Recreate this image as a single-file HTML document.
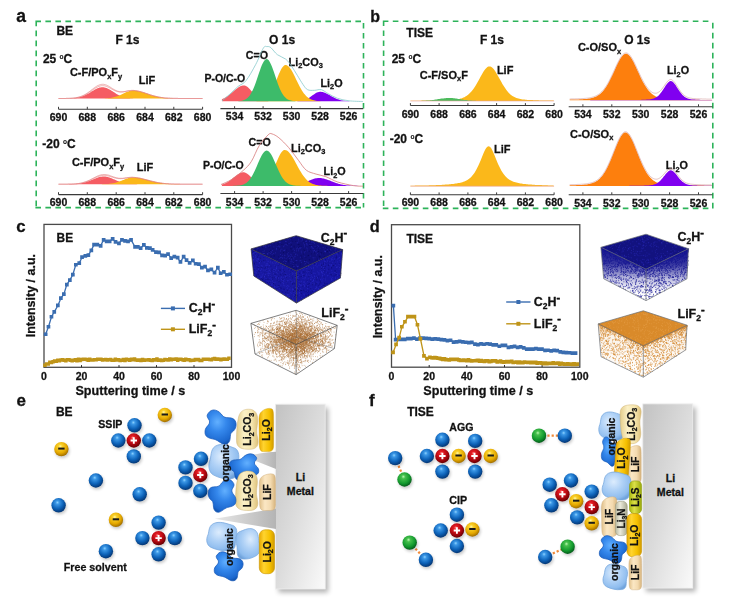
<!DOCTYPE html><html><head><meta charset="utf-8"><style>html,body{margin:0;padding:0;background:#fff;overflow:hidden;width:739px;height:603px;font-family:"Liberation Sans",sans-serif;}svg{display:block}</style></head><body>
<svg width="739" height="603" viewBox="0 0 739 603" font-family="&quot;Liberation Sans&quot;, sans-serif" font-weight="bold">
<style>text{stroke:#111;stroke-width:0.28px;paint-order:stroke}</style><g style="will-change:transform">
<defs>
<radialGradient id="gB" cx="0.42" cy="0.36" r="0.62" fx="0.42" fy="0.3"><stop offset="0" stop-color="#8cd2ff"/><stop offset="0.2" stop-color="#3b97e6"/><stop offset="0.65" stop-color="#0d62b8"/><stop offset="1" stop-color="#053a7a"/></radialGradient>
<radialGradient id="gR" cx="0.42" cy="0.36" r="0.62" fx="0.42" fy="0.3"><stop offset="0" stop-color="#ff8c8c"/><stop offset="0.2" stop-color="#e41c24"/><stop offset="0.65" stop-color="#b30810"/><stop offset="1" stop-color="#6e0004"/></radialGradient>
<radialGradient id="gY" cx="0.42" cy="0.36" r="0.62" fx="0.42" fy="0.3"><stop offset="0" stop-color="#fff6a8"/><stop offset="0.22" stop-color="#fbd22c"/><stop offset="0.7" stop-color="#e4a800"/><stop offset="1" stop-color="#a87400"/></radialGradient>
<radialGradient id="gG" cx="0.42" cy="0.36" r="0.62" fx="0.42" fy="0.3"><stop offset="0" stop-color="#b8f7b0"/><stop offset="0.22" stop-color="#46c04c"/><stop offset="0.7" stop-color="#139a2e"/><stop offset="1" stop-color="#06621c"/></radialGradient>
<linearGradient id="gMetal" x1="0" y1="0" x2="1" y2="1"><stop offset="0" stop-color="#c2c2c2"/><stop offset="0.5" stop-color="#dcdcdc"/><stop offset="1" stop-color="#fafafa"/></linearGradient><filter id="sh2" x="-30%" y="-10%" width="160%" height="120%"><feGaussianBlur stdDeviation="2.6"/></filter>
<filter id="sh" x="-20%" y="-20%" width="140%" height="140%"><feGaussianBlur stdDeviation="1.5"/></filter>
</defs>
<text x="16.3" y="21.8" font-size="17.5" text-anchor="start" fill="#111" ><tspan>a</tspan></text>
<text x="370.2" y="21.9" font-size="16" text-anchor="start" fill="#111" ><tspan>b</tspan></text>
<text x="16.3" y="232.2" font-size="16.8" text-anchor="start" fill="#111" ><tspan>c</tspan></text>
<text x="369.8" y="232.2" font-size="16.3" text-anchor="start" fill="#111" ><tspan>d</tspan></text>
<text x="16.4" y="406" font-size="17" text-anchor="start" fill="#111" ><tspan>e</tspan></text>
<text x="369" y="406.1" font-size="17" text-anchor="start" fill="#111" ><tspan>f</tspan></text>
<path d="M35.400000000000006,21.4 L363.5,21.4 M36.2,20.599999999999998 L36.2,207.6 M35.400000000000006,207.6 L363.5,207.6 M363.5,22.9 L363.5,207.6" fill="none" stroke="#2db35a" stroke-width="1.6" stroke-dasharray="5.6 4.4"/>
<path d="M382.8,21.3 L712.8,21.3 M383.6,20.5 L383.6,208.4 M382.8,208.4 L712.8,208.4 M712.8,22.8 L712.8,208.4" fill="none" stroke="#2db35a" stroke-width="1.6" stroke-dasharray="5.6 4.4"/>
<text x="56.4" y="34.6" font-size="12" text-anchor="start" fill="#111" ><tspan>BE</tspan></text>
<text x="115.4" y="44" font-size="12" text-anchor="start" fill="#111" ><tspan>F 1s</tspan></text>
<text x="269.1" y="44" font-size="12" text-anchor="start" fill="#111" ><tspan>O 1s</tspan></text>
<text x="42.9" y="63" font-size="12" text-anchor="start" fill="#111" ><tspan>25 </tspan><tspan dy="-3.60" font-size="6.60" style="stroke-width:0.1px">o</tspan><tspan dy="3.60">C</tspan></text>
<text x="69.9" y="76.2" font-size="11" text-anchor="start" fill="#111" ><tspan>C-F/PO</tspan><tspan dy="2.42" font-size="7.48">x</tspan><tspan dy="-2.42">F</tspan><tspan dy="2.42" font-size="7.48">y</tspan></text>
<text x="138.7" y="84.2" font-size="11" text-anchor="start" fill="#111" ><tspan>LiF</tspan></text>
<text x="204.4" y="82.2" font-size="10.5" text-anchor="start" fill="#111" ><tspan>P-O/C-O</tspan></text>
<text x="245.8" y="59.3" font-size="10.7" text-anchor="start" fill="#111" ><tspan>C=O</tspan></text>
<text x="288.5" y="65.5" font-size="10.9" text-anchor="start" fill="#111" ><tspan>Li</tspan><tspan dy="2.40" font-size="7.41">2</tspan><tspan dy="-2.40">CO</tspan><tspan dy="2.40" font-size="7.41">3</tspan></text>
<text x="320.5" y="87" font-size="10.8" text-anchor="start" fill="#111" ><tspan>Li</tspan><tspan dy="2.38" font-size="7.34">2</tspan><tspan dy="-2.38">O</tspan></text>
<text x="42.3" y="147.9" font-size="12" text-anchor="start" fill="#111" ><tspan>-20 </tspan><tspan dy="-3.60" font-size="6.60" style="stroke-width:0.1px">o</tspan><tspan dy="3.60">C</tspan></text>
<text x="71.9" y="166.4" font-size="11" text-anchor="start" fill="#111" ><tspan>C-F/PO</tspan><tspan dy="2.42" font-size="7.48">x</tspan><tspan dy="-2.42">F</tspan><tspan dy="2.42" font-size="7.48">y</tspan></text>
<text x="136.7" y="170.5" font-size="11" text-anchor="start" fill="#111" ><tspan>LiF</tspan></text>
<text x="202.9" y="168.8" font-size="10.5" text-anchor="start" fill="#111" ><tspan>P-O/C-O</tspan></text>
<text x="248.5" y="146" font-size="10.7" text-anchor="start" fill="#111" ><tspan>C=O</tspan></text>
<text x="291" y="152" font-size="10.9" text-anchor="start" fill="#111" ><tspan>Li</tspan><tspan dy="2.40" font-size="7.41">2</tspan><tspan dy="-2.40">CO</tspan><tspan dy="2.40" font-size="7.41">3</tspan></text>
<text x="323.6" y="175.2" font-size="10.8" text-anchor="start" fill="#111" ><tspan>Li</tspan><tspan dy="2.38" font-size="7.34">2</tspan><tspan dy="-2.38">O</tspan></text>
<path d="M58.5,98.5 L58.5,98.5 59.5,98.5 60.5,98.5 61.5,98.5 62.5,98.5 63.5,98.5 64.5,98.5 65.5,98.5 66.5,98.4 67.5,98.4 68.5,98.4 69.5,98.4 70.5,98.3 71.5,98.3 72.5,98.2 73.5,98.2 74.5,98.1 75.5,97.9 76.5,97.8 77.5,97.6 78.5,97.5 79.5,97.2 80.5,97.0 81.5,96.7 82.5,96.3 83.5,96.0 84.5,95.5 85.5,95.1 86.5,94.6 87.5,94.0 88.5,93.5 89.5,92.9 90.5,92.3 91.5,91.6 92.5,91.0 93.5,90.4 94.5,89.8 95.5,89.3 96.5,88.8 97.5,88.3 98.5,87.9 99.5,87.6 100.5,87.4 101.5,87.2 102.5,87.2 103.5,87.3 104.5,87.4 105.5,87.7 106.5,88.0 107.5,88.4 108.5,88.9 109.5,89.5 110.5,90.0 111.5,90.7 112.5,91.3 113.5,92.0 114.5,92.6 115.5,93.2 116.5,93.9 117.5,94.4 118.5,95.0 119.5,95.5 120.5,95.9 121.5,96.3 122.5,96.7 123.5,97.0 124.5,97.2 125.5,97.5 126.5,97.7 127.5,97.8 128.5,98.0 129.5,98.1 130.5,98.2 131.5,98.3 132.5,98.3 133.5,98.4 134.5,98.4 135.5,98.4 136.5,98.4 137.5,98.5 138.5,98.5 139.5,98.5 140.5,98.5 141.5,98.5 142.5,98.5 143.5,98.5 144.5,98.5 145.5,98.5 146.5,98.5 147.5,98.5 148.5,98.5 149.5,98.5 150.5,98.5 151.5,98.5 152.5,98.5 153.5,98.5 154.5,98.5 155.5,98.5 156.5,98.5 157.5,98.5 158.5,98.5 159.5,98.5 160.5,98.5 161.5,98.5 162.5,98.5 163.5,98.5 164.5,98.5 165.5,98.5 166.5,98.5 167.5,98.5 168.5,98.5 169.5,98.5 170.5,98.5 171.5,98.5 172.5,98.5 173.5,98.5 174.5,98.5 175.5,98.5 176.5,98.5 177.5,98.5 178.5,98.5 179.5,98.5 180.5,98.5 181.5,98.5 182.5,98.5 183.5,98.5 184.5,98.5 185.5,98.5 186.5,98.5 187.5,98.5 188.5,98.5 189.5,98.5 190.5,98.5 191.5,98.5 192.5,98.5 193.5,98.5 194.5,98.5 195.5,98.5 196.5,98.5 197.5,98.5 198.5,98.5 199.5,98.5 200.5,98.5 201.5,98.5 202.5,98.5 L202.6,98.5 Z" fill="#f55c63"/>
<path d="M58.5,98.5 L58.5,98.5 59.5,98.5 60.5,98.5 61.5,98.5 62.5,98.5 63.5,98.5 64.5,98.5 65.5,98.5 66.5,98.5 67.5,98.5 68.5,98.5 69.5,98.5 70.5,98.5 71.5,98.5 72.5,98.5 73.5,98.5 74.5,98.5 75.5,98.5 76.5,98.5 77.5,98.5 78.5,98.5 79.5,98.5 80.5,98.5 81.5,98.5 82.5,98.5 83.5,98.5 84.5,98.5 85.5,98.5 86.5,98.5 87.5,98.5 88.5,98.5 89.5,98.5 90.5,98.5 91.5,98.5 92.5,98.5 93.5,98.5 94.5,98.5 95.5,98.5 96.5,98.5 97.5,98.5 98.5,98.5 99.5,98.5 100.5,98.5 101.5,98.4 102.5,98.4 103.5,98.4 104.5,98.4 105.5,98.3 106.5,98.3 107.5,98.2 108.5,98.1 109.5,98.0 110.5,97.9 111.5,97.7 112.5,97.6 113.5,97.3 114.5,97.1 115.5,96.8 116.5,96.5 117.5,96.2 118.5,95.8 119.5,95.4 120.5,94.9 121.5,94.5 122.5,94.0 123.5,93.5 124.5,93.0 125.5,92.6 126.5,92.1 127.5,91.7 128.5,91.4 129.5,91.1 130.5,90.9 131.5,90.7 132.5,90.6 133.5,90.6 134.5,90.6 135.5,90.7 136.5,90.8 137.5,91.0 138.5,91.2 139.5,91.4 140.5,91.6 141.5,91.9 142.5,92.2 143.5,92.5 144.5,92.8 145.5,93.2 146.5,93.5 147.5,93.8 148.5,94.2 149.5,94.5 150.5,94.9 151.5,95.2 152.5,95.5 153.5,95.8 154.5,96.0 155.5,96.3 156.5,96.5 157.5,96.8 158.5,97.0 159.5,97.2 160.5,97.3 161.5,97.5 162.5,97.6 163.5,97.8 164.5,97.9 165.5,98.0 166.5,98.0 167.5,98.1 168.5,98.2 169.5,98.2 170.5,98.3 171.5,98.3 172.5,98.3 173.5,98.4 174.5,98.4 175.5,98.4 176.5,98.4 177.5,98.4 178.5,98.5 179.5,98.5 180.5,98.5 181.5,98.5 182.5,98.5 183.5,98.5 184.5,98.5 185.5,98.5 186.5,98.5 187.5,98.5 188.5,98.5 189.5,98.5 190.5,98.5 191.5,98.5 192.5,98.5 193.5,98.5 194.5,98.5 195.5,98.5 196.5,98.5 197.5,98.5 198.5,98.5 199.5,98.5 200.5,98.5 201.5,98.5 202.5,98.5 L202.6,98.5 Z" fill="#fbb81a"/>
<path d="M58.5,98.5 L59.5,98.5 60.5,98.5 61.5,98.5 62.5,98.5 63.5,98.5 64.5,98.5 65.5,98.5 66.5,98.4 67.5,98.4 68.5,98.4 69.5,98.3 70.5,98.3 71.5,98.2 72.5,98.2 73.5,98.1 74.5,97.9 75.5,97.8 76.5,97.6 77.5,97.4 78.5,97.2 79.5,96.9 80.5,96.6 81.5,96.2 82.5,95.8 83.5,95.3 84.5,94.8 85.5,94.2 86.5,93.6 87.5,92.9 88.5,92.2 89.5,91.5 90.5,90.7 91.5,89.9 92.5,89.2 93.5,88.4 94.5,87.7 95.5,87.0 96.5,86.3 97.5,85.7 98.5,85.3 99.5,84.9 100.5,84.6 101.5,84.4 102.5,84.3 103.5,84.3 104.5,84.5 105.5,84.8 106.5,85.1 107.5,85.6 108.5,86.1 109.5,86.7 110.5,87.3 111.5,88.0 112.5,88.6 113.5,89.2 114.5,89.7 115.5,90.3 116.5,90.7 117.5,91.1 118.5,91.4 119.5,91.6 120.5,91.7 121.5,91.7 122.5,91.7 123.5,91.6 124.5,91.5 125.5,91.3 126.5,91.1 127.5,90.9 128.5,90.7 129.5,90.6 130.5,90.5 131.5,90.4 132.5,90.4 133.5,90.4 134.5,90.5 135.5,90.6 136.5,90.8 137.5,90.9 138.5,91.1 139.5,91.4 140.5,91.6 141.5,91.9 142.5,92.2 143.5,92.5 144.5,92.8 145.5,93.2 146.5,93.5 147.5,93.8 148.5,94.2 149.5,94.5 150.5,94.9 151.5,95.2 152.5,95.5 153.5,95.8 154.5,96.0 155.5,96.3 156.5,96.5 157.5,96.8 158.5,97.0 159.5,97.2 160.5,97.3 161.5,97.5 162.5,97.6 163.5,97.8 164.5,97.9 165.5,98.0 166.5,98.0 167.5,98.1 168.5,98.2 169.5,98.2 170.5,98.3 171.5,98.3 172.5,98.3 173.5,98.4 174.5,98.4 175.5,98.4 176.5,98.4 177.5,98.4 178.5,98.5 179.5,98.5 180.5,98.5 181.5,98.5 182.5,98.5 183.5,98.5 184.5,98.5 185.5,98.5 186.5,98.5 187.5,98.5 188.5,98.5 189.5,98.5 190.5,98.5 191.5,98.5 192.5,98.5 193.5,98.5 194.5,98.5 195.5,98.5 196.5,98.5 197.5,98.5 198.5,98.5 199.5,98.5 200.5,98.5 201.5,98.5 202.5,98.5" fill="none" stroke="#e07a7a" stroke-width="0.6"/>
<path d="M58.5,98.5 L59.5,98.5 60.5,98.5 61.5,98.5 62.5,98.5 63.5,98.5 64.5,98.5 65.5,98.5 66.5,98.4 67.5,98.4 68.5,98.4 69.5,98.4 70.5,98.3 71.5,98.3 72.5,98.2 73.5,98.1 74.5,98.0 75.5,97.9 76.5,97.7 77.5,97.5 78.5,97.3 79.5,97.1 80.5,96.8 81.5,96.4 82.5,96.1 83.5,95.6 84.5,95.2 85.5,94.6 86.5,94.1 87.5,93.5 88.5,92.8 89.5,92.1 90.5,91.5 91.5,90.8 92.5,90.1 93.5,89.4 94.5,88.7 95.5,88.1 96.5,87.5 97.5,87.0 98.5,86.5 99.5,86.2 100.5,85.9 101.5,85.7 102.5,85.7 103.5,85.7 104.5,85.8 105.5,86.1 106.5,86.4 107.5,86.8 108.5,87.3 109.5,87.8 110.5,88.3 111.5,88.9 112.5,89.5 113.5,90.0 114.5,90.5 115.5,90.9 116.5,91.3 117.5,91.6 118.5,91.8 119.5,92.0 120.5,92.1 121.5,92.1 122.5,92.0 123.5,91.9 124.5,91.7 125.5,91.5 126.5,91.3 127.5,91.1 128.5,90.9 129.5,90.8 130.5,90.7 131.5,90.6 132.5,90.6 133.5,90.6 134.5,90.7 135.5,90.8 136.5,90.9 137.5,91.1 138.5,91.3 139.5,91.5 140.5,91.7 141.5,92.0 142.5,92.3 143.5,92.6 144.5,92.9 145.5,93.3 146.5,93.6 147.5,93.9 148.5,94.3 149.5,94.6 150.5,94.9 151.5,95.2 152.5,95.5 153.5,95.8 154.5,96.1 155.5,96.3 156.5,96.6 157.5,96.8 158.5,97.0 159.5,97.2 160.5,97.4 161.5,97.5 162.5,97.6 163.5,97.8 164.5,97.9 165.5,98.0 166.5,98.1 167.5,98.1 168.5,98.2 169.5,98.2 170.5,98.3 171.5,98.3 172.5,98.4 173.5,98.4 174.5,98.4 175.5,98.4 176.5,98.4 177.5,98.4 178.5,98.5 179.5,98.5 180.5,98.5 181.5,98.5 182.5,98.5 183.5,98.5 184.5,98.5 185.5,98.5 186.5,98.5 187.5,98.5 188.5,98.5 189.5,98.5 190.5,98.5 191.5,98.5 192.5,98.5 193.5,98.5 194.5,98.5 195.5,98.5 196.5,98.5 197.5,98.5 198.5,98.5 199.5,98.5 200.5,98.5 201.5,98.5 202.5,98.5" fill="none" stroke="#e07a7a" stroke-width="0.6"/>
<path d="M58.5,109.2 L202.6,109.2" stroke="#3a3a3a" stroke-width="1.1" fill="none"/>
<path d="M58.5,109.2 L58.5,106.8" stroke="#3a3a3a" stroke-width="1" fill="none"/>
<path d="M87.3,109.2 L87.3,106.8" stroke="#3a3a3a" stroke-width="1" fill="none"/>
<path d="M116.2,109.2 L116.2,106.8" stroke="#3a3a3a" stroke-width="1" fill="none"/>
<path d="M145.0,109.2 L145.0,106.8" stroke="#3a3a3a" stroke-width="1" fill="none"/>
<path d="M173.8,109.2 L173.8,106.8" stroke="#3a3a3a" stroke-width="1" fill="none"/>
<path d="M202.6,109.2 L202.6,106.8" stroke="#3a3a3a" stroke-width="1" fill="none"/>
<text x="58.5" y="120.5" font-size="10.5" text-anchor="middle" fill="#111" ><tspan>690</tspan></text>
<text x="87.3" y="120.5" font-size="10.5" text-anchor="middle" fill="#111" ><tspan>688</tspan></text>
<text x="116.2" y="120.5" font-size="10.5" text-anchor="middle" fill="#111" ><tspan>686</tspan></text>
<text x="145.0" y="120.5" font-size="10.5" text-anchor="middle" fill="#111" ><tspan>684</tspan></text>
<text x="173.8" y="120.5" font-size="10.5" text-anchor="middle" fill="#111" ><tspan>682</tspan></text>
<text x="202.6" y="120.5" font-size="10.5" text-anchor="middle" fill="#111" ><tspan>680</tspan></text>
<path d="M221.9,101.3 L221.9,99.2 222.9,98.8 223.9,98.3 224.9,97.8 225.9,97.2 226.9,96.6 227.9,95.9 228.9,95.1 229.9,94.4 230.9,93.5 231.9,92.7 232.9,91.8 233.9,90.9 234.9,90.1 235.9,89.3 236.9,88.5 237.9,87.8 238.9,87.1 239.9,86.6 240.9,86.1 241.9,85.8 242.9,85.6 243.9,85.5 244.9,85.6 245.9,85.9 246.9,86.5 247.9,87.3 248.9,88.2 249.9,89.3 250.9,90.4 251.9,91.6 252.9,92.8 253.9,94.0 254.9,95.1 255.9,96.1 256.9,97.0 257.9,97.8 258.9,98.5 259.9,99.1 260.9,99.6 261.9,100.0 262.9,100.3 263.9,100.6 264.9,100.8 265.9,100.9 266.9,101.0 267.9,101.1 268.9,101.2 269.9,101.2 270.9,101.2 271.9,101.3 272.9,101.3 273.9,101.3 274.9,101.3 275.9,101.3 276.9,101.3 277.9,101.3 278.9,101.3 279.9,101.3 280.9,101.3 281.9,101.3 282.9,101.3 283.9,101.3 284.9,101.3 285.9,101.3 286.9,101.3 287.9,101.3 288.9,101.3 289.9,101.3 290.9,101.3 291.9,101.3 292.9,101.3 293.9,101.3 294.9,101.3 295.9,101.3 296.9,101.3 297.9,101.3 298.9,101.3 299.9,101.3 300.9,101.3 301.9,101.3 302.9,101.3 303.9,101.3 304.9,101.3 305.9,101.3 306.9,101.3 307.9,101.3 308.9,101.3 309.9,101.3 310.9,101.3 311.9,101.3 312.9,101.3 313.9,101.3 314.9,101.3 315.9,101.3 316.9,101.3 317.9,101.3 318.9,101.3 319.9,101.3 320.9,101.3 321.9,101.3 322.9,101.3 323.9,101.3 324.9,101.3 325.9,101.3 326.9,101.3 327.9,101.3 328.9,101.3 329.9,101.3 330.9,101.3 331.9,101.3 332.9,101.3 333.9,101.3 334.9,101.3 335.9,101.3 336.9,101.3 337.9,101.3 338.9,101.3 339.9,101.3 340.9,101.3 341.9,101.3 342.9,101.3 343.9,101.3 344.9,101.3 345.9,101.3 346.9,101.3 347.9,101.3 348.9,101.3 349.9,101.3 350.9,101.3 351.9,101.3 352.9,101.3 353.9,101.3 354.9,101.3 355.9,101.3 356.9,101.3 357.9,101.3 358.9,101.3 359.9,101.3 360.9,101.3 361.9,101.3 362.9,101.3 L363.2,101.3 Z" fill="#f55c63"/>
<path d="M221.9,101.3 L221.9,101.3 222.9,101.3 223.9,101.3 224.9,101.3 225.9,101.3 226.9,101.3 227.9,101.3 228.9,101.3 229.9,101.3 230.9,101.3 231.9,101.3 232.9,101.3 233.9,101.3 234.9,101.3 235.9,101.3 236.9,101.3 237.9,101.3 238.9,101.3 239.9,101.3 240.9,101.3 241.9,101.3 242.9,101.3 243.9,101.3 244.9,101.3 245.9,101.3 246.9,101.3 247.9,101.3 248.9,101.3 249.9,101.3 250.9,101.3 251.9,101.3 252.9,101.3 253.9,101.3 254.9,101.3 255.9,101.3 256.9,101.3 257.9,101.3 258.9,101.3 259.9,101.3 260.9,101.3 261.9,101.3 262.9,101.3 263.9,101.3 264.9,101.3 265.9,101.3 266.9,101.3 267.9,101.3 268.9,101.3 269.9,101.3 270.9,101.3 271.9,101.3 272.9,101.3 273.9,101.3 274.9,101.3 275.9,101.3 276.9,101.3 277.9,101.3 278.9,101.3 279.9,101.3 280.9,101.3 281.9,101.3 282.9,101.3 283.9,101.3 284.9,101.3 285.9,101.3 286.9,101.3 287.9,101.3 288.9,101.3 289.9,101.3 290.9,101.3 291.9,101.3 292.9,101.3 293.9,101.3 294.9,101.2 295.9,101.2 296.9,101.2 297.9,101.1 298.9,101.0 299.9,100.9 300.9,100.8 301.9,100.6 302.9,100.4 303.9,100.1 304.9,99.8 305.9,99.4 306.9,99.0 307.9,98.4 308.9,97.9 309.9,97.2 310.9,96.5 311.9,95.8 312.9,95.1 313.9,94.4 314.9,93.7 315.9,93.1 316.9,92.6 317.9,92.2 318.9,91.9 319.9,91.8 320.9,91.8 321.9,91.9 322.9,92.1 323.9,92.4 324.9,92.8 325.9,93.2 326.9,93.7 327.9,94.2 328.9,94.7 329.9,95.3 330.9,95.9 331.9,96.5 332.9,97.0 333.9,97.5 334.9,98.0 335.9,98.5 336.9,98.9 337.9,99.3 338.9,99.6 339.9,99.9 340.9,100.2 341.9,100.4 342.9,100.6 343.9,100.7 344.9,100.8 345.9,100.9 346.9,101.0 347.9,101.1 348.9,101.1 349.9,101.2 350.9,101.2 351.9,101.2 352.9,101.3 353.9,101.3 354.9,101.3 355.9,101.3 356.9,101.3 357.9,101.3 358.9,101.3 359.9,101.3 360.9,101.3 361.9,101.3 362.9,101.3 L363.2,101.3 Z" fill="#8000f0"/>
<path d="M221.9,101.3 L221.9,101.3 222.9,101.3 223.9,101.3 224.9,101.3 225.9,101.3 226.9,101.3 227.9,101.3 228.9,101.3 229.9,101.3 230.9,101.3 231.9,101.3 232.9,101.3 233.9,101.3 234.9,101.3 235.9,101.3 236.9,101.3 237.9,101.3 238.9,101.3 239.9,101.3 240.9,101.3 241.9,101.3 242.9,101.3 243.9,101.3 244.9,101.3 245.9,101.3 246.9,101.3 247.9,101.3 248.9,101.3 249.9,101.3 250.9,101.3 251.9,101.3 252.9,101.3 253.9,101.2 254.9,101.2 255.9,101.2 256.9,101.1 257.9,101.0 258.9,100.9 259.9,100.8 260.9,100.6 261.9,100.3 262.9,100.0 263.9,99.6 264.9,99.0 265.9,98.3 266.9,97.5 267.9,96.5 268.9,95.3 269.9,93.9 270.9,92.3 271.9,90.5 272.9,88.5 273.9,86.3 274.9,84.0 275.9,81.5 276.9,79.0 277.9,76.5 278.9,74.1 279.9,71.9 280.9,69.8 281.9,68.1 282.9,66.7 283.9,65.7 284.9,65.1 285.9,65.0 286.9,65.3 287.9,65.9 288.9,66.7 289.9,67.9 290.9,69.3 291.9,71.0 292.9,72.8 293.9,74.7 294.9,76.8 295.9,78.9 296.9,81.0 297.9,83.0 298.9,85.0 299.9,86.9 300.9,88.7 301.9,90.4 302.9,92.0 303.9,93.4 304.9,94.6 305.9,95.7 306.9,96.7 307.9,97.5 308.9,98.2 309.9,98.8 310.9,99.3 311.9,99.7 312.9,100.1 313.9,100.3 314.9,100.6 315.9,100.7 316.9,100.9 317.9,101.0 318.9,101.1 319.9,101.1 320.9,101.2 321.9,101.2 322.9,101.2 323.9,101.3 324.9,101.3 325.9,101.3 326.9,101.3 327.9,101.3 328.9,101.3 329.9,101.3 330.9,101.3 331.9,101.3 332.9,101.3 333.9,101.3 334.9,101.3 335.9,101.3 336.9,101.3 337.9,101.3 338.9,101.3 339.9,101.3 340.9,101.3 341.9,101.3 342.9,101.3 343.9,101.3 344.9,101.3 345.9,101.3 346.9,101.3 347.9,101.3 348.9,101.3 349.9,101.3 350.9,101.3 351.9,101.3 352.9,101.3 353.9,101.3 354.9,101.3 355.9,101.3 356.9,101.3 357.9,101.3 358.9,101.3 359.9,101.3 360.9,101.3 361.9,101.3 362.9,101.3 L363.2,101.3 Z" fill="#fbb81a"/>
<path d="M221.9,101.3 L221.9,101.3 222.9,101.3 223.9,101.3 224.9,101.3 225.9,101.3 226.9,101.3 227.9,101.3 228.9,101.3 229.9,101.3 230.9,101.3 231.9,101.3 232.9,101.3 233.9,101.3 234.9,101.3 235.9,101.2 236.9,101.2 237.9,101.2 238.9,101.1 239.9,101.0 240.9,100.9 241.9,100.7 242.9,100.4 243.9,100.1 244.9,99.7 245.9,99.1 246.9,98.4 247.9,97.5 248.9,96.5 249.9,95.2 250.9,93.6 251.9,91.8 252.9,89.8 253.9,87.5 254.9,84.9 255.9,82.2 256.9,79.3 257.9,76.3 258.9,73.3 259.9,70.4 260.9,67.6 261.9,65.1 262.9,62.9 263.9,61.2 264.9,59.9 265.9,59.2 266.9,59.1 267.9,59.6 268.9,60.6 269.9,62.2 270.9,64.2 271.9,66.6 272.9,69.2 273.9,72.1 274.9,75.1 275.9,78.1 276.9,81.0 277.9,83.9 278.9,86.5 279.9,88.9 280.9,91.1 281.9,92.9 282.9,94.6 283.9,96.0 284.9,97.1 285.9,98.1 286.9,98.9 287.9,99.5 288.9,99.9 289.9,100.3 290.9,100.6 291.9,100.8 292.9,100.9 293.9,101.1 294.9,101.1 295.9,101.2 296.9,101.2 297.9,101.3 298.9,101.3 299.9,101.3 300.9,101.3 301.9,101.3 302.9,101.3 303.9,101.3 304.9,101.3 305.9,101.3 306.9,101.3 307.9,101.3 308.9,101.3 309.9,101.3 310.9,101.3 311.9,101.3 312.9,101.3 313.9,101.3 314.9,101.3 315.9,101.3 316.9,101.3 317.9,101.3 318.9,101.3 319.9,101.3 320.9,101.3 321.9,101.3 322.9,101.3 323.9,101.3 324.9,101.3 325.9,101.3 326.9,101.3 327.9,101.3 328.9,101.3 329.9,101.3 330.9,101.3 331.9,101.3 332.9,101.3 333.9,101.3 334.9,101.3 335.9,101.3 336.9,101.3 337.9,101.3 338.9,101.3 339.9,101.3 340.9,101.3 341.9,101.3 342.9,101.3 343.9,101.3 344.9,101.3 345.9,101.3 346.9,101.3 347.9,101.3 348.9,101.3 349.9,101.3 350.9,101.3 351.9,101.3 352.9,101.3 353.9,101.3 354.9,101.3 355.9,101.3 356.9,101.3 357.9,101.3 358.9,101.3 359.9,101.3 360.9,101.3 361.9,101.3 362.9,101.3 L363.2,101.3 Z" fill="#3dbb6a"/>
<path d="M222.0,100.8 C223.3,99.7 227.3,96.4 230.0,94.0 C232.7,91.6 235.3,88.7 238.0,86.5 C240.7,84.3 243.1,84.4 246.0,80.7 C248.9,77.0 252.8,69.9 255.7,64.5 C258.6,59.1 261.4,51.2 263.3,48.2 C265.2,45.2 265.7,46.7 267.0,46.6 C268.3,46.5 269.2,46.4 270.9,47.7 C272.6,49.1 274.9,52.8 277.4,54.7 C279.9,56.6 283.4,57.3 285.8,59.2 C288.2,61.1 289.6,63.4 291.5,66.1 C293.4,68.8 295.4,72.2 297.3,75.3 C299.2,78.4 301.3,82.1 303.0,84.5 C304.7,86.9 305.7,88.7 307.6,89.7 C309.5,90.7 312.2,90.3 314.5,90.3 C316.8,90.3 319.1,89.1 321.4,89.7 C323.7,90.3 325.6,92.3 328.3,93.7 C331.0,95.1 334.1,97.1 337.5,98.3 C340.9,99.5 344.8,100.3 349.0,100.8 C353.2,101.3 360.6,101.4 362.9,101.5" fill="none" stroke="#86c9cc" stroke-width="0.8"/>
<path d="M220.4,108.6 L363.2,108.6" stroke="#3a3a3a" stroke-width="1.1" fill="none"/>
<path d="M234.6,108.6 L234.6,106.19999999999999" stroke="#3a3a3a" stroke-width="1" fill="none"/>
<path d="M263.1,108.6 L263.1,106.19999999999999" stroke="#3a3a3a" stroke-width="1" fill="none"/>
<path d="M291.6,108.6 L291.6,106.19999999999999" stroke="#3a3a3a" stroke-width="1" fill="none"/>
<path d="M320.1,108.6 L320.1,106.19999999999999" stroke="#3a3a3a" stroke-width="1" fill="none"/>
<path d="M348.6,108.6 L348.6,106.19999999999999" stroke="#3a3a3a" stroke-width="1" fill="none"/>
<text x="234.6" y="120.3" font-size="10.5" text-anchor="middle" fill="#111" ><tspan>534</tspan></text>
<text x="263.1" y="120.3" font-size="10.5" text-anchor="middle" fill="#111" ><tspan>532</tspan></text>
<text x="291.6" y="120.3" font-size="10.5" text-anchor="middle" fill="#111" ><tspan>530</tspan></text>
<text x="320.1" y="120.3" font-size="10.5" text-anchor="middle" fill="#111" ><tspan>528</tspan></text>
<text x="348.6" y="120.3" font-size="10.5" text-anchor="middle" fill="#111" ><tspan>526</tspan></text>
<path d="M58.5,184.2 L58.5,184.2 59.5,184.2 60.5,184.2 61.5,184.2 62.5,184.2 63.5,184.2 64.5,184.2 65.5,184.2 66.5,184.2 67.5,184.2 68.5,184.2 69.5,184.1 70.5,184.1 71.5,184.1 72.5,184.1 73.5,184.0 74.5,184.0 75.5,183.9 76.5,183.8 77.5,183.8 78.5,183.7 79.5,183.5 80.5,183.4 81.5,183.2 82.5,183.0 83.5,182.8 84.5,182.5 85.5,182.3 86.5,182.0 87.5,181.6 88.5,181.3 89.5,180.9 90.5,180.5 91.5,180.1 92.5,179.7 93.5,179.2 94.5,178.8 95.5,178.4 96.5,178.0 97.5,177.7 98.5,177.3 99.5,177.1 100.5,176.8 101.5,176.7 102.5,176.6 103.5,176.5 104.5,176.5 105.5,176.6 106.5,176.8 107.5,177.0 108.5,177.2 109.5,177.6 110.5,177.9 111.5,178.3 112.5,178.7 113.5,179.2 114.5,179.6 115.5,180.1 116.5,180.5 117.5,180.9 118.5,181.3 119.5,181.7 120.5,182.0 121.5,182.3 122.5,182.6 123.5,182.9 124.5,183.1 125.5,183.3 126.5,183.5 127.5,183.6 128.5,183.7 129.5,183.8 130.5,183.9 131.5,184.0 132.5,184.0 133.5,184.1 134.5,184.1 135.5,184.1 136.5,184.1 137.5,184.2 138.5,184.2 139.5,184.2 140.5,184.2 141.5,184.2 142.5,184.2 143.5,184.2 144.5,184.2 145.5,184.2 146.5,184.2 147.5,184.2 148.5,184.2 149.5,184.2 150.5,184.2 151.5,184.2 152.5,184.2 153.5,184.2 154.5,184.2 155.5,184.2 156.5,184.2 157.5,184.2 158.5,184.2 159.5,184.2 160.5,184.2 161.5,184.2 162.5,184.2 163.5,184.2 164.5,184.2 165.5,184.2 166.5,184.2 167.5,184.2 168.5,184.2 169.5,184.2 170.5,184.2 171.5,184.2 172.5,184.2 173.5,184.2 174.5,184.2 175.5,184.2 176.5,184.2 177.5,184.2 178.5,184.2 179.5,184.2 180.5,184.2 181.5,184.2 182.5,184.2 183.5,184.2 184.5,184.2 185.5,184.2 186.5,184.2 187.5,184.2 188.5,184.2 189.5,184.2 190.5,184.2 191.5,184.2 192.5,184.2 193.5,184.2 194.5,184.2 195.5,184.2 196.5,184.2 197.5,184.2 198.5,184.2 199.5,184.2 200.5,184.2 201.5,184.2 202.5,184.2 L202.6,184.2 Z" fill="#f55c63"/>
<path d="M58.5,184.2 L58.5,184.2 59.5,184.2 60.5,184.2 61.5,184.2 62.5,184.2 63.5,184.2 64.5,184.2 65.5,184.2 66.5,184.2 67.5,184.2 68.5,184.2 69.5,184.2 70.5,184.2 71.5,184.2 72.5,184.2 73.5,184.2 74.5,184.2 75.5,184.2 76.5,184.2 77.5,184.2 78.5,184.2 79.5,184.2 80.5,184.2 81.5,184.2 82.5,184.2 83.5,184.2 84.5,184.2 85.5,184.2 86.5,184.2 87.5,184.2 88.5,184.2 89.5,184.2 90.5,184.2 91.5,184.2 92.5,184.2 93.5,184.2 94.5,184.2 95.5,184.2 96.5,184.2 97.5,184.2 98.5,184.2 99.5,184.2 100.5,184.2 101.5,184.2 102.5,184.1 103.5,184.1 104.5,184.1 105.5,184.0 106.5,184.0 107.5,183.9 108.5,183.9 109.5,183.8 110.5,183.6 111.5,183.5 112.5,183.3 113.5,183.2 114.5,182.9 115.5,182.7 116.5,182.4 117.5,182.1 118.5,181.8 119.5,181.4 120.5,181.1 121.5,180.7 122.5,180.3 123.5,179.9 124.5,179.5 125.5,179.1 126.5,178.7 127.5,178.4 128.5,178.1 129.5,177.9 130.5,177.7 131.5,177.6 132.5,177.5 133.5,177.5 134.5,177.5 135.5,177.6 136.5,177.7 137.5,177.8 138.5,178.0 139.5,178.1 140.5,178.3 141.5,178.5 142.5,178.8 143.5,179.0 144.5,179.3 145.5,179.5 146.5,179.8 147.5,180.1 148.5,180.3 149.5,180.6 150.5,180.9 151.5,181.1 152.5,181.4 153.5,181.6 154.5,181.8 155.5,182.1 156.5,182.3 157.5,182.5 158.5,182.7 159.5,182.8 160.5,183.0 161.5,183.1 162.5,183.3 163.5,183.4 164.5,183.5 165.5,183.6 166.5,183.7 167.5,183.7 168.5,183.8 169.5,183.9 170.5,183.9 171.5,184.0 172.5,184.0 173.5,184.0 174.5,184.1 175.5,184.1 176.5,184.1 177.5,184.1 178.5,184.1 179.5,184.1 180.5,184.2 181.5,184.2 182.5,184.2 183.5,184.2 184.5,184.2 185.5,184.2 186.5,184.2 187.5,184.2 188.5,184.2 189.5,184.2 190.5,184.2 191.5,184.2 192.5,184.2 193.5,184.2 194.5,184.2 195.5,184.2 196.5,184.2 197.5,184.2 198.5,184.2 199.5,184.2 200.5,184.2 201.5,184.2 202.5,184.2 L202.6,184.2 Z" fill="#fbb81a"/>
<path d="M58.5,184.2 L59.5,184.2 60.5,184.2 61.5,184.2 62.5,184.2 63.5,184.2 64.5,184.2 65.5,184.2 66.5,184.2 67.5,184.2 68.5,184.1 69.5,184.1 70.5,184.1 71.5,184.1 72.5,184.0 73.5,184.0 74.5,183.9 75.5,183.8 76.5,183.8 77.5,183.6 78.5,183.5 79.5,183.4 80.5,183.2 81.5,183.0 82.5,182.7 83.5,182.4 84.5,182.1 85.5,181.8 86.5,181.4 87.5,181.0 88.5,180.5 89.5,180.1 90.5,179.6 91.5,179.0 92.5,178.5 93.5,178.0 94.5,177.5 95.5,177.0 96.5,176.5 97.5,176.0 98.5,175.6 99.5,175.3 100.5,175.0 101.5,174.7 102.5,174.6 103.5,174.5 104.5,174.5 105.5,174.5 106.5,174.7 107.5,174.9 108.5,175.1 109.5,175.4 110.5,175.8 111.5,176.2 112.5,176.5 113.5,176.9 114.5,177.2 115.5,177.5 116.5,177.8 117.5,178.0 118.5,178.2 119.5,178.3 120.5,178.3 121.5,178.3 122.5,178.3 123.5,178.2 124.5,178.1 125.5,177.9 126.5,177.8 127.5,177.6 128.5,177.5 129.5,177.4 130.5,177.3 131.5,177.3 132.5,177.3 133.5,177.3 134.5,177.4 135.5,177.5 136.5,177.6 137.5,177.8 138.5,177.9 139.5,178.1 140.5,178.3 141.5,178.5 142.5,178.8 143.5,179.0 144.5,179.3 145.5,179.5 146.5,179.8 147.5,180.1 148.5,180.3 149.5,180.6 150.5,180.9 151.5,181.1 152.5,181.4 153.5,181.6 154.5,181.8 155.5,182.1 156.5,182.3 157.5,182.5 158.5,182.7 159.5,182.8 160.5,183.0 161.5,183.1 162.5,183.3 163.5,183.4 164.5,183.5 165.5,183.6 166.5,183.7 167.5,183.7 168.5,183.8 169.5,183.9 170.5,183.9 171.5,184.0 172.5,184.0 173.5,184.0 174.5,184.1 175.5,184.1 176.5,184.1 177.5,184.1 178.5,184.1 179.5,184.1 180.5,184.2 181.5,184.2 182.5,184.2 183.5,184.2 184.5,184.2 185.5,184.2 186.5,184.2 187.5,184.2 188.5,184.2 189.5,184.2 190.5,184.2 191.5,184.2 192.5,184.2 193.5,184.2 194.5,184.2 195.5,184.2 196.5,184.2 197.5,184.2 198.5,184.2 199.5,184.2 200.5,184.2 201.5,184.2 202.5,184.2" fill="none" stroke="#e07a7a" stroke-width="0.6"/>
<path d="M58.5,184.2 L59.5,184.2 60.5,184.2 61.5,184.2 62.5,184.2 63.5,184.2 64.5,184.2 65.5,184.2 66.5,184.2 67.5,184.2 68.5,184.1 69.5,184.1 70.5,184.1 71.5,184.1 72.5,184.0 73.5,184.0 74.5,183.9 75.5,183.9 76.5,183.8 77.5,183.7 78.5,183.6 79.5,183.4 80.5,183.3 81.5,183.1 82.5,182.9 83.5,182.6 84.5,182.3 85.5,182.0 86.5,181.7 87.5,181.3 88.5,180.9 89.5,180.5 90.5,180.0 91.5,179.5 92.5,179.1 93.5,178.6 94.5,178.1 95.5,177.6 96.5,177.2 97.5,176.8 98.5,176.4 99.5,176.1 100.5,175.8 101.5,175.6 102.5,175.5 103.5,175.4 104.5,175.4 105.5,175.5 106.5,175.6 107.5,175.8 108.5,176.0 109.5,176.3 110.5,176.6 111.5,176.9 112.5,177.2 113.5,177.5 114.5,177.8 115.5,178.1 116.5,178.3 117.5,178.4 118.5,178.6 119.5,178.6 120.5,178.7 121.5,178.6 122.5,178.6 123.5,178.4 124.5,178.3 125.5,178.1 126.5,178.0 127.5,177.8 128.5,177.7 129.5,177.5 130.5,177.5 131.5,177.4 132.5,177.4 133.5,177.5 134.5,177.6 135.5,177.6 136.5,177.8 137.5,177.9 138.5,178.1 139.5,178.2 140.5,178.4 141.5,178.6 142.5,178.9 143.5,179.1 144.5,179.4 145.5,179.6 146.5,179.9 147.5,180.1 148.5,180.4 149.5,180.7 150.5,180.9 151.5,181.2 152.5,181.4 153.5,181.7 154.5,181.9 155.5,182.1 156.5,182.3 157.5,182.5 158.5,182.7 159.5,182.9 160.5,183.0 161.5,183.1 162.5,183.3 163.5,183.4 164.5,183.5 165.5,183.6 166.5,183.7 167.5,183.7 168.5,183.8 169.5,183.9 170.5,183.9 171.5,184.0 172.5,184.0 173.5,184.0 174.5,184.1 175.5,184.1 176.5,184.1 177.5,184.1 178.5,184.1 179.5,184.1 180.5,184.2 181.5,184.2 182.5,184.2 183.5,184.2 184.5,184.2 185.5,184.2 186.5,184.2 187.5,184.2 188.5,184.2 189.5,184.2 190.5,184.2 191.5,184.2 192.5,184.2 193.5,184.2 194.5,184.2 195.5,184.2 196.5,184.2 197.5,184.2 198.5,184.2 199.5,184.2 200.5,184.2 201.5,184.2 202.5,184.2" fill="none" stroke="#e07a7a" stroke-width="0.6"/>
<path d="M58.5,194.6 L202.6,194.6" stroke="#3a3a3a" stroke-width="1.1" fill="none"/>
<path d="M58.5,194.6 L58.5,192.2" stroke="#3a3a3a" stroke-width="1" fill="none"/>
<path d="M87.3,194.6 L87.3,192.2" stroke="#3a3a3a" stroke-width="1" fill="none"/>
<path d="M116.2,194.6 L116.2,192.2" stroke="#3a3a3a" stroke-width="1" fill="none"/>
<path d="M145.0,194.6 L145.0,192.2" stroke="#3a3a3a" stroke-width="1" fill="none"/>
<path d="M173.8,194.6 L173.8,192.2" stroke="#3a3a3a" stroke-width="1" fill="none"/>
<path d="M202.6,194.6 L202.6,192.2" stroke="#3a3a3a" stroke-width="1" fill="none"/>
<text x="58.5" y="205.6" font-size="10.5" text-anchor="middle" fill="#111" ><tspan>690</tspan></text>
<text x="87.3" y="205.6" font-size="10.5" text-anchor="middle" fill="#111" ><tspan>688</tspan></text>
<text x="116.2" y="205.6" font-size="10.5" text-anchor="middle" fill="#111" ><tspan>686</tspan></text>
<text x="145.0" y="205.6" font-size="10.5" text-anchor="middle" fill="#111" ><tspan>684</tspan></text>
<text x="173.8" y="205.6" font-size="10.5" text-anchor="middle" fill="#111" ><tspan>682</tspan></text>
<text x="202.6" y="205.6" font-size="10.5" text-anchor="middle" fill="#111" ><tspan>680</tspan></text>
<path d="M221.9,185.9 L221.9,184.6 222.9,184.3 223.9,183.9 224.9,183.5 225.9,183.0 226.9,182.5 227.9,181.9 228.9,181.2 229.9,180.5 230.9,179.8 231.9,179.0 232.9,178.1 233.9,177.3 234.9,176.5 235.9,175.7 236.9,175.0 237.9,174.3 238.9,173.7 239.9,173.2 240.9,172.8 241.9,172.5 242.9,172.3 243.9,172.3 244.9,172.5 245.9,172.9 246.9,173.5 247.9,174.2 248.9,175.1 249.9,176.0 250.9,177.0 251.9,178.1 252.9,179.1 253.9,180.1 254.9,181.0 255.9,181.8 256.9,182.6 257.9,183.2 258.9,183.8 259.9,184.2 260.9,184.6 261.9,184.9 262.9,185.2 263.9,185.4 264.9,185.5 265.9,185.6 266.9,185.7 267.9,185.8 268.9,185.8 269.9,185.8 270.9,185.9 271.9,185.9 272.9,185.9 273.9,185.9 274.9,185.9 275.9,185.9 276.9,185.9 277.9,185.9 278.9,185.9 279.9,185.9 280.9,185.9 281.9,185.9 282.9,185.9 283.9,185.9 284.9,185.9 285.9,185.9 286.9,185.9 287.9,185.9 288.9,185.9 289.9,185.9 290.9,185.9 291.9,185.9 292.9,185.9 293.9,185.9 294.9,185.9 295.9,185.9 296.9,185.9 297.9,185.9 298.9,185.9 299.9,185.9 300.9,185.9 301.9,185.9 302.9,185.9 303.9,185.9 304.9,185.9 305.9,185.9 306.9,185.9 307.9,185.9 308.9,185.9 309.9,185.9 310.9,185.9 311.9,185.9 312.9,185.9 313.9,185.9 314.9,185.9 315.9,185.9 316.9,185.9 317.9,185.9 318.9,185.9 319.9,185.9 320.9,185.9 321.9,185.9 322.9,185.9 323.9,185.9 324.9,185.9 325.9,185.9 326.9,185.9 327.9,185.9 328.9,185.9 329.9,185.9 330.9,185.9 331.9,185.9 332.9,185.9 333.9,185.9 334.9,185.9 335.9,185.9 336.9,185.9 337.9,185.9 338.9,185.9 339.9,185.9 340.9,185.9 341.9,185.9 342.9,185.9 343.9,185.9 344.9,185.9 345.9,185.9 346.9,185.9 347.9,185.9 348.9,185.9 349.9,185.9 350.9,185.9 351.9,185.9 352.9,185.9 353.9,185.9 354.9,185.9 355.9,185.9 356.9,185.9 357.9,185.9 358.9,185.9 359.9,185.9 360.9,185.9 361.9,185.9 362.9,185.9 L363.2,185.9 Z" fill="#f55c63"/>
<path d="M221.9,185.9 L221.9,185.9 222.9,185.9 223.9,185.9 224.9,185.9 225.9,185.9 226.9,185.9 227.9,185.9 228.9,185.9 229.9,185.9 230.9,185.9 231.9,185.9 232.9,185.9 233.9,185.9 234.9,185.9 235.9,185.9 236.9,185.9 237.9,185.9 238.9,185.9 239.9,185.9 240.9,185.9 241.9,185.9 242.9,185.9 243.9,185.9 244.9,185.9 245.9,185.9 246.9,185.9 247.9,185.9 248.9,185.9 249.9,185.9 250.9,185.9 251.9,185.9 252.9,185.9 253.9,185.9 254.9,185.9 255.9,185.9 256.9,185.9 257.9,185.9 258.9,185.9 259.9,185.9 260.9,185.9 261.9,185.9 262.9,185.9 263.9,185.9 264.9,185.9 265.9,185.9 266.9,185.9 267.9,185.9 268.9,185.9 269.9,185.9 270.9,185.9 271.9,185.9 272.9,185.9 273.9,185.9 274.9,185.9 275.9,185.9 276.9,185.9 277.9,185.9 278.9,185.9 279.9,185.9 280.9,185.9 281.9,185.9 282.9,185.9 283.9,185.9 284.9,185.8 285.9,185.8 286.9,185.8 287.9,185.8 288.9,185.7 289.9,185.7 290.9,185.6 291.9,185.5 292.9,185.4 293.9,185.3 294.9,185.2 295.9,185.0 296.9,184.9 297.9,184.7 298.9,184.4 299.9,184.2 300.9,183.9 301.9,183.6 302.9,183.2 303.9,182.9 304.9,182.5 305.9,182.1 306.9,181.6 307.9,181.2 308.9,180.8 309.9,180.3 310.9,179.9 311.9,179.5 312.9,179.2 313.9,178.8 314.9,178.6 315.9,178.3 316.9,178.2 317.9,178.0 318.9,178.0 319.9,178.0 320.9,178.1 321.9,178.2 322.9,178.4 323.9,178.6 324.9,178.9 325.9,179.2 326.9,179.5 327.9,179.9 328.9,180.2 329.9,180.6 330.9,181.0 331.9,181.4 332.9,181.8 333.9,182.2 334.9,182.6 335.9,182.9 336.9,183.3 337.9,183.6 338.9,183.9 339.9,184.1 340.9,184.4 341.9,184.6 342.9,184.8 343.9,185.0 344.9,185.1 345.9,185.2 346.9,185.4 347.9,185.5 348.9,185.5 349.9,185.6 350.9,185.7 351.9,185.7 352.9,185.8 353.9,185.8 354.9,185.8 355.9,185.8 356.9,185.8 357.9,185.9 358.9,185.9 359.9,185.9 360.9,185.9 361.9,185.9 362.9,185.9 L363.2,185.9 Z" fill="#8000f0"/>
<path d="M221.9,185.9 L221.9,185.9 222.9,185.9 223.9,185.9 224.9,185.9 225.9,185.9 226.9,185.9 227.9,185.9 228.9,185.9 229.9,185.9 230.9,185.9 231.9,185.9 232.9,185.9 233.9,185.9 234.9,185.9 235.9,185.9 236.9,185.9 237.9,185.9 238.9,185.9 239.9,185.9 240.9,185.9 241.9,185.9 242.9,185.9 243.9,185.9 244.9,185.9 245.9,185.9 246.9,185.9 247.9,185.9 248.9,185.9 249.9,185.9 250.9,185.9 251.9,185.9 252.9,185.8 253.9,185.8 254.9,185.8 255.9,185.7 256.9,185.6 257.9,185.5 258.9,185.3 259.9,185.1 260.9,184.8 261.9,184.4 262.9,184.0 263.9,183.4 264.9,182.7 265.9,181.8 266.9,180.8 267.9,179.6 268.9,178.2 269.9,176.6 270.9,174.8 271.9,172.8 272.9,170.7 273.9,168.4 274.9,166.1 275.9,163.6 276.9,161.2 277.9,158.9 278.9,156.7 279.9,154.8 280.9,153.1 281.9,151.7 282.9,150.7 283.9,150.1 284.9,150.0 285.9,150.2 286.9,150.6 287.9,151.3 288.9,152.2 289.9,153.4 290.9,154.7 291.9,156.2 292.9,157.8 293.9,159.5 294.9,161.3 295.9,163.2 296.9,165.1 297.9,166.9 298.9,168.7 299.9,170.5 300.9,172.1 301.9,173.7 302.9,175.2 303.9,176.6 304.9,177.8 305.9,178.9 306.9,180.0 307.9,180.9 308.9,181.7 309.9,182.4 310.9,183.0 311.9,183.5 312.9,183.9 313.9,184.3 314.9,184.6 315.9,184.9 316.9,185.1 317.9,185.3 318.9,185.4 319.9,185.5 320.9,185.6 321.9,185.7 322.9,185.7 323.9,185.8 324.9,185.8 325.9,185.8 326.9,185.8 327.9,185.9 328.9,185.9 329.9,185.9 330.9,185.9 331.9,185.9 332.9,185.9 333.9,185.9 334.9,185.9 335.9,185.9 336.9,185.9 337.9,185.9 338.9,185.9 339.9,185.9 340.9,185.9 341.9,185.9 342.9,185.9 343.9,185.9 344.9,185.9 345.9,185.9 346.9,185.9 347.9,185.9 348.9,185.9 349.9,185.9 350.9,185.9 351.9,185.9 352.9,185.9 353.9,185.9 354.9,185.9 355.9,185.9 356.9,185.9 357.9,185.9 358.9,185.9 359.9,185.9 360.9,185.9 361.9,185.9 362.9,185.9 L363.2,185.9 Z" fill="#fbb81a"/>
<path d="M221.9,185.9 L221.9,185.9 222.9,185.9 223.9,185.9 224.9,185.9 225.9,185.9 226.9,185.9 227.9,185.9 228.9,185.9 229.9,185.9 230.9,185.9 231.9,185.9 232.9,185.9 233.9,185.8 234.9,185.8 235.9,185.8 236.9,185.7 237.9,185.6 238.9,185.5 239.9,185.4 240.9,185.2 241.9,185.0 242.9,184.7 243.9,184.3 244.9,183.8 245.9,183.2 246.9,182.4 247.9,181.5 248.9,180.5 249.9,179.2 250.9,177.8 251.9,176.2 252.9,174.4 253.9,172.5 254.9,170.4 255.9,168.2 256.9,165.9 257.9,163.6 258.9,161.3 259.9,159.0 260.9,157.0 261.9,155.1 262.9,153.5 263.9,152.2 264.9,151.3 265.9,150.7 266.9,150.6 267.9,150.9 268.9,151.6 269.9,152.7 270.9,154.1 271.9,155.8 272.9,157.8 273.9,159.9 274.9,162.2 275.9,164.5 276.9,166.8 277.9,169.1 278.9,171.2 279.9,173.3 280.9,175.2 281.9,176.9 282.9,178.4 283.9,179.8 284.9,180.9 285.9,181.9 286.9,182.7 287.9,183.4 288.9,184.0 289.9,184.4 290.9,184.8 291.9,185.1 292.9,185.3 293.9,185.5 294.9,185.6 295.9,185.7 296.9,185.7 297.9,185.8 298.9,185.8 299.9,185.8 300.9,185.9 301.9,185.9 302.9,185.9 303.9,185.9 304.9,185.9 305.9,185.9 306.9,185.9 307.9,185.9 308.9,185.9 309.9,185.9 310.9,185.9 311.9,185.9 312.9,185.9 313.9,185.9 314.9,185.9 315.9,185.9 316.9,185.9 317.9,185.9 318.9,185.9 319.9,185.9 320.9,185.9 321.9,185.9 322.9,185.9 323.9,185.9 324.9,185.9 325.9,185.9 326.9,185.9 327.9,185.9 328.9,185.9 329.9,185.9 330.9,185.9 331.9,185.9 332.9,185.9 333.9,185.9 334.9,185.9 335.9,185.9 336.9,185.9 337.9,185.9 338.9,185.9 339.9,185.9 340.9,185.9 341.9,185.9 342.9,185.9 343.9,185.9 344.9,185.9 345.9,185.9 346.9,185.9 347.9,185.9 348.9,185.9 349.9,185.9 350.9,185.9 351.9,185.9 352.9,185.9 353.9,185.9 354.9,185.9 355.9,185.9 356.9,185.9 357.9,185.9 358.9,185.9 359.9,185.9 360.9,185.9 361.9,185.9 362.9,185.9 L363.2,185.9 Z" fill="#3dbb6a"/>
<path d="M221.0,184.5 C222.8,183.7 228.1,181.8 231.8,179.4 C235.6,177.0 240.2,173.2 243.5,170.2 C246.8,167.2 248.8,165.5 251.4,161.4 C254.0,157.3 256.4,150.1 259.2,145.7 C262.0,141.3 266.0,136.9 268.1,134.9 C270.2,132.9 270.2,133.4 272.0,133.9 C273.8,134.4 276.1,135.5 278.9,137.8 C281.7,140.1 285.4,143.8 288.7,147.6 C292.0,151.4 295.6,156.6 298.5,160.4 C301.4,164.2 303.4,167.9 306.3,170.2 C309.2,172.5 312.8,173.0 316.1,174.1 C319.4,175.2 322.3,175.4 325.9,176.7 C329.5,178.0 333.1,180.5 337.7,182.0 C342.3,183.5 349.2,184.9 353.4,185.6 C357.6,186.3 361.4,186.1 363.0,186.2" fill="none" stroke="#d77a7a" stroke-width="0.8"/>
<path d="M220.4,193.5 L363.2,193.5" stroke="#3a3a3a" stroke-width="1.1" fill="none"/>
<path d="M234.6,193.5 L234.6,191.1" stroke="#3a3a3a" stroke-width="1" fill="none"/>
<path d="M263.1,193.5 L263.1,191.1" stroke="#3a3a3a" stroke-width="1" fill="none"/>
<path d="M291.6,193.5 L291.6,191.1" stroke="#3a3a3a" stroke-width="1" fill="none"/>
<path d="M320.1,193.5 L320.1,191.1" stroke="#3a3a3a" stroke-width="1" fill="none"/>
<path d="M348.6,193.5 L348.6,191.1" stroke="#3a3a3a" stroke-width="1" fill="none"/>
<text x="234.6" y="205.5" font-size="10.5" text-anchor="middle" fill="#111" ><tspan>534</tspan></text>
<text x="263.1" y="205.5" font-size="10.5" text-anchor="middle" fill="#111" ><tspan>532</tspan></text>
<text x="291.6" y="205.5" font-size="10.5" text-anchor="middle" fill="#111" ><tspan>530</tspan></text>
<text x="320.1" y="205.5" font-size="10.5" text-anchor="middle" fill="#111" ><tspan>528</tspan></text>
<text x="348.6" y="205.5" font-size="10.5" text-anchor="middle" fill="#111" ><tspan>526</tspan></text>
<text x="406.3" y="37" font-size="12" text-anchor="start" fill="#111" ><tspan>TISE</tspan></text>
<text x="479.9" y="44.4" font-size="12" text-anchor="start" fill="#111" ><tspan>F 1s</tspan></text>
<text x="624.2" y="43.7" font-size="12" text-anchor="start" fill="#111" ><tspan>O 1s</tspan></text>
<text x="391.7" y="62.6" font-size="12" text-anchor="start" fill="#111" ><tspan>25 </tspan><tspan dy="-3.60" font-size="6.60" style="stroke-width:0.1px">o</tspan><tspan dy="3.60">C</tspan></text>
<text x="419.7" y="78.5" font-size="11" text-anchor="start" fill="#111" ><tspan>C-F/SO</tspan><tspan dy="2.42" font-size="7.48">x</tspan><tspan dy="-2.42">F</tspan></text>
<text x="496.9" y="73.6" font-size="11" text-anchor="start" fill="#111" ><tspan>LiF</tspan></text>
<text x="577.9" y="51.1" font-size="11" text-anchor="start" fill="#111" ><tspan>C-O/SO</tspan><tspan dy="2.42" font-size="7.48">x</tspan></text>
<text x="667" y="74.3" font-size="10.8" text-anchor="start" fill="#111" ><tspan>Li</tspan><tspan dy="2.38" font-size="7.34">2</tspan><tspan dy="-2.38">O</tspan></text>
<text x="389.7" y="142.9" font-size="12" text-anchor="start" fill="#111" ><tspan>-20 </tspan><tspan dy="-3.60" font-size="6.60" style="stroke-width:0.1px">o</tspan><tspan dy="3.60">C</tspan></text>
<text x="494" y="152.6" font-size="11" text-anchor="start" fill="#111" ><tspan>LiF</tspan></text>
<text x="570" y="137.9" font-size="11" text-anchor="start" fill="#111" ><tspan>C-O/SO</tspan><tspan dy="2.42" font-size="7.48">x</tspan></text>
<text x="665.8" y="169.3" font-size="10.8" text-anchor="start" fill="#111" ><tspan>Li</tspan><tspan dy="2.38" font-size="7.34">2</tspan><tspan dy="-2.38">O</tspan></text>
<path d="M410.4,101.0 L410.4,100.7 411.4,100.7 412.4,100.7 413.4,100.7 414.4,100.7 415.4,100.7 416.4,100.7 417.4,100.7 418.4,100.7 419.4,100.7 420.4,100.7 421.4,100.6 422.4,100.6 423.4,100.6 424.4,100.6 425.4,100.6 426.4,100.6 427.4,100.6 428.4,100.6 429.4,100.5 430.4,100.5 431.4,100.5 432.4,100.5 433.4,100.5 434.4,100.5 435.4,100.4 436.4,100.4 437.4,100.4 438.4,100.4 439.4,100.4 440.4,100.3 441.4,100.3 442.4,100.3 443.4,100.3 444.4,100.2 445.4,100.2 446.4,100.1 447.4,100.1 448.4,100.1 449.4,100.0 450.4,100.0 451.4,99.9 452.4,99.8 453.4,99.7 454.4,99.6 455.4,99.5 456.4,99.4 457.4,99.3 458.4,99.1 459.4,98.9 460.4,98.6 461.4,98.4 462.4,98.0 463.4,97.6 464.4,97.2 465.4,96.6 466.4,96.0 467.4,95.3 468.4,94.5 469.4,93.6 470.4,92.6 471.4,91.5 472.4,90.2 473.4,88.9 474.4,87.4 475.4,85.9 476.4,84.2 477.4,82.5 478.4,80.7 479.4,78.9 480.4,77.0 481.4,75.2 482.4,73.5 483.4,71.8 484.4,70.3 485.4,69.0 486.4,67.9 487.4,67.1 488.4,66.6 489.4,66.4 490.4,66.5 491.4,67.0 492.4,67.8 493.4,68.8 494.4,70.1 495.4,71.5 496.4,73.2 497.4,74.9 498.4,76.7 499.4,78.5 500.4,80.3 501.4,82.1 502.4,83.9 503.4,85.5 504.4,87.1 505.4,88.6 506.4,90.0 507.4,91.2 508.4,92.4 509.4,93.4 510.4,94.4 511.4,95.2 512.4,95.9 513.4,96.5 514.4,97.1 515.4,97.5 516.4,97.9 517.4,98.3 518.4,98.6 519.4,98.8 520.4,99.1 521.4,99.2 522.4,99.4 523.4,99.5 524.4,99.6 525.4,99.7 526.4,99.8 527.4,99.9 528.4,99.9 529.4,100.0 530.4,100.1 531.4,100.1 532.4,100.1 533.4,100.2 534.4,100.2 535.4,100.2 536.4,100.3 537.4,100.3 538.4,100.3 539.4,100.4 540.4,100.4 541.4,100.4 542.4,100.4 543.4,100.4 544.4,100.5 545.4,100.5 546.4,100.5 547.4,100.5 548.4,100.5 549.4,100.5 550.4,100.6 551.4,100.6 552.4,100.6 553.4,100.6 L554.1,101.0 Z" fill="#fbb81a"/>
<path d="M410.4,101.0 L410.4,101.0 411.4,101.0 412.4,101.0 413.4,101.0 414.4,101.0 415.4,101.0 416.4,101.0 417.4,101.0 418.4,100.9 419.4,100.9 420.4,100.9 421.4,100.9 422.4,100.8 423.4,100.8 424.4,100.8 425.4,100.7 426.4,100.6 427.4,100.6 428.4,100.5 429.4,100.4 430.4,100.3 431.4,100.2 432.4,100.0 433.4,99.9 434.4,99.8 435.4,99.6 436.4,99.4 437.4,99.3 438.4,99.1 439.4,99.0 440.4,98.8 441.4,98.6 442.4,98.5 443.4,98.4 444.4,98.3 445.4,98.2 446.4,98.1 447.4,98.0 448.4,98.0 449.4,98.0 450.4,98.0 451.4,98.1 452.4,98.1 453.4,98.2 454.4,98.3 455.4,98.5 456.4,98.6 457.4,98.8 458.4,98.9 459.4,99.1 460.4,99.2 461.4,99.4 462.4,99.6 463.4,99.7 464.4,99.9 465.4,100.0 466.4,100.1 467.4,100.3 468.4,100.4 469.4,100.5 470.4,100.5 471.4,100.6 472.4,100.7 473.4,100.7 474.4,100.8 475.4,100.8 476.4,100.9 477.4,100.9 478.4,100.9 479.4,100.9 480.4,100.9 481.4,101.0 482.4,101.0 483.4,101.0 484.4,101.0 485.4,101.0 486.4,101.0 487.4,101.0 488.4,101.0 489.4,101.0 490.4,101.0 491.4,101.0 492.4,101.0 493.4,101.0 494.4,101.0 495.4,101.0 496.4,101.0 497.4,101.0 498.4,101.0 499.4,101.0 500.4,101.0 501.4,101.0 502.4,101.0 503.4,101.0 504.4,101.0 505.4,101.0 506.4,101.0 507.4,101.0 508.4,101.0 509.4,101.0 510.4,101.0 511.4,101.0 512.4,101.0 513.4,101.0 514.4,101.0 515.4,101.0 516.4,101.0 517.4,101.0 518.4,101.0 519.4,101.0 520.4,101.0 521.4,101.0 522.4,101.0 523.4,101.0 524.4,101.0 525.4,101.0 526.4,101.0 527.4,101.0 528.4,101.0 529.4,101.0 530.4,101.0 531.4,101.0 532.4,101.0 533.4,101.0 534.4,101.0 535.4,101.0 536.4,101.0 537.4,101.0 538.4,101.0 539.4,101.0 540.4,101.0 541.4,101.0 542.4,101.0 543.4,101.0 544.4,101.0 545.4,101.0 546.4,101.0 547.4,101.0 548.4,101.0 549.4,101.0 550.4,101.0 551.4,101.0 552.4,101.0 553.4,101.0 L554.1,101.0 Z" fill="#4cbb5c"/>
<path d="M410.4,101 L554.1,101" stroke="#e8a0a0" stroke-width="0.6"/>
<path d="M410.4,105.5 L554.1,105.5" stroke="#3a3a3a" stroke-width="1.1" fill="none"/>
<path d="M410.4,105.5 L410.4,103.1" stroke="#3a3a3a" stroke-width="1" fill="none"/>
<path d="M439.1,105.5 L439.1,103.1" stroke="#3a3a3a" stroke-width="1" fill="none"/>
<path d="M467.9,105.5 L467.9,103.1" stroke="#3a3a3a" stroke-width="1" fill="none"/>
<path d="M496.6,105.5 L496.6,103.1" stroke="#3a3a3a" stroke-width="1" fill="none"/>
<path d="M525.4,105.5 L525.4,103.1" stroke="#3a3a3a" stroke-width="1" fill="none"/>
<path d="M554.1,105.5 L554.1,103.1" stroke="#3a3a3a" stroke-width="1" fill="none"/>
<text x="410.4" y="117.5" font-size="10.5" text-anchor="middle" fill="#111" ><tspan>690</tspan></text>
<text x="439.1" y="117.5" font-size="10.5" text-anchor="middle" fill="#111" ><tspan>688</tspan></text>
<text x="467.9" y="117.5" font-size="10.5" text-anchor="middle" fill="#111" ><tspan>686</tspan></text>
<text x="496.6" y="117.5" font-size="10.5" text-anchor="middle" fill="#111" ><tspan>684</tspan></text>
<text x="525.4" y="117.5" font-size="10.5" text-anchor="middle" fill="#111" ><tspan>682</tspan></text>
<text x="554.1" y="117.5" font-size="10.5" text-anchor="middle" fill="#111" ><tspan>680</tspan></text>
<path d="M569.7,100.2 L569.7,99.6 570.7,99.6 571.7,99.6 572.7,99.6 573.7,99.5 574.7,99.5 575.7,99.5 576.7,99.4 577.7,99.4 578.7,99.4 579.7,99.3 580.7,99.3 581.7,99.2 582.7,99.2 583.7,99.1 584.7,99.0 585.7,99.0 586.7,98.9 587.7,98.7 588.7,98.6 589.7,98.4 590.7,98.2 591.7,98.0 592.7,97.8 593.7,97.4 594.7,97.1 595.7,96.7 596.7,96.2 597.7,95.6 598.7,95.0 599.7,94.2 600.7,93.4 601.7,92.4 602.7,91.4 603.7,90.2 604.7,88.9 605.7,87.5 606.7,85.9 607.7,84.3 608.7,82.5 609.7,80.6 610.7,78.6 611.7,76.5 612.7,74.4 613.7,72.2 614.7,70.0 615.7,67.8 616.7,65.6 617.7,63.6 618.7,61.6 619.7,59.7 620.7,58.1 621.7,56.7 622.7,55.5 623.7,54.6 624.7,54.0 625.7,53.7 626.7,53.8 627.7,54.2 628.7,54.9 629.7,55.9 630.7,57.2 631.7,58.7 632.7,60.5 633.7,62.3 634.7,64.4 635.7,66.5 636.7,68.7 637.7,70.9 638.7,73.1 639.7,75.2 640.7,77.4 641.7,79.4 642.7,81.4 643.7,83.2 644.7,85.0 645.7,86.6 646.7,88.1 647.7,89.5 648.7,90.7 649.7,91.8 650.7,92.8 651.7,93.7 652.7,94.5 653.7,95.2 654.7,95.8 655.7,96.4 656.7,96.8 657.7,97.2 658.7,97.6 659.7,97.9 660.7,98.1 661.7,98.3 662.7,98.5 663.7,98.7 664.7,98.8 665.7,98.9 666.7,99.0 667.7,99.1 668.7,99.1 669.7,99.2 670.7,99.3 671.7,99.3 672.7,99.4 673.7,99.4 674.7,99.4 675.7,99.5 676.7,99.5 677.7,99.5 678.7,99.5 679.7,99.6 680.7,99.6 681.7,99.6 682.7,99.6 683.7,99.6 684.7,99.7 685.7,99.7 686.7,99.7 687.7,99.7 688.7,99.7 689.7,99.7 690.7,99.8 691.7,99.8 692.7,99.8 693.7,99.8 694.7,99.8 695.7,99.8 696.7,99.8 697.7,99.8 698.7,99.8 699.7,99.9 700.7,99.9 701.7,99.9 702.7,99.9 703.7,99.9 704.7,99.9 705.7,99.9 706.7,99.9 707.7,99.9 708.7,99.9 709.7,99.9 710.7,99.9 711.7,99.9 L712.5,100.2 Z" fill="#fd7f0d"/>
<path d="M569.7,100.2 L569.7,100.2 570.7,100.2 571.7,100.2 572.7,100.2 573.7,100.2 574.7,100.2 575.7,100.2 576.7,100.2 577.7,100.2 578.7,100.2 579.7,100.2 580.7,100.2 581.7,100.2 582.7,100.2 583.7,100.2 584.7,100.2 585.7,100.2 586.7,100.2 587.7,100.2 588.7,100.2 589.7,100.2 590.7,100.1 591.7,100.1 592.7,100.1 593.7,100.1 594.7,100.1 595.7,100.1 596.7,100.1 597.7,100.1 598.7,100.1 599.7,100.1 600.7,100.1 601.7,100.1 602.7,100.1 603.7,100.1 604.7,100.1 605.7,100.1 606.7,100.1 607.7,100.1 608.7,100.1 609.7,100.1 610.7,100.1 611.7,100.1 612.7,100.1 613.7,100.1 614.7,100.1 615.7,100.1 616.7,100.1 617.7,100.1 618.7,100.1 619.7,100.1 620.7,100.1 621.7,100.1 622.7,100.1 623.7,100.1 624.7,100.0 625.7,100.0 626.7,100.0 627.7,100.0 628.7,100.0 629.7,100.0 630.7,100.0 631.7,100.0 632.7,100.0 633.7,100.0 634.7,100.0 635.7,99.9 636.7,99.9 637.7,99.9 638.7,99.9 639.7,99.9 640.7,99.9 641.7,99.8 642.7,99.8 643.7,99.8 644.7,99.7 645.7,99.7 646.7,99.6 647.7,99.6 648.7,99.5 649.7,99.4 650.7,99.3 651.7,99.1 652.7,98.8 653.7,98.5 654.7,98.1 655.7,97.6 656.7,97.0 657.7,96.3 658.7,95.4 659.7,94.3 660.7,93.1 661.7,91.8 662.7,90.3 663.7,88.8 664.7,87.2 665.7,85.6 666.7,84.2 667.7,82.9 668.7,81.9 669.7,81.3 670.7,81.0 671.7,81.2 672.7,81.8 673.7,82.7 674.7,83.9 675.7,85.3 676.7,86.9 677.7,88.4 678.7,90.0 679.7,91.5 680.7,92.8 681.7,94.1 682.7,95.2 683.7,96.1 684.7,96.9 685.7,97.5 686.7,98.0 687.7,98.5 688.7,98.8 689.7,99.0 690.7,99.2 691.7,99.4 692.7,99.5 693.7,99.6 694.7,99.6 695.7,99.7 696.7,99.7 697.7,99.8 698.7,99.8 699.7,99.8 700.7,99.9 701.7,99.9 702.7,99.9 703.7,99.9 704.7,99.9 705.7,99.9 706.7,100.0 707.7,100.0 708.7,100.0 709.7,100.0 710.7,100.0 711.7,100.0 L712.5,100.2 Z" fill="#8000f0"/>
<path d="M569.7,99.0 L570.7,99.0 571.7,98.9 572.7,98.9 573.7,98.9 574.7,98.9 575.7,98.8 576.7,98.8 577.7,98.8 578.7,98.7 579.7,98.7 580.7,98.7 581.7,98.6 582.7,98.5 583.7,98.5 584.7,98.4 585.7,98.3 586.7,98.2 587.7,98.1 588.7,98.0 589.7,97.8 590.7,97.6 591.7,97.4 592.7,97.1 593.7,96.8 594.7,96.4 595.7,96.0 596.7,95.5 597.7,94.9 598.7,94.3 599.7,93.6 600.7,92.7 601.7,91.8 602.7,90.7 603.7,89.5 604.7,88.2 605.7,86.8 606.7,85.3 607.7,83.6 608.7,81.8 609.7,79.9 610.7,77.9 611.7,75.8 612.7,73.7 613.7,71.5 614.7,69.3 615.7,67.1 616.7,64.9 617.7,62.8 618.7,60.9 619.7,59.0 620.7,57.4 621.7,55.9 622.7,54.7 623.7,53.8 624.7,53.2 625.7,53.0 626.7,53.0 627.7,53.4 628.7,54.1 629.7,55.1 630.7,56.4 631.7,57.9 632.7,59.6 633.7,61.5 634.7,63.5 635.7,65.6 636.7,67.8 637.7,70.0 638.7,72.2 639.7,74.3 640.7,76.4 641.7,78.4 642.7,80.4 643.7,82.2 644.7,83.9 645.7,85.5 646.7,86.9 647.7,88.2 648.7,89.4 649.7,90.4 650.7,91.3 651.7,92.0 652.7,92.6 653.7,93.0 654.7,93.2 655.7,93.2 656.7,93.1 657.7,92.7 658.7,92.1 659.7,91.4 660.7,90.4 661.7,89.3 662.7,88.0 663.7,86.6 664.7,85.2 665.7,83.7 666.7,82.4 667.7,81.2 668.7,80.3 669.7,79.7 670.7,79.5 671.7,79.7 672.7,80.3 673.7,81.3 674.7,82.5 675.7,84.0 676.7,85.6 677.7,87.2 678.7,88.7 679.7,90.2 680.7,91.6 681.7,92.9 682.7,94.0 683.7,94.9 684.7,95.7 685.7,96.4 686.7,96.9 687.7,97.4 688.7,97.7 689.7,98.0 690.7,98.2 691.7,98.3 692.7,98.5 693.7,98.6 694.7,98.6 695.7,98.7 696.7,98.8 697.7,98.8 698.7,98.8 699.7,98.9 700.7,98.9 701.7,98.9 702.7,99.0 703.7,99.0 704.7,99.0 705.7,99.0 706.7,99.1 707.7,99.1 708.7,99.1 709.7,99.1 710.7,99.1 711.7,99.2" fill="none" stroke="#d8a8a8" stroke-width="0.7"/>
<path d="M568.7,106.7 L712.5,106.7" stroke="#3a3a3a" stroke-width="1.1" fill="none"/>
<path d="M582.9,106.7 L582.9,104.3" stroke="#3a3a3a" stroke-width="1" fill="none"/>
<path d="M611.8,106.7 L611.8,104.3" stroke="#3a3a3a" stroke-width="1" fill="none"/>
<path d="M640.7,106.7 L640.7,104.3" stroke="#3a3a3a" stroke-width="1" fill="none"/>
<path d="M669.6,106.7 L669.6,104.3" stroke="#3a3a3a" stroke-width="1" fill="none"/>
<path d="M698.5,106.7 L698.5,104.3" stroke="#3a3a3a" stroke-width="1" fill="none"/>
<text x="582.9" y="117.8" font-size="10.5" text-anchor="middle" fill="#111" ><tspan>534</tspan></text>
<text x="611.8" y="117.8" font-size="10.5" text-anchor="middle" fill="#111" ><tspan>532</tspan></text>
<text x="640.7" y="117.8" font-size="10.5" text-anchor="middle" fill="#111" ><tspan>530</tspan></text>
<text x="669.6" y="117.8" font-size="10.5" text-anchor="middle" fill="#111" ><tspan>528</tspan></text>
<text x="698.5" y="117.8" font-size="10.5" text-anchor="middle" fill="#111" ><tspan>526</tspan></text>
<path d="M410.4,186.2 L410.4,185.7 411.4,185.7 412.4,185.7 413.4,185.7 414.4,185.7 415.4,185.6 416.4,185.6 417.4,185.6 418.4,185.6 419.4,185.6 420.4,185.6 421.4,185.5 422.4,185.5 423.4,185.5 424.4,185.5 425.4,185.4 426.4,185.4 427.4,185.4 428.4,185.4 429.4,185.3 430.4,185.3 431.4,185.3 432.4,185.3 433.4,185.2 434.4,185.2 435.4,185.2 436.4,185.1 437.4,185.1 438.4,185.0 439.4,185.0 440.4,184.9 441.4,184.9 442.4,184.8 443.4,184.8 444.4,184.7 445.4,184.6 446.4,184.6 447.4,184.5 448.4,184.4 449.4,184.3 450.4,184.2 451.4,184.1 452.4,184.0 453.4,183.9 454.4,183.8 455.4,183.6 456.4,183.5 457.4,183.3 458.4,183.1 459.4,182.9 460.4,182.7 461.4,182.5 462.4,182.2 463.4,181.8 464.4,181.5 465.4,181.0 466.4,180.5 467.4,180.0 468.4,179.3 469.4,178.6 470.4,177.7 471.4,176.7 472.4,175.6 473.4,174.3 474.4,172.9 475.4,171.3 476.4,169.6 477.4,167.6 478.4,165.6 479.4,163.3 480.4,160.9 481.4,158.5 482.4,156.0 483.4,153.6 484.4,151.3 485.4,149.3 486.4,147.7 487.4,146.7 488.4,146.2 489.4,146.4 490.4,147.2 491.4,148.6 492.4,150.5 493.4,152.7 494.4,155.0 495.4,157.5 496.4,160.0 497.4,162.4 498.4,164.7 499.4,166.8 500.4,168.8 501.4,170.7 502.4,172.3 503.4,173.8 504.4,175.1 505.4,176.3 506.4,177.3 507.4,178.2 508.4,179.0 509.4,179.7 510.4,180.3 511.4,180.8 512.4,181.3 513.4,181.7 514.4,182.0 515.4,182.3 516.4,182.6 517.4,182.8 518.4,183.1 519.4,183.3 520.4,183.4 521.4,183.6 522.4,183.7 523.4,183.9 524.4,184.0 525.4,184.1 526.4,184.2 527.4,184.3 528.4,184.4 529.4,184.5 530.4,184.5 531.4,184.6 532.4,184.7 533.4,184.7 534.4,184.8 535.4,184.9 536.4,184.9 537.4,185.0 538.4,185.0 539.4,185.1 540.4,185.1 541.4,185.1 542.4,185.2 543.4,185.2 544.4,185.2 545.4,185.3 546.4,185.3 547.4,185.3 548.4,185.4 549.4,185.4 550.4,185.4 551.4,185.4 552.4,185.5 553.4,185.5 L554.1,186.2 Z" fill="#fbb81a"/>
<path d="M410.4,186.2 L554.1,186.2" stroke="#e8a0a0" stroke-width="0.6"/>
<path d="M410.4,194.8 L554.1,194.8" stroke="#3a3a3a" stroke-width="1.1" fill="none"/>
<path d="M410.4,194.8 L410.4,192.4" stroke="#3a3a3a" stroke-width="1" fill="none"/>
<path d="M439.1,194.8 L439.1,192.4" stroke="#3a3a3a" stroke-width="1" fill="none"/>
<path d="M467.9,194.8 L467.9,192.4" stroke="#3a3a3a" stroke-width="1" fill="none"/>
<path d="M496.6,194.8 L496.6,192.4" stroke="#3a3a3a" stroke-width="1" fill="none"/>
<path d="M525.4,194.8 L525.4,192.4" stroke="#3a3a3a" stroke-width="1" fill="none"/>
<path d="M554.1,194.8 L554.1,192.4" stroke="#3a3a3a" stroke-width="1" fill="none"/>
<text x="410.4" y="206.2" font-size="10.5" text-anchor="middle" fill="#111" ><tspan>690</tspan></text>
<text x="439.1" y="206.2" font-size="10.5" text-anchor="middle" fill="#111" ><tspan>688</tspan></text>
<text x="467.9" y="206.2" font-size="10.5" text-anchor="middle" fill="#111" ><tspan>686</tspan></text>
<text x="496.6" y="206.2" font-size="10.5" text-anchor="middle" fill="#111" ><tspan>684</tspan></text>
<text x="525.4" y="206.2" font-size="10.5" text-anchor="middle" fill="#111" ><tspan>682</tspan></text>
<text x="554.1" y="206.2" font-size="10.5" text-anchor="middle" fill="#111" ><tspan>680</tspan></text>
<path d="M569.7,186.0 L569.7,185.3 570.7,185.3 571.7,185.3 572.7,185.2 573.7,185.2 574.7,185.2 575.7,185.2 576.7,185.1 577.7,185.1 578.7,185.0 579.7,185.0 580.7,184.9 581.7,184.9 582.7,184.8 583.7,184.7 584.7,184.6 585.7,184.5 586.7,184.4 587.7,184.2 588.7,184.1 589.7,183.9 590.7,183.6 591.7,183.3 592.7,183.0 593.7,182.6 594.7,182.2 595.7,181.7 596.7,181.1 597.7,180.4 598.7,179.6 599.7,178.7 600.7,177.6 601.7,176.5 602.7,175.2 603.7,173.8 604.7,172.2 605.7,170.5 606.7,168.7 607.7,166.7 608.7,164.5 609.7,162.3 610.7,160.0 611.7,157.5 612.7,155.0 613.7,152.5 614.7,150.0 615.7,147.5 616.7,145.0 617.7,142.7 618.7,140.5 619.7,138.5 620.7,136.7 621.7,135.2 622.7,134.0 623.7,133.1 624.7,132.6 625.7,132.5 626.7,132.8 627.7,133.4 628.7,134.4 629.7,135.7 630.7,137.4 631.7,139.2 632.7,141.3 633.7,143.6 634.7,146.0 635.7,148.5 636.7,151.0 637.7,153.5 638.7,156.0 639.7,158.5 640.7,160.9 641.7,163.2 642.7,165.4 643.7,167.5 644.7,169.4 645.7,171.2 646.7,172.9 647.7,174.4 648.7,175.7 649.7,177.0 650.7,178.1 651.7,179.0 652.7,179.9 653.7,180.7 654.7,181.3 655.7,181.9 656.7,182.4 657.7,182.8 658.7,183.2 659.7,183.5 660.7,183.7 661.7,184.0 662.7,184.1 663.7,184.3 664.7,184.4 665.7,184.6 666.7,184.7 667.7,184.7 668.7,184.8 669.7,184.9 670.7,185.0 671.7,185.0 672.7,185.0 673.7,185.1 674.7,185.1 675.7,185.2 676.7,185.2 677.7,185.2 678.7,185.3 679.7,185.3 680.7,185.3 681.7,185.3 682.7,185.4 683.7,185.4 684.7,185.4 685.7,185.4 686.7,185.4 687.7,185.4 688.7,185.5 689.7,185.5 690.7,185.5 691.7,185.5 692.7,185.5 693.7,185.5 694.7,185.5 695.7,185.6 696.7,185.6 697.7,185.6 698.7,185.6 699.7,185.6 700.7,185.6 701.7,185.6 702.7,185.6 703.7,185.6 704.7,185.7 705.7,185.7 706.7,185.7 707.7,185.7 708.7,185.7 709.7,185.7 710.7,185.7 711.7,185.7 L712.5,186.0 Z" fill="#fd7f0d"/>
<path d="M569.7,186.0 L569.7,186.0 570.7,186.0 571.7,186.0 572.7,186.0 573.7,186.0 574.7,186.0 575.7,186.0 576.7,186.0 577.7,186.0 578.7,186.0 579.7,186.0 580.7,186.0 581.7,186.0 582.7,186.0 583.7,186.0 584.7,186.0 585.7,186.0 586.7,186.0 587.7,186.0 588.7,186.0 589.7,186.0 590.7,186.0 591.7,186.0 592.7,186.0 593.7,186.0 594.7,186.0 595.7,186.0 596.7,186.0 597.7,186.0 598.7,185.9 599.7,185.9 600.7,185.9 601.7,185.9 602.7,185.9 603.7,185.9 604.7,185.9 605.7,185.9 606.7,185.9 607.7,185.9 608.7,185.9 609.7,185.9 610.7,185.9 611.7,185.9 612.7,185.9 613.7,185.9 614.7,185.9 615.7,185.9 616.7,185.9 617.7,185.9 618.7,185.9 619.7,185.9 620.7,185.9 621.7,185.9 622.7,185.9 623.7,185.9 624.7,185.9 625.7,185.9 626.7,185.9 627.7,185.9 628.7,185.9 629.7,185.8 630.7,185.8 631.7,185.8 632.7,185.8 633.7,185.8 634.7,185.8 635.7,185.8 636.7,185.8 637.7,185.8 638.7,185.8 639.7,185.7 640.7,185.7 641.7,185.7 642.7,185.7 643.7,185.7 644.7,185.6 645.7,185.6 646.7,185.5 647.7,185.5 648.7,185.4 649.7,185.3 650.7,185.2 651.7,185.1 652.7,184.9 653.7,184.6 654.7,184.3 655.7,183.9 656.7,183.4 657.7,182.8 658.7,182.0 659.7,181.2 660.7,180.2 661.7,179.1 662.7,177.9 663.7,176.6 664.7,175.4 665.7,174.1 666.7,172.9 667.7,171.9 668.7,171.0 669.7,170.5 670.7,170.3 671.7,170.4 672.7,170.9 673.7,171.7 674.7,172.7 675.7,173.8 676.7,175.1 677.7,176.4 678.7,177.7 679.7,178.9 680.7,180.0 681.7,181.0 682.7,181.9 683.7,182.6 684.7,183.3 685.7,183.8 686.7,184.2 687.7,184.6 688.7,184.8 689.7,185.0 690.7,185.2 691.7,185.3 692.7,185.4 693.7,185.5 694.7,185.5 695.7,185.6 696.7,185.6 697.7,185.7 698.7,185.7 699.7,185.7 700.7,185.7 701.7,185.7 702.7,185.8 703.7,185.8 704.7,185.8 705.7,185.8 706.7,185.8 707.7,185.8 708.7,185.8 709.7,185.8 710.7,185.8 711.7,185.8 L712.5,186.0 Z" fill="#8000f0"/>
<path d="M569.7,184.7 L570.7,184.7 571.7,184.6 572.7,184.6 573.7,184.6 574.7,184.6 575.7,184.5 576.7,184.5 577.7,184.4 578.7,184.4 579.7,184.4 580.7,184.3 581.7,184.2 582.7,184.2 583.7,184.1 584.7,184.0 585.7,183.9 586.7,183.8 587.7,183.6 588.7,183.4 589.7,183.2 590.7,183.0 591.7,182.7 592.7,182.4 593.7,182.0 594.7,181.5 595.7,181.0 596.7,180.4 597.7,179.7 598.7,178.9 599.7,178.0 600.7,177.0 601.7,175.8 602.7,174.5 603.7,173.1 604.7,171.6 605.7,169.8 606.7,168.0 607.7,166.0 608.7,163.9 609.7,161.6 610.7,159.3 611.7,156.9 612.7,154.4 613.7,151.8 614.7,149.3 615.7,146.8 616.7,144.3 617.7,142.0 618.7,139.8 619.7,137.8 620.7,136.0 621.7,134.5 622.7,133.3 623.7,132.4 624.7,131.9 625.7,131.8 626.7,132.0 627.7,132.7 628.7,133.7 629.7,135.0 630.7,136.6 631.7,138.5 632.7,140.6 633.7,142.8 634.7,145.2 635.7,147.7 636.7,150.2 637.7,152.7 638.7,155.2 639.7,157.7 640.7,160.0 641.7,162.3 642.7,164.5 643.7,166.5 644.7,168.4 645.7,170.2 646.7,171.8 647.7,173.3 648.7,174.6 649.7,175.7 650.7,176.7 651.7,177.5 652.7,178.2 653.7,178.7 654.7,179.0 655.7,179.2 656.7,179.2 657.7,179.0 658.7,178.6 659.7,178.0 660.7,177.3 661.7,176.4 662.7,175.4 663.7,174.3 664.7,173.2 665.7,172.0 666.7,171.0 667.7,170.0 668.7,169.3 669.7,168.8 670.7,168.7 671.7,168.8 672.7,169.4 673.7,170.2 674.7,171.2 675.7,172.4 676.7,173.7 677.7,175.0 678.7,176.3 679.7,177.5 680.7,178.7 681.7,179.7 682.7,180.6 683.7,181.4 684.7,182.1 685.7,182.6 686.7,183.1 687.7,183.4 688.7,183.7 689.7,183.9 690.7,184.1 691.7,184.2 692.7,184.3 693.7,184.4 694.7,184.5 695.7,184.5 696.7,184.6 697.7,184.6 698.7,184.7 699.7,184.7 700.7,184.7 701.7,184.8 702.7,184.8 703.7,184.8 704.7,184.8 705.7,184.9 706.7,184.9 707.7,184.9 708.7,184.9 709.7,184.9 710.7,184.9 711.7,185.0" fill="none" stroke="#d8a8a8" stroke-width="0.7"/>
<path d="M568.7,194.7 L712.5,194.7" stroke="#3a3a3a" stroke-width="1.1" fill="none"/>
<path d="M582.9,194.7 L582.9,192.29999999999998" stroke="#3a3a3a" stroke-width="1" fill="none"/>
<path d="M611.8,194.7 L611.8,192.29999999999998" stroke="#3a3a3a" stroke-width="1" fill="none"/>
<path d="M640.7,194.7 L640.7,192.29999999999998" stroke="#3a3a3a" stroke-width="1" fill="none"/>
<path d="M669.6,194.7 L669.6,192.29999999999998" stroke="#3a3a3a" stroke-width="1" fill="none"/>
<path d="M698.5,194.7 L698.5,192.29999999999998" stroke="#3a3a3a" stroke-width="1" fill="none"/>
<text x="582.9" y="206.6" font-size="10.5" text-anchor="middle" fill="#111" ><tspan>534</tspan></text>
<text x="611.8" y="206.6" font-size="10.5" text-anchor="middle" fill="#111" ><tspan>532</tspan></text>
<text x="640.7" y="206.6" font-size="10.5" text-anchor="middle" fill="#111" ><tspan>530</tspan></text>
<text x="669.6" y="206.6" font-size="10.5" text-anchor="middle" fill="#111" ><tspan>528</tspan></text>
<text x="698.5" y="206.6" font-size="10.5" text-anchor="middle" fill="#111" ><tspan>526</tspan></text>
<rect x="44" y="224.4" width="187.5" height="142.9" fill="none" stroke="#4a4a4a" stroke-width="1.3"/>
<text x="44.0" y="379.6" font-size="10.5" text-anchor="middle" fill="#111" ><tspan>0</tspan></text>
<path d="M81.5,367.3 L81.5,365.1" stroke="#2a2a2a" stroke-width="1"/>
<text x="81.5" y="379.6" font-size="10.5" text-anchor="middle" fill="#111" ><tspan>20</tspan></text>
<path d="M119.0,367.3 L119.0,365.1" stroke="#2a2a2a" stroke-width="1"/>
<text x="119.0" y="379.6" font-size="10.5" text-anchor="middle" fill="#111" ><tspan>40</tspan></text>
<path d="M156.5,367.3 L156.5,365.1" stroke="#2a2a2a" stroke-width="1"/>
<text x="156.5" y="379.6" font-size="10.5" text-anchor="middle" fill="#111" ><tspan>60</tspan></text>
<path d="M194.0,367.3 L194.0,365.1" stroke="#2a2a2a" stroke-width="1"/>
<text x="194.0" y="379.6" font-size="10.5" text-anchor="middle" fill="#111" ><tspan>80</tspan></text>
<text x="231.5" y="379.6" font-size="10.5" text-anchor="middle" fill="#111" ><tspan>100</tspan></text>
<text x="130.4" y="394.6" font-size="12.6" text-anchor="middle" fill="#111" ><tspan>Sputtering time / s</tspan></text>
<text x="56.6" y="242" font-size="11.9" text-anchor="start" fill="#111" ><tspan>BE</tspan></text>
<text x="0" y="0" font-size="12.5" text-anchor="middle" fill="#111" transform="translate(34.8,295.6) rotate(-90)">Intensity / a.u.</text>
<path d="M45.6,334.3 L48.5,326.8 L51.5,316.8 L54.3,311.9 L57.9,305.5 L60.9,298.2 L63.9,294.2 L66.8,284.6 L69.8,280.1 L72.8,274.7 L75.8,264.8 L79.2,263.2 L82.1,257.2 L85.3,255.8 L88.3,255.2 L91.3,250.4 L94.1,244.5 L97.3,244.5 L100.6,245.9 L103.6,239.9 L106.6,241.3 L109.6,241.3 L112.6,238.9 L115.5,241.9 L118.9,243.3 L121.9,239.9 L125.1,240.9 L128.1,241.3 L131.1,239.9 L135.0,246.8 L137.8,246.8 L140.7,248.2 L143.8,244.9 L146.8,247.8 L149.9,248.2 L152.7,249.9 L155.9,252.0 L159.1,252.4 L162.0,255.3 L165.2,255.6 L168.1,254.2 L171.2,258.1 L174.3,256.7 L177.6,257.7 L180.4,262.0 L183.7,256.7 L186.5,260.1 L189.7,263.0 L192.8,260.5 L195.6,263.8 L198.9,264.1 L201.8,267.7 L205.0,266.7 L207.9,270.5 L211.3,269.5 L214.5,272.6 L217.8,267.7 L220.7,273.3 L223.8,271.9 L226.9,274.8 L230.2,274.3" fill="none" stroke="#3a6db0" stroke-width="1.3"/>
<path d="M43.8,332.4h3.7v3.7h-3.7zM46.6,324.9h3.7v3.7h-3.7zM49.6,314.9h3.7v3.7h-3.7zM52.4,310.0h3.7v3.7h-3.7zM56.0,303.6h3.7v3.7h-3.7zM59.0,296.3h3.7v3.7h-3.7zM62.0,292.3h3.7v3.7h-3.7zM65.0,282.8h3.7v3.7h-3.7zM68.0,278.2h3.7v3.7h-3.7zM71.0,272.8h3.7v3.7h-3.7zM74.0,262.9h3.7v3.7h-3.7zM77.4,261.3h3.7v3.7h-3.7zM80.2,255.3h3.7v3.7h-3.7zM83.5,254.0h3.7v3.7h-3.7zM86.5,253.3h3.7v3.7h-3.7zM89.5,248.6h3.7v3.7h-3.7zM92.2,242.7h3.7v3.7h-3.7zM95.5,242.7h3.7v3.7h-3.7zM98.8,244.1h3.7v3.7h-3.7zM101.8,238.1h3.7v3.7h-3.7zM104.8,239.5h3.7v3.7h-3.7zM107.8,239.5h3.7v3.7h-3.7zM110.8,237.1h3.7v3.7h-3.7zM113.7,240.1h3.7v3.7h-3.7zM117.1,241.5h3.7v3.7h-3.7zM120.1,238.1h3.7v3.7h-3.7zM123.2,239.1h3.7v3.7h-3.7zM126.2,239.5h3.7v3.7h-3.7zM129.2,238.1h3.7v3.7h-3.7zM133.2,245.0h3.7v3.7h-3.7zM136.0,245.0h3.7v3.7h-3.7zM138.8,246.3h3.7v3.7h-3.7zM142.0,243.1h3.7v3.7h-3.7zM145.0,246.0h3.7v3.7h-3.7zM148.1,246.3h3.7v3.7h-3.7zM150.8,248.1h3.7v3.7h-3.7zM154.1,250.2h3.7v3.7h-3.7zM157.2,250.6h3.7v3.7h-3.7zM160.2,253.5h3.7v3.7h-3.7zM163.3,253.8h3.7v3.7h-3.7zM166.2,252.3h3.7v3.7h-3.7zM169.3,256.2h3.7v3.7h-3.7zM172.5,254.8h3.7v3.7h-3.7zM175.8,255.8h3.7v3.7h-3.7zM178.6,260.1h3.7v3.7h-3.7zM181.8,254.8h3.7v3.7h-3.7zM184.7,258.2h3.7v3.7h-3.7zM187.8,261.1h3.7v3.7h-3.7zM191.0,258.6h3.7v3.7h-3.7zM193.8,261.9h3.7v3.7h-3.7zM197.1,262.2h3.7v3.7h-3.7zM200.0,265.8h3.7v3.7h-3.7zM203.2,264.8h3.7v3.7h-3.7zM206.1,268.6h3.7v3.7h-3.7zM209.5,267.6h3.7v3.7h-3.7zM212.7,270.8h3.7v3.7h-3.7zM216.0,265.8h3.7v3.7h-3.7zM218.8,271.4h3.7v3.7h-3.7zM222.0,270.0h3.7v3.7h-3.7zM225.1,272.9h3.7v3.7h-3.7zM228.3,272.4h3.7v3.7h-3.7z" fill="#3a6db0"/>
<path d="M45.0,365.3 L46.6,364.0 L48.2,364.0 L49.8,362.4 L51.4,362.6 L53.0,361.8 L54.6,360.9 L56.2,361.3 L57.8,360.3 L59.4,360.7 L61.0,360.0 L62.6,359.9 L64.2,360.3 L65.8,360.8 L67.4,359.6 L69.0,359.7 L70.6,360.3 L72.2,360.7 L73.8,360.1 L75.4,359.8 L77.0,360.7 L78.6,359.2 L80.2,360.5 L81.8,359.5 L83.4,359.3 L85.0,359.2 L86.6,359.5 L88.2,360.3 L89.8,359.3 L91.4,360.0 L93.0,360.0 L94.6,359.6 L96.2,359.9 L97.8,359.1 L99.4,359.1 L101.0,359.3 L102.6,360.1 L104.2,359.7 L105.8,359.5 L107.4,359.9 L109.0,359.7 L110.6,359.5 L112.2,360.3 L113.8,360.1 L115.4,359.4 L117.0,359.9 L118.6,359.8 L120.2,360.4 L121.8,360.2 L123.4,359.5 L125.0,360.6 L126.6,359.2 L128.2,359.7 L129.8,360.2 L131.4,359.2 L133.0,359.8 L134.6,359.1 L136.2,360.1 L137.8,360.2 L139.4,359.9 L141.0,360.4 L142.6,359.5 L144.2,360.1 L145.8,360.0 L147.4,359.9 L149.0,359.7 L150.6,360.3 L152.2,360.5 L153.8,359.8 L155.4,360.1 L157.0,359.1 L158.6,360.1 L160.2,360.0 L161.8,360.6 L163.4,360.3 L165.0,359.5 L166.6,359.6 L168.2,360.1 L169.8,359.0 L171.4,359.7 L173.0,359.3 L174.6,359.2 L176.2,359.1 L177.8,360.2 L179.4,359.2 L181.0,359.4 L182.6,359.6 L184.2,360.4 L185.8,359.1 L187.4,359.7 L189.0,359.9 L190.6,360.4 L192.2,360.3 L193.8,360.4 L195.4,359.4 L197.0,359.7 L198.6,359.6 L200.2,360.4 L201.8,360.5 L203.4,359.2 L205.0,359.2 L206.6,359.3 L208.2,359.2 L209.8,359.5 L211.4,359.6 L213.0,359.1 L214.6,358.6 L216.2,359.2 L217.8,359.1 L219.4,359.3 L221.0,359.9 L222.6,359.4 L224.2,359.0 L225.8,359.2 L227.4,359.2 L229.0,358.1" fill="none" stroke="#bf9418" stroke-width="1.3"/>
<path d="M43.2,363.5h3.5v3.5h-3.5zM44.9,362.3h3.5v3.5h-3.5zM46.5,362.2h3.5v3.5h-3.5zM48.1,360.6h3.5v3.5h-3.5zM49.7,360.8h3.5v3.5h-3.5zM51.3,360.1h3.5v3.5h-3.5zM52.9,359.2h3.5v3.5h-3.5zM54.5,359.6h3.5v3.5h-3.5zM56.1,358.6h3.5v3.5h-3.5zM57.7,359.0h3.5v3.5h-3.5zM59.3,358.2h3.5v3.5h-3.5zM60.9,358.1h3.5v3.5h-3.5zM62.5,358.5h3.5v3.5h-3.5zM64.1,359.1h3.5v3.5h-3.5zM65.7,357.9h3.5v3.5h-3.5zM67.2,357.9h3.5v3.5h-3.5zM68.8,358.5h3.5v3.5h-3.5zM70.4,359.0h3.5v3.5h-3.5zM72.0,358.4h3.5v3.5h-3.5zM73.6,358.0h3.5v3.5h-3.5zM75.2,358.9h3.5v3.5h-3.5zM76.8,357.4h3.5v3.5h-3.5zM78.4,358.7h3.5v3.5h-3.5zM80.0,357.8h3.5v3.5h-3.5zM81.6,357.5h3.5v3.5h-3.5zM83.2,357.5h3.5v3.5h-3.5zM84.8,357.8h3.5v3.5h-3.5zM86.4,358.6h3.5v3.5h-3.5zM88.0,357.6h3.5v3.5h-3.5zM89.6,358.2h3.5v3.5h-3.5zM91.2,358.3h3.5v3.5h-3.5zM92.8,357.9h3.5v3.5h-3.5zM94.4,358.1h3.5v3.5h-3.5zM96.0,357.4h3.5v3.5h-3.5zM97.6,357.4h3.5v3.5h-3.5zM99.2,357.6h3.5v3.5h-3.5zM100.8,358.3h3.5v3.5h-3.5zM102.4,357.9h3.5v3.5h-3.5zM104.0,357.8h3.5v3.5h-3.5zM105.6,358.2h3.5v3.5h-3.5zM107.2,358.0h3.5v3.5h-3.5zM108.8,357.7h3.5v3.5h-3.5zM110.4,358.5h3.5v3.5h-3.5zM112.0,358.4h3.5v3.5h-3.5zM113.6,357.6h3.5v3.5h-3.5zM115.2,358.2h3.5v3.5h-3.5zM116.8,358.1h3.5v3.5h-3.5zM118.4,358.7h3.5v3.5h-3.5zM120.0,358.4h3.5v3.5h-3.5zM121.6,357.7h3.5v3.5h-3.5zM123.2,358.8h3.5v3.5h-3.5zM124.8,357.4h3.5v3.5h-3.5zM126.4,357.9h3.5v3.5h-3.5zM128.0,358.5h3.5v3.5h-3.5zM129.6,357.5h3.5v3.5h-3.5zM131.2,358.0h3.5v3.5h-3.5zM132.8,357.3h3.5v3.5h-3.5zM134.4,358.3h3.5v3.5h-3.5zM136.0,358.5h3.5v3.5h-3.5zM137.6,358.2h3.5v3.5h-3.5zM139.2,358.7h3.5v3.5h-3.5zM140.8,357.8h3.5v3.5h-3.5zM142.4,358.4h3.5v3.5h-3.5zM144.0,358.2h3.5v3.5h-3.5zM145.6,358.2h3.5v3.5h-3.5zM147.2,358.0h3.5v3.5h-3.5zM148.8,358.6h3.5v3.5h-3.5zM150.4,358.8h3.5v3.5h-3.5zM152.0,358.0h3.5v3.5h-3.5zM153.6,358.3h3.5v3.5h-3.5zM155.2,357.3h3.5v3.5h-3.5zM156.8,358.4h3.5v3.5h-3.5zM158.4,358.3h3.5v3.5h-3.5zM160.0,358.8h3.5v3.5h-3.5zM161.6,358.6h3.5v3.5h-3.5zM163.2,357.7h3.5v3.5h-3.5zM164.8,357.9h3.5v3.5h-3.5zM166.4,358.3h3.5v3.5h-3.5zM168.0,357.3h3.5v3.5h-3.5zM169.6,358.0h3.5v3.5h-3.5zM171.2,357.5h3.5v3.5h-3.5zM172.8,357.4h3.5v3.5h-3.5zM174.4,357.3h3.5v3.5h-3.5zM176.0,358.5h3.5v3.5h-3.5zM177.6,357.5h3.5v3.5h-3.5zM179.2,357.6h3.5v3.5h-3.5zM180.8,357.9h3.5v3.5h-3.5zM182.4,358.6h3.5v3.5h-3.5zM184.0,357.4h3.5v3.5h-3.5zM185.6,358.0h3.5v3.5h-3.5zM187.2,358.1h3.5v3.5h-3.5zM188.8,358.7h3.5v3.5h-3.5zM190.4,358.6h3.5v3.5h-3.5zM192.0,358.6h3.5v3.5h-3.5zM193.6,357.7h3.5v3.5h-3.5zM195.2,357.9h3.5v3.5h-3.5zM196.8,357.8h3.5v3.5h-3.5zM198.4,358.7h3.5v3.5h-3.5zM200.0,358.8h3.5v3.5h-3.5zM201.6,357.5h3.5v3.5h-3.5zM203.2,357.5h3.5v3.5h-3.5zM204.8,357.5h3.5v3.5h-3.5zM206.4,357.4h3.5v3.5h-3.5zM208.0,357.8h3.5v3.5h-3.5zM209.6,357.9h3.5v3.5h-3.5zM211.2,357.3h3.5v3.5h-3.5zM212.8,356.8h3.5v3.5h-3.5zM214.4,357.4h3.5v3.5h-3.5zM216.0,357.3h3.5v3.5h-3.5zM217.6,357.6h3.5v3.5h-3.5zM219.2,358.1h3.5v3.5h-3.5zM220.8,357.6h3.5v3.5h-3.5zM222.4,357.3h3.5v3.5h-3.5zM224.0,357.4h3.5v3.5h-3.5zM225.6,357.4h3.5v3.5h-3.5zM227.2,356.4h3.5v3.5h-3.5z" fill="#bf9418"/>
<path d="M160.9,308.4 L185,308.4" stroke="#3a6db0" stroke-width="1.4"/>
<rect x="170.9" y="306.4" width="4" height="4" fill="#3a6db0"/>
<text x="188.7" y="312.4" font-size="12.5" text-anchor="start" fill="#111" ><tspan>C</tspan><tspan dy="2.75" font-size="8.50">2</tspan><tspan dy="-2.75">H</tspan><tspan dy="-5.50" font-size="11.00" style="stroke-width:0.5px">-</tspan></text>
<path d="M160.9,329.3 L185,329.3" stroke="#bf9418" stroke-width="1.4"/>
<rect x="170.9" y="327.3" width="4" height="4" fill="#bf9418"/>
<text x="188.7" y="333.3" font-size="12.5" text-anchor="start" fill="#111" ><tspan>LiF</tspan><tspan dy="2.75" font-size="8.50">2</tspan><tspan dy="-8.25" font-size="11.00" style="stroke-width:0.5px">-</tspan></text>
<rect x="391.5" y="224.7" width="188.29999999999995" height="142.5" fill="none" stroke="#4a4a4a" stroke-width="1.3"/>
<text x="391.5" y="379.5" font-size="10.5" text-anchor="middle" fill="#111" ><tspan>0</tspan></text>
<path d="M429.2,367.2 L429.2,365.0" stroke="#2a2a2a" stroke-width="1"/>
<text x="429.2" y="379.5" font-size="10.5" text-anchor="middle" fill="#111" ><tspan>20</tspan></text>
<path d="M466.8,367.2 L466.8,365.0" stroke="#2a2a2a" stroke-width="1"/>
<text x="466.8" y="379.5" font-size="10.5" text-anchor="middle" fill="#111" ><tspan>40</tspan></text>
<path d="M504.5,367.2 L504.5,365.0" stroke="#2a2a2a" stroke-width="1"/>
<text x="504.5" y="379.5" font-size="10.5" text-anchor="middle" fill="#111" ><tspan>60</tspan></text>
<path d="M542.1,367.2 L542.1,365.0" stroke="#2a2a2a" stroke-width="1"/>
<text x="542.1" y="379.5" font-size="10.5" text-anchor="middle" fill="#111" ><tspan>80</tspan></text>
<text x="579.8" y="379.5" font-size="10.5" text-anchor="middle" fill="#111" ><tspan>100</tspan></text>
<text x="478.3" y="394.5" font-size="12.6" text-anchor="middle" fill="#111" ><tspan>Sputtering time / s</tspan></text>
<text x="406.4" y="242.6" font-size="12" text-anchor="start" fill="#111" ><tspan>TISE</tspan></text>
<text x="0" y="0" font-size="12.5" text-anchor="middle" fill="#111" transform="translate(382.4,296.7) rotate(-90)">Intensity / a.u.</text>
<path d="M393.4,305.6 L395.6,339.5 L398.7,339.3 L401.7,339.5 L404.8,339.3 L407.8,338.6 L410.9,338.6 L413.9,338.1 L417.0,339.0 L420.0,338.0 L423.1,338.0 L426.1,338.3 L429.2,338.5 L432.2,339.1 L435.3,338.9 L438.3,339.1 L441.4,339.7 L444.4,339.8 L447.5,340.6 L450.5,340.3 L453.6,342.1 L456.6,341.9 L459.7,341.4 L462.7,341.8 L465.8,342.3 L468.8,342.6 L471.9,342.4 L474.9,344.0 L478.0,344.6 L481.0,343.9 L484.1,344.2 L487.1,343.8 L490.2,344.1 L493.2,344.8 L496.3,345.0 L499.3,346.3 L502.4,345.3 L505.4,345.4 L508.5,347.3 L511.5,346.9 L514.6,346.4 L517.6,347.4 L520.7,346.8 L523.7,348.0 L526.8,349.1 L529.8,349.2 L532.9,349.1 L535.9,348.6 L539.0,349.1 L542.0,349.0 L545.0,350.4 L548.1,350.3 L551.1,351.0 L554.2,350.5 L557.2,350.6 L560.3,351.9 L563.3,352.5 L566.4,352.5 L569.4,352.7 L572.5,353.0 L575.5,353.2" fill="none" stroke="#3a6db0" stroke-width="1.3"/>
<path d="M391.5,303.8h3.7v3.7h-3.7zM393.8,337.7h3.7v3.7h-3.7zM396.8,337.5h3.7v3.7h-3.7zM399.9,337.6h3.7v3.7h-3.7zM402.9,337.5h3.7v3.7h-3.7zM406.0,336.8h3.7v3.7h-3.7zM409.0,336.8h3.7v3.7h-3.7zM412.1,336.2h3.7v3.7h-3.7zM415.1,337.2h3.7v3.7h-3.7zM418.2,336.2h3.7v3.7h-3.7zM421.2,336.2h3.7v3.7h-3.7zM424.3,336.5h3.7v3.7h-3.7zM427.3,336.7h3.7v3.7h-3.7zM430.4,337.3h3.7v3.7h-3.7zM433.4,337.1h3.7v3.7h-3.7zM436.5,337.2h3.7v3.7h-3.7zM439.5,337.8h3.7v3.7h-3.7zM442.6,338.0h3.7v3.7h-3.7zM445.6,338.8h3.7v3.7h-3.7zM448.7,338.4h3.7v3.7h-3.7zM451.7,340.2h3.7v3.7h-3.7zM454.8,340.1h3.7v3.7h-3.7zM457.8,339.5h3.7v3.7h-3.7zM460.9,340.0h3.7v3.7h-3.7zM463.9,340.4h3.7v3.7h-3.7zM467.0,340.7h3.7v3.7h-3.7zM470.0,340.6h3.7v3.7h-3.7zM473.1,342.2h3.7v3.7h-3.7zM476.1,342.7h3.7v3.7h-3.7zM479.2,342.1h3.7v3.7h-3.7zM482.2,342.4h3.7v3.7h-3.7zM485.3,341.9h3.7v3.7h-3.7zM488.3,342.3h3.7v3.7h-3.7zM491.4,343.0h3.7v3.7h-3.7zM494.4,343.1h3.7v3.7h-3.7zM497.5,344.4h3.7v3.7h-3.7zM500.5,343.5h3.7v3.7h-3.7zM503.6,343.5h3.7v3.7h-3.7zM506.6,345.5h3.7v3.7h-3.7zM509.7,345.0h3.7v3.7h-3.7zM512.7,344.6h3.7v3.7h-3.7zM515.8,345.6h3.7v3.7h-3.7zM518.8,345.0h3.7v3.7h-3.7zM521.9,346.1h3.7v3.7h-3.7zM524.9,347.2h3.7v3.7h-3.7zM528.0,347.3h3.7v3.7h-3.7zM531.0,347.3h3.7v3.7h-3.7zM534.1,346.8h3.7v3.7h-3.7zM537.1,347.3h3.7v3.7h-3.7zM540.1,347.2h3.7v3.7h-3.7zM543.2,348.6h3.7v3.7h-3.7zM546.2,348.4h3.7v3.7h-3.7zM549.3,349.1h3.7v3.7h-3.7zM552.3,348.6h3.7v3.7h-3.7zM555.4,348.7h3.7v3.7h-3.7zM558.4,350.0h3.7v3.7h-3.7zM561.5,350.6h3.7v3.7h-3.7zM564.5,350.7h3.7v3.7h-3.7zM567.6,350.9h3.7v3.7h-3.7zM570.6,351.2h3.7v3.7h-3.7zM573.7,351.3h3.7v3.7h-3.7z" fill="#3a6db0"/>
<path d="M393.1,352.5 L396.1,344.4 L399.2,337.6 L401.9,326.8 L405.0,321.8 L408.0,316.7 L411.4,316.7 L414.5,316.7 L417.5,324.8 L420.5,339.0 L424.0,355.9 L427.0,358.6 L430.0,357.2 L431.6,357.8 L433.2,357.8 L434.8,357.7 L436.4,357.9 L438.0,358.3 L439.6,358.4 L441.2,359.0 L442.8,359.4 L444.4,359.0 L446.0,359.6 L447.6,359.7 L449.2,359.8 L450.8,359.3 L452.4,359.3 L454.0,359.4 L455.6,359.4 L457.2,359.5 L458.8,360.0 L460.4,360.3 L462.0,360.3 L463.6,360.1 L465.2,360.3 L466.8,360.5 L468.4,359.9 L470.0,360.5 L471.6,360.8 L473.2,360.8 L474.8,360.8 L476.4,360.6 L478.0,360.3 L479.6,361.0 L481.2,360.6 L482.8,361.2 L484.4,361.4 L486.0,360.9 L487.6,360.9 L489.2,361.5 L490.8,361.4 L492.4,360.9 L494.0,360.9 L495.6,361.0 L497.2,361.8 L498.8,361.8 L500.4,361.2 L502.0,361.9 L503.6,362.1 L505.2,361.9 L506.8,361.6 L508.4,361.9 L510.0,361.5 L511.6,361.4 L513.2,362.5 L514.8,362.2 L516.4,362.1 L518.0,362.6 L519.6,362.2 L521.2,362.7 L522.8,362.7 L524.4,362.1 L526.0,362.2 L527.6,362.3 L529.2,362.3 L530.8,362.7 L532.4,362.5 L534.0,362.7 L535.6,362.5 L537.2,363.3 L538.8,362.8 L540.4,363.0 L542.0,363.1 L543.6,363.5 L545.2,363.1 L546.8,363.7 L548.4,363.3 L550.0,363.4 L551.6,363.4 L553.2,363.0 L554.8,363.5 L556.4,363.3 L558.0,363.2 L559.6,364.0 L561.2,363.5 L562.8,363.8 L564.4,364.1 L566.0,364.0 L567.6,363.8 L569.2,364.1 L570.8,364.2 L572.4,364.5 L574.0,363.9 L575.6,364.4 L577.2,364.1" fill="none" stroke="#bf9418" stroke-width="1.3"/>
<path d="M391.2,350.6h3.7v3.7h-3.7zM394.2,342.5h3.7v3.7h-3.7zM397.3,335.8h3.7v3.7h-3.7zM400.0,324.9h3.7v3.7h-3.7zM403.1,319.9h3.7v3.7h-3.7zM406.1,314.8h3.7v3.7h-3.7zM409.5,314.8h3.7v3.7h-3.7zM412.6,314.8h3.7v3.7h-3.7zM415.6,322.9h3.7v3.7h-3.7zM418.6,337.1h3.7v3.7h-3.7zM422.1,354.0h3.7v3.7h-3.7zM425.1,356.8h3.7v3.7h-3.7zM428.1,355.4h3.7v3.7h-3.7zM429.8,355.9h3.7v3.7h-3.7zM431.4,356.0h3.7v3.7h-3.7zM433.0,355.8h3.7v3.7h-3.7zM434.6,356.0h3.7v3.7h-3.7zM436.2,356.4h3.7v3.7h-3.7zM437.8,356.6h3.7v3.7h-3.7zM439.4,357.1h3.7v3.7h-3.7zM441.0,357.5h3.7v3.7h-3.7zM442.6,357.1h3.7v3.7h-3.7zM444.2,357.7h3.7v3.7h-3.7zM445.8,357.9h3.7v3.7h-3.7zM447.4,358.0h3.7v3.7h-3.7zM449.0,357.5h3.7v3.7h-3.7zM450.6,357.4h3.7v3.7h-3.7zM452.2,357.5h3.7v3.7h-3.7zM453.8,357.6h3.7v3.7h-3.7zM455.4,357.6h3.7v3.7h-3.7zM457.0,358.1h3.7v3.7h-3.7zM458.6,358.5h3.7v3.7h-3.7zM460.2,358.5h3.7v3.7h-3.7zM461.8,358.2h3.7v3.7h-3.7zM463.4,358.5h3.7v3.7h-3.7zM465.0,358.7h3.7v3.7h-3.7zM466.6,358.0h3.7v3.7h-3.7zM468.2,358.7h3.7v3.7h-3.7zM469.8,359.0h3.7v3.7h-3.7zM471.4,358.9h3.7v3.7h-3.7zM473.0,358.9h3.7v3.7h-3.7zM474.6,358.7h3.7v3.7h-3.7zM476.2,358.5h3.7v3.7h-3.7zM477.8,359.2h3.7v3.7h-3.7zM479.4,358.8h3.7v3.7h-3.7zM481.0,359.3h3.7v3.7h-3.7zM482.6,359.5h3.7v3.7h-3.7zM484.2,359.0h3.7v3.7h-3.7zM485.8,359.1h3.7v3.7h-3.7zM487.4,359.7h3.7v3.7h-3.7zM489.0,359.5h3.7v3.7h-3.7zM490.6,359.0h3.7v3.7h-3.7zM492.2,359.1h3.7v3.7h-3.7zM493.8,359.1h3.7v3.7h-3.7zM495.4,360.0h3.7v3.7h-3.7zM497.0,359.9h3.7v3.7h-3.7zM498.6,359.3h3.7v3.7h-3.7zM500.2,360.1h3.7v3.7h-3.7zM501.8,360.3h3.7v3.7h-3.7zM503.4,360.0h3.7v3.7h-3.7zM505.0,359.8h3.7v3.7h-3.7zM506.6,360.0h3.7v3.7h-3.7zM508.2,359.7h3.7v3.7h-3.7zM509.8,359.6h3.7v3.7h-3.7zM511.4,360.6h3.7v3.7h-3.7zM513.0,360.4h3.7v3.7h-3.7zM514.6,360.3h3.7v3.7h-3.7zM516.2,360.8h3.7v3.7h-3.7zM517.8,360.3h3.7v3.7h-3.7zM519.4,360.8h3.7v3.7h-3.7zM521.0,360.8h3.7v3.7h-3.7zM522.6,360.3h3.7v3.7h-3.7zM524.2,360.4h3.7v3.7h-3.7zM525.8,360.5h3.7v3.7h-3.7zM527.4,360.5h3.7v3.7h-3.7zM529.0,360.9h3.7v3.7h-3.7zM530.6,360.6h3.7v3.7h-3.7zM532.2,360.8h3.7v3.7h-3.7zM533.8,360.6h3.7v3.7h-3.7zM535.4,361.4h3.7v3.7h-3.7zM537.0,360.9h3.7v3.7h-3.7zM538.6,361.1h3.7v3.7h-3.7zM540.2,361.3h3.7v3.7h-3.7zM541.8,361.7h3.7v3.7h-3.7zM543.4,361.3h3.7v3.7h-3.7zM545.0,361.8h3.7v3.7h-3.7zM546.6,361.5h3.7v3.7h-3.7zM548.2,361.5h3.7v3.7h-3.7zM549.8,361.6h3.7v3.7h-3.7zM551.4,361.1h3.7v3.7h-3.7zM553.0,361.6h3.7v3.7h-3.7zM554.6,361.4h3.7v3.7h-3.7zM556.2,361.3h3.7v3.7h-3.7zM557.8,362.2h3.7v3.7h-3.7zM559.4,361.6h3.7v3.7h-3.7zM561.0,362.0h3.7v3.7h-3.7zM562.6,362.3h3.7v3.7h-3.7zM564.2,362.2h3.7v3.7h-3.7zM565.8,362.0h3.7v3.7h-3.7zM567.4,362.2h3.7v3.7h-3.7zM569.0,362.3h3.7v3.7h-3.7zM570.6,362.6h3.7v3.7h-3.7zM572.2,362.0h3.7v3.7h-3.7zM573.8,362.5h3.7v3.7h-3.7zM575.4,362.3h3.7v3.7h-3.7z" fill="#bf9418"/>
<path d="M506.2,302 L530.5,302" stroke="#3a6db0" stroke-width="1.4"/>
<rect x="516.4" y="300.0" width="4" height="4" fill="#3a6db0"/>
<text x="533.8" y="306.0" font-size="12.5" text-anchor="start" fill="#111" ><tspan>C</tspan><tspan dy="2.75" font-size="8.50">2</tspan><tspan dy="-2.75">H</tspan><tspan dy="-5.50" font-size="11.00" style="stroke-width:0.5px">-</tspan></text>
<path d="M506.2,323.8 L530.5,323.8" stroke="#bf9418" stroke-width="1.4"/>
<rect x="516.4" y="321.8" width="4" height="4" fill="#bf9418"/>
<text x="533.8" y="327.8" font-size="12.5" text-anchor="start" fill="#111" ><tspan>LiF</tspan><tspan dy="2.75" font-size="8.50">2</tspan><tspan dy="-8.25" font-size="11.00" style="stroke-width:0.5px">-</tspan></text>
<defs>
<linearGradient id="fadeL" x1="0" y1="0" x2="0" y2="1"><stop offset="0" stop-color="#14148f" stop-opacity="1"/><stop offset="0.3" stop-color="#14148f" stop-opacity="0.85"/><stop offset="0.6" stop-color="#14148f" stop-opacity="0.25"/><stop offset="0.85" stop-color="#14148f" stop-opacity="0"/><stop offset="1" stop-color="#16169a" stop-opacity="0"/></linearGradient>
<linearGradient id="fadeR" x1="0" y1="0" x2="0" y2="1"><stop offset="0" stop-color="#14148f" stop-opacity="1"/><stop offset="0.3" stop-color="#14148f" stop-opacity="0.85"/><stop offset="0.6" stop-color="#14148f" stop-opacity="0.25"/><stop offset="0.85" stop-color="#14148f" stop-opacity="0"/><stop offset="1" stop-color="#16169a" stop-opacity="0"/></linearGradient>
<linearGradient id="fadeLo" x1="0" y1="0" x2="0" y2="1"><stop offset="0" stop-color="#d28428" stop-opacity="0.5"/><stop offset="0.2" stop-color="#d28428" stop-opacity="0.1"/><stop offset="1" stop-color="#d28428" stop-opacity="0"/></linearGradient>
<linearGradient id="fadeRo" x1="0" y1="0" x2="0" y2="1"><stop offset="0" stop-color="#d28428" stop-opacity="0.5"/><stop offset="0.2" stop-color="#d28428" stop-opacity="0.1"/><stop offset="1" stop-color="#d28428" stop-opacity="0"/></linearGradient>
</defs>
<path d="M251.1,248.9 L296.4,270.9 L296.4,303.1 L253.8,276.0 Z" fill="#1818a0"/>
<path d="M296.4,270.9 L342.7,249.6 L340.4,278.0 L296.4,303.1 Z" fill="#1616a0"/>
<path d="M251.1,248.9 L296.2,235.7 L342.7,249.6 L296.4,270.9 Z" fill="#10107c"/>
<path d="M295.7 264.8h.9M297.3 242.9h.9M294.1 250.4h.9M316.8 253.5h.9M256.6 248.3h.9M308.8 244.5h.9M285.6 238.9h.9M304.3 256.3h.9M304.5 264.9h.9M293.2 237.5h.9M276.8 260.4h.9M311.2 242.0h.9M280.1 254.6h.9M262.5 253.3h.9M293.6 252.3h.9M272.1 250.5h.9M281.9 255.3h.9M265.2 245.5h.9M314.6 246.3h.9M288.6 243.5h.9M335.8 247.8h.9M271.7 254.3h.9M316.5 250.9h.9M312.9 242.6h.9M319.6 248.2h.9M291.6 256.4h.9M330.1 249.8h.9M300.9 252.8h.9M263.7 253.7h.9M306.2 244.8h.9M283.9 257.9h.9M313.9 250.6h.9M288.1 252.3h.9M309.8 256.1h.9M292.7 249.0h.9M274.5 243.0h.9M285.0 263.6h.9M323.0 244.2h.9M276.6 246.9h.9M318.8 259.9h.9M310.8 247.2h.9M300.7 241.0h.9M318.0 259.1h.9M298.3 249.2h.9M288.2 256.2h.9M294.5 236.3h.9M324.4 251.4h.9M325.4 248.2h.9M311.6 246.2h.9M296.0 248.9h.9M293.1 266.9h.9M286.0 244.8h.9M296.1 250.9h.9M283.0 250.8h.9M304.0 252.8h.9M299.8 248.6h.9M262.8 253.5h.9M285.7 258.6h.9M326.9 249.5h.9M324.8 251.1h.9M301.0 262.3h.9M285.3 241.4h.9M252.5 249.0h.9M296.7 242.9h.9M284.4 260.6h.9M269.8 245.7h.9M282.3 257.7h.9M271.1 252.3h.9M304.2 246.9h.9M287.3 253.8h.9M269.7 257.0h.9M278.7 246.8h.9M296.9 266.5h.9M283.7 245.9h.9M316.0 254.9h.9M252.8 249.0h.9M290.4 261.9h.9M290.4 261.4h.9M306.8 248.9h.9M305.5 265.7h.9M311.0 246.4h.9M290.7 259.0h.9M295.3 254.5h.9M294.4 256.9h.9M267.3 254.6h.9M335.4 248.5h.9M304.1 261.6h.9M308.0 263.1h.9M303.9 245.7h.9M262.9 245.7h.9M292.5 237.9h.9M332.6 252.9h.9M284.7 244.4h.9M335.4 252.0h.9M306.3 247.9h.9M284.0 250.5h.9M291.1 259.9h.9M279.5 246.8h.9M286.1 261.6h.9M287.3 254.8h.9M305.6 261.5h.9M292.5 237.3h.9M275.1 252.9h.9M332.0 246.8h.9M276.1 248.5h.9M320.1 253.9h.9M309.1 241.6h.9M322.7 247.5h.9M318.2 260.3h.9M294.8 260.4h.9M262.6 251.4h.9M302.1 240.0h.9M313.1 248.4h.9M306.1 243.4h.9M279.8 250.0h.9M318.2 246.5h.9M335.3 249.0h.9M282.3 258.6h.9M257.6 248.4h.9M293.7 266.5h.9M325.0 251.4h.9M294.6 256.2h.9M303.8 244.5h.9M287.1 245.3h.9M266.9 253.5h.9M317.4 245.5h.9M314.1 243.3h.9M299.5 260.8h.9M289.0 238.2h.9M285.6 241.6h.9M296.5 266.0h.9M263.8 253.6h.9M315.2 241.7h.9M263.9 250.9h.9M295.9 260.6h.9M297.1 266.8h.9M312.6 262.3h.9M305.7 241.2h.9M284.3 255.1h.9M285.2 261.4h.9M253.4 248.6h.9M309.2 240.1h.9M298.7 248.7h.9M268.1 246.0h.9M337.3 251.0h.9M300.0 237.7h.9M289.0 258.6h.9M320.5 243.6h.9M312.7 250.7h.9M287.5 256.3h.9M276.2 249.7h.9M267.5 253.8h.9M316.3 242.2h.9M310.2 251.1h.9M311.7 242.1h.9M279.9 251.2h.9M304.1 261.2h.9M305.4 241.6h.9M291.1 255.0h.9M304.6 251.6h.9M263.1 246.1h.9M265.4 247.1h.9M279.2 242.9h.9M283.3 261.5h.9M300.4 260.6h.9M312.9 257.9h.9M280.9 257.3h.9M290.5 239.6h.9M302.0 238.8h.9M331.6 254.1h.9M303.0 243.0h.9M279.3 258.4h.9M306.2 241.0h.9M298.0 239.2h.9M293.6 237.3h.9M306.6 262.3h.9M329.3 252.3h.9M323.6 249.1h.9M290.4 242.7h.9M277.8 246.1h.9M314.2 250.3h.9M265.4 246.9h.9M332.1 247.7h.9M300.8 251.2h.9M310.5 244.5h.9M284.4 250.0h.9M263.8 246.0h.9M299.5 247.4h.9M279.7 242.5h.9M273.4 246.9h.9M268.5 252.7h.9M306.9 244.0h.9M297.2 255.1h.9M262.0 246.0h.9M298.0 250.8h.9M300.6 247.7h.9M315.8 251.9h.9M284.4 255.7h.9M283.0 246.7h.9M295.4 253.9h.9M334.6 250.4h.9M293.0 258.0h.9M256.5 249.8h.9M314.5 257.8h.9M293.1 262.7h.9M305.4 241.9h.9M321.5 253.7h.9M299.9 257.3h.9M311.8 248.7h.9M331.3 251.1h.9M320.9 244.4h.9M270.5 251.7h.9M286.9 257.6h.9M287.7 239.7h.9M314.9 251.7h.9M290.3 254.2h.9M291.7 261.8h.9M297.4 269.6h.9M316.6 247.9h.9M304.8 263.5h.9M300.8 238.2h.9M325.0 251.9h.9M313.1 251.9h.9M313.5 260.0h.9M312.7 241.5h.9M307.3 245.0h.9M273.3 253.5h.9M298.1 266.3h.9M299.9 237.9h.9M297.0 248.0h.9M269.9 253.6h.9M296.5 260.6h.9M259.9 253.0h.9M271.9 243.5h.9M307.3 250.9h.9M298.3 241.0h.9M288.7 255.8h.9M290.1 256.9h.9M293.6 259.2h.9M324.2 251.1h.9M320.4 243.7h.9M312.5 257.8h.9M312.2 247.7h.9M281.4 249.2h.9M292.7 264.5h.9M290.4 263.1h.9M320.0 258.7h.9M330.4 254.3h.9M280.0 257.6h.9M291.2 246.7h.9" fill="none" stroke="#3a3ae0" stroke-width="0.9" opacity="0.4"/>
<path d="M290.2 248.7h.8M275.0 241.9h.8M291.7 251.3h.8M283.1 252.7h.8M318.0 249.3h.8M303.0 254.1h.8M277.5 247.8h.8M263.9 254.9h.8M318.6 256.1h.8M312.2 245.8h.8M317.1 242.3h.8M307.7 244.1h.8M330.3 254.8h.8M272.6 248.2h.8M303.5 249.7h.8M267.5 244.2h.8M288.1 251.8h.8M308.8 259.7h.8M311.2 253.9h.8M326.3 248.1h.8M307.5 255.8h.8M309.9 251.4h.8M298.2 247.5h.8M308.7 251.3h.8M329.7 247.8h.8M324.8 249.4h.8M315.9 247.5h.8M279.0 249.4h.8M323.4 253.8h.8M282.6 244.4h.8M311.1 245.3h.8M274.2 243.6h.8M308.3 255.5h.8M286.4 249.9h.8M281.6 240.6h.8M317.4 259.1h.8M300.8 246.4h.8M310.1 249.7h.8M270.0 250.4h.8M303.5 241.2h.8M292.2 265.7h.8M291.6 248.5h.8M308.0 255.3h.8M288.4 260.2h.8M320.9 252.7h.8M291.1 257.4h.8M287.1 257.1h.8M294.8 262.9h.8M305.5 242.4h.8M305.0 265.4h.8M321.9 253.3h.8M293.3 268.1h.8M293.7 246.1h.8M305.5 257.3h.8M295.3 241.5h.8M287.0 243.4h.8M315.6 242.3h.8M326.1 247.5h.8M290.5 245.4h.8M281.2 244.4h.8M289.9 262.0h.8M301.7 258.5h.8M294.7 260.1h.8M297.6 244.4h.8M273.9 255.9h.8M277.9 244.2h.8M262.0 247.6h.8M319.0 256.3h.8M262.4 246.7h.8M320.5 252.9h.8M323.1 244.9h.8M304.8 260.5h.8M287.9 261.9h.8M273.5 256.1h.8M290.8 249.2h.8M269.2 251.5h.8M309.5 245.2h.8M287.0 244.9h.8M298.6 244.8h.8M319.7 256.7h.8M298.1 236.4h.8M326.7 251.7h.8M283.0 252.1h.8M319.5 257.1h.8M309.4 260.1h.8M292.3 241.3h.8M293.0 237.1h.8M287.9 260.8h.8M270.9 256.3h.8M278.0 256.9h.8M330.9 251.6h.8M255.5 249.8h.8M291.0 238.5h.8M268.8 247.6h.8M256.5 248.3h.8M314.2 253.0h.8M321.1 253.7h.8M299.0 246.6h.8M324.2 256.9h.8M291.2 244.5h.8M296.2 268.2h.8M293.8 247.1h.8M304.2 250.5h.8M277.4 243.1h.8M285.9 252.1h.8M300.2 264.2h.8M300.6 255.6h.8M317.6 251.5h.8M318.3 251.5h.8M307.0 265.1h.8M299.7 266.0h.8M329.1 250.5h.8M257.6 250.2h.8M309.5 245.4h.8M312.8 262.7h.8M277.0 259.9h.8M277.0 245.4h.8M301.3 257.0h.8M292.0 237.6h.8M278.9 243.6h.8M291.2 239.7h.8M270.1 256.8h.8M298.6 244.3h.8M293.1 263.8h.8M327.1 251.5h.8" fill="none" stroke="#06064a" stroke-width="0.8" opacity="0.5"/>
<path d="M265.7 267.8h.9M263.4 270.1h.9M266.7 265.9h.9M287.2 295.9h.9M277.7 264.9h.9M281.1 276.9h.9M295.9 293.8h.9M289.2 289.3h.9M276.5 287.4h.9M288.9 276.3h.9M259.1 262.7h.9M274.8 263.3h.9M267.8 273.1h.9M255.2 272.1h.9M280.9 272.8h.9M265.3 265.6h.9M267.2 277.6h.9M274.5 275.5h.9M259.9 277.6h.9M266.4 265.5h.9M256.7 277.3h.9M274.1 286.4h.9M293.3 300.2h.9M288.5 295.8h.9M293.0 294.7h.9M258.4 266.4h.9M278.3 291.4h.9M287.0 288.0h.9M285.2 276.5h.9M293.9 290.2h.9M270.1 271.3h.9M295.5 287.5h.9M259.0 256.7h.9M282.7 281.2h.9M292.2 274.7h.9M270.9 279.2h.9M253.6 252.7h.9M276.1 268.8h.9M256.6 258.5h.9M280.3 278.8h.9M254.8 252.6h.9M289.9 287.8h.9M260.9 276.8h.9M253.1 259.4h.9M289.8 289.9h.9M265.7 280.6h.9M279.1 288.2h.9M291.7 282.0h.9M282.2 280.4h.9M294.0 295.2h.9M284.6 289.9h.9M296.3 279.1h.9M261.8 274.3h.9M286.3 281.8h.9M273.7 271.6h.9M291.3 293.5h.9M277.6 263.0h.9M289.8 282.0h.9M260.4 261.5h.9M282.4 264.3h.9M257.3 259.9h.9M291.5 292.0h.9M295.1 287.7h.9M277.6 278.0h.9M275.6 276.6h.9M288.6 296.7h.9M270.6 276.3h.9M265.6 264.3h.9M274.8 277.4h.9M277.2 290.2h.9M259.9 270.3h.9M296.2 294.5h.9M277.2 272.4h.9M270.8 285.0h.9M291.8 289.8h.9M292.1 298.0h.9M289.6 279.6h.9M273.3 282.6h.9M269.2 278.8h.9M273.4 269.4h.9M271.9 262.4h.9M267.9 268.7h.9M252.4 254.0h.9M264.6 279.0h.9M278.1 270.5h.9M296.3 279.2h.9M275.3 282.2h.9M282.8 277.4h.9M286.6 281.1h.9M283.9 279.7h.9M295.2 293.2h.9M255.6 254.5h.9M294.9 277.5h.9M252.9 256.4h.9M274.2 287.6h.9M270.4 278.8h.9M288.9 270.1h.9M279.9 292.5h.9M276.6 277.0h.9M268.5 283.8h.9M295.0 273.5h.9M276.7 273.6h.9M281.6 267.3h.9M263.7 262.7h.9M273.9 282.9h.9M290.3 292.5h.9M281.8 266.5h.9M269.9 276.9h.9M265.4 269.9h.9M292.1 272.5h.9M289.8 271.0h.9M270.1 283.7h.9M261.3 268.0h.9M271.4 284.0h.9M296.0 280.0h.9M274.6 286.2h.9M276.0 267.3h.9M285.7 276.1h.9M273.1 259.8h.9M295.9 291.8h.9M293.2 300.1h.9M264.3 270.2h.9M272.2 280.9h.9M289.4 274.6h.9M264.9 275.1h.9M270.0 261.8h.9M261.2 269.0h.9M279.3 291.0h.9M276.0 278.8h.9M258.8 263.7h.9M265.1 274.9h.9M263.6 260.9h.9M268.6 270.6h.9M267.5 273.8h.9M261.3 277.5h.9M283.0 280.6h.9M254.6 259.1h.9M282.9 283.8h.9M288.3 294.6h.9M266.3 270.0h.9M266.3 259.8h.9M258.0 259.1h.9M256.4 265.7h.9M283.4 281.6h.9M282.3 270.9h.9M261.4 269.2h.9M291.3 281.7h.9M251.3 249.5h.9M266.1 273.3h.9M255.5 256.9h.9M282.8 294.0h.9M267.6 273.7h.9M274.6 261.0h.9M266.3 260.2h.9M264.0 276.3h.9M282.0 265.1h.9M256.4 270.5h.9M256.5 259.9h.9M263.4 256.2h.9M252.9 253.4h.9M270.7 284.9h.9M280.3 270.3h.9M282.1 272.2h.9M274.9 269.8h.9M294.1 281.0h.9M287.8 286.6h.9M289.6 286.5h.9M290.7 280.8h.9M282.4 282.8h.9M275.7 277.3h.9M275.9 272.4h.9M292.0 288.7h.9M276.0 262.6h.9M274.4 265.3h.9M261.8 265.9h.9M276.1 268.4h.9M264.4 270.0h.9M273.1 271.2h.9M256.7 261.5h.9M281.3 279.9h.9M276.8 286.1h.9M284.4 285.9h.9M253.3 258.0h.9M282.1 268.7h.9M292.5 273.5h.9M291.0 275.1h.9M289.6 294.0h.9M267.9 281.9h.9M260.3 276.1h.9M269.1 270.1h.9M257.9 268.1h.9M264.6 273.8h.9M287.6 285.3h.9M254.0 274.9h.9M292.9 289.6h.9M269.2 273.6h.9M291.2 282.8h.9M286.8 284.6h.9M271.7 285.5h.9M270.6 275.6h.9M254.7 263.0h.9M254.6 268.9h.9M251.2 250.1h.9M256.5 255.2h.9M274.6 270.7h.9M265.3 282.9h.9M292.4 289.7h.9M287.9 292.1h.9M263.9 277.2h.9M263.1 270.1h.9M267.6 261.4h.9M286.8 294.5h.9M266.9 281.1h.9M267.9 275.5h.9M296.2 295.7h.9M254.7 262.0h.9M268.6 265.7h.9M288.3 280.6h.9M283.3 283.8h.9M274.7 262.0h.9M282.4 290.9h.9M260.3 270.7h.9M273.7 269.7h.9M284.0 294.5h.9M254.5 273.8h.9M269.8 281.6h.9M260.6 272.8h.9M256.4 260.4h.9M295.1 291.3h.9M286.9 280.5h.9M273.1 273.8h.9M286.6 288.4h.9M260.8 265.5h.9M276.4 277.9h.9M293.2 296.0h.9M258.8 262.7h.9M256.1 252.0h.9M254.9 255.6h.9M286.2 286.4h.9M287.4 275.4h.9M260.4 279.4h.9M289.0 296.7h.9M253.0 260.1h.9M280.5 285.2h.9M292.6 286.1h.9M268.8 257.7h.9M288.0 297.2h.9M292.4 289.9h.9M267.0 263.3h.9M286.8 295.0h.9M294.6 275.6h.9M278.2 277.2h.9M271.7 281.6h.9M293.6 292.6h.9M283.4 285.5h.9M281.2 279.6h.9M263.9 276.5h.9M258.0 269.4h.9M269.6 273.7h.9M280.6 277.6h.9M295.4 278.1h.9M254.2 275.1h.9M265.8 263.7h.9M270.9 275.4h.9M295.8 293.3h.9M266.5 271.3h.9M272.2 273.5h.9M270.3 263.0h.9M269.7 268.9h.9M262.0 276.3h.9M267.7 261.2h.9M277.8 286.7h.9M286.8 285.4h.9M284.5 275.3h.9M258.2 259.1h.9M267.4 264.6h.9M272.5 263.6h.9M257.6 258.8h.9M261.7 275.8h.9M275.7 266.6h.9M271.9 283.9h.9M277.9 278.3h.9M269.1 263.2h.9M279.5 265.0h.9M286.7 268.0h.9M285.2 277.1h.9M282.5 282.0h.9M258.2 266.7h.9M255.1 257.2h.9M268.9 265.6h.9M282.0 293.5h.9M268.7 281.0h.9M262.8 273.9h.9M267.8 272.0h.9M257.1 273.6h.9M261.6 266.5h.9M265.8 278.4h.9M278.6 280.5h.9M285.5 273.4h.9M255.8 272.9h.9" fill="none" stroke="#3a3ae0" stroke-width="0.9" opacity="0.4"/>
<path d="M266.9 279.2h.8M294.5 290.1h.8M257.8 274.8h.8M280.0 270.3h.8M261.6 267.8h.8M258.8 276.7h.8M283.8 289.6h.8M270.0 284.2h.8M258.8 271.7h.8M262.6 254.6h.8M257.1 257.1h.8M285.9 277.4h.8M273.8 277.6h.8M264.5 273.0h.8M282.3 291.8h.8M275.0 285.3h.8M295.0 294.8h.8M270.6 266.1h.8M257.6 274.0h.8M258.3 267.3h.8M271.7 260.2h.8M262.6 276.8h.8M276.7 288.3h.8M292.3 271.9h.8M281.9 265.1h.8M270.9 271.1h.8M294.5 289.0h.8M260.8 267.4h.8M275.0 266.2h.8M268.9 282.2h.8M295.6 295.4h.8M256.3 275.2h.8M273.1 283.5h.8M259.4 256.9h.8M292.2 277.9h.8M254.3 263.5h.8M296.0 297.6h.8M270.7 286.5h.8M287.7 292.7h.8M280.7 275.1h.8M292.2 283.8h.8M293.5 287.1h.8M292.4 284.1h.8M271.3 275.5h.8M265.7 260.2h.8M278.7 287.5h.8M265.4 279.7h.8M287.2 290.4h.8M271.5 287.2h.8M287.3 284.2h.8M257.6 267.3h.8M254.2 273.7h.8M267.0 266.9h.8M276.8 280.1h.8M278.0 276.3h.8M280.7 288.6h.8M272.1 273.4h.8M287.8 266.8h.8M259.1 261.5h.8M262.7 278.9h.8M258.1 255.2h.8M266.4 270.5h.8M288.8 298.1h.8M289.9 286.8h.8M253.0 251.5h.8M280.5 287.6h.8M265.0 282.3h.8M276.7 278.2h.8M279.2 264.8h.8M260.9 278.8h.8M263.4 257.2h.8M265.3 275.8h.8M263.4 260.7h.8M264.6 268.7h.8M284.7 274.4h.8M291.0 298.9h.8M288.4 269.3h.8M267.1 282.4h.8M290.1 272.0h.8M271.7 269.3h.8M285.0 266.2h.8M266.8 277.4h.8M291.3 269.7h.8M278.5 281.8h.8M290.8 281.5h.8M295.2 276.6h.8M256.6 255.0h.8M277.8 265.5h.8M263.6 260.4h.8M256.1 276.5h.8M268.0 284.0h.8M284.0 271.6h.8M293.3 269.7h.8M295.6 271.5h.8M263.7 270.1h.8M253.6 269.9h.8M257.0 273.3h.8M254.1 264.1h.8M261.2 261.6h.8M273.8 270.7h.8M269.9 276.5h.8M260.3 258.3h.8M282.4 273.0h.8M293.4 283.0h.8M272.6 260.0h.8M252.3 252.2h.8M280.1 282.8h.8M294.3 283.7h.8M283.4 275.0h.8M255.5 262.1h.8M283.5 289.0h.8M294.3 296.4h.8M277.3 277.8h.8M274.4 274.1h.8M282.4 281.5h.8M290.1 281.9h.8M273.6 283.8h.8M282.2 279.8h.8M277.6 285.4h.8M278.9 270.1h.8M266.3 273.1h.8M254.4 262.4h.8M291.6 275.9h.8M272.3 279.2h.8M293.2 291.4h.8M279.8 274.3h.8M271.9 277.4h.8M268.6 279.4h.8M253.5 269.5h.8M284.9 274.7h.8M252.7 258.4h.8M278.7 285.6h.8M290.6 274.6h.8M255.1 254.0h.8M295.9 291.4h.8M258.5 270.9h.8M294.6 289.4h.8M263.6 281.2h.8M283.0 269.9h.8M286.1 281.4h.8M277.5 272.5h.8M265.2 267.4h.8M275.5 274.2h.8M290.4 270.3h.8M262.1 279.6h.8M279.3 280.9h.8M279.9 270.1h.8M269.3 263.7h.8M260.3 279.8h.8M285.4 292.4h.8" fill="none" stroke="#06064a" stroke-width="0.8" opacity="0.5"/>
<path d="M296.5 293.5h.9M310.3 279.8h.9M327.6 257.4h.9M313.1 280.1h.9M335.9 267.1h.9M310.7 282.8h.9M323.0 267.2h.9M321.4 267.5h.9M296.9 280.7h.9M300.3 284.7h.9M318.6 286.6h.9M329.7 277.0h.9M341.6 257.3h.9M313.5 270.1h.9M301.0 285.1h.9M319.9 263.9h.9M337.0 279.3h.9M299.6 269.5h.9M299.2 293.0h.9M335.7 254.7h.9M296.8 288.0h.9M311.8 264.4h.9M296.8 277.5h.9M305.5 275.9h.9M321.6 266.7h.9M307.1 272.5h.9M337.0 258.9h.9M321.5 272.7h.9M311.4 276.4h.9M297.1 276.5h.9M324.9 279.9h.9M306.4 271.8h.9M338.1 254.4h.9M331.6 279.6h.9M302.9 294.1h.9M303.3 269.1h.9M309.4 275.5h.9M323.1 271.6h.9M331.9 273.4h.9M301.9 274.8h.9M330.7 258.4h.9M338.7 273.8h.9M306.4 275.2h.9M307.8 278.7h.9M307.9 266.6h.9M307.9 271.6h.9M312.2 277.5h.9M335.6 271.3h.9M323.7 283.6h.9M313.9 275.8h.9M307.3 291.7h.9M335.2 278.5h.9M324.2 261.4h.9M299.6 294.8h.9M336.3 267.4h.9M337.1 278.0h.9M330.7 265.7h.9M317.2 271.9h.9M314.3 276.9h.9M297.2 274.6h.9M304.0 285.2h.9M335.3 272.9h.9M303.2 282.2h.9M325.2 261.6h.9M300.0 288.7h.9M307.0 286.1h.9M304.0 294.2h.9M310.4 277.6h.9M320.7 285.9h.9M337.0 275.6h.9M328.0 258.4h.9M304.8 283.8h.9M340.4 270.6h.9M305.1 278.0h.9M339.8 264.9h.9M335.0 277.2h.9M331.5 272.6h.9M326.7 266.9h.9M301.7 298.4h.9M297.9 278.9h.9M323.5 286.6h.9M306.0 274.2h.9M335.0 262.3h.9M314.7 273.3h.9M298.6 300.0h.9M328.7 256.2h.9M300.9 273.1h.9M312.7 290.5h.9M302.8 275.1h.9M310.5 280.1h.9M337.0 267.2h.9M337.1 267.2h.9M315.5 288.3h.9M322.7 272.8h.9M319.7 270.7h.9M316.4 263.9h.9M305.5 290.5h.9M302.5 274.7h.9M303.8 278.9h.9M298.6 281.4h.9M323.7 278.2h.9M336.4 254.9h.9M325.9 263.0h.9M311.8 281.4h.9M333.9 272.5h.9M342.0 250.4h.9M310.7 279.1h.9M298.1 271.8h.9M312.9 280.3h.9M302.7 270.2h.9M310.6 287.1h.9M321.4 288.8h.9M323.2 284.6h.9M322.3 273.1h.9M315.6 264.2h.9M299.2 290.6h.9M336.1 253.2h.9M304.6 277.4h.9M310.3 290.1h.9M307.9 275.1h.9M317.9 289.4h.9M309.6 284.3h.9M298.6 283.7h.9M338.9 257.4h.9M312.4 283.5h.9M321.8 276.2h.9M323.6 278.1h.9M311.1 274.9h.9M314.3 278.5h.9M321.5 285.1h.9M314.3 276.3h.9M333.1 281.4h.9M307.2 288.6h.9M307.4 288.8h.9M298.1 286.3h.9M321.9 279.8h.9M337.2 274.2h.9M321.8 273.9h.9M297.0 288.4h.9M321.5 281.2h.9M303.8 286.0h.9M298.7 293.0h.9M333.6 266.1h.9M327.2 275.8h.9M310.4 267.2h.9M330.9 265.2h.9M303.7 281.4h.9M333.1 280.9h.9M321.4 288.0h.9M304.2 282.7h.9M296.8 278.2h.9M336.9 253.9h.9M325.9 272.1h.9M339.9 278.1h.9M302.0 276.6h.9M341.6 259.2h.9M304.4 295.8h.9M324.5 267.0h.9M321.5 272.0h.9M317.0 278.0h.9M304.0 286.7h.9M339.3 267.5h.9M332.3 262.4h.9M303.6 267.8h.9M341.6 253.4h.9M313.4 282.9h.9M329.4 273.4h.9M315.9 286.4h.9M316.0 287.0h.9M298.8 292.8h.9M300.8 281.2h.9M316.7 267.0h.9M316.3 287.3h.9M298.1 276.3h.9M340.6 262.9h.9M313.6 290.6h.9M332.0 259.4h.9M323.8 263.6h.9M331.3 270.7h.9M333.3 255.8h.9M338.9 257.7h.9M334.9 265.6h.9M337.3 254.9h.9M298.8 284.7h.9M338.5 264.4h.9M319.7 265.1h.9M320.9 272.3h.9M336.0 273.3h.9M318.4 265.2h.9M302.8 298.5h.9M324.4 264.6h.9M333.5 259.9h.9M316.5 288.0h.9M301.2 272.0h.9M298.8 274.6h.9M313.5 272.8h.9M309.4 265.4h.9M318.5 274.0h.9M330.2 264.0h.9M322.9 267.9h.9M331.0 260.0h.9M318.6 274.0h.9M317.1 277.5h.9M320.8 269.0h.9M332.8 281.0h.9M321.5 278.1h.9M329.4 264.9h.9M323.2 272.1h.9M318.4 272.5h.9M321.0 266.1h.9M307.4 272.0h.9M323.6 265.6h.9M330.9 280.7h.9M331.0 264.3h.9M339.3 260.7h.9M312.6 281.5h.9M326.4 269.0h.9M331.3 279.1h.9M309.6 271.7h.9M314.2 283.9h.9M327.1 261.8h.9M313.6 290.3h.9M339.5 267.7h.9M331.0 278.8h.9M306.7 268.2h.9M324.2 269.4h.9M328.8 264.4h.9M315.7 286.4h.9M300.6 281.9h.9M303.3 284.5h.9M328.7 284.3h.9M331.0 259.1h.9M316.1 278.1h.9M324.9 278.2h.9M339.4 277.0h.9M306.0 271.4h.9M341.0 254.8h.9M341.0 253.7h.9M323.3 262.3h.9M302.5 278.6h.9M331.9 274.5h.9M311.0 268.4h.9M312.9 268.6h.9M307.0 281.5h.9M318.0 288.5h.9M300.4 286.0h.9M322.4 263.2h.9M313.0 267.5h.9M337.1 261.9h.9M299.3 284.7h.9M319.8 286.4h.9M329.4 261.7h.9M338.4 251.7h.9M328.6 257.3h.9M334.0 258.9h.9M331.8 277.6h.9M331.9 257.7h.9M314.8 265.6h.9M328.0 284.9h.9M319.8 279.5h.9M327.1 260.9h.9M313.3 273.7h.9M330.4 267.0h.9M313.0 280.0h.9M305.9 268.6h.9M307.4 266.5h.9M326.7 270.2h.9M324.1 274.7h.9M298.8 295.8h.9M334.3 253.7h.9M315.5 285.8h.9M314.8 288.4h.9M327.5 275.6h.9M336.7 274.0h.9M323.4 259.9h.9M316.7 282.2h.9M319.9 277.4h.9M311.9 289.4h.9M307.4 285.7h.9M316.5 266.1h.9M297.3 274.7h.9M309.4 279.5h.9M297.6 272.5h.9M331.5 282.5h.9M315.9 276.1h.9M324.2 261.0h.9M320.5 279.7h.9M338.7 269.2h.9M321.1 271.7h.9M337.5 266.5h.9M317.7 283.0h.9M316.6 263.6h.9M322.6 284.2h.9M313.4 266.0h.9M301.1 297.5h.9M301.4 289.3h.9M300.3 285.4h.9M338.1 258.2h.9M310.2 283.3h.9M322.2 275.5h.9" fill="none" stroke="#3a3ae0" stroke-width="0.9" opacity="0.4"/>
<path d="M314.5 263.8h.8M323.6 266.5h.8M324.5 270.8h.8M308.2 296.2h.8M310.6 294.1h.8M317.9 277.0h.8M308.7 270.6h.8M328.4 269.3h.8M323.2 263.9h.8M319.2 280.0h.8M330.4 274.3h.8M314.9 283.1h.8M323.4 272.5h.8M325.1 266.6h.8M299.3 274.3h.8M339.4 275.6h.8M334.2 260.8h.8M333.7 275.9h.8M321.1 268.5h.8M301.1 300.3h.8M340.7 273.8h.8M316.3 283.7h.8M337.4 267.1h.8M301.9 299.2h.8M320.3 282.7h.8M325.1 259.6h.8M317.8 261.4h.8M308.1 295.2h.8M327.5 272.9h.8M301.4 290.3h.8M323.5 277.1h.8M326.8 283.7h.8M316.5 280.0h.8M320.2 277.4h.8M327.6 262.0h.8M299.0 273.4h.8M298.3 287.8h.8M310.0 288.8h.8M303.8 272.2h.8M336.3 255.1h.8M312.2 284.7h.8M322.1 266.9h.8M302.5 286.3h.8M307.4 292.4h.8M308.1 294.4h.8M297.4 290.1h.8M309.2 279.7h.8M315.8 286.3h.8M304.7 291.1h.8M297.9 290.6h.8M333.7 265.8h.8M335.0 263.1h.8M312.1 291.4h.8M340.5 272.2h.8M306.5 295.5h.8M312.6 289.8h.8M311.1 270.8h.8M307.9 287.0h.8M340.6 264.9h.8M301.2 290.4h.8M336.4 274.3h.8M296.5 280.9h.8M331.1 274.9h.8M340.5 275.2h.8M332.1 274.0h.8M314.0 263.9h.8M331.2 267.9h.8M336.2 256.3h.8M334.8 271.3h.8M336.0 272.2h.8M316.1 277.4h.8M300.9 276.5h.8M322.8 264.0h.8M312.5 283.1h.8M322.7 285.0h.8M315.9 278.6h.8M315.2 285.0h.8M324.0 285.8h.8M302.9 271.9h.8M309.5 283.8h.8M325.7 263.3h.8M308.6 283.7h.8M308.1 291.2h.8M301.1 293.5h.8M303.2 290.2h.8M330.9 281.8h.8M338.1 252.4h.8M325.6 283.8h.8M331.3 267.8h.8M330.6 263.3h.8M332.8 265.6h.8M341.3 251.0h.8M323.2 262.4h.8M330.2 283.0h.8M318.2 285.9h.8M307.2 266.8h.8M332.8 265.8h.8M300.2 290.6h.8M337.9 254.1h.8M324.2 268.3h.8M298.4 272.3h.8M298.5 279.8h.8M310.3 281.0h.8M323.9 283.1h.8M335.7 257.6h.8M324.2 283.7h.8M307.6 284.4h.8M340.7 267.9h.8M328.4 265.1h.8M340.5 273.4h.8M311.1 273.4h.8M296.6 286.3h.8M335.3 275.0h.8M303.1 275.4h.8M303.8 275.7h.8M305.7 271.8h.8M320.8 286.6h.8M334.7 270.7h.8M310.4 292.3h.8M306.2 267.6h.8M306.0 291.1h.8M328.3 265.2h.8M306.3 286.2h.8M319.1 284.0h.8M317.0 263.9h.8M299.6 276.8h.8M319.8 281.3h.8M322.1 259.3h.8M339.5 263.7h.8M321.2 265.2h.8M307.5 272.4h.8M323.2 285.1h.8M308.4 276.2h.8M309.7 265.7h.8M296.9 295.8h.8M341.6 251.3h.8M299.9 283.7h.8M310.3 272.1h.8M336.3 258.0h.8M305.0 295.3h.8M324.3 278.1h.8M327.3 257.4h.8M341.6 250.9h.8M306.7 280.9h.8M333.4 280.6h.8M296.8 275.2h.8M297.1 275.0h.8M338.5 253.9h.8M321.1 265.3h.8M296.8 279.7h.8" fill="none" stroke="#06064a" stroke-width="0.8" opacity="0.5"/>
<path d="M251.1,248.9 L296.2,235.7 L342.7,249.6 L340.4,278.0 L296.4,303.1 L253.8,276.0 Z M251.1,248.9 L296.4,270.9 L342.7,249.6 M296.4,270.9 L296.4,303.1" fill="none" stroke="#303038" stroke-width="0.7"/>
<path d="M296.1 314.1h.65M312.2 332.9h.65M303.1 329.9h.65M300.2 359.5h.65M294.8 331.6h.65M278.8 347.8h.65M263.7 330.4h.65M303.0 343.1h.65M322.2 342.9h.65M313.2 332.6h.65M312.4 347.2h.65M305.0 360.6h.65M315.1 351.3h.65M276.7 347.5h.65M303.4 348.9h.65M302.3 344.4h.65M301.1 346.0h.65M300.1 334.3h.65M295.8 336.2h.65M273.4 350.2h.65M285.2 324.6h.65M289.7 338.3h.65M291.9 331.0h.65M260.5 332.5h.65M289.6 324.8h.65M312.6 351.1h.65M283.1 340.1h.65M286.0 343.7h.65M300.2 348.5h.65M272.1 334.4h.65M260.7 342.8h.65M333.7 332.1h.65M288.9 349.7h.65M294.1 330.0h.65M254.3 336.6h.65M279.2 326.0h.65M286.1 341.1h.65M316.6 333.9h.65M279.3 336.4h.65M317.5 328.1h.65M270.4 338.9h.65M291.9 333.9h.65M286.5 334.5h.65M298.3 332.3h.65M289.5 322.7h.65M319.6 349.4h.65M308.9 334.9h.65M286.8 343.9h.65M324.6 348.7h.65M283.4 348.1h.65M292.2 324.0h.65M276.2 331.9h.65M309.4 323.9h.65M300.4 336.0h.65M302.5 337.1h.65M304.8 347.6h.65M277.2 331.3h.65M298.5 328.3h.65M300.1 357.4h.65M313.5 343.7h.65M312.2 350.1h.65M309.2 340.2h.65M319.4 345.5h.65M294.4 364.9h.65M328.3 327.8h.65M294.5 336.9h.65M295.3 340.9h.65M282.5 338.5h.65M303.0 342.0h.65M310.4 342.1h.65M271.8 332.9h.65M303.3 337.6h.65M295.7 318.6h.65M281.6 342.9h.65M288.4 351.5h.65M307.4 340.9h.65M305.5 335.1h.65M292.3 352.2h.65M292.6 326.9h.65M275.8 354.0h.65M292.8 328.9h.65M306.8 350.7h.65M270.6 328.0h.65M299.5 341.1h.65M304.7 343.0h.65M313.0 336.6h.65M315.1 348.5h.65M325.6 337.0h.65M297.0 331.6h.65M309.3 341.7h.65M288.6 357.7h.65M286.7 343.9h.65M282.7 336.2h.65M276.6 335.7h.65M297.0 330.5h.65M304.1 335.9h.65M303.2 338.0h.65M311.8 347.7h.65M293.1 343.8h.65M300.6 351.9h.65M307.7 330.4h.65M261.3 355.3h.65M308.0 335.3h.65M269.3 334.8h.65M283.9 341.0h.65M288.4 326.0h.65M309.5 338.8h.65M279.4 335.4h.65M265.6 339.0h.65M320.8 335.4h.65M265.5 347.8h.65M277.7 336.9h.65M288.4 347.7h.65M296.7 332.2h.65M304.9 332.3h.65M282.9 330.8h.65M296.3 350.5h.65M288.5 363.5h.65M279.9 321.8h.65M302.0 351.1h.65M275.2 347.7h.65M303.0 353.4h.65M301.0 344.0h.65M288.0 344.1h.65M276.5 343.0h.65M304.1 341.7h.65M287.0 337.2h.65M281.2 338.1h.65M301.7 341.4h.65M275.8 347.8h.65M282.4 330.5h.65M286.2 339.3h.65M278.1 339.3h.65M288.1 344.8h.65M325.2 331.6h.65M311.8 336.7h.65M285.0 326.7h.65M291.7 347.4h.65M281.0 341.2h.65M303.4 331.1h.65M303.4 348.5h.65M269.4 335.4h.65M320.1 333.8h.65M285.3 349.1h.65M303.4 339.4h.65M284.1 339.4h.65M321.1 345.5h.65M292.8 345.3h.65M279.6 351.8h.65M304.2 337.1h.65M316.9 340.8h.65M302.2 342.2h.65M265.0 333.1h.65M291.8 334.0h.65M308.9 338.7h.65M288.9 351.6h.65M293.5 336.7h.65M314.0 327.7h.65M272.4 329.5h.65M320.5 334.4h.65M287.0 337.5h.65M314.0 323.4h.65M314.6 332.1h.65M304.2 347.5h.65M299.1 338.2h.65M302.7 333.9h.65M311.4 349.3h.65M308.4 345.8h.65M314.4 334.2h.65M274.6 340.9h.65M291.8 355.2h.65M308.5 350.7h.65M312.6 351.9h.65M298.1 322.6h.65M298.2 351.8h.65M292.3 339.6h.65M295.3 339.2h.65M280.3 339.2h.65M329.4 339.3h.65M288.2 337.4h.65M307.5 334.6h.65M299.1 364.9h.65M295.3 336.4h.65M299.3 329.1h.65M288.1 328.9h.65M317.6 336.3h.65M285.9 332.4h.65M295.9 343.4h.65M311.9 349.6h.65M285.4 346.8h.65M285.7 333.2h.65M262.7 331.7h.65M269.7 344.4h.65M313.5 345.2h.65M278.5 337.5h.65M332.6 339.6h.65M304.7 318.8h.65M318.7 347.7h.65M313.7 325.9h.65M299.4 334.4h.65M303.8 339.2h.65M297.1 339.5h.65M276.3 329.6h.65M302.3 349.1h.65M276.7 350.1h.65M284.1 348.4h.65M295.1 324.3h.65M295.9 335.4h.65M288.9 352.5h.65M289.2 336.0h.65M278.5 331.5h.65M295.9 332.9h.65M301.1 354.4h.65M271.1 341.5h.65M262.3 344.7h.65M273.9 332.8h.65M300.7 328.8h.65M319.5 349.3h.65M299.5 338.3h.65M301.1 342.4h.65M299.8 333.3h.65M314.6 348.7h.65M298.0 316.2h.65M281.4 353.8h.65M295.7 337.3h.65M313.9 327.9h.65M316.0 350.1h.65M311.7 343.8h.65M278.6 345.3h.65M287.3 345.2h.65M262.5 332.9h.65M300.3 354.4h.65M281.6 336.0h.65M293.3 337.2h.65M305.5 360.0h.65M270.8 360.4h.65M305.0 346.2h.65M303.7 328.4h.65M306.6 344.7h.65M291.2 351.7h.65M308.9 336.7h.65M317.3 325.5h.65M291.4 349.3h.65M305.0 341.6h.65M280.0 330.3h.65M290.3 348.6h.65M335.5 327.1h.65M292.0 350.9h.65M312.9 333.1h.65M296.1 331.3h.65M279.5 325.3h.65M287.3 327.3h.65M286.3 323.2h.65M259.2 334.1h.65M324.3 327.9h.65M257.8 328.7h.65M304.3 352.1h.65M292.6 341.4h.65M292.4 333.3h.65M287.7 342.8h.65M298.6 338.1h.65M271.6 343.7h.65M304.7 347.5h.65M301.8 320.0h.65M297.1 359.1h.65M301.9 353.5h.65M305.9 333.3h.65M304.4 339.8h.65M301.7 349.7h.65M323.4 334.8h.65M292.9 330.9h.65M275.0 328.7h.65M330.1 345.5h.65M295.6 333.9h.65M296.9 337.0h.65M294.8 332.6h.65M311.1 328.9h.65M293.6 339.3h.65M300.5 347.6h.65M313.4 359.8h.65M297.7 340.8h.65M295.7 320.0h.65M282.0 336.2h.65M302.3 340.8h.65M304.7 328.4h.65M301.7 333.1h.65M264.7 345.2h.65M308.0 343.6h.65M288.9 336.4h.65M306.6 345.0h.65M302.3 350.0h.65M315.5 337.9h.65M304.7 315.2h.65M293.4 344.9h.65M272.8 340.8h.65M306.1 335.0h.65M300.0 337.7h.65M296.1 337.2h.65M295.0 352.2h.65M306.6 344.3h.65M294.2 346.2h.65M280.8 341.9h.65M280.1 335.1h.65M276.6 339.1h.65M319.1 344.3h.65M273.5 342.7h.65M299.3 332.9h.65M294.3 348.3h.65M309.8 324.2h.65M286.2 341.1h.65M310.7 323.0h.65M296.9 337.3h.65M302.4 338.9h.65M297.9 341.4h.65M303.0 347.4h.65M272.4 347.9h.65M301.2 325.9h.65M310.7 326.9h.65M310.8 339.5h.65M317.9 330.5h.65M314.6 343.8h.65M283.7 341.4h.65M310.4 338.3h.65M293.3 349.3h.65M305.2 343.6h.65M291.2 336.1h.65M276.3 337.9h.65M316.5 344.2h.65M290.9 342.1h.65M289.7 352.7h.65M294.1 336.7h.65M271.0 328.0h.65M320.2 357.2h.65M290.2 340.3h.65M296.3 339.6h.65M315.0 344.8h.65M301.0 342.6h.65M303.2 346.3h.65M305.5 343.4h.65M314.1 323.5h.65M270.0 326.1h.65M304.6 338.2h.65M282.0 338.8h.65M276.7 333.7h.65M302.8 330.9h.65M305.0 333.8h.65M304.6 323.9h.65M278.1 341.2h.65M290.5 326.0h.65M283.9 344.3h.65M302.8 328.3h.65M299.7 330.0h.65M292.1 339.7h.65M301.7 319.1h.65M283.2 330.6h.65M294.7 340.4h.65M269.5 330.6h.65M304.6 326.4h.65M282.7 345.3h.65M295.8 337.0h.65M294.4 342.1h.65M295.9 350.4h.65M265.1 337.4h.65M308.4 335.1h.65M281.5 335.8h.65M278.8 333.6h.65M307.0 337.8h.65M304.5 344.6h.65M278.1 342.1h.65M281.5 339.3h.65M288.0 335.4h.65M313.5 341.8h.65M276.2 344.7h.65M323.3 349.2h.65M302.1 344.8h.65M299.8 339.3h.65M301.7 338.3h.65M290.3 317.8h.65M307.2 334.3h.65M304.4 335.2h.65M281.2 345.7h.65M301.3 345.5h.65M286.3 349.5h.65M291.6 334.3h.65M308.4 333.9h.65M300.1 327.7h.65M323.3 332.1h.65M310.0 335.1h.65M312.6 348.4h.65M308.7 345.1h.65M325.0 340.1h.65M293.5 351.3h.65M276.4 354.3h.65M301.3 351.1h.65M299.2 366.8h.65M305.3 358.3h.65M281.8 340.1h.65M288.5 356.7h.65M314.6 332.9h.65M304.6 340.5h.65M322.1 330.0h.65M279.6 339.9h.65M289.4 333.3h.65M301.2 342.2h.65M278.6 339.1h.65M320.2 335.4h.65M295.3 322.4h.65M310.6 342.7h.65M294.9 338.8h.65M299.2 345.6h.65M314.8 341.8h.65M334.9 328.0h.65M271.9 349.8h.65M291.8 334.7h.65M302.9 353.6h.65M294.8 332.6h.65M322.0 331.4h.65M310.5 357.0h.65M298.4 332.5h.65M278.9 341.0h.65M278.6 330.6h.65M278.4 340.0h.65M293.9 332.9h.65M275.6 333.0h.65M291.6 335.0h.65M285.3 344.3h.65M327.5 326.6h.65M290.7 335.4h.65M303.3 329.9h.65M298.6 334.1h.65M311.2 342.1h.65M293.5 343.4h.65M260.9 333.6h.65M298.2 367.3h.65M291.7 342.3h.65M308.8 339.3h.65M294.6 341.5h.65M302.7 356.3h.65M270.6 341.6h.65M264.1 328.6h.65M309.6 344.2h.65M313.3 347.9h.65M322.4 340.4h.65M292.1 335.8h.65M310.5 321.7h.65M306.1 331.2h.65M304.6 347.8h.65M299.2 330.8h.65M323.6 339.5h.65M297.0 343.2h.65M299.0 354.0h.65M293.1 329.9h.65M297.8 343.8h.65M302.6 333.3h.65M299.8 341.2h.65M300.5 334.7h.65M295.7 342.1h.65M299.8 346.9h.65M298.7 362.6h.65M313.0 343.9h.65M317.3 333.9h.65M299.9 356.8h.65M292.1 333.4h.65M322.2 341.9h.65M286.1 345.8h.65M305.5 346.5h.65M290.2 340.6h.65M303.9 333.3h.65M292.4 331.2h.65M313.9 342.9h.65M311.6 335.8h.65M319.3 343.3h.65M299.8 333.5h.65M299.9 329.5h.65M295.4 340.7h.65M307.4 328.2h.65M304.6 352.3h.65M285.7 353.4h.65M325.9 352.1h.65M282.1 345.2h.65M288.4 333.7h.65M302.9 343.6h.65M284.4 343.0h.65M296.2 348.1h.65M305.7 348.5h.65M279.8 339.4h.65M306.7 331.6h.65M272.0 351.8h.65M305.5 344.1h.65M291.0 333.7h.65M299.0 332.7h.65M310.7 339.8h.65M299.6 326.1h.65M302.5 334.8h.65M297.9 336.6h.65M309.5 323.9h.65M285.1 331.7h.65M310.1 331.2h.65M309.9 361.2h.65M298.0 341.8h.65M280.5 348.5h.65M273.7 357.0h.65M302.9 332.1h.65M290.4 333.3h.65M311.3 325.4h.65M265.2 334.1h.65M280.5 327.6h.65M301.0 329.9h.65M294.7 354.0h.65M295.2 345.9h.65M274.7 360.0h.65M293.1 336.1h.65M319.6 321.5h.65M296.7 340.3h.65M310.9 351.9h.65M302.6 344.9h.65M318.3 331.9h.65M290.1 343.4h.65M299.0 324.0h.65M286.4 322.9h.65M298.7 347.2h.65M307.4 333.8h.65M300.0 339.7h.65M274.5 347.0h.65M302.3 328.1h.65M290.4 355.5h.65M303.4 341.0h.65M323.7 343.2h.65M293.8 357.5h.65M276.7 342.9h.65M284.9 344.6h.65M324.9 339.0h.65M325.4 337.3h.65M294.7 331.1h.65M289.8 334.8h.65M295.4 315.9h.65M277.9 329.5h.65M278.9 337.8h.65M296.5 348.2h.65M304.8 323.6h.65M286.6 351.6h.65M271.1 332.6h.65M283.0 331.0h.65M267.8 322.0h.65M292.0 347.8h.65M278.2 330.4h.65M262.3 338.2h.65M287.0 352.3h.65M307.8 334.0h.65M284.9 341.7h.65M285.8 345.9h.65M310.1 344.7h.65M285.5 349.5h.65M293.5 334.5h.65M286.2 328.4h.65M313.6 349.9h.65M288.1 333.8h.65M320.5 344.9h.65M295.9 324.7h.65M290.9 341.1h.65M279.8 354.8h.65M275.9 354.8h.65M282.3 333.0h.65M283.8 338.7h.65M311.2 346.9h.65M310.2 332.0h.65M303.4 331.2h.65M287.2 321.3h.65M313.2 345.0h.65M309.1 335.2h.65M296.0 344.6h.65M306.6 332.4h.65M305.0 345.5h.65M291.0 350.6h.65M320.9 340.5h.65M307.2 344.5h.65M282.6 337.8h.65M315.4 341.7h.65M300.7 348.7h.65M289.0 332.3h.65M292.1 346.6h.65M283.3 337.6h.65M296.2 336.6h.65M309.7 334.0h.65M300.0 342.3h.65M314.4 328.0h.65M289.8 338.3h.65M309.4 322.5h.65M292.5 342.6h.65M280.9 347.6h.65M307.4 332.1h.65M303.4 335.7h.65M276.5 345.8h.65M299.6 343.1h.65M287.7 356.2h.65M271.9 347.2h.65M301.3 347.3h.65M303.6 353.4h.65M323.9 328.5h.65M288.2 343.8h.65M320.6 335.2h.65M270.4 343.1h.65M288.7 331.5h.65M281.0 320.9h.65M309.2 352.2h.65M289.8 345.5h.65M305.4 366.3h.65M277.7 334.9h.65M281.4 321.4h.65M279.2 333.9h.65M297.2 332.4h.65M282.7 333.3h.65M277.0 345.3h.65M313.4 350.3h.65M297.7 348.6h.65M304.4 336.7h.65M287.5 327.4h.65M303.6 336.1h.65M296.4 337.9h.65M298.0 369.2h.65M297.9 331.5h.65M296.5 328.6h.65M268.6 331.0h.65M298.4 350.5h.65M299.4 338.0h.65M312.7 335.1h.65M298.3 338.6h.65M292.6 338.1h.65M260.1 326.8h.65M296.5 337.9h.65M306.4 337.4h.65M289.8 346.5h.65M303.8 341.8h.65M282.7 341.4h.65M298.9 330.3h.65M282.5 351.5h.65M287.0 338.2h.65M324.4 338.3h.65M308.7 343.6h.65M293.8 339.6h.65M275.1 352.6h.65M300.8 330.5h.65M299.7 312.9h.65M257.6 335.8h.65M285.5 338.6h.65M294.3 344.9h.65M280.3 339.2h.65M275.4 325.1h.65M290.4 335.7h.65M309.3 326.9h.65M305.5 330.8h.65M325.8 339.4h.65M304.9 329.3h.65M320.6 329.0h.65M311.3 330.9h.65M302.1 348.7h.65M310.5 329.0h.65M262.8 330.5h.65M313.8 339.9h.65M284.7 345.0h.65M300.1 344.0h.65M274.5 348.2h.65M271.5 344.2h.65M326.5 341.3h.65M287.3 332.3h.65M306.1 337.4h.65M283.1 331.8h.65M285.8 334.5h.65M297.6 372.5h.65M270.0 341.0h.65M264.8 333.9h.65M292.0 350.2h.65M295.5 349.5h.65M290.7 347.8h.65M273.5 333.8h.65M303.8 337.3h.65M281.5 359.5h.65M323.4 338.3h.65M307.3 336.5h.65M305.2 337.5h.65M304.2 349.5h.65M319.6 329.9h.65M301.5 339.7h.65M277.7 347.2h.65M300.2 338.4h.65M311.3 349.3h.65M285.8 330.9h.65M315.7 359.9h.65M288.9 325.0h.65M302.4 339.2h.65M309.6 316.2h.65M298.1 356.9h.65M295.6 347.2h.65M327.0 333.5h.65M279.3 342.5h.65M285.9 342.0h.65M317.2 333.2h.65M303.4 338.2h.65M291.6 341.6h.65M322.8 332.7h.65M301.2 344.6h.65M255.3 327.2h.65M271.3 334.1h.65M314.2 347.6h.65M281.0 358.3h.65M310.8 329.5h.65M283.4 358.8h.65M281.6 344.7h.65M275.2 347.3h.65M294.8 340.3h.65M319.7 355.4h.65M283.5 328.1h.65M290.1 334.3h.65M288.5 364.2h.65M292.2 334.5h.65M292.5 340.0h.65M268.9 333.3h.65M290.4 335.1h.65M299.6 334.4h.65M293.3 353.1h.65M309.6 330.3h.65M286.1 333.6h.65M289.3 328.5h.65M299.1 335.5h.65M316.1 339.8h.65M287.0 346.6h.65M295.5 337.3h.65M279.3 342.7h.65M303.4 330.8h.65M301.3 339.6h.65M296.5 365.1h.65M293.3 344.0h.65M311.6 335.0h.65M319.9 335.1h.65M292.8 320.4h.65M294.9 334.7h.65M254.4 328.4h.65M299.6 348.0h.65M310.6 352.7h.65M282.6 358.3h.65M291.2 340.8h.65M292.8 334.1h.65M293.1 338.3h.65M302.0 314.5h.65M298.5 341.1h.65M286.6 350.4h.65M289.9 342.2h.65M289.8 363.1h.65M274.5 334.4h.65M282.8 332.8h.65M289.3 334.4h.65M290.7 330.7h.65M287.2 337.5h.65M284.2 348.4h.65M316.6 336.8h.65M282.6 342.3h.65M304.2 332.3h.65M281.8 339.4h.65M287.8 334.3h.65M321.7 324.3h.65M284.1 335.6h.65M281.9 353.1h.65M300.4 351.1h.65M319.8 342.4h.65M292.3 357.5h.65M301.1 344.1h.65M315.6 333.8h.65M313.8 332.8h.65M293.7 339.5h.65M283.1 349.5h.65M301.8 354.0h.65M274.5 340.8h.65M294.3 320.7h.65M302.6 335.1h.65M297.5 329.4h.65M289.9 344.7h.65M296.2 362.2h.65M285.0 336.8h.65M288.1 331.5h.65M287.9 336.5h.65M292.3 364.2h.65M282.3 335.1h.65M290.1 331.8h.65M273.4 337.5h.65M292.9 334.2h.65M322.9 346.8h.65M305.8 341.8h.65M288.2 333.5h.65M304.9 322.1h.65M280.6 362.6h.65M300.5 337.7h.65M292.8 343.1h.65M293.7 336.4h.65M301.0 327.3h.65M282.5 336.5h.65M293.0 341.1h.65M314.5 333.6h.65M301.2 335.3h.65M269.1 330.2h.65M294.6 346.1h.65M293.1 330.1h.65M280.3 335.0h.65M288.2 354.3h.65M308.9 340.1h.65M273.9 340.5h.65M283.1 356.2h.65M314.9 330.8h.65M305.5 339.6h.65M326.7 348.3h.65M298.5 343.5h.65M304.1 327.7h.65M297.8 346.0h.65M286.2 346.6h.65M275.7 349.4h.65M280.0 330.9h.65M291.5 344.5h.65M304.7 335.0h.65M276.2 356.6h.65M258.9 339.6h.65M326.8 335.7h.65M312.2 346.0h.65M308.7 320.1h.65M291.1 354.9h.65M287.0 343.0h.65M290.7 343.1h.65M290.4 335.7h.65M288.2 344.2h.65M298.7 328.7h.65M279.7 343.8h.65M328.6 332.4h.65M301.2 336.3h.65M283.0 347.6h.65M272.1 325.4h.65M283.4 346.9h.65M295.4 342.0h.65M289.2 338.9h.65M296.4 319.7h.65M276.9 343.0h.65M295.0 344.5h.65M290.1 341.0h.65M294.9 342.7h.65M304.1 351.6h.65M297.8 337.5h.65M299.5 327.8h.65M285.8 362.4h.65M263.3 327.0h.65M321.3 334.1h.65M295.9 358.8h.65M279.6 334.8h.65M267.8 336.2h.65M317.0 341.0h.65M308.3 349.0h.65M312.1 332.0h.65M307.9 335.5h.65M263.7 340.0h.65M259.6 344.2h.65M294.2 328.0h.65M264.5 345.9h.65M279.4 324.6h.65M322.1 344.1h.65M295.3 334.8h.65M294.9 348.7h.65M290.4 340.6h.65M317.9 345.0h.65M268.0 348.1h.65M300.1 315.4h.65M297.8 353.6h.65M283.7 336.4h.65M293.1 339.1h.65M300.2 325.6h.65M299.3 351.9h.65M279.5 347.2h.65M301.0 320.7h.65M292.7 340.7h.65M285.4 340.5h.65M298.3 349.1h.65M302.0 329.1h.65M294.1 337.1h.65M302.0 354.7h.65M272.1 333.5h.65M301.4 330.2h.65M304.7 336.9h.65M312.0 323.3h.65M268.5 337.7h.65M299.4 343.5h.65M290.5 345.9h.65M290.6 338.3h.65M275.5 341.4h.65M288.6 336.8h.65M269.5 331.6h.65M301.3 326.9h.65M286.7 355.9h.65M318.3 346.3h.65M282.9 359.3h.65M276.9 347.3h.65M270.5 342.3h.65M272.6 344.9h.65M292.0 341.4h.65M326.8 342.9h.65M297.2 325.3h.65M272.1 330.1h.65M301.4 319.7h.65M294.1 350.0h.65M293.4 341.0h.65M279.6 357.0h.65M307.5 348.3h.65M276.4 341.8h.65M324.8 336.6h.65M314.0 334.7h.65M300.7 327.2h.65M266.7 337.1h.65M301.7 336.4h.65M322.7 332.9h.65M319.9 345.4h.65M306.8 356.7h.65M298.4 341.2h.65M296.5 339.4h.65M301.3 339.7h.65M309.7 349.5h.65M271.3 341.6h.65M307.8 349.0h.65M282.8 349.5h.65M306.3 339.1h.65M291.5 338.2h.65M269.4 360.4h.65M295.1 343.0h.65M288.1 340.6h.65M299.9 340.3h.65M266.0 347.2h.65M304.7 358.1h.65M297.5 365.0h.65M321.0 343.4h.65M317.2 337.3h.65M285.1 329.6h.65M281.9 335.6h.65M299.1 341.6h.65M285.0 343.1h.65M277.5 339.2h.65M276.2 350.9h.65M291.1 322.6h.65M312.3 343.2h.65M303.2 326.8h.65M306.9 349.1h.65M325.1 332.4h.65M323.8 345.5h.65M299.3 340.1h.65M302.1 332.2h.65M300.6 343.0h.65M301.9 344.7h.65M304.1 352.5h.65M286.1 352.5h.65M302.6 352.8h.65M268.7 335.9h.65M315.8 330.4h.65M298.2 349.4h.65M312.4 342.3h.65M309.2 342.8h.65M311.4 327.7h.65M297.5 343.2h.65M299.7 335.5h.65M303.8 341.3h.65M293.9 350.0h.65M280.1 327.3h.65M278.6 353.0h.65M290.4 345.3h.65M300.5 326.0h.65M280.2 318.6h.65M262.6 332.7h.65M282.1 340.2h.65M291.3 339.8h.65M282.3 351.9h.65M300.4 342.1h.65M306.6 335.2h.65M288.1 315.2h.65M290.5 352.5h.65M270.7 348.5h.65M288.5 350.6h.65M287.7 344.5h.65M268.0 352.7h.65M293.3 330.0h.65M306.1 339.3h.65M302.4 346.6h.65M309.3 333.2h.65M276.4 335.8h.65M286.0 342.9h.65M309.3 329.0h.65M290.6 349.3h.65M302.2 342.3h.65M298.3 333.4h.65M287.4 343.7h.65M258.7 342.9h.65M281.8 340.4h.65M314.6 349.8h.65M299.9 316.0h.65M277.5 328.6h.65M285.9 335.7h.65M296.7 337.4h.65M296.0 331.4h.65M308.0 332.5h.65M301.4 336.9h.65M301.2 338.6h.65M274.4 344.8h.65M298.1 357.0h.65M294.0 341.4h.65M276.8 320.8h.65M299.6 353.0h.65M293.7 332.1h.65M304.4 351.2h.65M311.8 335.5h.65M280.3 340.3h.65M289.9 346.6h.65M292.5 315.4h.65M287.1 346.6h.65M275.5 344.1h.65M307.2 342.8h.65M295.8 358.6h.65M283.2 348.0h.65M291.3 343.0h.65M299.9 335.4h.65M270.0 334.2h.65M301.1 334.6h.65M300.2 340.7h.65M287.0 338.2h.65M290.1 348.5h.65M301.3 328.5h.65M307.9 322.3h.65M310.9 329.6h.65M272.7 340.6h.65M303.0 346.1h.65M301.4 319.6h.65M300.9 329.7h.65M282.7 345.6h.65M273.1 350.0h.65M308.0 319.9h.65M279.4 328.6h.65M307.2 352.0h.65M308.0 338.5h.65M328.6 344.3h.65M298.2 340.8h.65M321.0 340.2h.65M302.3 338.2h.65M302.7 357.8h.65M306.0 345.2h.65M294.8 339.0h.65M294.0 347.4h.65M316.0 328.4h.65M295.1 352.2h.65M306.0 339.5h.65M304.0 337.6h.65M300.1 335.6h.65M290.8 337.2h.65M296.8 356.0h.65M273.7 350.6h.65M315.6 342.3h.65M295.6 337.3h.65M282.6 331.3h.65M300.8 358.1h.65M305.9 345.6h.65M330.4 334.4h.65M307.7 353.8h.65M286.0 336.6h.65M291.1 346.7h.65M273.3 336.8h.65M284.7 339.4h.65M280.8 337.3h.65M296.4 325.6h.65M268.4 326.5h.65M266.7 354.4h.65M287.4 363.3h.65M304.9 333.6h.65M268.8 345.7h.65M300.0 324.9h.65M303.0 317.0h.65M291.4 340.2h.65M308.9 340.0h.65M306.1 351.0h.65M298.2 346.0h.65M311.8 343.1h.65M291.4 337.9h.65M303.6 344.0h.65M306.0 334.6h.65M284.9 343.7h.65M289.1 352.7h.65M267.4 345.9h.65M272.7 339.2h.65M309.0 339.2h.65M269.2 344.1h.65M294.0 334.5h.65M312.0 351.1h.65M299.2 341.9h.65M262.4 338.9h.65M297.0 351.7h.65M309.4 340.6h.65M286.4 344.4h.65M302.3 338.5h.65M281.1 343.3h.65M278.2 334.2h.65M287.9 362.3h.65M280.7 343.0h.65M311.4 354.9h.65M309.9 336.8h.65M316.8 350.8h.65M296.2 320.6h.65M307.6 336.7h.65M293.5 337.6h.65M318.6 345.3h.65M302.2 325.1h.65M288.4 346.3h.65M254.3 325.2h.65M327.4 338.7h.65M304.6 334.0h.65M290.9 342.4h.65M315.5 338.1h.65M309.2 333.9h.65M301.5 345.1h.65M297.3 342.7h.65M314.8 341.8h.65M318.4 336.7h.65M296.7 331.8h.65M310.2 345.7h.65M316.8 346.5h.65M275.7 342.3h.65M319.9 336.1h.65M276.2 324.3h.65M291.9 336.2h.65M288.1 337.9h.65M272.2 351.6h.65M281.2 318.0h.65M301.1 338.7h.65M288.7 332.6h.65M306.0 341.7h.65M279.0 327.0h.65M311.5 330.3h.65M322.5 333.1h.65M295.8 323.3h.65M320.3 339.5h.65M295.8 343.5h.65M287.4 329.3h.65M300.0 357.0h.65M272.4 326.9h.65M296.2 356.9h.65M278.9 322.0h.65M315.3 340.8h.65M284.9 331.8h.65M313.8 351.0h.65M282.3 333.4h.65M307.2 351.9h.65M308.3 320.5h.65M274.6 339.6h.65M301.1 361.3h.65M288.0 338.2h.65M310.4 342.4h.65M278.4 356.4h.65M299.6 337.0h.65M295.4 351.8h.65M318.1 327.7h.65M271.4 345.0h.65M305.6 339.0h.65M310.4 329.6h.65M293.8 345.6h.65M270.2 347.9h.65M296.2 333.4h.65M270.6 336.5h.65M295.0 334.0h.65M267.5 337.9h.65M294.2 341.0h.65M295.0 330.5h.65M327.3 330.8h.65M301.1 333.6h.65M296.3 335.8h.65M292.1 346.8h.65M268.5 345.5h.65M281.7 349.8h.65M279.0 336.7h.65M293.1 362.3h.65M267.0 347.3h.65M304.5 327.5h.65M282.7 320.8h.65M290.6 337.8h.65M287.6 335.9h.65M308.9 332.1h.65M299.3 351.9h.65M327.5 346.1h.65M306.4 334.2h.65M281.1 332.9h.65M328.2 331.5h.65M289.1 345.3h.65M293.2 345.9h.65M300.4 318.3h.65M305.3 325.2h.65M316.4 331.1h.65M301.8 333.7h.65M302.5 337.1h.65M304.9 329.5h.65M290.5 323.9h.65M297.9 358.9h.65M266.0 340.6h.65M292.5 365.4h.65M289.2 334.6h.65M271.9 335.4h.65M321.5 341.3h.65M262.0 348.2h.65M287.8 338.4h.65M306.3 340.0h.65M283.6 337.2h.65M280.5 365.9h.65M271.0 337.7h.65M298.3 346.7h.65M277.8 350.9h.65M300.7 325.4h.65M301.6 344.9h.65M265.7 330.0h.65M317.6 346.0h.65M295.8 336.3h.65M283.3 343.0h.65M288.8 344.2h.65M313.6 331.8h.65M293.7 341.3h.65M307.0 316.7h.65M311.1 338.1h.65M299.5 317.0h.65M298.7 334.5h.65M297.0 332.8h.65M332.9 327.1h.65M283.8 328.0h.65M298.4 328.6h.65M284.5 322.5h.65M285.4 336.5h.65M293.9 333.5h.65M318.9 330.2h.65M299.5 346.9h.65M282.8 326.7h.65M295.8 332.7h.65M302.5 338.9h.65M297.7 341.9h.65M312.3 320.8h.65M292.2 340.8h.65M309.1 334.6h.65M286.2 352.6h.65M311.6 332.9h.65M303.1 339.6h.65M312.0 341.5h.65M311.6 338.2h.65M279.5 339.6h.65M319.0 343.7h.65M293.7 355.8h.65M276.0 328.2h.65M276.9 334.4h.65M289.7 340.4h.65M308.8 339.5h.65M282.8 352.8h.65M283.1 326.5h.65M277.4 328.4h.65M284.2 351.2h.65M293.6 327.9h.65M294.6 338.5h.65M302.5 348.1h.65M296.7 344.3h.65M275.1 344.1h.65M267.6 352.1h.65M304.4 352.1h.65M289.3 329.6h.65M270.6 341.6h.65M304.0 325.6h.65M298.4 341.8h.65M304.3 348.5h.65M323.6 332.3h.65M298.4 355.7h.65M301.1 348.0h.65M312.8 346.8h.65M304.5 331.3h.65M276.4 334.3h.65M334.9 339.4h.65M296.4 333.0h.65M311.9 319.1h.65M303.8 365.4h.65M305.8 322.6h.65M322.3 342.0h.65M299.7 327.6h.65M299.6 336.9h.65M294.5 327.0h.65M300.3 337.8h.65M322.9 338.0h.65M287.3 362.2h.65M282.4 339.4h.65M277.7 339.2h.65M314.9 330.5h.65M298.7 351.9h.65M290.4 321.4h.65M304.5 331.8h.65M323.0 346.7h.65M283.7 317.5h.65M316.5 338.8h.65M305.8 336.3h.65M298.2 338.5h.65M286.1 342.6h.65M273.8 329.4h.65M311.6 341.0h.65M293.5 357.7h.65M289.8 350.8h.65M301.6 329.6h.65M278.9 342.3h.65M312.5 327.1h.65M296.0 335.9h.65M292.8 364.1h.65M326.4 338.6h.65M291.0 325.7h.65M331.1 336.4h.65M284.6 354.5h.65M271.5 340.5h.65M299.7 335.6h.65M324.8 340.0h.65M265.2 351.0h.65M291.4 350.1h.65M315.0 342.7h.65M286.4 325.7h.65M297.0 331.2h.65M293.3 332.8h.65M279.3 331.1h.65M290.2 353.6h.65M292.4 334.9h.65M300.3 360.6h.65M291.6 347.5h.65M296.3 343.8h.65M282.7 335.5h.65M316.2 322.6h.65M309.6 347.0h.65M304.3 343.7h.65M317.2 334.0h.65M302.7 343.0h.65M281.7 340.6h.65M294.6 351.0h.65M307.2 345.9h.65M296.3 354.8h.65M304.7 344.0h.65M308.4 318.9h.65M303.7 335.8h.65M296.6 358.0h.65M306.7 329.2h.65M283.5 341.4h.65M279.6 338.4h.65M295.2 327.3h.65M307.7 339.7h.65M325.3 341.6h.65M302.6 349.6h.65M296.4 349.7h.65M278.4 329.8h.65M286.2 326.6h.65M322.8 328.3h.65M304.7 338.1h.65M291.2 339.3h.65M296.9 359.1h.65M292.9 336.6h.65M302.3 328.1h.65M299.5 327.6h.65M306.1 320.4h.65M303.1 333.3h.65M279.4 323.8h.65M289.4 336.2h.65M276.5 332.2h.65M324.9 334.3h.65M293.2 326.6h.65M276.1 329.8h.65M263.6 338.6h.65M284.1 331.9h.65M303.5 339.6h.65M295.6 343.2h.65M311.0 348.3h.65M288.1 338.1h.65M292.8 344.8h.65M300.6 331.4h.65M309.1 320.5h.65M289.7 341.0h.65M301.8 340.1h.65M332.4 336.0h.65M330.7 345.1h.65M282.1 337.2h.65M281.7 331.7h.65M308.7 355.1h.65M286.0 338.4h.65M307.5 345.8h.65M309.6 351.3h.65M292.0 317.7h.65M309.5 336.7h.65M310.7 340.8h.65M288.7 326.3h.65M283.8 333.5h.65M272.9 356.0h.65M262.2 334.6h.65M304.6 340.4h.65M279.7 336.0h.65M293.1 334.3h.65M313.5 340.3h.65M273.4 323.3h.65M326.2 346.3h.65M290.6 333.0h.65M280.6 332.4h.65M275.6 342.5h.65M311.0 342.7h.65M269.1 351.0h.65M303.7 325.5h.65M314.1 335.5h.65M295.8 350.4h.65M305.1 334.3h.65M281.0 348.2h.65M282.2 345.6h.65M310.2 339.3h.65M270.1 323.8h.65M279.8 334.5h.65M290.4 349.7h.65M292.5 352.3h.65M302.6 361.4h.65M291.9 343.4h.65M303.4 343.2h.65M299.9 359.5h.65M326.1 336.9h.65M296.7 346.5h.65M302.4 329.2h.65M266.2 353.0h.65M286.2 350.3h.65M300.7 347.4h.65M282.6 355.8h.65M264.4 344.0h.65M278.0 338.8h.65M266.0 344.7h.65M287.9 344.4h.65M305.9 342.9h.65M303.7 341.9h.65M304.3 326.6h.65M290.4 339.8h.65M290.0 351.4h.65M335.5 334.8h.65M271.4 319.4h.65M306.6 336.5h.65M275.9 324.3h.65M290.0 327.6h.65M277.4 334.6h.65M307.0 336.7h.65M307.6 338.4h.65M304.0 331.9h.65M302.9 345.4h.65M284.2 326.4h.65M306.1 342.6h.65M319.7 348.7h.65M275.9 328.1h.65M315.7 348.2h.65M308.4 338.4h.65M294.4 340.8h.65M286.1 332.6h.65M298.5 337.4h.65M289.0 349.6h.65M298.8 346.4h.65M294.6 340.2h.65M293.4 348.0h.65M305.4 339.3h.65M282.1 334.9h.65M307.8 331.0h.65M296.0 325.0h.65M295.4 339.3h.65M302.1 330.9h.65M279.9 338.5h.65M318.1 340.4h.65M279.9 325.7h.65M275.7 344.6h.65M286.0 335.2h.65M285.7 327.3h.65M300.2 333.3h.65M266.0 338.7h.65M278.4 330.8h.65M285.9 345.5h.65M300.2 342.1h.65M296.7 362.3h.65M297.4 333.7h.65M267.9 348.2h.65M276.1 347.2h.65M281.2 357.4h.65M280.7 342.1h.65M311.2 338.4h.65M294.3 339.9h.65M307.6 346.9h.65M264.1 348.1h.65M290.3 356.0h.65M284.1 347.1h.65M281.6 325.5h.65M292.7 333.1h.65M300.0 342.8h.65M280.4 324.8h.65M304.7 355.4h.65M279.7 341.3h.65M280.0 354.6h.65M298.8 347.5h.65M284.0 336.6h.65M296.5 330.6h.65M314.4 352.2h.65M308.9 356.3h.65M273.8 338.0h.65M293.7 344.3h.65M298.6 336.8h.65M294.5 366.5h.65M296.2 339.4h.65M303.0 341.5h.65M305.9 323.7h.65M294.5 334.1h.65M292.7 325.8h.65M319.4 340.5h.65M280.2 342.4h.65M300.6 350.3h.65M273.1 346.0h.65M290.5 340.4h.65M277.5 328.3h.65M320.9 330.4h.65M296.7 323.4h.65M292.3 330.6h.65M296.4 350.7h.65M304.5 347.2h.65M307.1 349.9h.65M275.5 359.2h.65M272.2 347.1h.65M287.1 346.8h.65M261.6 329.3h.65M306.7 355.7h.65M258.5 323.9h.65M298.5 331.1h.65M266.6 338.5h.65M279.3 342.1h.65M290.4 348.2h.65M296.4 318.7h.65M301.8 351.7h.65M291.9 341.6h.65M295.0 331.6h.65M268.5 344.4h.65M297.5 346.2h.65M291.0 340.0h.65M298.1 328.1h.65M285.9 334.5h.65M268.1 346.5h.65M293.2 363.0h.65M264.8 332.4h.65M292.0 330.0h.65M309.0 338.0h.65M305.0 324.4h.65M294.1 333.6h.65M267.4 337.5h.65M278.8 337.6h.65M295.7 350.4h.65M282.9 337.3h.65M270.5 341.4h.65M296.2 349.0h.65M295.1 345.5h.65M285.7 329.4h.65M271.4 338.4h.65M317.8 345.1h.65M279.9 342.6h.65M301.7 332.7h.65M318.4 336.1h.65M321.1 329.5h.65M294.8 347.3h.65M295.8 336.9h.65M300.5 325.7h.65M300.7 318.4h.65M272.2 348.7h.65M300.2 344.8h.65M331.7 346.6h.65M290.9 333.0h.65M296.8 341.8h.65M295.6 344.2h.65M305.4 342.6h.65M293.5 338.2h.65M276.9 333.8h.65M269.1 341.9h.65M286.0 342.1h.65M306.6 358.0h.65M315.1 342.7h.65M272.3 345.9h.65M283.8 348.3h.65M296.3 356.6h.65M293.6 336.3h.65M296.5 350.8h.65M305.1 348.6h.65M274.5 335.5h.65M301.5 334.5h.65M287.3 334.4h.65M305.2 331.6h.65M300.8 347.9h.65M297.2 347.3h.65M307.0 340.2h.65M308.1 337.4h.65M272.7 342.3h.65M304.5 342.5h.65M320.3 353.4h.65M297.8 317.9h.65M276.8 344.8h.65M302.0 346.2h.65M278.9 333.5h.65M288.9 339.1h.65M292.1 351.2h.65M289.3 340.4h.65M282.6 350.9h.65M304.4 338.7h.65M325.3 335.2h.65M270.3 339.2h.65M298.9 330.2h.65M282.5 334.9h.65M305.9 341.2h.65M328.8 328.6h.65M283.7 333.7h.65M309.8 350.3h.65M305.3 345.2h.65M291.8 349.6h.65M288.6 344.4h.65M305.2 337.1h.65M305.6 342.1h.65M306.0 340.9h.65M287.0 348.9h.65M310.0 326.4h.65M299.9 329.4h.65M300.9 342.6h.65M266.2 344.2h.65M296.7 345.0h.65M292.2 342.1h.65M294.1 339.2h.65M269.8 333.5h.65M289.3 356.1h.65M291.0 329.4h.65M290.3 331.3h.65M287.7 353.7h.65M280.7 344.3h.65M257.2 330.7h.65M318.3 331.0h.65M319.8 332.9h.65M319.9 337.7h.65M322.3 340.9h.65M295.1 341.9h.65M293.3 331.2h.65M296.2 344.1h.65M308.7 337.5h.65M274.3 332.9h.65M306.0 342.9h.65M285.2 339.1h.65M292.8 340.9h.65M311.8 347.7h.65M292.3 354.0h.65M262.1 355.0h.65M288.0 322.4h.65M286.9 320.1h.65M270.9 320.3h.65M297.0 328.6h.65M320.5 349.9h.65M293.2 339.9h.65M289.3 326.9h.65M275.0 350.3h.65M292.2 333.5h.65M268.5 332.9h.65M281.0 359.3h.65M302.3 342.9h.65M294.8 333.5h.65M307.6 333.7h.65M287.3 332.5h.65M299.4 346.2h.65M290.6 324.9h.65M315.3 327.2h.65M287.0 339.3h.65M295.3 327.0h.65M283.9 346.8h.65M302.0 338.9h.65M291.5 336.8h.65M304.9 336.8h.65M296.3 335.6h.65M275.8 353.9h.65M296.5 337.5h.65M321.2 344.4h.65M285.0 326.8h.65M329.7 339.1h.65M333.9 328.5h.65M303.6 345.6h.65M296.5 337.4h.65M302.6 326.0h.65M282.6 343.1h.65M311.8 350.8h.65M288.4 325.5h.65M280.6 343.7h.65M284.9 330.2h.65M297.8 344.1h.65M284.4 341.6h.65M303.4 349.3h.65M311.7 349.3h.65M296.6 348.3h.65M282.4 342.5h.65M273.5 345.3h.65M280.8 340.1h.65M301.4 340.7h.65M310.8 333.9h.65M267.3 346.2h.65M298.3 336.1h.65M280.9 331.0h.65M304.4 324.6h.65M299.2 360.5h.65M304.1 338.8h.65M318.0 331.6h.65M330.3 331.1h.65M285.0 324.2h.65M285.6 351.1h.65M299.5 344.4h.65M282.3 339.5h.65M297.2 341.7h.65M282.3 333.9h.65M306.2 327.5h.65M297.8 330.2h.65M298.1 335.6h.65M279.0 330.1h.65M289.0 339.2h.65M294.2 333.6h.65M306.3 334.0h.65M312.8 328.7h.65M295.2 342.8h.65M311.6 334.5h.65M302.6 346.5h.65M290.9 337.6h.65M289.4 368.4h.65M297.0 357.3h.65M264.2 337.4h.65M297.6 318.4h.65M287.7 323.6h.65M282.2 321.1h.65M283.6 319.3h.65M274.0 342.4h.65M280.9 345.0h.65M292.3 335.3h.65M305.3 333.3h.65M290.8 338.4h.65M271.9 345.4h.65M311.1 338.0h.65M305.8 343.3h.65M277.2 338.1h.65M314.2 342.8h.65M295.2 346.2h.65M303.4 341.6h.65M294.7 345.8h.65M293.2 337.6h.65M294.3 365.8h.65M309.9 341.8h.65M308.3 339.6h.65M283.5 343.1h.65M260.3 345.4h.65M283.7 344.2h.65M308.1 351.3h.65M316.3 348.4h.65M290.1 333.7h.65M290.9 336.9h.65M283.9 333.2h.65M294.8 344.3h.65M298.3 349.0h.65M283.9 338.2h.65M297.2 334.8h.65M275.1 338.7h.65M304.5 340.5h.65M280.4 335.4h.65M300.8 354.4h.65M303.7 343.8h.65M310.1 326.0h.65M322.8 345.8h.65M265.5 347.0h.65M295.6 362.4h.65M313.9 329.6h.65M267.7 350.4h.65M305.9 355.6h.65M306.6 344.3h.65M310.1 347.4h.65M281.8 338.4h.65M275.1 351.9h.65M273.0 329.8h.65M288.3 344.1h.65M307.0 320.3h.65M310.2 334.1h.65M284.8 338.8h.65M281.8 339.0h.65M315.1 345.9h.65M284.7 353.5h.65M284.3 347.7h.65M303.4 335.9h.65M309.0 346.1h.65M288.4 349.8h.65M287.4 334.5h.65M281.6 337.8h.65M295.2 328.7h.65M283.0 341.3h.65M298.4 349.7h.65M306.5 349.5h.65M324.8 338.0h.65M289.0 335.3h.65M314.6 341.2h.65M277.7 339.6h.65M281.9 350.9h.65M304.2 345.7h.65M315.1 345.2h.65M303.0 340.8h.65M324.0 327.9h.65M277.1 332.6h.65M294.3 334.0h.65M259.0 351.7h.65M281.6 351.8h.65M292.7 354.8h.65M296.1 353.4h.65M298.6 351.6h.65M305.7 343.1h.65M326.2 352.2h.65M259.6 322.1h.65M271.4 335.1h.65M304.7 351.4h.65M266.5 345.0h.65M274.1 329.8h.65M321.0 339.0h.65M304.4 340.7h.65M316.7 334.9h.65M282.9 328.6h.65M294.9 349.6h.65M306.1 321.7h.65M283.3 343.3h.65M298.4 338.8h.65M300.8 331.2h.65M297.4 342.0h.65M293.4 333.3h.65M286.4 346.0h.65M292.7 349.8h.65M319.8 345.0h.65M303.9 319.7h.65M301.1 361.0h.65M305.1 339.9h.65M298.6 337.0h.65M314.1 338.6h.65M319.2 328.7h.65M315.1 333.0h.65M295.1 341.9h.65M292.0 336.2h.65M303.7 350.2h.65M298.0 339.4h.65M299.8 343.0h.65M288.1 344.9h.65M268.5 351.1h.65M297.8 324.0h.65M277.3 347.5h.65M326.4 351.1h.65M302.2 326.2h.65M295.8 337.3h.65M295.8 326.2h.65M307.3 338.9h.65M294.3 333.6h.65M262.4 343.7h.65M302.2 348.8h.65M268.1 352.6h.65M297.8 336.1h.65M295.6 350.9h.65M315.1 335.9h.65M291.1 327.8h.65M272.2 329.0h.65M330.7 340.6h.65M283.5 354.7h.65M297.9 355.2h.65M309.0 332.2h.65M282.4 336.5h.65M313.4 331.0h.65M262.7 328.9h.65M316.4 333.1h.65M298.4 330.5h.65M292.5 338.6h.65M260.8 328.8h.65M292.5 325.8h.65M293.8 335.7h.65M303.8 352.8h.65M313.6 348.4h.65M280.7 346.8h.65M310.9 326.6h.65M325.2 347.4h.65M321.7 341.5h.65M331.8 345.9h.65M307.3 335.8h.65M279.5 351.3h.65M317.2 333.3h.65M281.6 332.6h.65M265.1 338.4h.65M294.0 333.1h.65M269.7 349.3h.65M303.8 338.7h.65M276.3 334.6h.65M285.0 345.7h.65M299.4 345.4h.65M294.6 327.9h.65M276.8 337.6h.65M295.9 335.1h.65M308.6 326.9h.65M313.4 347.7h.65M275.5 342.7h.65M303.6 328.1h.65M306.7 330.0h.65M308.7 335.8h.65M296.1 356.1h.65M295.4 343.9h.65M291.9 350.2h.65M287.4 363.2h.65M305.2 353.5h.65M283.0 342.1h.65M322.0 334.2h.65M298.6 323.3h.65M273.1 351.4h.65M319.3 326.5h.65M281.8 350.3h.65M289.1 354.6h.65M273.8 337.9h.65M323.3 345.2h.65M290.9 327.1h.65M258.4 323.8h.65M278.1 341.6h.65M276.0 321.9h.65M267.9 321.3h.65M297.0 346.5h.65M271.7 353.7h.65M282.5 338.0h.65M296.3 340.6h.65M295.5 337.5h.65M297.4 354.5h.65M294.2 368.0h.65M307.9 353.2h.65M303.8 350.1h.65M292.2 352.0h.65M292.5 342.7h.65M285.6 340.1h.65M296.6 314.4h.65M300.0 344.5h.65M273.0 344.1h.65M290.7 353.4h.65M315.3 335.9h.65M289.8 318.6h.65M301.7 328.4h.65M286.9 341.8h.65M272.0 356.0h.65M311.4 340.6h.65M312.6 351.6h.65M293.1 343.8h.65M301.8 355.7h.65M308.9 332.2h.65M291.5 332.8h.65M293.3 330.4h.65M284.4 335.7h.65M303.6 330.0h.65M300.0 339.1h.65M306.2 349.5h.65M277.1 332.8h.65M295.0 357.0h.65M285.7 330.5h.65M317.4 328.2h.65M276.0 346.8h.65M290.5 339.8h.65M311.7 321.8h.65M290.9 356.7h.65M293.9 368.2h.65M291.3 357.6h.65M290.6 346.0h.65M272.3 328.7h.65M297.5 350.7h.65M300.3 338.0h.65M309.1 322.9h.65M302.8 329.0h.65M302.7 343.5h.65M277.7 340.2h.65M301.6 333.7h.65M303.8 338.6h.65M257.3 327.6h.65M309.5 342.0h.65M276.3 340.8h.65M276.8 326.6h.65M279.5 337.3h.65M290.1 342.7h.65M272.6 345.6h.65M279.1 328.5h.65M282.2 341.2h.65M299.6 344.4h.65M293.4 358.8h.65M265.2 347.9h.65M272.2 330.9h.65M318.9 346.2h.65M276.6 343.8h.65M284.4 351.1h.65M262.5 333.5h.65M311.2 346.4h.65M312.8 332.4h.65M284.1 318.6h.65M276.4 333.0h.65M300.8 335.3h.65M304.2 348.8h.65M299.3 326.6h.65M297.2 340.6h.65M287.9 327.8h.65M316.1 325.8h.65M318.6 345.7h.65M299.3 328.8h.65M287.7 345.9h.65M278.3 327.3h.65M293.1 353.9h.65M278.3 342.9h.65M304.6 336.8h.65M321.0 336.3h.65M289.8 348.0h.65M283.4 334.2h.65M320.6 346.6h.65M273.1 339.5h.65M296.7 347.9h.65M282.2 334.4h.65M295.0 336.4h.65M295.8 342.2h.65M301.3 347.3h.65M303.8 335.8h.65M290.8 338.6h.65M302.1 336.8h.65M280.5 348.1h.65M328.4 331.2h.65M285.0 336.0h.65M306.8 352.3h.65M307.9 327.4h.65M297.9 326.1h.65M289.6 350.8h.65M311.2 326.4h.65M285.1 336.8h.65M310.7 344.0h.65M295.0 340.6h.65M306.7 344.3h.65M306.9 340.0h.65M310.1 354.0h.65M307.7 340.5h.65M312.9 344.6h.65M297.6 334.0h.65M303.2 350.3h.65M317.7 321.0h.65M271.1 338.8h.65M296.2 341.2h.65M284.6 342.1h.65M301.2 346.3h.65M282.9 341.2h.65M291.8 347.4h.65M268.2 339.5h.65M277.9 336.1h.65M329.1 335.9h.65M286.3 324.5h.65M281.6 348.3h.65M306.2 341.0h.65M297.8 341.9h.65M271.8 334.4h.65M282.7 336.6h.65M302.1 331.9h.65M285.2 337.9h.65M297.5 344.9h.65M281.8 333.4h.65M284.3 341.9h.65M296.3 355.3h.65M285.4 323.5h.65M300.2 328.8h.65M286.8 337.0h.65M286.8 329.8h.65M289.6 335.8h.65M300.8 362.2h.65M303.1 338.8h.65M285.9 342.4h.65M327.0 328.6h.65M296.3 360.7h.65M314.9 338.2h.65M297.5 354.2h.65M294.8 345.4h.65M319.0 346.0h.65M290.1 353.8h.65M309.7 329.5h.65M292.8 340.0h.65M310.6 346.6h.65M328.2 341.7h.65M290.8 334.6h.65M277.4 342.1h.65M299.4 344.0h.65M324.7 338.2h.65M293.8 347.9h.65M269.6 334.5h.65M304.5 332.8h.65M277.8 331.7h.65M287.4 342.3h.65M298.0 339.6h.65M294.9 342.7h.65M305.6 346.8h.65M284.4 341.4h.65M291.6 324.2h.65M299.9 343.2h.65M294.7 336.3h.65M292.4 344.6h.65M299.4 336.7h.65M284.4 335.3h.65M280.8 326.2h.65M296.5 343.3h.65M296.9 335.5h.65M304.7 348.3h.65M323.5 341.7h.65M277.1 340.2h.65M295.0 337.3h.65M272.8 337.1h.65M290.7 346.9h.65M296.8 343.0h.65M261.3 326.7h.65M272.7 349.5h.65M311.2 330.9h.65M295.0 349.8h.65M307.2 342.5h.65M282.6 331.8h.65M309.4 332.2h.65M294.9 364.4h.65M305.3 337.8h.65M279.0 342.2h.65M295.3 362.9h.65M303.0 331.3h.65M302.2 316.2h.65M260.7 332.5h.65M277.5 350.7h.65M276.1 332.9h.65M257.0 345.6h.65M268.9 326.1h.65M315.0 349.3h.65M297.1 343.0h.65M297.7 357.2h.65M276.3 344.4h.65M296.9 347.9h.65M283.8 333.4h.65M302.5 356.8h.65M270.3 330.9h.65M308.2 333.7h.65M296.5 329.8h.65M260.6 349.3h.65M301.8 349.4h.65M265.4 346.3h.65M294.2 340.1h.65M306.6 335.5h.65M316.0 340.2h.65M287.9 342.8h.65M276.8 354.0h.65M290.6 337.7h.65M305.6 348.7h.65M295.1 311.8h.65M312.2 350.1h.65M284.1 340.0h.65M266.2 329.5h.65M302.4 331.7h.65M299.0 341.2h.65M292.1 330.8h.65M304.9 337.6h.65M289.5 340.0h.65M300.1 331.9h.65M281.5 348.8h.65M311.5 347.2h.65M277.5 325.7h.65M296.3 334.7h.65M304.7 338.6h.65M322.1 338.4h.65M296.4 344.1h.65M315.3 330.3h.65M276.1 348.8h.65M292.8 351.9h.65M278.8 330.2h.65M296.6 330.1h.65M302.3 338.9h.65M295.3 341.7h.65M305.2 329.9h.65M306.1 327.8h.65M298.5 349.7h.65M287.6 320.8h.65M306.1 338.1h.65M292.9 344.0h.65M309.3 350.6h.65M302.3 348.8h.65M306.2 356.4h.65M299.6 344.1h.65M316.4 337.5h.65M280.7 344.9h.65M297.4 330.9h.65M289.6 358.3h.65M290.6 330.9h.65M285.8 343.6h.65M290.3 352.2h.65M305.8 343.9h.65M301.3 340.6h.65M313.5 318.8h.65M309.8 337.1h.65M309.7 352.4h.65M302.0 329.6h.65M294.5 328.4h.65M302.2 326.3h.65M303.3 353.8h.65M318.6 335.8h.65M300.6 337.5h.65M308.0 328.9h.65M299.4 339.9h.65M297.1 337.9h.65M307.2 360.3h.65M306.8 347.3h.65M300.2 332.3h.65M291.2 335.4h.65M301.6 322.3h.65M292.4 343.6h.65M271.8 339.2h.65M293.7 354.4h.65M280.1 333.1h.65M293.3 340.1h.65M271.0 331.0h.65M268.5 344.1h.65M290.5 338.1h.65M304.8 318.8h.65M311.4 341.5h.65M296.2 347.2h.65M282.7 347.8h.65M296.6 347.0h.65M288.8 353.3h.65M309.7 344.8h.65M269.0 353.3h.65M290.8 362.4h.65M270.8 318.1h.65M332.7 327.8h.65M322.6 333.3h.65M274.0 336.3h.65M262.9 340.5h.65M298.1 346.5h.65M301.1 352.9h.65M307.8 344.8h.65M311.7 342.4h.65M311.9 334.1h.65M265.3 330.2h.65M303.6 344.5h.65M287.3 336.0h.65M288.4 330.7h.65M276.8 350.8h.65M290.5 321.6h.65M287.0 329.9h.65M285.4 339.6h.65M259.9 328.4h.65M266.4 332.3h.65M295.4 352.7h.65M287.5 354.5h.65M290.6 351.5h.65M305.0 339.4h.65M272.1 328.7h.65M282.0 323.0h.65M288.7 336.3h.65M290.2 351.9h.65M289.8 344.8h.65M296.5 337.9h.65M260.1 342.3h.65M277.4 345.7h.65M276.8 357.4h.65M283.2 345.3h.65M295.7 366.2h.65M294.8 333.9h.65M304.2 347.8h.65M294.5 330.4h.65M267.3 321.5h.65M312.9 324.8h.65M257.4 324.5h.65M295.1 342.6h.65M290.8 339.4h.65M311.4 344.2h.65M285.8 342.2h.65M294.2 320.5h.65M308.0 340.8h.65M318.4 348.0h.65M297.7 340.2h.65M279.1 343.2h.65M299.1 317.3h.65M273.0 323.0h.65M301.1 342.0h.65M287.0 338.3h.65M288.4 334.7h.65M288.8 324.1h.65M320.8 335.6h.65M303.1 341.3h.65M298.4 329.0h.65M302.5 343.2h.65M311.6 339.5h.65M305.2 327.9h.65M297.0 330.2h.65M282.3 336.1h.65M282.8 338.7h.65M288.7 363.9h.65M292.7 358.6h.65M271.4 329.7h.65M308.3 328.2h.65M305.6 353.3h.65M267.5 347.9h.65M294.6 336.1h.65M275.8 342.4h.65M316.1 342.3h.65M293.5 344.3h.65M317.4 322.2h.65M303.8 357.3h.65M294.2 328.8h.65M293.7 328.1h.65M291.0 329.2h.65M285.6 342.4h.65M296.3 337.3h.65M280.7 341.3h.65M288.3 343.1h.65M290.2 348.8h.65M267.4 333.3h.65M274.8 342.7h.65M297.4 339.0h.65M306.5 346.5h.65M320.2 331.6h.65M277.3 339.7h.65M295.1 332.8h.65M309.2 342.2h.65M293.7 332.1h.65M277.8 349.1h.65M306.7 337.6h.65M296.7 348.8h.65M281.8 324.1h.65M294.3 341.3h.65M293.0 360.5h.65M285.0 344.3h.65M290.5 341.6h.65M312.9 334.0h.65M279.1 345.8h.65M309.4 333.7h.65M305.0 332.8h.65M320.6 336.5h.65M300.4 354.4h.65M312.6 354.9h.65M296.3 348.0h.65M278.2 340.0h.65M316.2 349.6h.65M267.2 320.7h.65M316.0 339.8h.65M299.3 327.2h.65M283.8 344.8h.65M294.1 338.4h.65M301.4 326.4h.65M324.1 330.5h.65M260.0 334.2h.65M303.6 346.2h.65M299.0 366.9h.65M291.2 346.6h.65M282.4 331.0h.65M321.6 336.3h.65M314.7 331.7h.65M317.2 329.1h.65M302.3 334.5h.65M306.8 329.7h.65M290.9 340.6h.65M274.1 331.2h.65M311.4 342.4h.65M286.3 336.8h.65M281.6 345.5h.65M309.0 342.5h.65M294.6 343.4h.65M281.0 318.6h.65M288.7 341.5h.65M293.5 346.5h.65M318.7 345.3h.65M329.0 342.6h.65M281.9 347.6h.65M292.2 316.9h.65M313.4 350.5h.65M297.0 343.7h.65M300.3 335.1h.65M292.0 342.3h.65M317.6 330.1h.65M296.9 364.6h.65M286.3 350.1h.65M305.7 341.1h.65M287.5 339.2h.65M285.3 342.9h.65M270.6 350.6h.65M316.6 341.3h.65M313.3 343.6h.65M291.4 359.9h.65M304.6 342.4h.65M313.1 346.1h.65M315.7 342.2h.65M326.2 339.6h.65M279.1 317.6h.65M289.3 321.0h.65M288.4 340.2h.65M268.7 338.3h.65M295.2 350.1h.65M329.2 326.4h.65M329.4 332.6h.65M310.8 356.9h.65M282.9 329.6h.65M298.8 356.5h.65M309.6 334.5h.65M319.8 341.0h.65M271.5 325.9h.65M307.2 343.7h.65M289.7 351.5h.65M301.7 342.3h.65M295.8 348.8h.65M295.0 340.0h.65M295.1 347.3h.65M258.6 342.2h.65M276.6 342.8h.65M297.2 321.6h.65M318.0 342.6h.65M288.5 337.1h.65M300.4 362.7h.65M262.9 325.0h.65M260.8 352.5h.65M308.2 362.3h.65M296.0 328.2h.65M299.2 347.0h.65M279.6 350.1h.65M286.4 329.5h.65M323.0 330.2h.65M313.1 349.9h.65M291.4 351.6h.65M301.2 343.6h.65M287.5 360.6h.65M257.9 351.9h.65M288.8 353.3h.65M296.6 361.2h.65M282.0 340.5h.65M316.0 336.3h.65M313.7 342.8h.65M279.2 353.7h.65M285.7 357.7h.65M311.7 327.7h.65M297.1 342.5h.65M295.8 341.3h.65M281.1 330.6h.65M291.6 349.8h.65M298.1 369.7h.65M304.3 356.6h.65M283.2 335.0h.65M278.0 324.4h.65M285.2 342.1h.65M272.7 337.0h.65M280.5 332.8h.65M302.6 357.8h.65M298.1 328.6h.65M294.4 342.5h.65M303.8 345.5h.65M307.3 351.7h.65M293.8 327.0h.65M330.9 343.4h.65M292.1 325.4h.65M291.0 341.4h.65M274.7 332.5h.65M291.0 341.2h.65M295.1 331.4h.65M301.4 362.3h.65M316.2 348.2h.65M295.9 337.3h.65M299.1 323.7h.65M299.6 348.1h.65M310.2 334.5h.65M264.4 336.6h.65M299.8 346.6h.65M282.6 340.0h.65M280.7 345.6h.65M264.5 337.6h.65M303.6 328.2h.65M284.2 344.0h.65M302.5 350.3h.65M296.2 328.6h.65M319.2 339.3h.65M301.0 331.0h.65M305.1 330.2h.65M286.2 349.5h.65M298.2 361.1h.65M290.4 330.2h.65M312.7 333.9h.65M297.6 338.7h.65M292.2 344.1h.65M284.8 349.4h.65M286.4 333.9h.65M302.0 352.1h.65M298.6 319.6h.65M291.9 342.2h.65M326.0 349.5h.65M287.1 329.1h.65M323.8 348.0h.65M290.6 333.9h.65M307.5 333.1h.65M276.1 350.7h.65M279.8 329.6h.65M301.8 344.7h.65M281.6 326.1h.65M276.3 339.4h.65M305.7 333.9h.65M316.7 345.1h.65M291.0 327.7h.65M289.5 339.1h.65M302.4 339.8h.65M294.3 330.9h.65M299.9 337.4h.65M287.9 342.5h.65M280.8 345.0h.65M298.2 315.7h.65M303.6 347.4h.65M288.6 346.2h.65M310.1 344.9h.65M295.5 354.2h.65M310.3 336.8h.65M289.0 339.4h.65M315.5 343.2h.65M286.2 323.0h.65M313.5 320.8h.65M289.3 343.8h.65M259.5 341.2h.65M322.8 338.7h.65M289.6 321.2h.65M262.1 335.7h.65M310.3 338.7h.65M301.7 319.3h.65M312.1 333.3h.65M297.7 339.0h.65M296.1 347.7h.65M309.0 356.8h.65M308.5 333.8h.65M279.8 346.1h.65M323.2 343.1h.65M311.8 328.6h.65M277.3 324.2h.65M312.7 340.1h.65M319.8 339.2h.65M275.9 339.6h.65M295.9 342.7h.65M271.9 338.5h.65M302.7 338.3h.65M315.5 346.1h.65M321.6 330.5h.65M307.3 335.1h.65M277.7 330.7h.65M296.0 339.2h.65M297.8 317.7h.65M320.3 342.1h.65M277.3 329.3h.65M296.4 334.0h.65M284.5 341.4h.65M317.7 346.9h.65M314.5 330.5h.65M276.1 337.0h.65M271.4 331.8h.65M288.9 331.2h.65M258.7 329.4h.65M308.2 332.2h.65M302.5 336.8h.65M281.9 365.8h.65M286.7 341.7h.65M297.3 323.3h.65M266.2 338.3h.65M268.2 356.8h.65M290.4 341.8h.65M294.7 360.9h.65M328.7 349.9h.65M269.3 336.6h.65M296.9 358.8h.65M276.8 337.3h.65M306.8 343.3h.65M318.1 320.3h.65M290.6 343.6h.65M262.1 341.2h.65M267.2 343.6h.65M321.2 335.8h.65M319.6 345.0h.65M281.4 331.4h.65M282.4 357.1h.65M315.0 329.9h.65M299.6 336.8h.65M305.7 336.9h.65M312.9 353.9h.65M310.9 348.1h.65M299.9 321.6h.65M308.2 335.5h.65M290.4 330.2h.65M304.3 336.3h.65M282.8 340.0h.65M287.2 338.6h.65M315.3 341.1h.65M299.6 331.3h.65M277.6 321.5h.65M278.3 339.5h.65M281.8 357.5h.65M294.0 347.1h.65M291.2 352.6h.65M308.9 355.5h.65M292.0 326.0h.65M297.1 338.8h.65M287.0 337.7h.65M304.9 341.6h.65M291.2 344.9h.65M317.8 323.8h.65M295.7 358.4h.65M315.2 335.3h.65M275.5 339.5h.65M281.1 354.3h.65M293.2 340.7h.65M265.8 338.4h.65M263.4 328.0h.65M260.3 343.2h.65M299.1 355.2h.65M273.1 341.7h.65M312.7 345.3h.65M289.0 337.2h.65M287.0 345.1h.65M285.9 335.9h.65M279.7 340.4h.65M297.8 345.7h.65M308.3 343.1h.65M284.6 336.4h.65M302.9 338.6h.65M319.2 350.6h.65M297.2 331.9h.65M307.1 333.9h.65M325.1 325.9h.65M314.0 349.5h.65M305.1 339.6h.65M301.5 347.2h.65M276.8 342.8h.65M306.6 325.0h.65M301.7 345.3h.65M269.5 355.1h.65M270.0 342.3h.65M305.6 338.4h.65M285.3 328.6h.65M286.1 340.6h.65M295.8 336.5h.65M314.0 327.2h.65M293.0 336.2h.65M291.8 335.9h.65M321.9 355.8h.65M314.0 341.2h.65M317.9 340.2h.65M290.7 333.0h.65M287.2 349.0h.65M286.7 334.3h.65M317.1 345.1h.65M269.4 340.3h.65M293.1 328.2h.65M259.5 353.7h.65M275.0 339.2h.65M273.6 332.8h.65M323.9 337.2h.65M285.4 340.5h.65M276.8 349.1h.65M288.0 352.0h.65M318.2 341.2h.65M298.6 322.9h.65M298.3 346.1h.65M285.2 364.6h.65M286.8 342.0h.65M279.1 332.0h.65M296.9 323.4h.65M283.3 347.7h.65M286.3 318.9h.65M297.2 360.9h.65M303.4 361.4h.65M292.4 338.3h.65M310.0 326.6h.65M301.8 355.2h.65M306.0 334.6h.65M306.0 350.3h.65M323.5 334.6h.65M306.0 333.8h.65M294.9 325.7h.65M280.5 321.6h.65M328.3 326.5h.65M278.6 332.4h.65M268.5 352.8h.65M300.1 345.0h.65M305.3 333.0h.65M306.8 361.0h.65M274.8 344.7h.65M314.5 341.7h.65M285.0 345.7h.65M290.6 334.5h.65M308.5 347.6h.65M286.2 331.0h.65M304.2 351.0h.65M304.6 355.8h.65M287.4 338.7h.65M322.2 339.2h.65M289.4 324.0h.65M316.1 348.7h.65M296.4 350.5h.65M273.1 349.6h.65M285.5 348.7h.65M294.8 365.5h.65M303.8 350.9h.65M327.1 350.1h.65M301.9 330.4h.65M290.7 338.9h.65M294.5 335.2h.65M287.7 337.7h.65M288.8 341.9h.65M286.5 315.5h.65M271.7 345.1h.65M292.7 341.9h.65M274.7 342.1h.65M283.5 331.1h.65M310.5 335.4h.65M328.7 329.0h.65M283.4 334.1h.65M277.8 364.5h.65M295.2 339.9h.65M293.7 339.9h.65M293.9 340.4h.65M269.5 327.3h.65M306.2 335.5h.65M276.5 341.4h.65M281.6 334.2h.65M271.6 352.6h.65M311.1 359.2h.65M284.2 323.7h.65M294.3 340.5h.65M303.3 346.6h.65M309.1 350.9h.65M293.4 352.9h.65M290.8 357.8h.65M295.2 339.5h.65M293.8 338.0h.65M314.3 349.5h.65M305.5 329.7h.65M307.4 347.0h.65M290.9 337.3h.65M297.6 368.0h.65M293.4 325.2h.65M274.6 341.8h.65M292.2 343.7h.65M291.6 345.4h.65M273.0 353.7h.65M281.2 346.0h.65M324.7 342.9h.65M316.2 327.9h.65M267.0 336.3h.65M284.2 347.3h.65M320.5 328.9h.65M289.9 360.0h.65M270.7 338.3h.65M272.1 350.2h.65M273.6 351.0h.65M295.1 331.0h.65M313.9 336.2h.65M317.5 345.1h.65M298.5 331.9h.65M303.9 326.3h.65M274.1 350.6h.65M283.9 348.6h.65M305.0 351.4h.65M330.5 333.8h.65M285.6 322.8h.65M305.0 344.7h.65M316.8 321.6h.65M314.2 330.6h.65M294.1 345.3h.65M291.1 340.9h.65M280.3 328.0h.65M309.4 345.2h.65M302.3 322.8h.65M290.9 322.4h.65M287.8 329.9h.65M300.2 343.9h.65M293.6 358.2h.65M279.9 330.9h.65M287.6 333.3h.65M306.6 334.0h.65M295.1 341.3h.65M289.7 326.5h.65M274.6 339.7h.65M322.1 346.4h.65M257.5 332.8h.65M300.1 328.6h.65M296.7 336.6h.65M307.3 335.1h.65M285.1 343.9h.65M301.0 331.4h.65M298.9 322.8h.65M292.9 324.6h.65M298.1 338.4h.65M312.9 338.2h.65M293.1 340.0h.65M298.5 320.6h.65M317.3 319.1h.65M313.0 345.6h.65M312.4 328.3h.65M283.9 347.8h.65M295.5 339.1h.65M290.0 349.0h.65M253.9 334.4h.65M324.3 339.7h.65M285.4 329.9h.65M274.6 331.1h.65M290.8 346.4h.65M269.1 332.4h.65M307.1 335.0h.65M279.5 327.4h.65M325.6 323.5h.65M296.4 350.5h.65M303.7 350.3h.65M299.6 346.7h.65M300.0 347.3h.65M283.5 342.2h.65M293.1 348.4h.65M286.8 350.2h.65M295.3 328.0h.65M306.6 336.9h.65M300.0 331.3h.65M301.3 333.8h.65M310.0 330.3h.65M306.9 334.3h.65M305.9 326.2h.65M263.6 338.5h.65M325.1 326.6h.65M285.9 340.3h.65M287.8 356.9h.65M316.8 343.3h.65M310.8 337.7h.65M298.0 336.5h.65M302.9 336.2h.65M288.5 353.3h.65M285.3 349.7h.65M267.1 340.9h.65M288.1 333.5h.65M297.6 326.4h.65M296.7 324.3h.65M317.8 324.0h.65M306.1 344.4h.65M291.0 338.2h.65M313.8 346.5h.65M291.4 353.0h.65M299.7 327.7h.65M314.1 348.3h.65M257.8 346.7h.65M315.2 337.1h.65M291.9 336.6h.65M280.3 339.7h.65M320.3 323.8h.65M283.9 348.8h.65M298.5 335.2h.65M284.1 341.5h.65M282.9 346.2h.65M289.6 360.1h.65M288.9 336.2h.65M281.8 338.6h.65M264.2 346.0h.65M281.5 348.6h.65M283.6 355.2h.65M263.9 341.6h.65M277.9 334.9h.65M285.8 352.0h.65M269.7 330.5h.65M305.7 338.9h.65M299.7 335.4h.65M295.4 319.7h.65M284.9 329.1h.65M295.9 321.2h.65M283.3 346.5h.65M330.0 334.9h.65M301.7 339.9h.65M303.5 321.7h.65M295.7 338.7h.65M287.4 326.8h.65M282.9 344.0h.65M313.6 338.8h.65M309.2 345.7h.65M302.3 352.2h.65M286.2 318.5h.65M291.0 340.9h.65M310.9 341.4h.65M276.4 341.0h.65M300.9 350.1h.65M275.1 353.4h.65M330.6 339.2h.65M294.3 334.2h.65M288.3 332.1h.65M312.6 339.2h.65M310.1 319.4h.65M307.7 345.5h.65M272.6 348.6h.65M294.2 347.8h.65M293.6 346.9h.65M284.1 345.7h.65M316.9 344.7h.65M317.0 330.9h.65M292.8 359.9h.65M308.7 342.8h.65M299.6 345.2h.65M302.5 317.2h.65M278.6 346.3h.65M285.0 356.5h.65M316.3 328.4h.65M320.9 332.7h.65M285.8 321.4h.65M309.3 343.1h.65M305.7 328.3h.65M309.4 345.9h.65M289.7 336.2h.65M277.0 340.1h.65M296.3 332.6h.65M323.7 343.1h.65M283.0 331.4h.65M307.3 361.5h.65M300.9 359.7h.65M290.2 343.1h.65M320.1 327.4h.65M283.3 346.4h.65M294.9 342.3h.65M305.8 337.5h.65M287.2 323.0h.65M303.8 336.8h.65M268.3 347.9h.65M295.0 332.5h.65M317.9 327.9h.65M314.0 340.8h.65M286.7 342.6h.65M282.8 335.5h.65M271.6 330.2h.65M288.2 345.8h.65M292.6 365.3h.65M298.3 335.1h.65M309.6 348.5h.65M287.7 349.4h.65M276.1 329.6h.65M279.4 331.8h.65M291.1 345.6h.65M299.2 337.8h.65M295.3 349.4h.65M297.2 344.7h.65M286.3 343.5h.65M290.0 335.4h.65M291.7 333.3h.65M283.5 348.7h.65M270.0 337.1h.65M298.9 343.0h.65M301.7 350.3h.65M284.7 334.9h.65M295.6 358.5h.65M305.3 343.0h.65M300.1 342.2h.65M299.4 326.2h.65M284.0 339.6h.65M322.4 344.6h.65M296.2 335.1h.65M304.0 336.7h.65M307.0 333.1h.65M289.4 327.8h.65M281.3 334.4h.65M312.7 332.6h.65M290.3 326.6h.65M317.0 325.7h.65M293.7 349.2h.65M297.8 340.0h.65M309.2 324.2h.65M305.8 339.5h.65M288.8 362.0h.65M292.6 329.3h.65M329.8 344.7h.65M312.0 325.0h.65M302.8 344.6h.65M273.3 352.8h.65M303.3 340.3h.65M289.7 344.6h.65M303.8 350.5h.65M281.8 339.9h.65M278.6 360.7h.65M302.8 353.3h.65M307.6 329.2h.65M288.0 337.6h.65M272.0 350.7h.65M284.1 333.4h.65M295.5 353.1h.65M285.5 321.8h.65M295.6 330.5h.65M300.0 350.3h.65M308.5 322.9h.65M292.2 338.6h.65M267.6 346.9h.65M282.5 339.3h.65M311.7 335.9h.65M302.9 330.1h.65M302.4 343.9h.65M312.2 338.0h.65M293.9 342.4h.65M294.6 347.9h.65M295.7 335.2h.65M283.2 320.8h.65M298.6 355.2h.65M272.9 335.1h.65M286.6 341.0h.65M300.3 331.1h.65M305.9 343.0h.65M297.0 318.5h.65M310.8 331.0h.65M289.2 337.8h.65M310.4 348.2h.65M322.9 343.3h.65M296.6 342.1h.65M293.1 349.4h.65M289.3 336.5h.65M316.5 346.7h.65M294.0 331.9h.65M283.6 344.2h.65M293.1 359.4h.65M291.7 336.0h.65M283.9 341.9h.65M294.7 347.3h.65M282.8 334.9h.65M303.5 346.3h.65M297.9 333.6h.65M285.5 330.1h.65M316.2 348.7h.65M313.3 332.5h.65M292.0 349.9h.65M272.4 342.1h.65M283.7 349.4h.65M287.4 333.8h.65M297.4 334.1h.65M301.0 343.4h.65M330.6 329.7h.65M295.8 333.8h.65M309.3 348.3h.65M289.9 335.6h.65M316.8 340.3h.65M255.2 332.5h.65M272.7 346.4h.65M303.0 343.9h.65M296.7 332.6h.65M299.3 327.9h.65M310.2 330.8h.65M312.5 326.6h.65M322.0 330.5h.65M277.9 328.2h.65M310.7 358.6h.65M275.8 336.0h.65M315.9 341.1h.65M299.5 336.3h.65M318.2 342.1h.65M307.0 342.0h.65M276.6 329.6h.65M279.7 345.2h.65M301.1 340.6h.65M326.1 327.0h.65M277.7 335.7h.65M307.3 328.2h.65M304.1 339.7h.65M313.7 343.5h.65M308.4 333.3h.65M294.9 340.5h.65M269.9 332.1h.65M290.3 335.6h.65M296.4 349.3h.65M313.5 335.7h.65M298.2 336.2h.65M268.3 328.6h.65M295.4 327.9h.65M292.6 340.9h.65M294.1 346.9h.65M311.4 351.5h.65M295.3 348.7h.65M292.5 340.1h.65M278.0 364.5h.65M317.5 335.9h.65M299.7 344.3h.65M285.1 344.6h.65M264.6 338.6h.65M297.9 351.4h.65M298.7 344.6h.65M294.2 340.2h.65M288.3 333.8h.65M305.3 338.0h.65M309.8 353.8h.65M299.5 313.6h.65M304.8 336.9h.65M284.4 350.4h.65M314.4 343.9h.65M315.0 356.6h.65M300.0 317.0h.65M282.1 339.6h.65M283.1 335.6h.65M303.9 333.9h.65M285.1 324.4h.65M279.8 319.2h.65M288.7 344.1h.65M292.4 350.1h.65M299.2 337.9h.65M299.4 334.9h.65M293.4 356.8h.65M282.0 331.0h.65M314.5 333.4h.65M316.6 336.4h.65M315.1 329.4h.65M272.9 333.3h.65M267.4 339.3h.65M304.1 328.4h.65M288.4 345.7h.65M306.8 326.9h.65M316.4 339.8h.65M315.7 322.7h.65M295.1 343.4h.65M304.5 333.8h.65M300.1 337.9h.65M297.6 349.6h.65M287.4 333.3h.65M299.1 351.5h.65M293.9 342.2h.65M289.2 328.3h.65M300.6 336.5h.65M295.1 328.1h.65M321.6 345.0h.65M291.8 331.1h.65M317.1 338.3h.65M315.4 351.4h.65M286.2 355.4h.65M301.5 351.4h.65M278.6 341.2h.65M316.5 326.7h.65M280.8 347.7h.65M316.7 335.2h.65M309.7 326.6h.65M312.1 350.3h.65M264.1 341.6h.65M279.7 350.9h.65M315.7 338.2h.65M268.0 344.1h.65M270.1 325.8h.65M299.5 325.9h.65M314.0 326.4h.65M293.5 348.6h.65M289.5 334.5h.65M276.0 331.2h.65M295.0 355.9h.65M283.6 337.7h.65M273.2 333.9h.65M292.3 335.1h.65M272.8 343.9h.65M284.0 356.5h.65M310.4 328.5h.65M294.7 339.7h.65M297.6 342.7h.65M308.6 336.2h.65M289.4 338.5h.65M287.7 334.5h.65M287.9 327.7h.65M324.8 347.9h.65M293.0 322.7h.65M309.5 330.2h.65M315.5 333.0h.65M299.2 333.9h.65M298.9 321.6h.65M297.2 332.2h.65M278.3 336.9h.65M298.0 343.9h.65M320.0 339.2h.65M301.2 335.3h.65M301.3 355.7h.65M292.9 341.4h.65M291.7 337.2h.65M311.3 342.6h.65M274.3 322.2h.65M283.2 344.2h.65M303.2 345.7h.65M291.0 348.4h.65M311.8 341.7h.65M302.0 328.0h.65M290.3 339.4h.65M322.7 336.2h.65M294.8 327.2h.65M304.5 360.9h.65M290.5 354.6h.65M329.9 341.9h.65M301.0 338.6h.65M300.3 367.8h.65M281.9 338.6h.65M283.6 327.3h.65M299.7 354.7h.65M314.1 340.4h.65M311.5 349.1h.65M268.1 354.4h.65M299.4 330.9h.65M305.2 350.7h.65M314.9 332.4h.65M294.7 373.4h.65M297.7 329.8h.65M293.0 358.4h.65M296.2 323.5h.65M266.4 349.1h.65M315.1 337.4h.65M289.1 347.2h.65M315.2 322.2h.65M298.2 341.7h.65M304.4 343.9h.65M287.3 335.5h.65M296.1 335.4h.65M323.4 352.1h.65M292.7 358.0h.65M308.8 336.5h.65M288.5 342.4h.65M324.2 333.1h.65M285.6 347.9h.65M268.3 330.0h.65M304.3 350.4h.65M294.2 343.3h.65M315.5 339.0h.65M295.5 324.0h.65M268.6 351.3h.65M283.2 339.1h.65M301.7 328.5h.65M297.5 319.6h.65M301.6 351.0h.65M305.3 342.4h.65M317.3 352.7h.65M294.0 333.9h.65M297.6 336.2h.65M294.0 346.2h.65M273.2 341.8h.65M273.2 352.3h.65M291.5 333.3h.65M317.7 339.4h.65M296.3 350.0h.65M293.4 351.1h.65M304.5 340.1h.65M293.6 341.7h.65M307.7 341.3h.65M298.0 324.8h.65M284.3 344.3h.65M292.7 350.1h.65M281.1 347.7h.65M304.9 320.0h.65M328.4 342.6h.65M264.1 334.7h.65M306.4 347.0h.65M327.3 329.7h.65M275.4 347.3h.65M331.1 332.0h.65M299.2 324.2h.65M310.8 353.1h.65M310.7 342.0h.65M291.8 329.6h.65M294.7 335.4h.65M310.2 319.1h.65M292.9 333.5h.65M297.8 349.3h.65M301.3 346.9h.65M294.6 341.3h.65M301.2 339.7h.65M288.7 340.4h.65M289.3 360.1h.65M268.0 334.1h.65M300.1 340.0h.65M288.3 355.3h.65M273.9 325.7h.65M296.9 355.1h.65M325.8 345.6h.65M329.0 341.2h.65M282.6 331.6h.65M281.2 335.3h.65M315.7 339.5h.65M281.1 347.8h.65M310.3 335.0h.65M290.9 329.8h.65M279.7 340.6h.65M322.0 340.0h.65M295.5 338.7h.65M311.9 347.9h.65M294.5 344.2h.65M280.2 328.6h.65M305.3 323.4h.65M270.5 323.9h.65M286.0 336.9h.65M285.1 347.8h.65M330.3 344.4h.65M295.0 323.3h.65M300.0 336.0h.65M286.2 332.1h.65M286.3 350.7h.65M300.4 334.7h.65M327.1 337.1h.65M293.2 344.1h.65M310.0 347.4h.65M288.0 365.4h.65M280.9 339.0h.65M306.0 337.4h.65M289.2 345.2h.65M283.8 328.3h.65M300.1 333.7h.65M260.8 350.9h.65M283.4 344.6h.65M268.3 340.3h.65M331.7 335.3h.65M292.0 337.0h.65M303.2 342.4h.65M304.9 339.1h.65M280.9 360.6h.65M285.9 333.6h.65M293.7 325.2h.65M281.6 330.9h.65M300.2 324.2h.65M301.2 348.6h.65M271.7 343.9h.65M309.3 316.9h.65M305.3 337.6h.65M304.8 332.3h.65M322.6 329.3h.65M288.8 341.0h.65M301.9 324.9h.65M320.7 341.4h.65M304.2 345.6h.65M320.6 343.1h.65M292.3 339.8h.65M294.8 326.1h.65M304.3 354.9h.65M282.8 352.5h.65M288.5 325.9h.65M305.9 338.4h.65M323.6 344.3h.65M280.3 344.3h.65M319.0 324.5h.65M301.5 321.5h.65M291.3 342.5h.65M303.2 325.9h.65M288.9 350.3h.65M308.1 339.7h.65M277.4 331.9h.65M307.8 345.9h.65M283.4 338.3h.65M278.8 339.4h.65M278.6 349.1h.65M304.0 339.5h.65M289.6 344.7h.65M279.4 353.3h.65M293.2 340.3h.65M310.6 335.0h.65M307.4 321.8h.65M303.7 347.9h.65M276.8 351.0h.65M301.3 336.5h.65M286.0 349.8h.65M270.0 350.7h.65M290.8 319.5h.65M329.1 345.6h.65M328.2 336.5h.65M287.3 343.5h.65M285.7 327.8h.65M290.4 344.1h.65M301.7 341.6h.65M310.6 346.8h.65M284.2 337.5h.65M325.9 348.4h.65M297.9 353.2h.65M327.1 330.2h.65M292.6 342.4h.65M330.0 343.2h.65M297.3 334.2h.65M312.8 336.8h.65M266.8 323.4h.65M275.9 332.0h.65M319.3 348.4h.65M308.3 329.3h.65M291.7 348.1h.65M314.0 331.8h.65M294.5 342.4h.65M297.3 325.3h.65M330.6 347.6h.65M287.8 339.4h.65M298.2 347.2h.65M320.1 334.4h.65M298.4 349.8h.65M283.2 343.6h.65M273.3 325.4h.65M258.6 332.3h.65M313.7 339.0h.65M317.9 337.0h.65M261.9 331.3h.65M307.2 357.1h.65M280.4 351.7h.65M260.7 348.2h.65M314.2 330.7h.65M304.5 337.9h.65M313.9 341.9h.65M312.5 334.3h.65M297.3 349.9h.65M308.2 346.6h.65M288.7 355.7h.65M305.8 323.4h.65M299.4 329.6h.65M291.2 340.9h.65M277.6 328.6h.65M325.1 329.4h.65M325.0 338.9h.65M324.1 348.1h.65M314.0 341.8h.65M297.1 348.1h.65M279.8 338.1h.65M325.3 341.3h.65M286.6 339.9h.65M275.3 340.8h.65M294.8 336.1h.65M287.9 328.2h.65M284.3 339.7h.65M292.8 329.8h.65M297.6 340.0h.65M280.4 339.2h.65M273.8 339.3h.65M322.3 326.1h.65M317.0 350.7h.65M320.5 329.7h.65M290.0 344.8h.65M317.3 356.9h.65M276.0 329.8h.65M296.4 355.7h.65M312.7 334.3h.65M284.2 327.5h.65M305.8 351.9h.65M279.0 346.9h.65M261.9 356.8h.65M264.2 348.9h.65M286.9 348.9h.65M319.5 325.7h.65M299.6 333.4h.65M295.1 340.0h.65M293.0 315.8h.65M291.1 343.7h.65M306.7 328.1h.65M304.7 361.7h.65M302.3 332.2h.65M279.3 329.0h.65M301.0 317.2h.65M290.5 340.2h.65M301.9 323.2h.65M300.4 351.5h.65M281.5 332.1h.65M284.3 332.3h.65M291.7 342.0h.65M305.9 334.7h.65M304.7 356.1h.65M328.5 342.4h.65M332.4 340.2h.65M294.9 350.3h.65M297.0 340.8h.65M289.7 312.9h.65M289.3 345.4h.65M290.9 365.8h.65M317.1 321.7h.65M269.8 337.2h.65M292.2 334.5h.65M301.5 363.8h.65M285.8 334.1h.65M288.9 339.6h.65M288.8 336.0h.65M277.8 332.5h.65M257.1 344.2h.65M296.1 333.4h.65M266.3 326.7h.65M312.0 334.3h.65M285.4 337.1h.65M306.5 322.1h.65M293.3 339.5h.65M290.8 339.9h.65M303.4 348.2h.65M290.8 339.6h.65M279.0 352.1h.65M283.1 349.7h.65M297.7 347.1h.65M309.4 339.3h.65M272.2 318.2h.65M302.9 345.3h.65M304.9 341.0h.65M285.0 344.5h.65M314.4 336.3h.65M304.7 355.6h.65M278.3 346.2h.65M287.4 335.9h.65M294.7 345.0h.65M274.0 350.2h.65M306.2 342.0h.65M262.1 342.0h.65M274.5 346.3h.65M274.5 347.9h.65M299.6 347.6h.65M294.2 328.3h.65M322.5 337.2h.65M300.7 334.2h.65M293.6 363.4h.65M317.6 337.5h.65M271.2 342.0h.65M301.0 338.0h.65M312.9 338.2h.65M301.9 323.0h.65M279.6 338.9h.65M269.8 347.5h.65M306.0 346.4h.65M294.1 332.7h.65M299.7 349.0h.65M300.8 326.7h.65M292.9 360.3h.65M295.8 331.3h.65M301.8 365.7h.65M300.1 346.1h.65M280.2 327.2h.65M265.6 325.9h.65M286.6 322.0h.65M292.8 342.1h.65M306.9 327.4h.65M296.1 322.3h.65M292.1 337.8h.65M287.8 331.0h.65M309.4 325.4h.65M288.8 343.4h.65M294.4 350.8h.65M295.9 336.7h.65M277.0 337.4h.65M294.5 336.3h.65M304.1 355.1h.65M284.9 349.9h.65M279.5 339.7h.65M309.4 336.5h.65M298.0 339.3h.65M320.5 342.2h.65M280.3 341.5h.65M291.9 327.9h.65M300.9 351.6h.65M296.2 330.4h.65M309.5 348.3h.65M286.7 337.2h.65M285.6 345.6h.65M307.1 330.9h.65M279.1 355.0h.65M293.3 342.7h.65M302.6 327.4h.65M274.4 340.8h.65M289.2 343.1h.65M322.5 324.5h.65M291.8 329.0h.65M298.6 339.1h.65M301.2 326.5h.65M288.4 339.6h.65M301.0 313.6h.65M298.4 329.7h.65M278.7 334.5h.65M290.5 352.7h.65M298.3 364.9h.65M295.7 340.0h.65M300.4 324.0h.65M287.8 347.8h.65M310.7 335.1h.65M281.6 321.7h.65M298.2 333.4h.65M277.0 329.5h.65M301.4 346.0h.65M282.2 348.1h.65M301.4 337.7h.65M312.9 338.0h.65M332.9 343.2h.65M291.4 335.7h.65M316.8 329.8h.65M291.5 344.9h.65M291.7 333.8h.65M301.6 346.8h.65M284.6 349.1h.65M307.8 344.9h.65M289.2 330.7h.65M276.8 331.9h.65M267.8 346.8h.65M292.9 343.5h.65M290.9 323.7h.65M293.4 331.4h.65M258.9 336.9h.65M304.2 344.0h.65M300.0 362.6h.65M293.9 346.7h.65M288.1 335.0h.65M296.8 333.2h.65M283.0 363.9h.65M284.8 349.8h.65M286.9 347.2h.65M303.4 340.3h.65M284.8 323.8h.65M323.6 342.3h.65M315.4 336.6h.65M309.5 332.7h.65M292.3 337.6h.65M282.4 337.7h.65M288.2 342.4h.65M304.2 351.1h.65M286.9 329.5h.65M285.7 349.2h.65M287.3 339.4h.65M311.4 323.1h.65M311.3 333.8h.65M322.0 324.6h.65M274.8 341.1h.65M286.6 341.8h.65M302.2 351.9h.65M303.7 348.6h.65M302.5 336.7h.65M294.7 353.9h.65M296.7 336.8h.65M311.5 332.9h.65M295.6 356.5h.65M262.2 336.2h.65M307.9 345.4h.65M267.6 343.8h.65M272.6 352.8h.65M269.8 339.6h.65M268.1 345.6h.65M275.7 348.9h.65M304.2 356.0h.65M283.1 335.3h.65M326.3 331.4h.65M301.8 341.8h.65M277.3 344.5h.65M282.2 325.3h.65M307.8 352.9h.65M300.2 326.1h.65M279.1 346.2h.65M304.1 334.7h.65M309.5 342.1h.65M307.5 354.1h.65M287.8 337.2h.65M308.6 341.6h.65M293.9 328.8h.65M270.7 351.2h.65M295.2 331.1h.65M288.1 316.5h.65M269.2 354.0h.65M284.7 342.8h.65M302.6 346.9h.65M306.9 341.3h.65M263.7 336.7h.65M290.9 346.7h.65M288.3 344.5h.65M318.2 340.7h.65M284.8 340.8h.65M289.7 345.1h.65M257.9 329.6h.65M301.0 330.7h.65M303.5 347.2h.65M292.4 363.9h.65M292.2 335.3h.65M306.8 324.3h.65M281.1 342.9h.65M288.0 327.2h.65M275.0 333.6h.65M273.9 347.3h.65M321.0 340.9h.65M328.2 350.6h.65M290.9 324.6h.65M262.7 320.6h.65M294.3 347.7h.65M328.8 339.8h.65M280.4 330.0h.65M305.5 336.5h.65M286.1 326.1h.65M300.0 334.6h.65M292.6 347.1h.65M313.4 350.2h.65M308.3 337.7h.65M294.4 347.9h.65M286.7 352.9h.65M308.2 352.1h.65M310.5 338.9h.65M302.1 343.5h.65M314.2 344.1h.65M308.7 352.0h.65M272.7 344.4h.65M295.1 333.2h.65M292.2 340.6h.65M273.3 330.4h.65M299.8 348.9h.65M276.1 342.1h.65M285.0 346.0h.65M289.7 335.3h.65M303.9 349.7h.65M275.2 341.0h.65M300.3 344.2h.65M283.7 347.4h.65M283.3 346.6h.65M297.4 360.9h.65M257.6 331.3h.65M297.6 335.4h.65M303.1 325.1h.65M327.7 332.0h.65M280.4 332.2h.65M314.0 342.9h.65M288.0 347.0h.65M279.5 360.4h.65M282.2 360.9h.65M287.8 336.3h.65M318.7 348.3h.65M289.3 343.8h.65M284.3 336.0h.65M288.6 331.2h.65M321.9 338.7h.65M295.0 347.9h.65M310.5 336.4h.65M291.8 355.0h.65M300.2 346.6h.65M276.5 327.4h.65M282.0 337.4h.65M280.2 356.4h.65M291.9 346.9h.65M294.3 335.1h.65M282.3 338.7h.65M303.9 326.9h.65M303.0 353.5h.65M293.0 334.8h.65M325.4 346.9h.65M288.1 341.4h.65M309.8 345.4h.65M292.0 340.4h.65M286.9 342.3h.65M272.2 339.4h.65M308.4 331.1h.65M316.9 344.7h.65M285.5 364.0h.65M320.7 322.4h.65M309.5 334.2h.65M287.3 356.4h.65M286.4 331.8h.65M305.3 340.3h.65M285.6 332.8h.65M328.5 332.0h.65M302.0 337.5h.65M313.4 334.7h.65M280.7 338.0h.65M320.1 335.9h.65M307.4 317.5h.65M279.1 351.4h.65M291.8 351.1h.65M282.8 356.6h.65M302.0 339.8h.65M289.1 367.0h.65M290.8 342.1h.65M312.8 336.7h.65M321.6 346.1h.65M280.1 343.8h.65M318.9 327.9h.65M298.1 369.8h.65M298.3 334.2h.65M267.2 357.9h.65M297.1 344.0h.65M330.9 326.7h.65M281.6 335.2h.65M277.5 351.3h.65M325.3 347.7h.65M278.6 349.3h.65M303.0 330.7h.65M316.9 345.2h.65M296.8 334.3h.65M274.5 336.9h.65M287.8 343.5h.65M291.5 343.1h.65M300.4 346.4h.65M297.8 348.7h.65M291.6 349.5h.65M300.2 350.9h.65M311.7 337.0h.65M304.3 345.1h.65M279.5 328.1h.65M300.3 336.0h.65M294.0 333.1h.65M279.5 341.7h.65M277.7 335.7h.65M279.8 355.7h.65M288.5 356.9h.65M301.7 362.9h.65M294.7 319.4h.65M288.0 341.1h.65M294.4 326.8h.65M296.5 348.3h.65M300.9 338.0h.65M312.3 329.0h.65M296.4 339.8h.65M284.6 341.1h.65M312.6 333.7h.65M292.5 339.9h.65M312.6 332.6h.65M318.6 333.3h.65M305.4 327.2h.65M299.8 326.9h.65M309.7 335.1h.65M294.6 344.5h.65M291.8 344.0h.65M283.9 327.0h.65M306.0 342.1h.65M279.1 355.8h.65M288.8 335.0h.65M265.9 333.5h.65M314.8 353.0h.65M303.5 329.3h.65M302.4 324.4h.65M296.7 366.6h.65M296.1 327.2h.65M307.5 331.0h.65M321.9 340.9h.65M308.3 344.6h.65M322.0 342.2h.65M296.0 344.9h.65M280.4 343.9h.65M317.8 334.3h.65M330.3 329.7h.65M295.4 338.8h.65M301.4 342.6h.65M281.2 338.0h.65M283.2 346.8h.65M292.9 351.3h.65M294.4 331.1h.65M299.8 333.5h.65M322.4 342.2h.65M308.3 341.1h.65M333.1 342.5h.65M300.3 334.6h.65M284.4 358.8h.65M297.8 349.4h.65M290.4 333.9h.65M278.6 344.6h.65M293.0 339.0h.65M305.2 328.1h.65M277.3 342.3h.65M302.3 334.0h.65M294.8 343.1h.65M290.4 344.5h.65M301.8 349.0h.65M303.5 347.2h.65M298.2 331.9h.65M300.1 341.4h.65M293.4 331.9h.65M281.9 343.5h.65M306.5 340.3h.65M300.5 322.9h.65M278.2 341.9h.65M329.2 328.0h.65M281.9 347.2h.65M272.7 327.9h.65M286.3 337.9h.65M293.9 351.0h.65M289.3 335.8h.65M301.3 350.2h.65M277.5 328.1h.65M303.7 336.9h.65M259.3 324.6h.65M305.5 336.9h.65M274.0 339.6h.65M295.6 334.2h.65M285.2 335.4h.65M276.6 349.2h.65M301.1 334.3h.65M307.1 335.3h.65M305.8 340.7h.65M294.3 335.6h.65M280.1 339.9h.65M288.7 332.7h.65M300.8 348.7h.65M302.1 336.9h.65M304.2 354.0h.65M302.4 339.1h.65M282.7 351.1h.65M314.0 346.6h.65M281.8 346.8h.65M320.1 341.2h.65M299.9 330.0h.65M295.0 328.8h.65M302.5 353.4h.65M279.2 334.5h.65M291.4 338.7h.65M300.2 355.6h.65M290.5 334.7h.65M292.0 343.6h.65M268.4 340.1h.65M328.2 337.4h.65M275.7 349.2h.65M272.2 350.6h.65M285.6 339.5h.65M308.9 337.1h.65M314.0 332.4h.65M307.7 328.3h.65M281.4 329.8h.65M315.2 337.0h.65M305.1 347.1h.65M258.1 335.6h.65M313.1 337.6h.65M293.9 326.1h.65M297.3 346.2h.65M303.2 342.8h.65M285.0 346.7h.65M308.7 340.6h.65M297.2 348.0h.65M329.7 343.7h.65M286.4 340.0h.65M326.3 333.1h.65M292.3 331.2h.65M290.2 342.0h.65M291.3 338.5h.65M289.5 342.1h.65M291.1 324.6h.65M311.3 319.3h.65M293.0 355.3h.65M282.3 347.0h.65M265.4 349.7h.65M305.2 335.7h.65M322.2 344.6h.65M303.5 336.6h.65M305.8 324.3h.65M317.9 339.1h.65M314.4 336.4h.65M288.0 347.5h.65M292.4 328.5h.65M295.2 337.7h.65M307.1 332.0h.65M267.9 328.7h.65M324.4 343.9h.65M291.3 334.9h.65M290.8 342.2h.65M312.0 338.7h.65M285.2 334.7h.65M277.1 348.7h.65M284.0 344.3h.65M312.9 335.1h.65M269.5 333.3h.65M296.6 333.2h.65M322.0 341.2h.65M292.0 328.0h.65M307.0 341.8h.65M274.1 323.0h.65M296.8 345.6h.65M262.4 346.2h.65M286.9 336.9h.65M294.4 324.8h.65M285.2 332.8h.65M276.1 343.3h.65M301.8 341.4h.65M329.8 330.6h.65M297.7 353.3h.65M312.1 340.1h.65M308.8 325.8h.65M298.0 342.5h.65M293.1 338.3h.65M303.5 349.7h.65M299.5 346.2h.65M304.5 321.2h.65M309.5 333.7h.65M307.1 336.6h.65M286.9 349.6h.65M282.6 317.8h.65M309.3 349.4h.65M296.9 352.8h.65M308.9 330.7h.65M268.5 336.7h.65M317.1 336.8h.65M279.4 337.2h.65M272.7 327.6h.65M280.9 334.4h.65M304.1 352.6h.65M283.8 342.1h.65M301.2 338.2h.65M301.8 321.7h.65M300.5 342.1h.65M305.8 347.3h.65M316.3 337.7h.65M294.5 343.2h.65M298.0 319.1h.65M280.4 347.5h.65M276.9 326.8h.65M301.4 325.0h.65M300.3 350.3h.65M301.3 349.7h.65M297.3 363.8h.65M291.1 318.9h.65M284.2 340.5h.65M292.3 339.6h.65M300.3 336.6h.65M307.8 329.2h.65M299.0 346.8h.65M263.0 349.1h.65M300.3 335.0h.65M293.1 336.1h.65M290.7 334.0h.65M285.9 329.2h.65M318.5 351.6h.65M290.3 343.3h.65M291.1 340.7h.65M294.0 372.0h.65M307.3 340.4h.65M295.8 350.7h.65M268.6 344.3h.65M299.2 352.5h.65M296.7 330.7h.65M300.8 329.8h.65M293.6 340.0h.65M298.2 343.4h.65M325.1 335.8h.65M294.3 336.9h.65M288.4 318.4h.65M296.4 370.9h.65M285.3 347.6h.65M328.7 347.2h.65M293.4 338.3h.65M315.4 328.2h.65M298.5 346.7h.65M282.0 351.1h.65M283.8 350.2h.65M303.9 340.1h.65M279.3 324.5h.65M330.3 328.6h.65M310.1 330.9h.65M273.8 330.0h.65M286.9 337.8h.65M322.2 351.0h.65M306.2 351.9h.65M295.7 355.1h.65M289.9 358.5h.65M297.9 344.3h.65M306.8 334.7h.65M296.8 328.0h.65M304.1 347.2h.65M277.2 332.2h.65M310.7 333.9h.65M283.5 335.2h.65M284.5 361.8h.65M294.0 354.7h.65M304.1 329.1h.65M284.0 338.8h.65M297.4 346.0h.65M263.7 340.9h.65M322.0 351.9h.65M290.3 343.0h.65M292.3 329.0h.65M289.7 332.7h.65M284.1 322.1h.65M279.5 328.2h.65M284.5 351.6h.65M304.7 320.3h.65M310.7 347.8h.65M297.6 360.0h.65M282.6 330.3h.65M290.3 325.0h.65M257.2 332.6h.65M316.6 340.7h.65M281.5 325.9h.65M276.1 332.0h.65M263.7 322.4h.65M274.7 348.1h.65M301.8 336.5h.65M313.4 329.4h.65M273.5 333.7h.65M302.1 330.1h.65M286.0 351.9h.65M301.3 332.8h.65M306.2 332.7h.65M277.5 337.5h.65M285.6 331.6h.65M310.9 348.2h.65M299.2 332.5h.65M287.7 356.0h.65M308.8 330.4h.65M289.5 346.6h.65M289.6 333.1h.65M295.7 339.7h.65M298.3 322.0h.65M308.4 327.7h.65M305.0 333.0h.65M300.5 350.3h.65M279.6 348.9h.65M315.1 350.7h.65M316.4 340.3h.65M284.7 319.8h.65M308.9 343.8h.65M315.4 343.2h.65M292.7 362.1h.65M285.6 336.8h.65M294.5 353.4h.65M308.8 340.5h.65M292.6 331.8h.65M280.2 345.8h.65M262.4 335.6h.65M309.8 342.7h.65M287.3 337.6h.65M303.5 339.7h.65M273.6 341.3h.65M280.2 339.3h.65M286.0 340.3h.65M310.5 345.6h.65M318.4 343.1h.65M322.2 349.4h.65M275.5 349.0h.65M304.4 342.2h.65M281.1 339.9h.65M281.3 342.4h.65M293.3 316.3h.65M291.1 344.0h.65M267.7 337.1h.65M298.6 329.6h.65M290.0 342.6h.65M322.5 343.5h.65M293.7 324.9h.65M301.9 347.6h.65M307.2 355.3h.65M308.1 348.3h.65M312.1 341.9h.65M279.3 329.2h.65M291.5 355.0h.65M275.6 349.4h.65M325.7 328.3h.65M275.1 337.6h.65M277.8 352.2h.65M265.8 335.6h.65M300.4 342.1h.65M289.6 330.2h.65M281.0 336.7h.65M298.0 340.2h.65M292.3 335.7h.65M267.3 327.8h.65M282.1 334.3h.65M284.3 322.5h.65M285.1 337.3h.65M312.4 338.6h.65M299.8 338.0h.65M286.7 342.6h.65M300.0 344.8h.65M288.4 330.0h.65M311.6 336.4h.65M298.4 332.4h.65M268.1 331.3h.65M294.8 358.9h.65M306.0 338.2h.65M323.6 334.5h.65M289.5 341.5h.65M318.1 341.5h.65M293.1 335.2h.65M314.3 338.7h.65M278.6 323.7h.65M275.9 327.1h.65M294.2 330.2h.65M298.6 343.3h.65M295.8 357.0h.65M282.0 363.7h.65M318.6 348.2h.65M306.2 342.2h.65M276.4 332.5h.65M308.7 327.2h.65M276.2 335.9h.65M299.1 335.9h.65M274.8 359.1h.65M310.8 326.2h.65M290.3 332.1h.65M302.0 346.2h.65M270.0 346.6h.65M297.2 339.0h.65M308.2 347.7h.65M287.6 346.6h.65M281.3 335.4h.65M300.0 335.2h.65M282.4 341.3h.65M278.3 326.7h.65M294.7 347.6h.65M292.7 355.1h.65M290.3 335.5h.65M282.3 358.9h.65M295.3 350.8h.65M304.9 334.4h.65M292.8 337.3h.65M265.2 352.2h.65M276.3 361.1h.65M291.3 351.3h.65M308.9 340.3h.65M313.5 334.4h.65M284.5 322.5h.65M282.5 342.0h.65M291.7 346.4h.65M286.9 337.4h.65M315.1 330.1h.65M298.7 345.0h.65M279.5 321.3h.65M302.6 352.2h.65M268.1 351.6h.65M312.2 323.4h.65M308.4 340.1h.65M306.7 335.7h.65M292.9 326.8h.65M297.4 337.8h.65M286.7 343.3h.65M299.4 336.6h.65M289.2 325.9h.65M267.5 331.8h.65M305.0 344.6h.65M318.1 336.2h.65M300.7 326.3h.65M291.0 335.2h.65M289.4 331.3h.65M296.8 340.4h.65M320.8 336.9h.65M265.5 339.0h.65M301.7 338.2h.65M276.8 337.6h.65M295.4 327.7h.65M274.0 337.6h.65M294.0 337.4h.65M285.0 337.4h.65M280.7 359.6h.65M284.1 344.4h.65M277.4 341.2h.65M278.6 340.4h.65M294.6 316.5h.65M299.0 351.3h.65M287.7 339.6h.65M265.6 328.9h.65M292.0 336.6h.65M286.6 336.6h.65M300.7 333.3h.65M309.6 335.7h.65M303.4 333.0h.65M288.1 319.5h.65M327.8 337.7h.65M300.4 352.2h.65M329.5 335.9h.65M326.3 350.2h.65M318.3 351.2h.65M318.3 345.6h.65M304.9 347.6h.65M293.0 330.1h.65M290.8 335.5h.65M310.7 335.7h.65M310.2 331.0h.65M317.5 335.5h.65M301.3 330.4h.65M324.4 340.5h.65M298.1 339.0h.65M271.2 337.0h.65M291.4 337.6h.65M314.7 335.6h.65M277.4 346.1h.65M295.4 337.3h.65M283.5 334.6h.65M290.9 345.3h.65M307.3 339.4h.65M273.8 338.2h.65M297.3 321.3h.65M288.1 341.1h.65M275.0 351.7h.65M283.1 362.8h.65M299.1 339.1h.65M282.4 347.9h.65M316.6 335.0h.65M274.6 349.6h.65M312.6 343.2h.65M270.9 346.7h.65M307.3 349.8h.65M286.7 332.0h.65M290.9 350.6h.65M306.1 326.1h.65M306.2 351.3h.65M302.1 353.4h.65M295.6 341.4h.65M271.3 344.9h.65M266.8 347.6h.65M325.5 347.2h.65M295.5 330.8h.65M261.8 330.4h.65M311.6 338.9h.65M265.8 346.1h.65M259.3 353.3h.65M292.3 336.2h.65M281.3 333.6h.65M304.9 341.1h.65M309.6 340.3h.65M289.4 347.6h.65M292.5 335.6h.65M310.7 346.4h.65M309.9 349.8h.65M266.8 343.7h.65M296.2 332.2h.65M287.1 335.1h.65M283.1 329.9h.65M308.6 345.3h.65M298.9 340.8h.65M279.0 339.1h.65M286.4 343.6h.65M277.6 334.6h.65M282.3 326.0h.65M312.8 338.1h.65M292.6 343.4h.65M279.3 348.6h.65M297.3 340.9h.65M311.0 346.7h.65M301.0 345.4h.65M286.5 319.4h.65M300.4 347.0h.65M316.8 319.9h.65M298.2 338.5h.65M312.1 362.4h.65M291.6 347.4h.65M295.9 356.1h.65M283.8 324.6h.65M265.1 328.1h.65M299.1 355.7h.65M269.7 337.7h.65M302.8 317.3h.65M287.6 329.9h.65M291.2 360.9h.65M299.5 340.8h.65M280.2 346.4h.65M289.0 352.1h.65M280.3 339.4h.65M299.7 332.2h.65M264.1 333.9h.65M311.3 328.7h.65M293.5 342.9h.65M294.5 315.8h.65M288.6 334.0h.65M276.0 336.5h.65M276.3 341.5h.65M310.5 339.8h.65M291.4 346.5h.65M290.0 329.7h.65M284.1 326.3h.65M298.1 332.0h.65M296.1 340.2h.65M283.3 351.4h.65M293.2 342.7h.65M283.0 336.0h.65M309.6 344.0h.65M312.6 344.3h.65M283.1 340.2h.65M261.1 343.2h.65M297.0 326.2h.65M301.8 348.5h.65M278.4 341.1h.65M289.5 361.4h.65M316.1 351.0h.65M303.3 334.0h.65M301.2 353.5h.65M296.5 354.1h.65M290.3 315.4h.65M300.4 337.9h.65M299.5 326.4h.65M318.0 330.1h.65M287.3 354.6h.65M306.2 334.9h.65M287.4 352.3h.65M299.1 325.2h.65M289.2 332.1h.65M285.8 336.9h.65M293.6 349.5h.65M279.5 365.3h.65M280.8 346.0h.65M279.7 338.9h.65M300.4 354.0h.65M312.4 339.1h.65M304.9 338.7h.65M312.8 354.1h.65M282.9 342.5h.65M324.9 342.8h.65M301.1 344.7h.65M304.4 332.2h.65M318.2 339.3h.65M292.9 339.3h.65M322.3 327.6h.65M308.2 360.3h.65M289.8 352.9h.65M300.1 326.3h.65M270.4 332.9h.65M294.7 353.0h.65M291.3 343.3h.65M320.0 339.6h.65M298.0 362.2h.65M315.3 342.5h.65M262.3 339.1h.65M306.5 343.3h.65M290.3 349.2h.65M291.1 338.6h.65M272.0 347.7h.65M274.1 342.0h.65M304.2 327.1h.65M274.8 343.5h.65M265.2 333.7h.65M302.0 332.3h.65M303.2 354.0h.65M306.6 348.6h.65M287.7 345.2h.65M304.5 323.5h.65M291.6 353.1h.65M299.0 370.3h.65M296.6 314.2h.65M329.1 333.2h.65M317.2 329.6h.65M313.7 332.9h.65M290.4 344.0h.65M305.3 324.0h.65M270.5 343.2h.65M300.7 337.3h.65M302.5 341.0h.65M301.2 322.7h.65M297.5 343.9h.65M269.9 329.5h.65M283.9 357.4h.65M289.6 336.1h.65M285.9 336.4h.65M303.1 344.5h.65M317.2 329.6h.65M303.1 324.8h.65M305.6 343.6h.65M302.6 331.8h.65M291.2 339.4h.65M273.9 318.6h.65M301.3 329.8h.65M265.3 342.4h.65M305.8 332.2h.65M287.7 341.9h.65M263.1 335.3h.65M296.2 339.2h.65M318.5 345.5h.65M282.1 342.8h.65M296.1 357.2h.65M271.5 344.9h.65M295.8 312.2h.65M327.4 339.2h.65M281.3 345.3h.65M286.4 350.0h.65M295.2 354.8h.65M257.8 328.0h.65M325.5 336.6h.65M291.8 350.2h.65M300.0 348.2h.65M303.1 319.7h.65M291.9 335.9h.65M289.8 324.4h.65M294.5 322.1h.65M281.3 337.4h.65M301.2 333.9h.65M254.9 332.7h.65M295.1 352.5h.65M289.2 333.0h.65M279.1 348.5h.65M302.1 342.2h.65M302.8 316.7h.65M313.1 338.0h.65M273.7 360.2h.65M287.0 337.9h.65M314.4 342.1h.65M302.5 346.6h.65M275.0 334.1h.65M295.4 350.3h.65M291.0 356.0h.65M325.0 336.0h.65M293.7 341.3h.65M306.0 340.6h.65M290.4 339.2h.65M292.9 326.6h.65M291.2 341.7h.65M320.7 339.0h.65M282.7 337.5h.65M306.6 356.9h.65M284.3 346.7h.65M305.9 337.4h.65M301.9 335.1h.65M324.9 340.9h.65M292.1 326.9h.65M268.5 350.7h.65M304.1 334.0h.65M279.5 323.8h.65M304.1 331.3h.65M287.2 331.8h.65M299.1 365.9h.65M307.5 335.4h.65M310.4 348.8h.65M310.0 334.3h.65M272.4 346.6h.65M294.9 343.7h.65M286.6 355.6h.65M283.4 354.4h.65M309.9 337.8h.65M323.1 337.0h.65M267.6 353.2h.65M284.6 334.4h.65M306.4 334.9h.65M262.6 340.9h.65M299.5 337.0h.65M266.5 353.7h.65M308.9 326.8h.65M309.6 343.4h.65M328.4 342.2h.65M304.8 339.3h.65M303.4 349.6h.65M291.0 344.7h.65M313.9 342.2h.65M292.4 334.6h.65M293.1 357.5h.65M296.3 341.6h.65M275.8 335.8h.65M325.6 348.7h.65M301.6 334.4h.65M288.8 344.1h.65M309.9 336.2h.65M304.2 351.6h.65M270.9 323.4h.65M296.2 340.7h.65M297.0 350.1h.65M310.6 322.6h.65M281.8 341.2h.65M309.3 334.5h.65M306.6 324.3h.65M289.4 336.8h.65M283.5 350.6h.65M259.3 345.4h.65M311.5 334.7h.65M283.9 349.5h.65M271.6 337.1h.65M289.3 343.0h.65M303.9 338.2h.65M280.7 346.1h.65M303.9 350.4h.65M321.3 323.0h.65M291.5 342.5h.65M317.8 334.7h.65M307.9 345.7h.65M311.0 338.1h.65M281.3 356.8h.65M295.1 324.3h.65M270.7 326.3h.65M322.0 345.2h.65M265.3 346.2h.65M294.7 342.1h.65M281.1 332.9h.65M277.1 329.1h.65M273.4 351.0h.65M294.3 329.9h.65M298.5 325.5h.65M293.7 352.9h.65M328.3 345.5h.65M306.3 350.5h.65M311.3 331.9h.65M319.5 330.0h.65M306.5 339.7h.65M298.7 336.1h.65M283.6 331.3h.65M262.5 352.5h.65M286.8 329.8h.65M287.8 341.1h.65M318.5 351.2h.65M283.3 332.6h.65M316.4 341.5h.65M310.3 355.0h.65M299.3 343.5h.65M295.7 330.4h.65M311.4 335.3h.65M260.0 349.7h.65M278.1 351.0h.65M290.0 340.5h.65M279.0 340.4h.65M284.3 334.8h.65M311.6 330.8h.65M331.2 329.9h.65M269.7 336.0h.65M306.3 342.4h.65M312.8 356.6h.65M296.5 327.2h.65M319.2 321.7h.65M299.9 344.1h.65M297.9 339.5h.65M330.7 329.6h.65M296.1 347.3h.65M298.2 352.2h.65M295.0 357.5h.65M291.6 345.6h.65M293.6 336.4h.65M298.1 341.3h.65M283.4 333.1h.65M307.0 340.9h.65M290.6 357.8h.65M288.9 336.4h.65M297.2 356.0h.65M327.3 342.6h.65M259.6 335.7h.65M282.3 354.5h.65M289.0 338.2h.65M278.7 352.5h.65M266.1 326.5h.65M318.6 345.4h.65M300.5 338.0h.65M296.6 335.2h.65M290.9 339.8h.65M276.8 356.4h.65M276.2 340.5h.65M309.1 347.9h.65M297.7 319.4h.65M312.8 341.3h.65M306.4 331.4h.65M290.8 343.8h.65M297.2 360.8h.65M284.4 357.4h.65M292.3 350.0h.65M276.7 322.2h.65M291.0 340.0h.65M301.2 345.8h.65M288.3 355.0h.65M293.9 358.5h.65M289.5 350.5h.65M278.4 338.3h.65M308.0 331.9h.65M303.7 322.1h.65M313.8 345.7h.65M312.3 325.1h.65M292.8 339.0h.65" fill="none" stroke="#a86c32" stroke-width="0.65"/>
<path d="M250.9,323.4 L296.1,310.3 L337.2,325.4 L334.4,348.6 L296.1,374.6 L255.0,354.0 Z M250.9,323.4 L296.1,344.5 L337.2,325.4 M296.1,344.5 L296.1,374.6" fill="none" stroke="#4a4a4a" stroke-width="0.7"/>
<path d="M296.1,310.3 L296.8,337.2 M255,354 L296.8,337.2 L334.4,348.6" fill="none" stroke="#6a6e74" stroke-width="0.5" opacity="0.8"/>
<path d="M600.9,247.3 L646.0,234.2 L688.4,248.7 L646.0,269.2 Z" fill="#12127f"/>
<path d="M612.2 260.3h.8M618.1 265.3h.8M629.1 261.1h.8M603.3 268.5h.8M612.7 254.1h.8M645.8 274.6h.8M638.7 271.3h.8M629.7 261.7h.8M630.3 283.9h.8M625.2 274.6h.8M631.2 262.1h.8M635.3 273.3h.8M614.5 253.9h.8M640.0 271.9h.8M633.9 286.4h.8M633.8 289.0h.8M619.7 274.8h.8M622.3 284.0h.8M640.5 266.7h.8M607.1 251.2h.8M644.5 273.1h.8M629.2 263.0h.8M623.9 261.9h.8M617.3 264.2h.8M628.2 285.0h.8M632.4 288.8h.8M639.9 296.8h.8M631.2 262.5h.8M640.1 295.1h.8M641.8 275.7h.8M633.1 263.8h.8M638.5 274.3h.8M613.8 253.6h.8M639.8 296.7h.8M606.4 268.1h.8M619.4 256.7h.8M615.2 270.9h.8M640.3 266.4h.8M628.6 260.8h.8M633.4 265.5h.8M640.9 296.6h.8M625.1 289.7h.8M614.9 254.2h.8M627.9 260.4h.8M610.1 255.6h.8M628.4 261.1h.8M604.7 271.0h.8M616.8 282.7h.8M641.4 270.3h.8M622.0 264.4h.8M630.2 270.9h.8M626.5 270.0h.8M643.4 274.5h.8M621.1 271.5h.8M611.8 254.5h.8M645.0 275.7h.8M625.6 259.3h.8M620.1 265.4h.8M602.7 258.1h.8M629.4 261.2h.8M629.4 266.5h.8M631.6 265.0h.8M633.2 278.4h.8M601.9 247.8h.8M632.2 290.9h.8M612.6 258.0h.8M627.7 262.6h.8M617.4 257.4h.8M618.1 264.9h.8M614.7 257.2h.8M635.7 264.2h.8M627.2 275.3h.8M614.9 255.1h.8M637.2 266.1h.8M609.7 256.1h.8M632.4 262.8h.8M615.6 256.9h.8M638.6 270.3h.8M639.5 266.6h.8M616.8 266.4h.8M640.9 271.7h.8M611.1 252.5h.8M624.8 259.6h.8M637.6 285.9h.8M609.3 253.0h.8M637.5 276.3h.8M637.3 267.7h.8M606.9 252.0h.8M636.7 266.2h.8M616.8 259.1h.8M620.0 260.5h.8M642.4 267.9h.8M603.5 274.9h.8M640.9 297.0h.8M621.9 284.8h.8M642.7 268.6h.8M635.0 284.5h.8M631.0 268.8h.8M614.1 256.3h.8M611.2 252.3h.8M627.5 262.0h.8M637.4 265.1h.8M641.8 280.6h.8M642.7 292.0h.8M641.6 275.9h.8M602.9 263.6h.8M608.8 253.0h.8M631.0 269.0h.8M621.0 283.6h.8M628.6 263.4h.8M613.8 275.2h.8M623.3 275.6h.8M616.8 255.8h.8M625.8 278.8h.8M610.0 269.4h.8M642.6 286.6h.8M638.0 265.3h.8M630.0 283.4h.8M603.3 250.0h.8M613.5 260.4h.8M620.3 262.2h.8M635.9 264.3h.8M603.4 248.8h.8M606.5 250.1h.8M644.9 290.5h.8M605.3 255.6h.8M615.3 256.4h.8M617.4 266.5h.8M627.5 263.2h.8M609.7 253.9h.8M607.1 258.2h.8M633.3 266.4h.8M604.6 249.6h.8M618.3 265.4h.8M636.3 267.8h.8M637.2 275.4h.8M620.5 260.0h.8M623.9 272.1h.8M620.6 270.1h.8M621.7 258.6h.8M625.6 272.7h.8M604.5 253.3h.8M621.3 280.1h.8M643.2 271.1h.8M641.6 285.3h.8M613.1 258.4h.8M608.0 269.6h.8M631.5 285.7h.8M636.9 277.1h.8M634.2 271.8h.8M606.3 258.8h.8M601.2 247.8h.8M635.8 264.3h.8M605.1 249.5h.8M640.6 267.2h.8M603.8 269.0h.8M608.0 271.3h.8M631.9 282.9h.8M643.9 277.1h.8M636.9 264.8h.8M635.6 270.8h.8M633.2 263.1h.8M635.3 290.6h.8M603.9 251.0h.8M627.1 280.0h.8M611.9 253.2h.8M612.9 263.1h.8M635.0 267.5h.8M617.7 259.1h.8M616.9 259.2h.8M605.2 255.5h.8M644.8 272.7h.8M634.6 264.1h.8M632.5 279.0h.8M631.5 269.0h.8M623.2 269.3h.8M641.4 267.3h.8M606.5 265.6h.8M642.3 274.3h.8M621.6 271.7h.8M609.4 252.9h.8M610.5 260.9h.8M615.2 255.3h.8M632.8 290.6h.8M615.1 267.9h.8M620.7 278.2h.8M627.3 261.6h.8M610.7 252.1h.8M622.7 261.3h.8M608.9 254.1h.8M616.5 271.8h.8M609.7 281.3h.8M623.0 267.5h.8M623.0 278.3h.8M638.1 273.5h.8M623.3 272.6h.8M639.6 269.9h.8M634.7 292.0h.8M622.0 258.6h.8M612.5 267.1h.8M632.2 290.6h.8M639.4 267.2h.8M609.6 252.9h.8M610.4 265.5h.8M639.9 290.7h.8M613.9 275.4h.8M615.3 258.5h.8M633.8 263.4h.8M606.8 270.1h.8M614.2 256.6h.8M627.5 272.8h.8M601.4 250.0h.8M620.9 262.8h.8M611.0 261.1h.8M644.0 271.8h.8M625.5 259.5h.8M614.1 265.7h.8M607.9 273.7h.8M641.9 267.3h.8M643.4 271.2h.8M636.1 280.8h.8M615.0 266.6h.8M631.0 280.8h.8M614.0 269.6h.8M644.3 281.0h.8M625.1 259.3h.8M623.3 261.0h.8M633.6 275.9h.8M626.5 260.3h.8M630.4 272.3h.8M610.7 275.3h.8M630.5 261.9h.8M642.9 268.1h.8M616.7 269.4h.8M628.1 268.5h.8M630.3 266.7h.8M615.0 254.7h.8M605.2 263.4h.8M635.1 271.5h.8M634.3 266.5h.8M613.1 256.6h.8M640.3 266.4h.8M623.7 259.6h.8M635.6 267.0h.8M616.1 258.5h.8M626.0 276.5h.8M618.1 276.5h.8M606.1 251.3h.8M605.4 249.7h.8M636.3 279.5h.8M609.3 252.0h.8M620.5 272.3h.8M638.0 281.3h.8M627.6 260.6h.8M618.9 256.7h.8M625.1 267.4h.8M610.1 253.0h.8M636.2 264.4h.8M637.5 289.0h.8M643.7 271.5h.8M626.2 268.5h.8M630.4 291.0h.8M631.9 264.3h.8M639.8 272.1h.8M628.6 275.6h.8M602.5 264.6h.8M630.9 267.9h.8M624.7 264.1h.8M610.1 258.8h.8M603.1 254.5h.8M630.2 266.3h.8M627.5 288.3h.8M641.1 267.2h.8M636.8 275.2h.8M603.4 251.4h.8M611.4 252.5h.8M626.3 285.7h.8M616.9 277.3h.8M632.2 262.8h.8M639.7 275.8h.8M642.8 282.2h.8M634.3 266.2h.8M637.7 291.7h.8M639.8 270.8h.8M635.2 269.8h.8M605.8 249.7h.8M604.5 249.8h.8M608.6 257.1h.8M632.6 270.1h.8M620.5 268.2h.8M615.0 259.4h.8M635.1 267.7h.8M610.8 275.9h.8M633.4 266.2h.8M618.0 262.7h.8M627.8 261.4h.8M601.1 248.2h.8M636.2 264.8h.8M621.7 258.1h.8M610.4 252.4h.8M619.1 256.7h.8M602.2 248.1h.8M608.9 257.1h.8M603.6 248.6h.8M621.3 261.1h.8M632.6 262.7h.8M619.3 259.9h.8M604.6 276.9h.8M610.8 252.2h.8M622.3 258.2h.8M629.1 263.7h.8M606.5 250.0h.8M633.8 264.9h.8M636.5 270.0h.8M643.0 269.7h.8M612.3 254.3h.8M637.8 276.0h.8M616.5 255.0h.8M632.5 291.5h.8M627.6 260.3h.8M602.3 248.1h.8M608.6 251.0h.8M604.3 260.4h.8M641.5 267.8h.8M644.8 274.3h.8M637.6 290.7h.8M643.3 267.9h.8M615.3 264.0h.8M643.6 268.1h.8M615.5 275.4h.8M606.4 253.4h.8M616.7 267.6h.8M642.8 268.2h.8M634.6 278.9h.8M638.7 273.7h.8M642.6 270.6h.8M619.7 257.4h.8M636.2 270.2h.8M613.1 253.7h.8M633.6 273.0h.8M633.0 266.4h.8M622.9 258.4h.8M633.0 262.9h.8M622.7 274.2h.8M631.5 262.3h.8M613.0 273.8h.8M630.6 284.7h.8M640.3 271.4h.8M641.5 282.3h.8M616.1 257.8h.8M604.5 252.7h.8M644.0 268.4h.8M626.6 260.0h.8M605.5 260.7h.8M611.8 252.6h.8M608.6 262.1h.8M627.3 260.1h.8M613.3 281.5h.8M611.4 260.5h.8M620.7 274.3h.8M628.8 278.7h.8M625.1 259.7h.8M608.9 251.3h.8M638.1 265.6h.8M604.5 276.9h.8M611.6 275.9h.8M605.2 254.6h.8M612.4 272.7h.8M629.0 272.1h.8M635.7 286.9h.8M617.1 264.7h.8M621.0 257.3h.8M638.7 275.1h.8M637.7 266.0h.8M625.4 264.5h.8M633.7 263.3h.8M616.9 260.8h.8M604.8 256.9h.8M634.2 267.7h.8M630.5 271.4h.8M610.8 254.8h.8M645.8 271.6h.8M620.3 256.8h.8M610.8 252.6h.8M643.0 282.7h.8M640.7 296.9h.8M629.4 287.4h.8M625.2 263.3h.8M643.8 292.9h.8M643.8 274.0h.8M635.9 268.2h.8M645.9 295.1h.8M615.8 280.6h.8M609.2 251.5h.8M633.5 265.0h.8M624.8 269.9h.8M604.1 264.2h.8M613.6 257.9h.8M617.4 270.7h.8M634.6 265.4h.8M605.7 251.5h.8M619.4 256.4h.8M609.1 267.5h.8M633.3 292.4h.8M645.1 291.9h.8M617.7 255.9h.8M615.3 259.5h.8M624.9 266.5h.8M618.4 277.0h.8M614.1 258.9h.8M641.1 285.9h.8M614.4 255.0h.8M637.3 265.0h.8M607.4 257.5h.8M625.1 259.5h.8M603.2 249.2h.8M635.7 269.6h.8M645.1 286.8h.8M645.1 268.8h.8M609.2 251.4h.8M620.5 259.4h.8M603.9 256.3h.8M605.3 251.5h.8M613.3 271.7h.8M619.8 257.9h.8M603.3 252.8h.8M629.6 273.8h.8M642.2 286.6h.8M612.1 253.0h.8M635.5 282.2h.8M624.7 279.0h.8M625.9 261.1h.8M608.5 251.0h.8M630.7 285.9h.8M641.8 272.6h.8M631.7 288.4h.8M637.8 274.9h.8M620.0 263.3h.8M608.6 251.7h.8M632.6 293.1h.8M625.7 263.3h.8M617.1 260.1h.8M637.2 270.0h.8M644.2 268.7h.8M615.5 261.3h.8M620.6 278.0h.8M638.6 292.1h.8M628.5 260.7h.8M627.1 267.8h.8M623.0 259.7h.8M633.6 288.2h.8M606.5 262.0h.8M618.0 262.3h.8M641.6 295.5h.8M629.9 262.1h.8M642.4 268.1h.8M619.3 276.1h.8M615.3 255.8h.8M643.9 295.6h.8M615.4 257.9h.8M613.6 253.8h.8M614.2 282.8h.8M604.6 250.1h.8M609.9 251.8h.8M625.3 274.7h.8M638.9 276.6h.8M637.8 265.2h.8M615.5 282.2h.8M604.2 250.3h.8M622.7 259.4h.8M625.5 259.3h.8M613.5 281.0h.8M609.3 275.5h.8M611.2 282.2h.8M631.7 273.6h.8M607.3 250.5h.8M635.2 264.5h.8M610.9 271.5h.8M640.4 266.5h.8M644.3 275.8h.8M618.2 255.9h.8M620.1 286.4h.8M613.6 253.7h.8M607.5 250.8h.8M618.3 280.7h.8M604.4 249.7h.8M643.4 299.1h.8M645.1 270.0h.8M618.5 283.1h.8M623.4 271.9h.8M615.0 254.2h.8M617.4 271.0h.8M636.3 273.0h.8M622.2 265.0h.8M621.2 264.4h.8M638.5 266.3h.8M628.7 287.1h.8M639.2 266.5h.8M644.4 289.4h.8M608.6 252.5h.8M610.0 251.8h.8M645.0 272.8h.8M640.3 266.6h.8M603.5 270.5h.8M637.3 295.5h.8M632.0 269.5h.8M635.5 264.2h.8M625.5 263.9h.8M608.2 260.2h.8M615.9 261.0h.8M617.9 257.7h.8M617.6 264.9h.8M645.2 295.8h.8M640.0 286.9h.8M615.7 283.4h.8M613.1 253.5h.8M624.2 273.6h.8M617.0 266.3h.8M615.5 282.6h.8M621.6 263.0h.8M625.8 282.1h.8M645.4 276.1h.8M621.3 267.4h.8M604.4 253.2h.8M639.4 283.5h.8M605.4 270.5h.8M619.9 285.8h.8M617.5 256.2h.8M626.6 283.0h.8M621.5 279.4h.8M633.1 265.9h.8M614.9 260.4h.8M619.1 259.3h.8M631.0 284.7h.8M627.3 260.5h.8M611.0 255.3h.8M628.6 261.1h.8M604.8 251.4h.8M613.7 253.5h.8M626.3 285.1h.8M625.6 274.6h.8M638.6 286.3h.8M642.1 272.1h.8M631.7 262.5h.8M640.6 269.9h.8M623.5 281.8h.8M613.9 254.3h.8M638.2 275.0h.8M604.7 249.2h.8M616.7 255.0h.8M638.5 266.2h.8M613.5 256.9h.8M624.2 263.1h.8M629.7 273.2h.8M620.6 257.0h.8M645.1 282.2h.8M605.1 253.9h.8M635.6 294.6h.8M603.9 248.7h.8M622.7 262.1h.8M641.4 287.2h.8M616.1 258.8h.8M628.1 283.8h.8M610.3 255.4h.8M605.8 260.6h.8M604.4 274.9h.8M624.9 267.5h.8M604.8 250.3h.8M623.1 279.6h.8M625.3 260.9h.8M645.2 280.9h.8M624.8 259.7h.8M615.9 278.5h.8M607.5 257.6h.8M629.0 263.8h.8M636.1 289.4h.8M639.8 281.7h.8M610.1 251.8h.8M620.5 258.9h.8M611.3 274.5h.8M612.0 272.1h.8M643.2 268.1h.8M642.1 271.1h.8M610.5 252.6h.8M603.1 254.5h.8M619.4 277.5h.8M638.5 265.6h.8M619.2 259.7h.8M609.0 252.5h.8M613.7 266.7h.8M616.3 255.0h.8M611.2 256.9h.8M626.4 260.9h.8M632.5 263.5h.8M631.4 272.1h.8M610.0 267.4h.8M619.1 263.5h.8M628.2 271.2h.8M620.9 257.0h.8M636.8 286.7h.8M623.4 267.0h.8M614.6 277.8h.8M631.9 263.3h.8M638.3 295.6h.8M618.3 286.0h.8M622.7 258.5h.8M633.3 265.6h.8M634.1 272.4h.8M606.3 256.9h.8M639.3 271.7h.8M626.1 281.5h.8M621.3 263.3h.8M627.9 280.2h.8M610.1 251.9h.8M635.4 272.0h.8M616.1 278.1h.8M640.9 274.3h.8M645.5 289.7h.8M634.7 265.5h.8M602.5 260.4h.8M634.1 266.2h.8M622.9 266.3h.8M613.1 266.5h.8M626.4 263.1h.8M606.5 257.8h.8M616.2 269.3h.8M609.0 254.8h.8M610.0 255.6h.8M626.9 260.1h.8M603.9 254.4h.8M610.5 258.3h.8M608.5 251.1h.8M626.2 285.2h.8M640.2 273.2h.8M618.8 256.1h.8M613.5 255.5h.8M643.4 268.1h.8M643.7 273.8h.8M620.5 258.3h.8M644.3 269.0h.8M626.9 266.5h.8M610.0 252.7h.8M645.4 287.2h.8M634.6 288.2h.8M606.5 263.5h.8M634.8 264.8h.8M622.9 286.9h.8M616.6 271.3h.8M609.3 263.3h.8M613.5 259.9h.8M619.0 278.3h.8M634.6 270.1h.8M632.0 266.8h.8M637.2 266.3h.8M625.8 268.4h.8M618.4 255.8h.8M609.4 262.3h.8M611.6 268.6h.8M624.9 286.5h.8M639.3 281.0h.8M617.7 255.5h.8M626.6 275.5h.8M642.4 268.3h.8M610.3 280.9h.8M634.4 269.4h.8M634.2 263.9h.8M625.9 271.7h.8M628.1 261.0h.8M607.9 261.0h.8M640.8 267.0h.8M601.2 247.6h.8M636.4 268.1h.8M623.0 288.3h.8M628.5 262.1h.8M632.5 262.7h.8M614.5 267.3h.8M608.6 251.1h.8M624.4 261.1h.8M644.7 268.7h.8M637.1 268.4h.8M637.3 269.8h.8M631.1 264.3h.8M611.4 257.3h.8M637.0 267.5h.8M611.6 256.5h.8M605.4 251.6h.8M627.0 267.6h.8M627.9 262.2h.8M602.0 247.9h.8M616.2 255.5h.8M626.6 261.2h.8M635.5 273.7h.8M631.2 277.3h.8M624.6 263.2h.8M614.8 254.1h.8M636.8 271.1h.8M607.5 275.9h.8M627.5 270.7h.8M620.7 257.2h.8M646.0 269.7h.8M619.2 286.7h.8M606.9 256.4h.8M622.6 259.1h.8M642.6 271.7h.8M601.9 253.2h.8M602.4 261.7h.8M640.4 291.3h.8M604.1 261.1h.8M615.0 259.6h.8M614.6 255.9h.8M607.7 260.9h.8M607.2 278.2h.8M605.3 277.2h.8M609.5 251.6h.8M634.7 270.9h.8M635.7 270.8h.8M629.3 261.2h.8M631.5 268.8h.8M644.3 268.4h.8M605.0 261.6h.8M642.7 271.9h.8M633.2 271.2h.8M618.8 261.3h.8M628.0 260.5h.8M615.7 269.6h.8M612.9 258.6h.8M612.7 255.9h.8M630.7 277.5h.8M644.1 274.0h.8M610.2 254.3h.8M603.6 249.8h.8M627.6 270.2h.8M611.8 253.2h.8M605.4 250.0h.8M623.6 259.6h.8M640.8 275.1h.8M616.5 259.3h.8M604.0 263.6h.8M634.8 266.8h.8M633.7 264.8h.8M610.9 253.2h.8M610.5 261.5h.8M630.3 276.5h.8M606.9 266.6h.8M622.6 261.1h.8M623.8 262.9h.8M610.2 255.4h.8M630.5 276.0h.8M642.2 268.1h.8M641.3 285.6h.8M633.8 292.9h.8M608.5 267.9h.8M641.5 267.2h.8M628.7 288.1h.8M615.5 275.7h.8M641.8 271.8h.8M607.5 251.4h.8M638.4 269.8h.8M615.4 259.0h.8M642.8 269.0h.8M604.2 275.6h.8M615.4 257.8h.8M644.9 270.4h.8M606.7 273.1h.8M612.0 253.6h.8M643.2 268.9h.8M641.6 269.5h.8M614.6 254.9h.8M625.7 267.5h.8M619.2 262.6h.8M615.7 274.8h.8M643.1 284.1h.8M637.9 265.3h.8M612.2 253.6h.8M610.1 279.9h.8M641.9 292.7h.8M626.1 259.7h.8M620.2 256.7h.8M641.7 268.6h.8M615.6 281.3h.8M611.8 277.8h.8M615.7 266.4h.8M607.7 274.2h.8M619.0 258.8h.8M630.7 271.1h.8M612.2 253.1h.8M626.9 259.9h.8M640.2 269.1h.8M608.7 253.4h.8M606.2 252.0h.8M625.6 263.2h.8M616.1 256.5h.8M623.7 275.6h.8M621.5 274.0h.8M622.7 258.1h.8M610.2 272.6h.8M622.7 261.2h.8M625.1 280.0h.8M618.0 258.6h.8M617.4 255.3h.8M625.7 265.0h.8M623.5 263.2h.8M622.9 272.2h.8M611.5 281.5h.8M607.9 272.4h.8M610.2 269.7h.8M612.7 253.1h.8M626.1 280.1h.8M639.4 289.0h.8M645.1 268.8h.8M618.0 255.8h.8M635.1 268.9h.8M634.9 282.2h.8M646.0 282.0h.8M640.5 274.4h.8M606.5 273.2h.8M605.0 249.4h.8M638.4 267.2h.8M630.8 261.8h.8M611.4 266.5h.8M603.2 254.8h.8M643.2 268.7h.8M633.1 278.6h.8M629.4 277.9h.8M632.4 262.6h.8M610.1 259.0h.8M644.6 269.5h.8M627.4 260.4h.8M639.2 270.7h.8M625.0 271.2h.8M608.2 265.5h.8M637.4 287.0h.8M613.7 254.6h.8M610.2 275.6h.8M620.8 260.5h.8M625.0 272.5h.8M615.4 256.8h.8M635.8 281.7h.8M614.3 253.9h.8M642.9 282.8h.8M627.8 264.2h.8M644.2 272.8h.8M610.7 252.2h.8M617.3 264.7h.8M618.9 283.0h.8M630.4 266.8h.8M631.0 271.5h.8M629.0 267.1h.8M624.7 264.9h.8M638.4 266.2h.8M636.4 266.4h.8M639.2 266.0h.8M623.0 262.8h.8M633.0 263.7h.8M612.8 253.4h.8M626.6 268.5h.8M601.0 247.9h.8M611.9 280.1h.8M621.8 265.7h.8M614.7 265.7h.8M637.8 277.7h.8M601.4 252.1h.8M622.9 258.0h.8M636.6 266.9h.8M614.8 264.4h.8M627.5 266.4h.8M639.7 273.1h.8M616.4 254.9h.8M626.0 262.5h.8M625.2 261.8h.8M601.2 247.5h.8M608.0 250.9h.8M639.4 274.9h.8M612.6 266.9h.8M629.5 261.2h.8M634.8 264.8h.8M645.9 269.5h.8M613.9 254.8h.8M640.0 286.0h.8M627.0 260.4h.8M620.9 270.6h.8M605.7 274.6h.8M639.2 292.4h.8M632.7 273.0h.8M644.9 270.2h.8M614.7 254.2h.8M610.4 270.0h.8M606.5 265.3h.8M620.0 279.3h.8M635.4 277.2h.8M639.0 265.8h.8M613.1 256.3h.8M620.9 269.2h.8M640.7 282.3h.8M642.9 281.3h.8M617.4 261.7h.8M635.1 283.3h.8M617.7 258.3h.8M628.7 261.8h.8M640.7 266.6h.8M630.3 267.5h.8M610.3 260.2h.8M623.6 286.5h.8M640.9 275.9h.8M640.5 290.0h.8M609.9 271.3h.8M638.9 296.3h.8M635.2 267.6h.8M611.0 263.6h.8M611.6 268.5h.8M627.6 280.1h.8M617.1 257.1h.8M641.8 279.3h.8M618.4 263.9h.8M621.1 268.2h.8M624.3 260.4h.8M645.1 292.5h.8M635.2 265.6h.8M610.8 266.9h.8M638.2 277.1h.8M611.6 266.8h.8M624.6 262.0h.8M627.6 265.2h.8M630.7 277.8h.8M645.2 269.0h.8M627.7 287.4h.8M630.8 270.7h.8M639.4 266.0h.8M636.8 275.2h.8M627.3 262.2h.8M628.8 261.1h.8M624.7 260.2h.8M643.0 286.8h.8M623.0 274.1h.8M618.6 262.8h.8M609.8 273.0h.8M635.7 280.7h.8M606.3 269.0h.8M602.2 256.0h.8M622.9 258.0h.8M621.1 280.4h.8M629.1 263.2h.8M637.7 268.0h.8M641.4 270.8h.8M606.8 278.5h.8M604.2 250.2h.8M635.7 264.4h.8M626.3 281.4h.8M627.6 263.0h.8M635.5 284.1h.8M627.4 270.7h.8M615.7 258.4h.8M645.7 298.4h.8M601.0 248.1h.8M612.3 270.7h.8M610.0 252.2h.8M635.5 264.6h.8M645.0 273.8h.8M641.6 286.9h.8M611.5 269.9h.8M619.7 257.4h.8M604.2 262.3h.8M626.3 261.6h.8M638.5 266.3h.8M621.0 257.2h.8M618.1 278.7h.8M623.5 258.7h.8M612.3 263.9h.8M615.0 277.3h.8M605.5 271.4h.8M629.6 281.0h.8M616.9 255.1h.8M609.5 261.8h.8M602.1 248.1h.8M636.6 287.7h.8M639.8 286.9h.8M626.8 282.6h.8M632.6 270.8h.8M620.1 256.6h.8M605.0 250.6h.8M621.7 257.6h.8M644.7 277.4h.8M634.9 287.7h.8M612.7 276.1h.8M644.1 269.8h.8M608.0 268.9h.8M641.2 285.5h.8M619.8 266.0h.8M606.1 250.9h.8M620.6 272.4h.8M607.1 275.8h.8M604.8 277.3h.8M612.9 272.4h.8M638.3 293.4h.8M622.8 271.4h.8M615.4 274.4h.8M607.7 273.4h.8M627.6 260.3h.8M643.4 270.1h.8M604.1 250.2h.8" fill="none" stroke="#1a1a96" stroke-width="0.8"/>
<path d="M647.2 270.3h.8M675.1 284.3h.8M672.2 277.5h.8M680.3 266.4h.8M662.3 262.6h.8M652.6 273.8h.8M654.5 280.6h.8M659.5 271.5h.8M668.9 268.5h.8M652.6 267.4h.8M675.2 256.0h.8M673.6 283.6h.8M662.0 289.5h.8M671.3 283.4h.8M667.9 274.4h.8M674.9 255.9h.8M667.8 267.4h.8M665.4 271.5h.8M683.8 268.4h.8M680.4 252.9h.8M675.5 265.2h.8M685.8 250.0h.8M653.1 295.1h.8M661.6 275.4h.8M671.0 260.7h.8M664.4 268.4h.8M687.4 256.1h.8M679.4 255.0h.8M675.9 264.2h.8M676.7 276.6h.8M649.3 296.5h.8M671.8 258.1h.8M665.7 259.8h.8M655.6 285.2h.8M675.4 276.5h.8M652.9 266.1h.8M662.0 267.6h.8M676.1 256.5h.8M677.0 262.9h.8M658.0 281.2h.8M649.1 277.1h.8M654.0 265.4h.8M666.1 266.2h.8M671.9 259.9h.8M684.7 267.4h.8M652.5 266.0h.8M686.6 253.4h.8M650.4 267.6h.8M675.7 255.4h.8M661.6 274.1h.8M660.8 273.6h.8M685.4 267.5h.8M672.3 266.7h.8M659.0 274.0h.8M673.3 264.9h.8M666.5 275.1h.8M654.5 279.3h.8M687.5 249.2h.8M656.3 294.1h.8M649.4 287.2h.8M670.6 257.4h.8M672.7 256.3h.8M681.9 253.7h.8M684.2 273.8h.8M651.8 270.3h.8M652.4 282.6h.8M650.0 267.3h.8M650.8 288.8h.8M656.5 266.4h.8M664.8 267.9h.8M663.0 288.0h.8M660.4 267.8h.8M682.5 252.7h.8M653.2 286.3h.8M659.1 286.5h.8M680.7 255.5h.8M660.1 262.5h.8M682.8 255.9h.8M660.5 262.8h.8M655.3 287.4h.8M651.5 274.6h.8M672.3 263.2h.8M667.2 262.6h.8M654.0 285.1h.8M683.7 258.9h.8M656.4 289.2h.8M654.5 265.6h.8M672.0 276.4h.8M670.3 257.7h.8M687.5 249.6h.8M660.1 292.3h.8M679.0 268.9h.8M649.1 289.3h.8M663.0 261.0h.8M678.5 278.7h.8M648.0 273.3h.8M684.1 253.1h.8M658.6 280.4h.8M664.1 290.8h.8M681.5 273.0h.8M676.0 255.4h.8M674.9 263.8h.8M666.3 267.6h.8M658.9 263.7h.8M684.5 253.5h.8M650.3 296.6h.8M667.4 271.2h.8M660.4 262.6h.8M659.8 282.8h.8M657.3 288.7h.8M658.6 287.1h.8M653.6 270.3h.8M651.5 266.9h.8M668.1 261.5h.8M668.8 259.1h.8M659.1 265.1h.8M684.1 250.9h.8M663.2 282.2h.8M670.2 258.8h.8M688.3 248.9h.8M651.8 266.4h.8M664.2 281.9h.8M657.9 265.1h.8M679.8 252.9h.8M646.7 281.1h.8M649.7 274.6h.8M652.1 275.9h.8M681.9 256.7h.8M657.5 274.1h.8M675.7 254.9h.8M656.1 267.6h.8M667.4 260.4h.8M673.9 257.0h.8M684.2 253.4h.8M655.4 264.7h.8M651.4 267.5h.8M683.3 255.1h.8M664.2 288.2h.8M686.3 265.7h.8M656.2 266.7h.8M667.4 260.2h.8M660.7 263.0h.8M656.1 280.3h.8M671.5 261.6h.8M665.8 269.5h.8M675.0 255.2h.8M681.6 257.1h.8M660.1 290.3h.8M678.0 256.4h.8M647.0 273.4h.8M664.6 263.4h.8M650.1 276.0h.8M656.6 280.6h.8M668.4 260.2h.8M680.8 257.0h.8M649.6 269.1h.8M648.2 272.6h.8M683.4 276.8h.8M673.6 256.2h.8M656.2 265.1h.8M661.6 272.6h.8M646.9 274.8h.8M663.8 272.4h.8M680.9 255.9h.8M671.5 258.4h.8M665.0 270.7h.8M648.2 274.9h.8M667.3 259.5h.8M656.3 284.0h.8M660.8 262.7h.8M658.0 270.3h.8M662.9 263.8h.8M659.7 263.5h.8M667.2 268.3h.8M649.7 276.7h.8M658.6 292.4h.8M685.8 250.3h.8M675.4 257.6h.8M650.6 289.9h.8M683.8 268.0h.8M672.1 285.2h.8M669.2 270.3h.8M673.0 277.4h.8M682.2 253.6h.8M654.7 272.7h.8M670.9 259.9h.8M681.7 272.3h.8M674.9 262.4h.8M675.5 255.7h.8M680.2 252.9h.8M683.9 261.0h.8M657.7 264.2h.8M671.3 262.1h.8M675.5 255.1h.8M682.9 255.6h.8M664.3 275.5h.8M671.6 261.5h.8M658.3 268.6h.8M647.3 269.9h.8M681.0 252.5h.8M649.6 288.9h.8M661.7 268.7h.8M670.5 271.5h.8M659.3 279.7h.8M646.0 290.6h.8M659.0 273.4h.8M658.7 278.9h.8M661.8 271.1h.8M659.3 282.9h.8M678.9 254.0h.8M677.1 280.2h.8M656.0 265.0h.8M684.3 277.8h.8M651.4 283.9h.8M685.4 251.5h.8M679.0 255.1h.8M679.1 259.5h.8M666.0 259.8h.8M673.3 269.3h.8M658.3 263.3h.8M649.8 268.7h.8M687.6 264.0h.8M683.3 266.4h.8M651.6 270.0h.8M685.4 270.6h.8M687.2 267.9h.8M675.6 271.0h.8M684.6 254.8h.8M647.4 270.7h.8M646.6 270.5h.8M671.0 258.7h.8M656.5 264.3h.8M661.1 268.6h.8M670.3 283.8h.8M649.0 269.1h.8M649.2 294.1h.8M672.5 267.9h.8M680.5 252.5h.8M684.2 253.1h.8M672.5 260.1h.8M677.6 255.8h.8M657.8 264.8h.8M676.6 259.3h.8M652.6 268.9h.8M670.0 260.7h.8M670.6 277.7h.8M672.6 274.4h.8M658.6 285.5h.8M685.6 256.9h.8M647.0 268.8h.8M677.3 275.6h.8M676.5 260.8h.8M668.9 258.3h.8M670.5 287.6h.8M654.6 275.0h.8M681.6 263.0h.8M660.8 263.1h.8M676.2 279.8h.8M683.1 254.9h.8M676.9 272.8h.8M661.6 277.7h.8M662.3 262.1h.8M646.0 284.2h.8M677.9 253.8h.8M648.6 270.2h.8M654.7 280.1h.8M654.0 274.4h.8M669.3 260.6h.8M682.1 256.2h.8M667.4 270.8h.8M663.1 261.6h.8M685.7 265.3h.8M669.0 264.1h.8M672.1 258.4h.8M649.1 275.5h.8M684.2 250.9h.8M687.5 252.2h.8M687.6 265.2h.8M657.5 264.5h.8M682.5 279.8h.8M679.8 261.5h.8M668.6 275.5h.8M680.1 272.3h.8M658.0 283.3h.8M686.1 258.1h.8M646.4 269.7h.8M673.5 260.1h.8M684.4 261.3h.8M675.6 255.3h.8M667.9 272.4h.8M683.9 274.2h.8M657.1 270.1h.8M687.5 249.3h.8M649.0 268.4h.8M676.9 256.5h.8M675.4 274.4h.8M680.3 252.6h.8M674.6 273.3h.8M675.1 276.6h.8M680.3 262.3h.8M682.4 258.9h.8M650.6 268.7h.8M685.4 252.5h.8M665.5 282.1h.8M674.5 272.9h.8M665.8 266.0h.8M649.3 268.4h.8M652.7 273.4h.8M668.3 258.5h.8M672.9 256.3h.8M662.4 261.3h.8M666.1 259.8h.8M685.7 252.8h.8M681.0 256.8h.8M659.6 283.2h.8M657.6 270.3h.8M672.2 286.2h.8M675.8 254.8h.8M664.8 287.4h.8M682.1 254.7h.8M651.4 268.1h.8M678.1 254.3h.8M683.8 252.4h.8M674.8 268.2h.8M656.2 271.1h.8M672.6 257.8h.8M668.3 268.8h.8M686.5 251.2h.8M653.3 272.2h.8M671.1 262.8h.8M684.7 251.2h.8M667.4 264.2h.8M654.4 270.2h.8M665.1 263.2h.8M677.7 282.8h.8M687.1 250.2h.8M661.3 289.0h.8M649.5 267.6h.8M648.7 296.4h.8M667.3 263.3h.8M650.1 290.7h.8M687.5 261.6h.8M684.3 258.7h.8M659.2 263.4h.8M658.9 263.4h.8M661.6 261.7h.8M647.7 292.8h.8M681.2 270.7h.8M660.8 266.9h.8M668.6 275.8h.8M658.8 269.6h.8M668.8 278.5h.8M660.8 262.0h.8M662.7 284.2h.8M653.3 276.2h.8M651.6 268.0h.8M672.5 256.6h.8M665.1 268.9h.8M662.2 277.5h.8M681.8 253.5h.8M677.7 269.6h.8M671.0 266.1h.8M669.7 272.9h.8M675.2 256.6h.8M673.1 269.8h.8M665.1 283.6h.8M659.2 270.6h.8M669.9 267.1h.8M653.7 277.8h.8M650.9 274.2h.8M664.9 273.3h.8M681.2 280.8h.8M655.5 289.5h.8M665.9 265.9h.8M647.7 290.5h.8M655.7 266.1h.8M658.9 264.0h.8M658.2 265.0h.8M668.5 261.2h.8M677.2 279.6h.8M685.4 253.3h.8M674.5 270.1h.8M676.6 258.0h.8M654.0 281.7h.8M673.7 258.5h.8M674.3 255.6h.8M678.4 276.9h.8M687.1 249.5h.8M674.8 272.3h.8M651.9 276.3h.8M654.0 266.3h.8M647.2 270.3h.8M681.7 260.7h.8M678.8 281.2h.8M652.3 287.4h.8M683.5 262.0h.8M660.1 262.9h.8M664.6 263.4h.8M656.9 276.4h.8M672.9 257.5h.8M653.3 272.0h.8M675.8 266.6h.8M672.5 279.9h.8M678.0 258.3h.8M677.2 265.8h.8M660.5 262.7h.8M661.8 275.9h.8M677.8 255.8h.8M669.0 258.2h.8M671.2 261.8h.8M677.8 275.0h.8M648.2 297.0h.8M653.1 294.3h.8M687.7 249.9h.8M658.4 263.6h.8M683.9 266.4h.8M686.1 267.8h.8M661.0 279.0h.8M661.1 264.3h.8M663.8 274.1h.8M659.3 270.9h.8M669.6 275.6h.8M665.8 263.8h.8M669.4 263.0h.8M677.0 254.4h.8M653.5 265.6h.8M663.1 281.9h.8M671.1 267.7h.8M684.8 269.2h.8M658.4 264.2h.8M668.8 259.2h.8M671.3 257.1h.8M662.3 275.8h.8M656.8 264.4h.8M677.7 254.6h.8M683.8 260.5h.8M683.4 258.1h.8M666.7 260.5h.8M648.4 296.1h.8M655.3 264.8h.8M685.2 257.3h.8M670.0 282.5h.8M677.0 255.6h.8M657.9 275.2h.8M674.8 256.2h.8M656.5 270.7h.8M648.5 287.0h.8M673.9 256.1h.8M670.3 266.5h.8M649.8 271.9h.8M679.4 257.9h.8M676.8 255.4h.8M687.8 260.6h.8M669.7 257.8h.8M661.1 261.9h.8M664.6 260.8h.8M656.3 266.2h.8M652.1 268.0h.8M667.4 259.2h.8M669.1 284.9h.8M675.7 281.8h.8M650.6 279.0h.8M655.9 290.9h.8M666.7 273.6h.8M678.9 253.6h.8M650.2 286.4h.8M680.6 256.9h.8M647.0 268.7h.8M679.5 265.9h.8M661.6 274.2h.8M680.3 252.6h.8M676.6 282.8h.8M681.9 274.2h.8M664.5 269.9h.8M650.7 285.2h.8M673.9 259.5h.8M648.1 268.8h.8M662.6 286.5h.8M665.5 281.6h.8M653.9 266.7h.8M656.0 266.1h.8M679.6 256.0h.8M659.4 275.5h.8M664.5 282.9h.8M674.9 274.9h.8M664.0 264.1h.8M664.6 289.9h.8M685.7 258.0h.8M666.9 259.2h.8M682.0 261.3h.8M663.5 261.3h.8M665.7 273.5h.8M657.4 265.2h.8M667.5 264.8h.8M646.3 269.1h.8M661.6 275.6h.8M662.2 261.4h.8M656.3 264.9h.8M678.4 254.5h.8M687.5 250.8h.8M653.6 265.5h.8M666.7 265.8h.8M678.7 265.2h.8M669.0 258.1h.8M685.3 251.4h.8M655.9 264.9h.8M670.6 268.7h.8M659.4 264.1h.8M646.5 278.4h.8M676.2 254.8h.8M656.0 280.4h.8M676.1 255.0h.8M687.2 262.9h.8M676.3 256.8h.8M686.8 254.0h.8M672.1 285.5h.8M681.4 252.6h.8M651.5 267.4h.8M650.9 290.4h.8M668.9 263.6h.8M661.5 267.8h.8M664.2 275.0h.8M663.2 282.9h.8M681.0 273.7h.8M677.8 254.4h.8M663.5 281.2h.8M661.0 270.5h.8M654.8 284.8h.8M660.1 265.3h.8M680.7 252.6h.8M646.3 273.4h.8M664.9 260.3h.8M662.3 278.1h.8M682.4 276.2h.8M679.7 253.0h.8M661.4 266.6h.8M647.2 286.4h.8M657.6 281.0h.8M674.6 256.8h.8M660.4 267.1h.8M654.3 265.2h.8M663.9 261.6h.8M656.6 281.9h.8M677.3 257.9h.8M647.0 285.6h.8M657.2 264.0h.8M677.1 278.0h.8M656.8 271.6h.8M683.4 257.7h.8M660.8 262.5h.8M647.1 292.7h.8M680.4 253.2h.8M673.3 256.7h.8M677.6 257.1h.8M675.3 262.1h.8M649.5 276.1h.8M673.7 255.8h.8M647.6 270.0h.8M675.6 283.3h.8M664.5 281.8h.8M676.1 256.2h.8M664.5 281.0h.8M666.3 265.7h.8M676.6 254.8h.8M665.4 266.6h.8M669.7 270.7h.8M657.4 269.2h.8M665.5 259.9h.8M678.4 280.7h.8M669.6 261.7h.8M661.6 266.6h.8M661.7 263.2h.8M686.1 252.8h.8M654.9 276.8h.8M646.2 272.0h.8M669.3 277.1h.8M658.8 263.0h.8M687.0 249.4h.8M663.6 267.2h.8M687.7 251.8h.8M656.2 266.0h.8M661.9 261.9h.8M683.9 257.3h.8M677.1 255.7h.8M673.5 280.3h.8M655.5 292.5h.8M657.9 277.8h.8M685.7 255.0h.8M685.3 253.7h.8M664.0 286.0h.8M671.5 256.9h.8M652.3 273.5h.8M660.4 262.3h.8M680.4 254.8h.8M684.2 253.7h.8M653.7 269.8h.8M680.1 276.3h.8M669.8 258.9h.8M668.3 259.8h.8M661.3 261.8h.8M646.8 295.5h.8M678.5 254.7h.8M672.1 256.6h.8M680.8 262.0h.8M676.4 258.8h.8M664.0 279.6h.8M659.5 262.8h.8M650.8 292.5h.8M657.8 263.6h.8M670.0 257.9h.8M663.8 277.5h.8M655.9 268.7h.8M684.6 272.0h.8M682.8 251.4h.8M686.9 257.2h.8M652.2 296.3h.8M651.0 296.8h.8M647.3 268.7h.8M665.8 269.3h.8M670.3 276.5h.8M650.5 281.9h.8M659.2 290.5h.8M672.2 269.4h.8M651.5 291.9h.8M658.3 264.1h.8M663.5 278.1h.8M659.6 268.1h.8M671.6 258.0h.8M651.0 270.7h.8M675.8 267.1h.8M654.9 276.7h.8M680.9 265.6h.8M653.8 265.5h.8M687.2 262.7h.8M657.4 279.2h.8M670.3 267.9h.8M661.0 274.1h.8M662.2 264.8h.8M659.5 277.9h.8M682.4 253.3h.8M649.2 269.0h.8M678.0 256.5h.8M646.4 290.2h.8M664.4 260.4h.8M677.5 260.3h.8M681.2 271.8h.8M680.1 275.0h.8M662.0 280.3h.8M666.7 270.5h.8M655.1 275.3h.8M649.1 289.9h.8M653.5 274.1h.8M680.9 271.5h.8M682.1 255.9h.8M648.9 298.0h.8M658.6 285.1h.8M663.3 265.5h.8M668.8 265.7h.8M678.7 262.1h.8M653.0 273.1h.8M649.9 289.0h.8M653.4 268.7h.8M671.0 259.7h.8M683.2 268.6h.8M660.0 266.8h.8M677.1 260.6h.8M672.9 258.7h.8M669.9 266.7h.8M684.0 253.5h.8M679.9 253.7h.8M658.3 264.3h.8M685.4 250.3h.8M658.1 268.7h.8M675.7 266.4h.8M651.1 270.3h.8M676.5 254.8h.8M651.1 286.7h.8M646.0 269.3h.8M653.8 285.9h.8M660.7 266.5h.8M668.3 281.7h.8M647.7 269.1h.8M662.8 272.1h.8M651.6 271.1h.8M670.1 257.6h.8M660.1 262.4h.8M684.6 250.5h.8M652.7 276.1h.8M655.7 273.2h.8M660.0 292.5h.8M670.0 260.3h.8M653.6 271.3h.8M678.3 267.4h.8M675.7 261.4h.8M685.5 253.7h.8M668.5 285.6h.8M679.3 258.5h.8M679.1 269.6h.8M658.4 266.9h.8M678.0 256.8h.8M660.7 269.4h.8M649.2 269.1h.8M687.8 250.2h.8M680.2 252.7h.8M658.9 269.7h.8M658.9 289.9h.8M686.5 251.4h.8M651.7 292.2h.8M679.5 259.6h.8M648.5 268.0h.8M674.8 267.9h.8M665.7 262.1h.8M657.7 266.7h.8M663.5 270.6h.8M663.5 263.3h.8M655.4 276.6h.8M685.7 250.6h.8M678.3 264.5h.8M655.8 264.8h.8M681.4 252.4h.8M651.0 266.9h.8M680.4 255.8h.8M646.0 270.9h.8M667.9 264.1h.8M652.1 287.6h.8M675.5 256.5h.8M659.5 264.0h.8M646.9 278.8h.8M657.5 275.6h.8M681.4 254.2h.8M658.1 266.4h.8M666.2 259.5h.8M662.5 263.3h.8M650.6 287.5h.8M675.3 260.8h.8M649.1 282.8h.8M661.7 284.6h.8M673.4 257.1h.8M677.6 262.9h.8M660.7 280.2h.8M660.0 262.8h.8M647.8 278.5h.8M657.6 264.0h.8M648.0 285.6h.8M657.6 285.4h.8M683.1 269.9h.8M655.2 291.8h.8M671.8 277.3h.8M684.4 252.8h.8M661.5 285.6h.8M658.3 263.4h.8M647.6 276.6h.8M658.6 290.2h.8M646.4 272.8h.8M675.9 264.3h.8M680.9 263.4h.8M681.9 279.4h.8M682.2 261.0h.8M662.8 268.2h.8M655.3 266.0h.8M667.9 263.2h.8M662.4 261.4h.8M687.5 251.5h.8M666.3 262.1h.8M669.1 275.1h.8M685.4 259.4h.8M685.6 253.0h.8M666.0 262.0h.8M686.9 249.7h.8M655.4 281.5h.8M656.1 264.4h.8M661.5 266.9h.8M665.3 261.0h.8M660.7 263.8h.8M653.4 272.1h.8M655.7 265.2h.8M684.4 273.0h.8M662.0 268.6h.8M650.1 267.2h.8M667.1 285.7h.8M649.3 272.7h.8M679.6 252.9h.8M670.8 258.6h.8M677.3 273.2h.8M682.7 268.2h.8M649.7 279.3h.8M669.7 259.7h.8M654.5 270.6h.8M663.8 264.4h.8M686.4 250.7h.8M682.3 252.0h.8M675.1 259.7h.8M662.6 266.8h.8M651.6 267.4h.8M663.4 261.5h.8M681.3 264.8h.8M672.3 269.5h.8M652.9 265.9h.8M649.3 291.1h.8M666.0 288.1h.8M659.7 266.0h.8M672.9 276.8h.8M664.0 266.2h.8M661.1 263.1h.8M683.4 274.6h.8M664.5 260.6h.8M682.7 256.5h.8M677.5 258.0h.8M649.4 283.5h.8M650.4 294.0h.8M653.2 268.4h.8M646.1 270.1h.8M673.6 256.0h.8M650.8 266.9h.8M646.6 275.7h.8M655.4 280.8h.8M674.6 261.6h.8M684.1 278.3h.8M658.8 280.1h.8M675.4 255.6h.8M679.3 253.1h.8M673.8 279.7h.8M673.2 269.2h.8M673.8 259.6h.8M650.7 270.3h.8M658.9 282.0h.8M682.1 279.3h.8M659.8 286.3h.8M684.3 250.7h.8M669.2 258.1h.8M649.4 272.4h.8M675.9 255.3h.8M659.5 268.4h.8M669.1 258.3h.8M653.3 265.6h.8M659.2 292.7h.8M653.8 281.7h.8M672.8 277.5h.8M680.1 252.8h.8M659.7 282.8h.8M672.8 277.3h.8M647.3 289.5h.8M662.5 278.9h.8M670.6 260.1h.8M668.3 258.4h.8M684.7 272.2h.8M673.2 267.1h.8M677.1 258.7h.8M656.2 275.7h.8M686.7 270.8h.8M679.8 253.3h.8M659.2 264.5h.8M669.3 281.7h.8M672.1 265.4h.8M664.1 261.0h.8M656.9 293.6h.8M684.0 261.9h.8M675.1 256.1h.8M647.0 268.7h.8M646.8 269.6h.8M687.2 257.6h.8M655.3 264.8h.8M646.7 268.8h.8M651.7 269.0h.8M652.6 267.1h.8M672.5 256.7h.8M651.7 283.6h.8M657.8 274.1h.8M657.9 276.9h.8M646.4 270.5h.8M682.6 253.3h.8M673.0 257.0h.8M650.5 271.4h.8M665.4 259.8h.8M668.3 262.6h.8M661.0 278.2h.8M683.5 254.8h.8M658.7 280.0h.8M677.9 260.2h.8M672.0 259.2h.8M676.4 263.0h.8M682.3 253.5h.8M648.8 290.3h.8M670.3 275.6h.8M677.1 270.6h.8M660.9 283.9h.8M672.1 260.4h.8M653.1 265.9h.8M655.7 266.7h.8M659.9 272.8h.8M686.3 257.6h.8M674.2 255.6h.8M675.3 262.1h.8M678.9 256.0h.8M673.1 262.5h.8M679.0 257.6h.8M680.1 274.2h.8M668.3 264.6h.8M675.7 261.5h.8M686.0 275.1h.8M666.8 272.0h.8M650.4 291.8h.8M672.2 256.5h.8M646.4 290.3h.8M678.8 263.2h.8M663.1 262.1h.8M666.0 283.9h.8M672.7 256.3h.8M654.8 265.1h.8M681.9 272.1h.8M685.1 254.6h.8M659.4 262.8h.8M656.8 266.6h.8M662.5 263.8h.8M676.2 275.7h.8M661.7 280.9h.8M658.4 264.7h.8M679.8 253.0h.8M649.1 298.4h.8M665.9 263.5h.8M677.9 276.7h.8M661.4 280.4h.8M651.3 290.4h.8M663.5 264.2h.8M646.6 269.0h.8M662.6 261.4h.8M673.1 286.0h.8M658.0 279.4h.8M670.5 267.4h.8M678.7 259.0h.8M681.1 252.7h.8M674.7 262.3h.8M654.4 266.2h.8M685.7 260.4h.8M666.9 265.3h.8M681.6 262.4h.8M655.1 291.5h.8M681.3 268.9h.8M675.7 266.9h.8M659.3 292.0h.8M676.2 255.1h.8M680.2 256.9h.8M648.5 291.4h.8M655.5 268.8h.8M650.0 274.3h.8M668.3 277.7h.8M685.4 272.5h.8M674.3 259.2h.8M685.8 251.0h.8M659.3 271.0h.8M661.5 270.1h.8M650.9 268.0h.8M646.9 273.3h.8M656.0 283.7h.8M656.8 264.7h.8M676.4 255.2h.8M681.3 259.0h.8M652.0 280.0h.8M688.2 250.8h.8M669.3 265.5h.8M685.0 279.0h.8M648.6 271.4h.8M680.1 256.7h.8M667.4 267.1h.8M646.5 269.0h.8M683.9 254.4h.8M664.7 268.2h.8M677.1 277.2h.8M649.5 278.4h.8M646.2 276.9h.8M680.4 258.0h.8M661.3 283.3h.8M674.6 279.9h.8M668.9 260.2h.8M675.2 260.8h.8M646.0 269.5h.8M686.2 260.6h.8M647.4 284.8h.8M678.1 253.7h.8M687.9 249.5h.8M667.2 272.9h.8M666.6 261.9h.8M666.0 270.1h.8M685.4 272.2h.8M687.1 267.2h.8M666.2 262.3h.8M683.5 275.6h.8M658.5 280.8h.8M660.8 262.1h.8M665.5 283.6h.8M668.2 277.4h.8M681.0 269.9h.8M658.3 288.1h.8M649.6 274.0h.8M649.5 270.9h.8M682.8 269.8h.8M687.7 256.8h.8M668.0 259.0h.8M666.0 283.8h.8M660.1 283.8h.8" fill="none" stroke="#1a1a96" stroke-width="0.8"/>
<path d="M600.9,247.3 L646.0,269.2 L646.0,300.6 L603.7,278.8 Z" fill="url(#fadeL)"/>
<path d="M646.0,269.2 L688.4,248.7 L687.0,278.8 L646.0,300.6 Z" fill="url(#fadeR)"/>
<path d="M650.1 259.1h.8M652.5 264.5h.8M609.8 247.5h.8M660.6 253.5h.8M650.5 244.7h.8M641.9 241.3h.8M628.4 248.6h.8M613.0 245.2h.8M634.6 255.5h.8M642.9 245.2h.8M642.8 245.0h.8M638.0 236.9h.8M674.4 251.7h.8M654.8 250.9h.8M651.3 236.6h.8M627.9 256.8h.8M656.6 246.7h.8M641.7 248.9h.8M660.1 257.5h.8M633.5 260.4h.8M642.9 264.0h.8M648.2 259.8h.8M643.4 255.5h.8M665.7 258.0h.8M644.6 250.5h.8M634.5 245.3h.8M657.9 240.1h.8M617.0 249.6h.8M672.3 252.8h.8M669.2 256.3h.8M650.4 262.3h.8M644.7 240.7h.8M624.0 255.1h.8M641.3 251.0h.8M643.3 241.6h.8M627.1 250.6h.8M627.9 254.3h.8M639.8 244.2h.8M639.7 260.8h.8M643.3 264.4h.8M638.5 243.2h.8M639.4 265.6h.8M635.9 263.4h.8M655.1 252.7h.8M642.5 259.6h.8M638.6 255.8h.8M669.7 243.5h.8M618.9 250.2h.8M655.8 257.6h.8M653.7 243.1h.8M642.8 245.8h.8M636.9 246.7h.8M659.4 240.5h.8M642.7 255.3h.8M615.8 246.7h.8M657.3 256.9h.8M629.9 247.9h.8M640.7 255.4h.8M636.7 254.4h.8M625.7 241.3h.8M651.7 259.1h.8M643.8 259.8h.8M626.2 256.7h.8M648.5 254.0h.8M606.6 249.9h.8M659.5 259.4h.8M661.2 256.4h.8M667.9 258.1h.8M643.4 264.8h.8M622.2 248.3h.8M642.9 247.9h.8M685.5 247.9h.8M644.2 241.9h.8M631.0 253.1h.8M625.1 247.4h.8M621.9 250.0h.8M619.2 245.6h.8M657.0 261.9h.8M665.1 246.0h.8M684.0 248.7h.8M607.2 247.1h.8M639.5 253.3h.8M647.0 234.6h.8M666.7 251.4h.8M646.8 259.2h.8M644.0 237.4h.8M651.1 246.7h.8M642.1 239.6h.8M631.3 238.8h.8M621.8 256.2h.8M635.6 251.1h.8M654.7 264.8h.8M641.5 251.2h.8M655.9 259.6h.8M649.9 264.4h.8M648.6 262.7h.8M646.5 252.9h.8M647.9 260.7h.8M645.9 260.3h.8M669.5 254.0h.8M679.5 246.0h.8M645.1 261.9h.8M641.8 263.1h.8M648.4 237.3h.8M639.2 264.3h.8M646.7 255.8h.8M678.2 251.5h.8M661.1 255.7h.8M674.9 247.1h.8M658.0 260.0h.8M659.5 258.7h.8M639.6 251.5h.8M607.3 249.1h.8M662.2 242.0h.8M654.3 245.6h.8M656.2 246.4h.8M621.5 252.0h.8M636.3 241.7h.8M646.0 235.9h.8M664.3 255.3h.8M640.2 240.1h.8M637.3 260.8h.8M623.7 243.8h.8M636.4 259.6h.8M615.1 253.2h.8M654.1 238.7h.8M640.4 236.6h.8M612.1 245.7h.8M658.3 247.1h.8M670.6 250.5h.8M638.1 239.6h.8M623.0 241.9h.8M653.0 242.9h.8M660.9 257.7h.8M671.2 243.1h.8M656.8 258.8h.8M648.2 239.6h.8M663.0 258.9h.8M684.1 247.8h.8M630.0 243.9h.8M649.9 238.8h.8M645.0 246.2h.8M654.8 241.9h.8M655.3 258.6h.8M676.7 254.3h.8M612.2 248.5h.8M652.9 246.8h.8M661.0 242.7h.8M624.4 256.9h.8M647.6 260.1h.8M674.4 250.5h.8M631.1 257.8h.8M653.4 264.7h.8M636.7 258.9h.8M641.9 241.2h.8M632.5 241.8h.8M616.0 252.7h.8M624.2 255.7h.8M671.5 254.0h.8M633.8 253.4h.8M645.6 243.6h.8M631.2 250.5h.8M654.0 242.1h.8M641.9 239.6h.8M627.7 249.0h.8M618.2 247.5h.8M654.6 257.6h.8M673.7 255.5h.8M628.6 249.1h.8M633.7 254.0h.8M642.5 262.5h.8M621.8 242.5h.8M642.5 248.5h.8M623.1 251.0h.8M674.3 255.4h.8M639.3 243.9h.8M617.0 253.9h.8M630.5 252.7h.8M633.5 246.6h.8M649.8 264.4h.8M674.5 245.7h.8M667.0 243.7h.8M653.3 244.8h.8M667.5 253.0h.8M667.2 251.3h.8M643.5 245.3h.8M675.6 251.1h.8M618.8 247.6h.8M612.3 252.5h.8M618.0 249.1h.8M622.5 251.7h.8M651.4 264.9h.8M604.7 246.7h.8M658.8 241.0h.8M648.4 242.7h.8M603.2 247.9h.8M644.6 236.0h.8M632.5 246.4h.8M646.3 245.3h.8M646.5 240.1h.8M668.0 257.8h.8M666.5 257.5h.8M642.7 265.6h.8M662.4 261.1h.8M643.6 242.4h.8M642.8 239.9h.8M657.0 253.7h.8M611.0 246.3h.8M646.9 239.2h.8M655.5 245.0h.8M648.0 262.4h.8M629.3 247.5h.8M683.6 250.6h.8M658.9 261.9h.8M641.3 262.6h.8M637.9 243.9h.8M632.9 248.1h.8M649.6 245.6h.8M649.5 254.2h.8M620.2 244.3h.8M661.0 256.6h.8M623.7 249.6h.8M649.0 237.8h.8M657.1 239.2h.8M642.5 259.3h.8M661.0 242.8h.8M618.8 246.3h.8M633.0 262.6h.8M647.9 242.8h.8M655.8 255.2h.8M661.8 249.6h.8M652.7 238.9h.8M671.4 243.8h.8M645.4 256.4h.8M632.9 251.4h.8M672.6 249.3h.8M662.9 253.6h.8M656.6 242.0h.8M646.5 266.4h.8M623.6 256.1h.8M629.6 257.3h.8M637.6 237.6h.8M640.9 248.1h.8M670.0 253.8h.8M633.9 239.5h.8M637.3 251.6h.8M646.6 263.0h.8M633.0 249.5h.8M634.4 255.4h.8M642.1 238.5h.8M636.4 246.2h.8M621.6 255.0h.8M656.3 249.5h.8M675.6 244.5h.8M673.8 246.0h.8M670.7 253.5h.8M672.2 247.7h.8M628.1 248.5h.8M641.0 236.4h.8M655.4 258.1h.8M636.2 253.3h.8M644.8 255.1h.8M640.9 237.4h.8M657.0 258.1h.8M662.5 260.3h.8M635.5 253.8h.8M647.5 262.9h.8M658.7 256.1h.8M643.3 242.7h.8M642.3 237.2h.8M676.1 247.0h.8M637.5 255.6h.8M637.3 251.8h.8M662.9 241.6h.8M629.1 240.5h.8M624.9 256.8h.8M661.0 259.3h.8M665.3 255.5h.8M667.4 256.2h.8M616.5 243.6h.8M663.0 248.2h.8M619.4 249.2h.8M661.6 257.7h.8M649.8 245.9h.8M641.9 245.9h.8M626.7 245.6h.8M633.3 238.6h.8M628.4 242.0h.8M641.3 261.3h.8M661.6 243.9h.8M674.4 245.2h.8M651.7 251.1h.8M605.7 249.3h.8M650.8 243.6h.8M655.4 238.4h.8M623.0 247.8h.8M666.1 243.3h.8M615.3 245.2h.8M627.9 239.9h.8M646.6 238.5h.8" fill="none" stroke="#3535d0" stroke-width="0.8" opacity="0.5"/>
<path d="M600.9,247.3 L646.0,234.2 L688.4,248.7 L687.0,278.8 L646.0,300.6 L603.7,278.8 Z M600.9,247.3 L646,269.2 L688.4,248.7 M646,269.2 L646,300.6" fill="none" stroke="#6a6e74" stroke-width="0.7"/>
<path d="M598.2,323.9 L643.3,310.8 L687.0,325.2 L643.3,345.8 Z" fill="#d98a2a"/>
<path d="M608.9 329.4h.8M605.2 327.6h.8M639.8 366.3h.8M608.6 334.9h.8M606.0 327.7h.8M640.2 368.0h.8M634.3 341.5h.8M627.3 363.7h.8M637.9 345.7h.8M628.6 342.0h.8M620.6 357.2h.8M637.3 349.5h.8M639.4 370.6h.8M636.6 352.5h.8M625.3 340.0h.8M612.0 331.1h.8M600.8 331.2h.8M622.6 343.6h.8M643.2 346.1h.8M607.8 334.4h.8M614.7 339.1h.8M623.5 337.8h.8M601.7 333.8h.8M626.0 337.5h.8M606.2 328.3h.8M630.4 369.1h.8M631.3 340.2h.8M612.7 353.5h.8M617.6 350.2h.8M635.1 341.8h.8M618.2 333.9h.8M641.6 345.0h.8M601.0 334.6h.8M614.6 331.8h.8M642.5 349.5h.8M600.9 325.2h.8M628.7 338.7h.8M621.7 366.4h.8M605.5 350.0h.8M617.3 345.2h.8M609.1 329.6h.8M618.1 351.0h.8M635.7 342.5h.8M609.7 329.5h.8M608.8 331.5h.8M601.8 340.6h.8M642.9 373.0h.8M628.4 360.0h.8M620.5 334.7h.8M637.9 371.6h.8M614.8 355.4h.8M627.6 351.9h.8M627.9 344.0h.8M639.8 345.2h.8M642.0 363.8h.8M600.4 327.1h.8M641.9 345.9h.8M606.9 343.2h.8M632.0 344.6h.8M598.4 324.1h.8M637.8 354.1h.8M633.8 355.6h.8M637.9 347.5h.8M614.5 354.3h.8M619.5 334.5h.8M600.8 337.6h.8M637.2 345.3h.8M615.3 345.7h.8M600.8 349.8h.8M602.8 335.1h.8M633.7 341.2h.8M620.2 336.1h.8M605.5 354.3h.8M622.4 361.4h.8M633.6 357.8h.8M608.0 341.5h.8M617.4 336.3h.8M637.6 343.0h.8M620.6 336.2h.8M639.0 343.7h.8M613.0 343.4h.8M630.5 340.7h.8M609.8 337.8h.8M633.1 358.0h.8M628.9 345.8h.8M639.6 371.8h.8M613.4 354.3h.8M625.9 339.8h.8M633.3 359.3h.8M604.2 326.8h.8M635.0 360.5h.8M615.4 340.3h.8M626.2 337.8h.8M640.4 348.2h.8M612.9 331.1h.8M601.3 350.1h.8M634.9 371.2h.8M606.3 340.4h.8M624.9 358.9h.8M641.9 348.8h.8M629.1 355.7h.8M636.0 363.9h.8M618.0 360.8h.8M629.9 339.3h.8M614.8 363.2h.8M638.8 353.2h.8M635.1 342.2h.8M598.9 325.7h.8M629.7 347.6h.8M641.1 347.5h.8M603.8 357.6h.8M639.7 351.0h.8M602.3 325.9h.8M640.2 367.0h.8M604.9 327.2h.8M641.0 354.4h.8M629.7 369.0h.8M610.2 332.6h.8M602.6 326.1h.8M606.1 358.0h.8M612.5 350.7h.8M631.9 369.7h.8M638.0 358.0h.8M629.9 353.8h.8M621.5 348.7h.8M620.0 334.5h.8M637.7 343.3h.8M629.2 346.3h.8M615.7 332.7h.8M638.0 368.9h.8M606.1 341.6h.8M635.4 343.6h.8M619.9 337.9h.8M635.7 362.1h.8M639.8 353.0h.8M636.6 358.3h.8M605.3 355.2h.8M613.7 358.7h.8M625.4 340.3h.8M610.9 348.5h.8M613.1 348.2h.8M615.1 359.2h.8M638.7 361.8h.8M630.1 353.0h.8M642.7 346.7h.8M630.7 354.0h.8M625.2 337.0h.8M603.7 354.3h.8M630.4 367.7h.8M635.5 342.0h.8M636.5 359.4h.8M599.1 324.7h.8M619.8 334.6h.8M638.6 367.6h.8M612.7 347.3h.8M602.4 356.3h.8M632.4 347.0h.8M629.9 359.2h.8M617.9 333.5h.8M638.3 349.2h.8M632.7 357.8h.8M636.2 345.2h.8M609.8 329.8h.8M611.4 350.4h.8M604.3 328.2h.8M642.7 345.5h.8M609.1 347.8h.8M638.4 345.3h.8M615.4 363.3h.8M606.7 341.4h.8M603.9 333.1h.8M624.9 364.5h.8M601.9 329.1h.8M630.8 348.1h.8M606.4 327.9h.8M614.6 360.7h.8M626.7 368.7h.8M607.8 353.7h.8M641.2 375.3h.8M602.5 345.9h.8M628.4 340.2h.8M607.3 329.1h.8M623.2 344.4h.8M632.2 362.4h.8M599.9 324.7h.8M609.2 333.0h.8M626.4 337.8h.8M630.2 343.1h.8M614.1 335.8h.8M600.5 337.0h.8M631.5 352.7h.8M600.6 331.1h.8M615.9 332.7h.8M619.6 345.3h.8M605.1 336.5h.8M631.3 341.8h.8M613.2 358.4h.8M620.6 348.4h.8M607.5 344.6h.8M625.2 337.3h.8M618.0 335.9h.8M600.1 324.9h.8M618.0 336.7h.8M606.2 332.2h.8M623.9 365.2h.8M609.9 331.0h.8M623.8 362.3h.8M607.2 330.3h.8M638.3 374.3h.8M605.9 343.7h.8M602.7 352.5h.8M603.7 349.5h.8M625.7 342.8h.8M603.0 352.3h.8M608.1 334.8h.8M630.1 366.3h.8M611.2 330.2h.8M623.1 361.2h.8M601.5 326.7h.8M617.7 339.5h.8M636.7 366.8h.8M609.3 357.6h.8M643.2 345.8h.8M612.0 340.9h.8M603.9 345.3h.8M627.1 352.4h.8M629.3 339.5h.8M604.9 335.2h.8M612.8 331.1h.8M624.8 340.2h.8M601.6 328.4h.8M633.0 351.1h.8M613.3 353.2h.8M622.1 340.6h.8M626.4 338.4h.8M628.1 353.9h.8M624.9 362.2h.8M629.9 368.9h.8M618.6 333.9h.8M612.5 330.9h.8M608.1 335.0h.8M615.2 339.2h.8M637.2 350.2h.8M635.8 342.2h.8M643.1 345.7h.8M637.4 346.7h.8M623.3 336.1h.8M641.8 350.0h.8M618.4 340.0h.8M602.3 327.4h.8M603.3 356.8h.8M618.5 348.5h.8M642.2 345.4h.8M629.0 339.0h.8M632.7 353.1h.8M640.6 365.4h.8M615.9 332.8h.8M607.7 328.6h.8M605.5 348.6h.8M632.5 347.6h.8M628.7 348.1h.8M639.6 364.8h.8M638.2 368.0h.8M630.8 360.1h.8M638.0 360.2h.8M639.9 344.3h.8M601.3 342.6h.8M628.5 338.6h.8M620.2 342.7h.8M618.5 359.0h.8M603.8 326.7h.8M630.0 351.1h.8M631.7 340.1h.8M614.8 337.9h.8M624.8 367.3h.8M633.7 371.3h.8M640.1 352.2h.8M622.1 358.5h.8M639.0 362.3h.8M609.9 333.1h.8M627.4 338.1h.8M641.3 351.5h.8M602.1 348.2h.8M607.1 353.2h.8M624.1 336.5h.8M602.8 346.7h.8M627.3 348.2h.8M601.3 328.7h.8M599.3 334.5h.8M608.2 329.6h.8M614.8 347.4h.8M630.3 347.2h.8M626.8 337.8h.8M603.2 334.0h.8M630.5 348.6h.8M607.6 329.3h.8M616.4 346.7h.8M627.8 363.5h.8M631.4 359.9h.8M618.9 362.1h.8M603.0 326.3h.8M619.4 347.9h.8M637.0 357.7h.8M609.7 335.2h.8M599.9 339.6h.8M638.2 364.8h.8M635.0 350.7h.8M640.5 363.9h.8M616.8 350.9h.8M626.4 354.6h.8M622.6 335.8h.8M602.0 327.2h.8M622.6 347.9h.8M633.1 351.9h.8M625.2 356.7h.8M599.9 340.9h.8M607.5 355.2h.8M613.9 335.2h.8M642.2 348.3h.8M632.7 340.6h.8M608.5 340.5h.8M622.1 335.5h.8M616.0 356.9h.8M619.4 354.2h.8M630.0 363.1h.8M620.1 334.5h.8M628.7 366.2h.8M639.8 356.5h.8M641.7 345.3h.8M623.5 352.7h.8M605.6 330.8h.8M615.5 332.4h.8M626.6 340.8h.8M619.7 340.9h.8M611.7 350.1h.8M599.9 325.5h.8M638.5 355.4h.8M600.2 330.2h.8M633.2 343.1h.8M601.4 335.6h.8M615.0 332.3h.8M624.3 338.8h.8M620.5 357.0h.8M630.9 350.7h.8M614.6 333.5h.8M632.8 343.7h.8M621.4 336.0h.8M628.5 339.1h.8M629.2 346.1h.8M642.3 345.7h.8M622.0 363.8h.8M599.5 324.9h.8M634.7 356.3h.8M639.9 370.7h.8M627.0 344.6h.8M630.6 342.8h.8M599.2 324.4h.8M615.8 335.1h.8M617.5 333.3h.8M624.7 351.6h.8M610.8 332.1h.8M616.5 346.3h.8M618.5 336.8h.8M636.7 348.7h.8M614.2 334.8h.8M619.0 351.9h.8M637.0 349.2h.8M629.0 366.6h.8M616.8 354.8h.8M613.5 334.2h.8M615.5 340.2h.8M609.3 345.4h.8M642.9 355.8h.8M619.1 347.0h.8M625.7 363.1h.8M638.6 365.1h.8M638.5 366.7h.8M607.4 329.3h.8M605.5 330.0h.8M605.5 336.0h.8M640.7 345.6h.8M619.3 334.3h.8M615.4 346.9h.8M623.7 347.1h.8M625.8 339.4h.8M628.6 364.2h.8M604.7 333.6h.8M627.3 356.0h.8M624.2 341.1h.8M643.1 363.0h.8M604.1 326.7h.8M623.1 345.9h.8M607.2 355.7h.8M630.1 363.8h.8M636.9 343.8h.8M613.0 351.9h.8M631.2 339.9h.8M603.4 350.8h.8M602.4 325.9h.8M642.9 347.6h.8M637.8 347.8h.8M614.2 343.4h.8M605.9 340.4h.8M642.5 375.2h.8M627.7 338.2h.8M643.0 368.8h.8M636.3 362.3h.8M627.4 339.5h.8M640.3 367.3h.8M602.3 338.9h.8M623.7 348.7h.8M624.5 355.5h.8M624.6 342.9h.8M637.4 363.2h.8M610.7 334.3h.8M618.5 360.3h.8M631.2 340.0h.8M631.8 343.6h.8M604.9 345.5h.8M634.6 342.4h.8M605.1 331.9h.8M608.8 332.0h.8M634.0 341.3h.8M632.3 340.5h.8M634.0 365.2h.8M637.4 344.2h.8M616.3 338.9h.8M637.7 371.5h.8M602.8 343.3h.8M634.2 368.7h.8M611.8 334.2h.8M608.2 349.7h.8M607.6 339.1h.8M642.6 369.3h.8M608.8 329.3h.8M606.1 341.5h.8M622.3 343.6h.8M628.5 354.3h.8M630.6 347.7h.8M635.4 342.8h.8M617.4 333.2h.8M619.6 336.4h.8M634.6 371.7h.8M632.5 346.5h.8M624.5 346.4h.8M614.7 358.6h.8M616.7 344.2h.8M606.5 344.2h.8M608.9 329.4h.8M630.8 339.8h.8M601.8 332.9h.8M627.9 365.6h.8M599.9 328.0h.8M614.7 336.4h.8M641.6 363.9h.8M640.7 352.2h.8M619.1 358.4h.8M627.3 356.5h.8M633.5 353.4h.8M622.3 335.6h.8M625.6 337.4h.8M622.8 335.9h.8M602.6 338.3h.8M609.2 329.3h.8M625.7 340.8h.8M635.2 341.9h.8M602.5 327.2h.8M631.2 340.0h.8M603.4 335.1h.8M640.2 359.2h.8M619.7 349.8h.8M641.9 345.1h.8M643.2 363.0h.8M619.4 334.2h.8M634.4 344.0h.8M620.2 334.6h.8M601.6 330.4h.8M622.2 357.6h.8M607.0 350.0h.8M628.7 356.3h.8M633.9 355.0h.8M603.1 330.4h.8M629.4 358.7h.8M608.6 337.9h.8M632.1 346.2h.8M604.8 353.2h.8M643.1 345.8h.8M620.4 349.8h.8M618.6 354.8h.8M639.0 374.4h.8M629.4 351.9h.8M629.6 368.5h.8M638.9 356.2h.8M618.6 363.3h.8M628.8 357.3h.8M603.4 334.4h.8M641.9 353.6h.8M621.9 349.1h.8M630.3 349.9h.8M632.9 345.2h.8M636.3 356.1h.8M626.7 361.0h.8M637.4 345.2h.8M635.6 347.8h.8M612.5 348.5h.8M621.5 341.8h.8M643.3 375.5h.8M603.6 326.5h.8M612.7 333.1h.8M622.0 342.2h.8M611.3 330.3h.8M624.6 341.0h.8M624.3 356.1h.8M610.3 346.0h.8M629.4 346.9h.8M625.2 356.0h.8M641.4 356.2h.8M630.0 347.9h.8M600.3 338.0h.8M636.7 359.5h.8M634.8 350.6h.8M602.0 348.5h.8M630.7 339.9h.8M607.6 344.3h.8M633.7 351.7h.8M640.8 365.9h.8M627.8 345.5h.8M613.8 350.3h.8M632.9 350.3h.8M605.5 353.7h.8M622.7 349.4h.8M606.9 330.1h.8M619.8 334.5h.8M640.2 345.3h.8M600.5 338.0h.8M640.9 344.6h.8M637.4 355.6h.8M622.0 346.9h.8M618.8 338.9h.8M610.6 330.9h.8M620.4 360.9h.8M605.9 353.9h.8M641.3 344.8h.8M636.1 346.2h.8M639.9 344.2h.8M623.9 337.4h.8M625.0 358.2h.8M629.0 363.0h.8M604.7 327.1h.8M608.0 354.1h.8M638.8 369.1h.8M640.5 369.7h.8M629.1 339.0h.8M610.8 344.9h.8M639.8 372.0h.8M605.6 334.5h.8M623.6 336.9h.8M624.5 342.1h.8M602.9 331.6h.8M606.3 329.8h.8M619.4 336.2h.8M608.8 338.6h.8M607.5 342.8h.8M614.6 345.9h.8M605.5 333.0h.8M636.3 343.5h.8M605.4 340.3h.8M612.4 333.2h.8M620.7 363.6h.8M625.8 337.8h.8M621.8 353.8h.8M613.6 351.5h.8M631.5 369.7h.8M605.1 341.0h.8M625.4 337.1h.8M634.7 372.4h.8M640.9 360.4h.8M625.9 361.3h.8M642.7 345.9h.8M615.9 332.5h.8M606.6 331.4h.8M625.4 346.9h.8M643.3 346.0h.8M604.7 327.4h.8M633.2 345.4h.8M601.1 325.5h.8M623.0 335.9h.8M628.2 338.5h.8M634.9 348.9h.8M601.6 337.4h.8M614.1 343.3h.8M617.4 340.4h.8M606.3 327.9h.8M632.1 362.9h.8M613.0 354.6h.8M619.1 334.7h.8M633.3 345.3h.8M619.6 334.5h.8M614.9 339.7h.8M606.8 341.9h.8M615.3 333.8h.8M612.3 342.9h.8M637.2 352.7h.8M625.6 344.3h.8M628.8 338.9h.8M601.6 325.8h.8M609.7 350.6h.8M618.9 340.6h.8M607.8 343.2h.8M609.9 356.4h.8M601.1 327.2h.8M637.8 345.2h.8M611.7 346.7h.8M633.9 345.6h.8M624.5 340.3h.8M634.7 343.9h.8M621.8 360.9h.8M606.5 354.2h.8M626.7 342.4h.8M614.0 354.2h.8M621.3 335.6h.8M632.9 342.1h.8M617.0 354.1h.8M626.1 338.4h.8M617.7 345.9h.8M603.2 337.1h.8M607.3 335.5h.8M604.0 326.9h.8M639.6 349.6h.8M640.5 344.5h.8M630.8 339.8h.8M625.0 366.5h.8M635.1 343.4h.8M603.6 336.9h.8M627.7 339.1h.8M618.1 337.5h.8M642.4 375.3h.8M603.8 342.2h.8M619.1 344.0h.8M604.2 352.3h.8M615.0 334.7h.8M642.3 345.4h.8M627.6 351.4h.8M602.9 339.0h.8M613.6 331.4h.8M635.3 355.7h.8M627.9 360.3h.8M630.9 343.2h.8M601.9 354.1h.8M635.9 364.4h.8M607.7 350.7h.8M600.1 326.2h.8M643.1 346.4h.8M638.7 356.3h.8M631.9 348.1h.8M625.4 337.2h.8M634.7 343.1h.8M603.4 344.1h.8M605.1 345.3h.8M627.6 350.3h.8M629.8 340.3h.8M633.2 350.5h.8M625.0 348.0h.8M612.6 357.7h.8M624.4 356.1h.8M642.1 347.0h.8M638.3 348.2h.8M607.7 343.7h.8M601.7 325.7h.8M623.3 342.5h.8M610.8 353.0h.8M616.2 352.3h.8M614.7 331.9h.8M610.2 331.6h.8M601.3 340.2h.8M627.8 345.5h.8M639.3 373.4h.8M612.5 339.9h.8M607.3 334.5h.8M629.7 340.9h.8M630.4 340.5h.8M628.9 347.1h.8M636.1 367.1h.8M600.8 328.7h.8M614.2 354.7h.8M627.5 352.1h.8M625.4 337.4h.8M617.7 333.8h.8M629.4 339.2h.8M640.3 346.4h.8M639.3 361.1h.8M608.0 331.2h.8M623.0 336.2h.8M605.2 335.3h.8M636.5 345.3h.8M631.3 345.7h.8M635.5 342.1h.8M630.1 368.6h.8M624.5 366.1h.8M640.4 344.9h.8M633.0 342.0h.8M639.2 346.7h.8M614.4 351.8h.8M606.4 353.2h.8M612.6 339.5h.8M614.7 352.9h.8M614.7 354.3h.8M637.4 353.4h.8M638.9 352.1h.8M626.6 351.1h.8M601.9 329.1h.8M624.6 336.7h.8M608.8 329.6h.8M603.3 336.0h.8M600.7 325.1h.8M637.2 369.3h.8M638.6 348.0h.8M627.3 359.0h.8M609.2 346.0h.8M603.7 338.6h.8M630.2 362.2h.8M603.5 331.1h.8M604.0 346.9h.8M606.0 347.5h.8M607.6 329.6h.8M637.0 368.2h.8M620.6 352.8h.8M618.0 335.3h.8M617.9 333.6h.8M604.6 334.2h.8M640.9 344.7h.8M600.1 332.9h.8M612.7 331.0h.8M636.0 355.9h.8M625.1 361.5h.8M600.4 338.6h.8M621.8 351.4h.8M603.6 328.8h.8M600.9 348.0h.8M619.7 346.1h.8M613.6 332.0h.8M617.9 349.1h.8M637.6 353.2h.8M603.5 333.7h.8M619.8 348.7h.8M606.7 330.7h.8M639.5 374.8h.8M620.6 349.7h.8M632.8 344.0h.8M613.6 332.3h.8M630.9 341.5h.8M623.1 356.9h.8M632.2 365.6h.8M606.9 354.7h.8M607.3 336.5h.8M638.2 351.9h.8M637.6 347.6h.8M610.4 343.9h.8M632.5 347.7h.8M635.4 360.2h.8M625.9 337.7h.8M613.7 334.5h.8M618.0 344.6h.8M623.9 336.4h.8M613.4 349.4h.8M636.1 352.1h.8M609.9 329.8h.8M622.7 354.2h.8M629.6 344.4h.8M616.1 349.1h.8M607.4 346.8h.8M627.4 338.1h.8M631.6 341.3h.8M633.4 341.0h.8M641.8 365.4h.8M632.1 352.3h.8M639.5 363.9h.8M631.2 340.0h.8M623.1 336.4h.8M638.5 343.9h.8M630.9 346.3h.8M623.7 336.7h.8M639.0 356.2h.8M613.7 344.3h.8M616.5 349.8h.8M640.2 344.3h.8M609.2 330.6h.8M603.7 327.1h.8M601.0 352.4h.8M612.0 349.5h.8M630.0 352.5h.8M607.3 330.8h.8M617.6 333.3h.8M612.6 357.8h.8M602.1 332.9h.8M611.1 330.3h.8M600.1 345.2h.8M623.3 362.2h.8M638.2 349.0h.8M615.9 339.7h.8" fill="none" stroke="#d28428" stroke-width="0.8"/>
<path d="M670.5 348.6h.8M663.8 343.8h.8M655.8 342.1h.8M667.7 343.4h.8M686.5 326.1h.8M664.5 359.1h.8M667.3 356.6h.8M685.5 335.2h.8M660.1 359.4h.8M647.4 361.3h.8M666.5 336.8h.8M666.3 336.3h.8M671.5 335.0h.8M650.0 357.3h.8M674.9 350.0h.8M643.5 346.1h.8M660.9 352.4h.8M658.1 338.9h.8M657.2 365.0h.8M652.0 360.2h.8M661.5 353.7h.8M680.3 329.9h.8M662.4 351.3h.8M655.1 361.0h.8M679.7 330.7h.8M652.4 341.6h.8M661.2 337.7h.8M655.3 344.1h.8M685.5 326.6h.8M661.1 338.8h.8M667.9 336.0h.8M652.9 342.1h.8M653.6 356.4h.8M669.0 335.4h.8M671.8 332.5h.8M643.5 348.2h.8M654.9 365.4h.8M674.7 333.1h.8M679.8 329.3h.8M668.3 335.0h.8M660.9 339.0h.8M650.9 364.9h.8M655.5 356.3h.8M675.3 335.9h.8M667.4 334.4h.8M654.7 346.5h.8M668.4 334.3h.8M663.9 336.1h.8M667.5 334.7h.8M644.2 350.6h.8M670.8 358.1h.8M681.2 341.9h.8M685.5 335.5h.8M658.6 338.6h.8M675.6 356.0h.8M653.5 341.0h.8M657.1 342.7h.8M659.8 338.2h.8M667.4 337.1h.8M681.7 344.7h.8M645.7 352.5h.8M677.8 329.6h.8M654.2 345.4h.8M681.2 333.3h.8M667.5 338.9h.8M651.9 371.5h.8M650.6 342.5h.8M651.2 369.7h.8M654.9 340.3h.8M670.5 352.6h.8M656.3 361.1h.8M647.1 356.3h.8M682.1 348.6h.8M651.8 341.9h.8M647.9 351.6h.8M647.3 349.3h.8M659.3 355.1h.8M680.9 335.4h.8M679.5 341.8h.8M661.4 337.5h.8M685.1 347.4h.8M678.3 351.9h.8M665.3 349.1h.8M676.7 330.1h.8M675.4 330.8h.8M645.1 369.9h.8M684.7 336.3h.8M659.3 338.9h.8M657.3 344.0h.8M683.7 328.3h.8M656.9 341.6h.8M674.4 339.8h.8M649.2 343.7h.8M656.2 357.1h.8M663.1 345.3h.8M668.6 338.5h.8M659.8 349.2h.8M652.8 356.6h.8M663.6 336.3h.8M677.5 333.7h.8M679.2 329.1h.8M652.3 350.4h.8M673.8 331.9h.8M646.7 367.6h.8M670.6 351.8h.8M668.8 337.1h.8M675.9 342.3h.8M685.6 334.2h.8M666.0 343.5h.8M646.8 358.8h.8M676.1 355.8h.8M663.0 336.5h.8M674.8 349.0h.8M685.4 326.0h.8M648.1 360.8h.8M651.7 343.4h.8M644.2 362.2h.8M643.6 346.8h.8M683.3 329.2h.8M648.2 343.5h.8M645.3 365.8h.8M668.9 336.8h.8M660.0 354.7h.8M660.5 337.7h.8M685.0 341.4h.8M679.9 334.3h.8M668.1 336.3h.8M649.4 355.3h.8M672.8 331.9h.8M646.4 372.3h.8M681.8 347.3h.8M664.0 350.5h.8M664.9 336.9h.8M656.0 361.9h.8M675.1 333.8h.8M644.0 345.5h.8M661.8 337.1h.8M645.5 362.9h.8M677.0 330.2h.8M664.7 346.8h.8M647.5 353.6h.8M669.1 334.5h.8M679.2 331.8h.8M659.7 361.7h.8M670.0 335.0h.8M677.7 336.3h.8M665.7 342.8h.8M661.7 339.8h.8M668.0 337.5h.8M683.8 326.7h.8M647.2 344.9h.8M676.4 343.1h.8M668.6 355.8h.8M681.2 328.2h.8M648.8 360.4h.8M677.7 344.7h.8M667.2 358.0h.8M681.2 332.5h.8M644.4 345.3h.8M679.3 346.8h.8M646.2 353.3h.8M659.2 349.0h.8M681.5 335.8h.8M670.4 354.5h.8M680.8 330.3h.8M682.8 346.9h.8M667.3 350.1h.8M673.6 343.0h.8M661.9 337.4h.8M686.1 327.3h.8M643.6 345.7h.8M644.4 345.5h.8M673.1 343.2h.8M649.3 343.7h.8M646.3 368.0h.8M672.3 349.8h.8M664.0 363.3h.8M678.7 337.0h.8M682.7 333.4h.8M663.3 352.9h.8M679.1 331.9h.8M685.5 335.0h.8M662.8 347.1h.8M667.0 353.9h.8M676.7 346.0h.8M662.5 341.2h.8M662.4 336.8h.8M645.3 346.5h.8M663.3 352.4h.8M644.6 345.2h.8M669.5 354.6h.8M645.5 355.9h.8M665.2 361.1h.8M677.7 330.4h.8M651.4 343.6h.8M674.5 337.1h.8M656.7 350.3h.8M645.0 363.5h.8M648.6 345.7h.8M673.8 339.8h.8M658.2 338.8h.8M669.1 338.0h.8M675.7 330.8h.8M645.7 344.7h.8M666.2 342.4h.8M674.9 341.7h.8M657.2 340.6h.8M684.5 338.5h.8M655.4 352.5h.8M671.9 341.0h.8M676.1 343.6h.8M667.9 340.6h.8M644.7 345.8h.8M654.3 366.4h.8M660.4 340.4h.8M648.3 365.4h.8M680.6 333.1h.8M650.6 364.2h.8M662.6 357.7h.8M680.4 348.8h.8M651.2 342.7h.8M674.8 331.6h.8M667.6 336.7h.8M655.5 341.7h.8M677.0 332.2h.8M663.5 336.3h.8M647.0 365.6h.8M654.8 346.7h.8M657.2 339.6h.8M670.7 356.0h.8M644.6 352.2h.8M666.6 334.8h.8M684.7 337.1h.8M643.4 349.3h.8M685.4 330.0h.8M682.4 330.5h.8M663.8 337.2h.8M662.0 346.7h.8M657.6 367.8h.8M649.9 364.2h.8M664.2 336.2h.8M646.8 344.6h.8M682.0 335.1h.8M685.1 344.7h.8M669.5 334.2h.8M681.1 334.0h.8M650.8 369.0h.8M682.9 327.8h.8M659.2 354.0h.8M646.1 369.6h.8M651.9 364.0h.8M675.3 339.9h.8M650.9 351.3h.8M646.3 346.0h.8M684.3 330.9h.8M656.4 352.6h.8M675.5 333.0h.8M654.9 346.6h.8M655.3 350.1h.8M662.5 358.8h.8M644.7 352.7h.8M651.3 342.0h.8M678.0 345.1h.8M682.9 337.6h.8M680.2 328.5h.8M681.3 340.6h.8M672.5 343.1h.8M654.4 341.6h.8M662.4 345.7h.8M670.3 338.4h.8M653.5 341.6h.8M670.8 333.3h.8M674.8 353.1h.8M685.3 349.8h.8M663.2 336.7h.8M654.3 344.8h.8M647.7 358.4h.8M683.0 327.3h.8M657.9 347.4h.8M649.2 351.4h.8M661.1 349.4h.8M684.0 339.4h.8M647.4 344.9h.8M671.7 348.0h.8M672.5 335.8h.8M659.4 356.6h.8M652.8 344.4h.8M672.6 341.9h.8M661.2 338.2h.8M660.3 337.8h.8M660.6 344.7h.8M680.3 344.9h.8M670.9 350.9h.8M656.6 339.6h.8M672.6 332.0h.8M675.8 335.0h.8M681.2 329.7h.8M662.6 357.9h.8M647.9 344.6h.8M644.8 350.6h.8M658.5 338.7h.8M672.6 343.4h.8M653.4 345.5h.8M668.3 346.3h.8M661.4 359.1h.8M646.6 344.5h.8M685.5 326.1h.8M678.2 329.9h.8M646.8 347.2h.8M647.5 343.8h.8M675.3 347.2h.8M671.1 338.3h.8M682.1 328.8h.8M645.0 366.5h.8M668.1 348.9h.8M670.1 333.2h.8M669.2 333.6h.8M652.9 348.0h.8M681.0 329.3h.8M661.3 341.2h.8M655.3 346.6h.8M685.3 329.3h.8M659.4 346.1h.8M644.9 345.1h.8M656.6 356.5h.8M672.1 334.0h.8M665.8 357.4h.8M648.0 360.3h.8M658.3 358.2h.8M677.7 351.1h.8M666.8 334.7h.8M662.7 341.8h.8M645.4 366.6h.8M651.5 347.7h.8M650.5 362.8h.8M651.9 354.0h.8M667.9 357.2h.8M666.2 355.2h.8M675.7 330.6h.8M660.0 358.6h.8M651.1 366.4h.8M653.6 340.9h.8M672.8 345.8h.8M657.1 346.2h.8M676.2 337.1h.8M677.9 353.3h.8M650.5 359.3h.8M647.1 344.3h.8M643.3 349.7h.8M658.1 342.4h.8M662.9 342.5h.8M662.4 346.0h.8M666.9 336.8h.8M663.0 350.9h.8M662.4 355.4h.8M685.1 326.1h.8M666.3 359.1h.8M675.9 333.0h.8M679.3 329.5h.8M644.5 345.2h.8M673.9 336.8h.8M666.7 335.0h.8M676.5 330.1h.8M647.9 350.3h.8M654.5 340.7h.8M671.9 332.3h.8M672.3 350.3h.8M669.0 349.6h.8M676.5 338.9h.8M679.6 335.1h.8M673.3 334.7h.8M658.3 338.7h.8M646.0 355.2h.8M664.4 337.5h.8M683.3 328.1h.8M684.3 326.9h.8M643.7 373.1h.8M681.5 337.1h.8M686.5 329.0h.8M667.9 335.1h.8M682.8 337.0h.8M686.6 326.3h.8M650.1 345.6h.8M665.9 352.4h.8M685.4 333.2h.8M684.2 328.2h.8M654.0 355.4h.8M650.0 345.6h.8M684.2 347.4h.8M661.3 350.1h.8M653.6 343.4h.8M664.9 337.8h.8M648.2 370.1h.8M678.6 334.5h.8M656.1 342.2h.8M668.5 353.6h.8M676.7 331.3h.8M657.8 353.0h.8M666.8 351.1h.8M681.0 330.3h.8M660.6 341.5h.8M652.7 348.6h.8M652.0 342.0h.8M643.6 361.1h.8M670.6 341.3h.8M645.1 356.6h.8M678.4 334.2h.8M647.7 373.0h.8M644.6 345.4h.8M649.7 342.8h.8M647.3 345.5h.8M675.6 345.4h.8M668.6 358.1h.8M678.4 341.5h.8M663.4 336.4h.8M664.9 347.1h.8M679.0 344.7h.8M666.7 334.8h.8M648.5 343.5h.8M651.9 354.5h.8M667.4 334.4h.8M674.7 344.1h.8M648.8 367.6h.8M653.5 361.6h.8M654.0 358.8h.8M669.0 334.4h.8M671.6 336.0h.8M670.9 333.9h.8M674.0 347.8h.8M675.2 354.0h.8M686.6 325.5h.8M667.1 358.9h.8M660.3 366.2h.8M658.7 344.2h.8M646.5 351.2h.8M654.8 364.1h.8M658.5 355.7h.8M681.0 328.0h.8M668.9 344.8h.8M676.2 336.2h.8M661.7 337.9h.8M663.6 358.3h.8M672.0 337.8h.8M673.6 343.5h.8M671.0 334.6h.8M648.0 364.8h.8M647.7 351.6h.8M662.5 357.1h.8M656.3 351.3h.8M681.6 336.0h.8M644.2 347.4h.8M676.8 344.5h.8M664.0 361.9h.8M681.5 334.6h.8M685.3 342.9h.8M657.4 355.5h.8M668.5 336.6h.8M674.4 332.6h.8M684.7 327.7h.8M652.8 353.5h.8M680.9 328.5h.8M660.3 349.8h.8M658.6 356.6h.8M668.5 338.7h.8M672.8 340.4h.8M644.9 347.1h.8M665.3 361.5h.8M657.0 368.3h.8M682.1 346.6h.8M680.0 331.6h.8M680.5 341.0h.8M666.2 348.3h.8M669.0 355.5h.8M676.3 330.3h.8M665.7 335.6h.8M650.9 343.0h.8M649.4 354.9h.8M657.1 341.7h.8M679.5 347.8h.8M684.5 327.6h.8M654.5 355.7h.8M685.1 335.2h.8M655.0 358.6h.8M645.3 356.3h.8M677.7 338.1h.8M663.5 352.7h.8M674.5 331.1h.8M644.1 364.0h.8M645.2 345.8h.8M660.3 364.9h.8M678.8 329.1h.8M663.5 355.7h.8M659.9 338.7h.8M671.5 332.6h.8M662.0 337.0h.8M661.3 363.0h.8M674.0 334.3h.8M683.3 332.4h.8M682.6 328.1h.8M676.6 330.9h.8M645.0 352.0h.8M659.3 354.1h.8M682.5 329.6h.8M682.2 327.5h.8M685.4 330.7h.8M686.6 325.4h.8M659.7 362.8h.8M670.6 334.8h.8M677.5 329.9h.8M660.6 338.3h.8M670.9 353.3h.8M671.2 347.8h.8M650.7 344.4h.8M682.1 327.5h.8M671.0 349.8h.8M675.7 331.6h.8M656.5 339.7h.8M652.0 341.7h.8M678.3 333.5h.8M650.6 368.8h.8M660.4 339.0h.8M658.5 363.8h.8M648.6 358.7h.8M652.0 341.9h.8M683.6 337.6h.8M675.3 333.1h.8M670.9 336.1h.8M654.6 340.6h.8M686.0 333.4h.8M679.1 337.6h.8M676.3 330.3h.8M645.3 352.4h.8M684.9 337.9h.8M674.5 351.6h.8M654.6 351.2h.8M645.8 344.9h.8M661.5 340.0h.8M662.3 354.8h.8M653.1 368.5h.8M664.0 341.5h.8M680.0 328.6h.8M648.5 364.6h.8M646.4 350.0h.8M673.9 356.3h.8M674.1 331.3h.8M675.7 332.2h.8M670.4 341.5h.8M683.4 349.0h.8M666.8 334.9h.8M662.0 363.2h.8M645.9 355.8h.8M686.0 328.0h.8M681.1 332.2h.8M660.4 341.3h.8M660.4 337.7h.8M672.5 356.6h.8M659.8 359.4h.8M645.8 355.8h.8M648.2 344.9h.8M679.0 332.0h.8M682.9 327.2h.8M666.8 343.6h.8M651.2 347.8h.8M670.8 355.2h.8M684.4 326.4h.8M663.3 341.9h.8M659.5 363.3h.8M645.2 349.7h.8M675.1 331.6h.8M656.0 340.8h.8M671.3 332.7h.8M665.9 354.4h.8M647.6 347.3h.8M666.6 334.8h.8M648.9 353.0h.8M682.2 331.7h.8M657.1 355.9h.8M645.6 345.0h.8M683.1 344.3h.8M669.0 337.8h.8M658.2 352.0h.8M682.4 342.7h.8M652.8 356.3h.8M663.9 349.1h.8M649.1 353.3h.8M673.9 341.2h.8M684.7 326.3h.8M667.1 357.5h.8M676.3 342.8h.8M662.7 349.9h.8M666.6 351.6h.8M669.9 334.6h.8M662.3 350.1h.8M657.1 355.3h.8M665.2 339.3h.8M648.9 370.6h.8M679.2 344.0h.8M656.4 339.7h.8M679.7 328.6h.8M651.7 352.9h.8M679.7 335.3h.8M681.0 340.6h.8M655.3 364.1h.8M680.6 332.8h.8M670.3 336.9h.8M680.7 334.8h.8M680.2 334.1h.8M646.9 371.9h.8M645.3 344.8h.8M669.4 349.4h.8M680.5 338.4h.8M684.9 340.4h.8M649.9 365.4h.8M658.2 339.8h.8M682.8 340.3h.8M653.7 362.0h.8M645.1 373.8h.8M665.9 347.0h.8M651.6 351.9h.8M670.0 335.8h.8M647.5 348.8h.8M678.2 330.3h.8M655.2 359.4h.8M662.6 355.3h.8M668.2 357.2h.8M676.5 330.3h.8M677.7 329.6h.8M678.0 332.7h.8M655.5 366.2h.8M655.4 350.9h.8M673.9 355.9h.8M681.0 342.8h.8M678.6 329.2h.8M684.0 328.7h.8M677.1 340.9h.8M681.9 334.5h.8M647.4 350.3h.8M657.1 347.1h.8M685.0 326.4h.8M655.7 363.5h.8M647.3 350.3h.8M656.4 346.0h.8M667.1 335.4h.8M657.9 338.9h.8M683.3 330.0h.8M670.6 332.9h.8M684.6 340.6h.8M644.7 362.5h.8M649.4 359.3h.8M676.1 339.8h.8M683.3 327.9h.8M645.4 351.4h.8M645.4 349.6h.8M677.2 349.6h.8M649.4 342.9h.8M657.3 360.6h.8M649.6 371.6h.8M656.5 340.1h.8M646.8 373.6h.8M663.9 337.0h.8M657.1 350.3h.8M661.6 365.3h.8M674.4 331.1h.8M674.6 348.9h.8M650.4 349.0h.8M665.1 340.3h.8M648.7 343.4h.8M662.5 355.3h.8M673.3 346.9h.8M668.6 334.4h.8M653.9 360.3h.8M659.7 348.8h.8M665.4 342.6h.8M672.1 341.0h.8M677.8 348.9h.8M653.9 343.7h.8M679.3 328.8h.8M684.2 330.4h.8M650.5 352.1h.8M651.4 355.5h.8M647.5 372.2h.8M643.4 364.2h.8M651.2 358.9h.8M658.5 339.1h.8M678.8 329.1h.8M653.2 342.4h.8M660.1 338.2h.8M685.1 327.7h.8M673.1 354.7h.8M672.8 350.8h.8M658.9 363.8h.8M671.2 336.9h.8M663.2 360.7h.8M671.2 354.4h.8M665.6 335.4h.8M659.0 345.3h.8M648.4 354.2h.8M652.1 341.6h.8M678.9 345.7h.8M655.4 341.9h.8M685.1 336.6h.8M662.1 337.5h.8M669.6 347.5h.8M672.0 337.4h.8M685.7 326.5h.8M657.6 340.5h.8M648.4 353.4h.8M661.8 337.1h.8M660.1 341.9h.8M666.5 358.8h.8M656.5 344.9h.8M669.2 338.8h.8M659.4 346.7h.8M670.8 346.3h.8M644.1 347.0h.8M657.4 352.0h.8M660.1 338.4h.8M653.1 355.6h.8M666.4 342.4h.8M648.3 368.7h.8M654.2 348.7h.8M675.0 335.2h.8M660.2 344.9h.8M655.0 343.7h.8M666.3 359.8h.8M679.7 334.4h.8M678.8 335.2h.8M674.5 331.1h.8M669.2 349.7h.8M648.5 364.7h.8M655.8 339.9h.8M678.6 351.0h.8M674.0 337.1h.8M673.7 331.4h.8M675.8 342.6h.8M678.4 340.3h.8M663.4 357.6h.8M646.5 344.3h.8M671.1 339.5h.8M661.6 357.8h.8M653.4 347.1h.8M665.4 335.9h.8M660.8 352.7h.8M686.6 326.6h.8M681.9 332.3h.8M650.1 342.6h.8M646.9 357.3h.8M672.6 343.1h.8M679.7 344.8h.8M654.2 357.0h.8M657.5 339.8h.8M684.5 328.3h.8M659.2 341.4h.8M646.8 346.6h.8M677.1 352.3h.8M684.7 342.8h.8M658.9 344.5h.8M646.4 347.8h.8M678.9 348.5h.8M682.0 328.3h.8M663.8 337.9h.8M670.0 333.4h.8M665.1 339.7h.8M648.2 355.6h.8M686.4 327.8h.8M671.1 353.8h.8M655.1 349.3h.8M644.9 359.2h.8M671.1 332.8h.8M664.3 337.5h.8M679.2 338.9h.8M657.6 342.7h.8M660.3 362.1h.8M647.9 357.1h.8M666.3 340.3h.8M653.8 358.4h.8M681.6 337.4h.8M678.1 353.6h.8M644.3 355.7h.8M656.5 346.3h.8M674.7 347.5h.8M665.0 345.4h.8M649.8 371.4h.8M662.6 355.7h.8M679.3 353.6h.8M667.0 359.1h.8M646.2 344.4h.8M644.2 356.3h.8M663.4 336.3h.8M669.0 351.0h.8M667.5 334.4h.8M649.3 345.9h.8M668.6 357.9h.8M656.7 352.5h.8M677.6 348.0h.8M674.1 343.8h.8M651.4 347.2h.8M682.5 328.5h.8M651.7 342.1h.8M663.9 344.7h.8" fill="none" stroke="#d28428" stroke-width="0.8"/>
<path d="M598.2,323.9 L643.3,345.8 L643.3,377.2 L601.0,356.7 Z" fill="url(#fadeLo)"/>
<path d="M643.3,345.8 L687.0,325.2 L685.7,349.9 L643.3,377.2 Z" fill="url(#fadeRo)"/>
<path d="M635.3 339.3h.8M649.3 323.4h.8M680.4 324.6h.8M635.2 314.7h.8M641.1 330.9h.8M642.4 329.9h.8M646.5 338.1h.8M643.7 314.3h.8M624.7 321.0h.8M674.7 330.3h.8M646.2 324.4h.8M650.5 319.9h.8M679.3 323.1h.8M634.3 328.1h.8M655.8 320.8h.8M624.0 335.9h.8M603.7 325.3h.8M653.3 315.1h.8M654.6 336.6h.8M657.4 319.7h.8M646.5 315.3h.8M631.2 338.1h.8M649.5 331.1h.8M627.0 324.0h.8M661.5 336.3h.8M635.3 340.0h.8M638.0 328.8h.8M660.8 335.4h.8M647.2 320.5h.8M609.8 328.0h.8M666.5 322.6h.8M668.1 330.7h.8M641.5 313.7h.8M636.6 317.2h.8M602.6 324.8h.8M634.6 337.7h.8M621.6 334.8h.8M648.0 317.7h.8M663.8 322.1h.8M633.1 320.8h.8M635.1 340.8h.8M655.7 316.7h.8M647.4 322.3h.8M645.3 343.2h.8M655.7 326.9h.8M640.0 331.0h.8M642.6 333.2h.8M634.5 327.7h.8M643.6 314.6h.8M640.0 337.1h.8M659.5 316.4h.8M630.5 318.0h.8M630.5 314.7h.8M654.8 320.3h.8M618.1 327.2h.8M658.4 328.4h.8M635.4 322.1h.8M659.1 317.4h.8M644.9 314.2h.8M641.7 340.3h.8M629.1 338.7h.8M635.5 334.3h.8M648.3 334.4h.8M661.9 323.4h.8M656.4 331.4h.8M632.7 322.5h.8M626.2 319.1h.8M648.6 331.4h.8M656.8 317.8h.8M659.0 320.3h.8M625.7 324.4h.8M637.5 321.5h.8M658.5 330.7h.8M679.8 324.1h.8M646.4 340.4h.8M626.8 322.6h.8M622.5 319.8h.8M667.7 324.4h.8M658.8 319.3h.8M646.4 323.1h.8M655.7 319.9h.8M668.0 327.6h.8M676.3 324.4h.8M614.5 322.5h.8M650.5 335.7h.8M642.3 329.3h.8M635.9 336.4h.8M647.6 338.6h.8M640.3 318.1h.8M640.0 342.6h.8M657.8 317.5h.8M630.0 317.7h.8M625.7 319.1h.8M667.4 323.5h.8M616.8 322.2h.8M616.5 327.0h.8M650.1 332.8h.8M648.7 320.4h.8M662.1 329.4h.8M675.9 329.8h.8M669.9 327.9h.8M675.7 322.7h.8M647.7 312.7h.8M605.4 323.9h.8M656.1 316.5h.8M640.6 329.9h.8M607.7 321.7h.8M643.0 325.2h.8M653.7 326.7h.8M608.8 324.1h.8M670.1 324.4h.8M652.2 332.2h.8M623.0 317.5h.8M668.8 333.3h.8M646.1 319.9h.8M644.7 344.6h.8M618.2 323.4h.8M657.7 329.3h.8M665.3 325.3h.8M674.9 324.3h.8M668.5 326.6h.8M665.0 330.7h.8M603.6 324.7h.8M603.9 322.5h.8M637.8 325.3h.8M631.6 336.8h.8M655.3 328.3h.8M656.3 323.7h.8M683.3 324.4h.8M662.5 331.3h.8M621.6 321.0h.8M613.5 327.6h.8M634.0 324.0h.8M682.5 326.4h.8M620.9 327.1h.8M659.6 334.5h.8M645.5 313.9h.8M643.2 327.3h.8M648.8 319.3h.8M629.1 333.1h.8M621.1 329.9h.8M656.9 315.7h.8M663.1 332.9h.8M639.9 317.2h.8M621.0 330.7h.8M627.1 337.0h.8M638.3 327.1h.8M609.6 329.0h.8M629.0 322.9h.8M639.7 340.3h.8M656.0 328.2h.8M675.0 326.9h.8M630.0 337.8h.8M646.9 314.2h.8M640.6 336.9h.8M635.9 329.6h.8M628.8 326.7h.8M632.9 326.8h.8M642.3 319.2h.8M618.4 331.6h.8M669.6 320.3h.8M622.8 325.3h.8M646.6 326.6h.8M655.5 319.3h.8M652.8 326.8h.8M625.5 332.9h.8M624.3 322.3h.8M638.1 329.5h.8M664.5 332.4h.8M644.8 342.6h.8M627.3 320.8h.8M624.4 330.9h.8M633.5 330.7h.8M661.2 325.6h.8M617.3 329.2h.8M662.9 331.5h.8M651.0 340.8h.8M637.1 338.8h.8M650.1 339.9h.8M669.7 325.3h.8M618.7 323.2h.8M667.9 330.9h.8M653.0 318.5h.8M662.7 336.6h.8M643.0 313.8h.8M654.0 316.3h.8M646.6 312.9h.8M656.2 334.0h.8M651.0 333.5h.8M655.2 332.4h.8M652.3 333.7h.8M636.4 341.3h.8M678.0 323.7h.8M638.6 327.8h.8M651.6 317.2h.8M613.4 322.5h.8M656.9 336.8h.8M645.4 324.4h.8M610.8 329.3h.8M620.7 330.3h.8M628.4 333.7h.8M643.9 333.1h.8M653.1 319.6h.8M661.8 320.7h.8M647.1 321.7h.8M649.1 333.4h.8M609.6 321.3h.8M645.9 317.2h.8M629.4 314.9h.8M677.4 322.3h.8M646.8 318.5h.8M606.9 326.7h.8M644.2 325.5h.8M658.9 337.1h.8M634.8 318.8h.8M680.3 327.0h.8M643.9 331.3h.8M615.2 321.4h.8M665.6 329.3h.8M631.9 326.3h.8M668.1 329.6h.8M653.2 331.4h.8M608.1 323.6h.8M637.7 320.3h.8M612.0 322.3h.8M645.0 327.4h.8M621.2 318.1h.8M637.9 323.2h.8M634.0 320.5h.8M618.9 321.0h.8M645.4 336.8h.8M614.4 330.5h.8M643.3 338.6h.8M652.9 314.7h.8M653.6 322.4h.8M618.9 320.2h.8M670.9 320.5h.8M652.9 315.8h.8M645.3 339.9h.8M645.5 314.8h.8M664.7 330.1h.8M609.6 325.4h.8M633.9 317.7h.8M638.0 331.0h.8M644.9 319.9h.8M604.6 325.9h.8M652.8 340.5h.8M610.7 320.5h.8M645.3 330.2h.8M670.4 320.3h.8M660.5 329.9h.8M613.2 323.7h.8M636.6 327.4h.8M624.1 317.8h.8M660.5 319.9h.8M638.3 335.8h.8M669.9 321.1h.8M639.7 316.2h.8M648.5 336.9h.8M644.0 343.6h.8M647.4 330.6h.8M682.6 324.8h.8M679.1 323.5h.8M637.3 319.2h.8M638.4 314.8h.8M668.8 328.4h.8M637.0 314.7h.8M643.7 334.9h.8M662.2 335.0h.8M662.2 326.3h.8M632.2 318.3h.8M650.2 338.7h.8M661.3 330.6h.8M684.4 325.3h.8M658.4 322.4h.8M624.2 322.8h.8M651.7 338.2h.8M617.2 319.2h.8M609.3 326.5h.8M637.5 313.4h.8M626.4 316.5h.8M651.3 323.8h.8M617.2 331.8h.8M669.3 323.2h.8M611.7 321.5h.8M654.7 335.1h.8M660.0 329.2h.8M620.9 321.2h.8M628.4 315.6h.8M639.6 325.0h.8M662.0 335.5h.8M637.8 340.0h.8M634.2 330.7h.8M632.9 319.7h.8M671.0 326.2h.8M654.3 318.1h.8M677.1 329.1h.8M646.9 340.4h.8M643.6 314.2h.8M656.0 327.7h.8" fill="none" stroke="#efb060" stroke-width="0.8" opacity="0.5"/>
<path d="M598.2,323.9 L643.3,310.8 L687.0,325.2 L685.7,349.9 L643.3,377.2 L601.0,356.7 Z M598.2,323.9 L643.3,345.8 L687,325.2 M643.3,345.8 L643.3,377.2" fill="none" stroke="#6a6e74" stroke-width="0.7"/>
<text x="320.7" y="241.9" font-size="12.5" text-anchor="start" fill="#111" ><tspan>C</tspan><tspan dy="2.75" font-size="8.50">2</tspan><tspan dy="-2.75">H</tspan><tspan dy="-5.50" font-size="11.00" style="stroke-width:0.5px">-</tspan></text>
<text x="321.3" y="317.2" font-size="12.5" text-anchor="start" fill="#111" ><tspan>LiF</tspan><tspan dy="2.75" font-size="8.50">2</tspan><tspan dy="-8.25" font-size="11.00" style="stroke-width:0.5px">-</tspan></text>
<text x="677.5" y="241.3" font-size="12.5" text-anchor="start" fill="#111" ><tspan>C</tspan><tspan dy="2.75" font-size="8.50">2</tspan><tspan dy="-2.75">H</tspan><tspan dy="-5.50" font-size="11.00" style="stroke-width:0.5px">-</tspan></text>
<text x="677.5" y="318.4" font-size="12.5" text-anchor="start" fill="#111" ><tspan>LiF</tspan><tspan dy="2.75" font-size="8.50">2</tspan><tspan dy="-8.25" font-size="11.00" style="stroke-width:0.5px">-</tspan></text>
<defs>
<radialGradient id="gDB" cx="0.4" cy="0.35" r="0.7"><stop offset="0" stop-color="#62b0ff"/><stop offset="0.4" stop-color="#3588ec"/><stop offset="0.85" stop-color="#1c68cf"/><stop offset="1" stop-color="#0f4fa8"/></radialGradient>
<radialGradient id="gLB" cx="0.4" cy="0.35" r="0.7"><stop offset="0" stop-color="#dcecfd"/><stop offset="0.45" stop-color="#afd1f6"/><stop offset="0.85" stop-color="#8ebcee"/><stop offset="1" stop-color="#70a3dc"/></radialGradient>
<linearGradient id="gLi2O" x1="0" y1="0" x2="1" y2="0"><stop offset="0" stop-color="#e8a800"/><stop offset="0.3" stop-color="#ffd430"/><stop offset="0.7" stop-color="#f5c000"/><stop offset="1" stop-color="#d09a00"/></linearGradient>
<linearGradient id="gCO3" x1="0" y1="0" x2="1" y2="0"><stop offset="0" stop-color="#e4cd8a"/><stop offset="0.35" stop-color="#fbf0c6"/><stop offset="0.7" stop-color="#f6e6b0"/><stop offset="1" stop-color="#dcc07a"/></linearGradient>
<linearGradient id="gLiF" x1="0" y1="0" x2="1" y2="0"><stop offset="0" stop-color="#e0c08a"/><stop offset="0.35" stop-color="#fbe7c4"/><stop offset="0.7" stop-color="#f3dab0"/><stop offset="1" stop-color="#d6b37c"/></linearGradient>
<linearGradient id="gLi3N" x1="0" y1="0" x2="1" y2="0"><stop offset="0" stop-color="#b8b8a0"/><stop offset="0.4" stop-color="#ecebdc"/><stop offset="1" stop-color="#a8a890"/></linearGradient>
<linearGradient id="gLi2S" x1="0" y1="0" x2="1" y2="0"><stop offset="0" stop-color="#a8b810"/><stop offset="0.4" stop-color="#dce048"/><stop offset="1" stop-color="#98a808"/></linearGradient>
<linearGradient id="gWedge" x1="0" y1="0" x2="1" y2="0"><stop offset="0" stop-color="#e8e8e8"/><stop offset="1" stop-color="#b4b4b4"/></linearGradient>
</defs>
<text x="55.9" y="415.7" font-size="12" text-anchor="start" fill="#111" ><tspan>BE</tspan></text>
<text x="98.3" y="427.8" font-size="10.6" text-anchor="start" fill="#111" ><tspan>SSIP</tspan></text>
<text x="63.8" y="570.9" font-size="10.7" text-anchor="start" fill="#111" ><tspan>Free solvent</tspan></text>
<rect x="278.5" y="407.7" width="49.69999999999999" height="184.8" fill="#000" opacity="0.3" filter="url(#sh2)"/>
<rect x="275.5" y="404.2" width="49.69999999999999" height="184.8" fill="url(#gMetal)" stroke="#eeeeee" stroke-width="0.8"/>
<text x="300.4" y="481.4" font-size="10.6" text-anchor="middle" fill="#111" ><tspan>Li</tspan></text>
<text x="300.4" y="494.79999999999995" font-size="10.6" text-anchor="middle" fill="#111" ><tspan>Metal</tspan></text>
<path d="M244.4,456.5 Q262,452.5 276,451.8 L276,469 Z" fill="url(#gWedge)"/>
<path d="M214.7,518.8 L276,508.4 L276,529.1 Z" fill="url(#gWedge)"/>
<g transform="rotate(0 266.3 429.9)"><path d="M0.12,0.1 C0.3,0.02 0.7,-0.02 0.9,0.02 C1.0,0.05 1.0,0.15 1.0,0.3 L1.0,0.85 C1.0,0.97 0.9,1 0.6,1 L0.3,1 C0.1,1 0.02,0.95 0.02,0.8 L0.0,0.3 C0.0,0.18 0.04,0.13 0.12,0.1 Z" transform="translate(259,408.2) scale(14.600000000000023,43.400000000000034)" fill="url(#gLi2O)" stroke="#c89600" stroke-width="0.0138"/></g>
<g transform="translate(270.1,429.9) rotate(-90)">
<text x="0" y="0" font-size="10.5" text-anchor="middle" fill="#111" ><tspan>Li</tspan><tspan dy="2.31" font-size="7.14">2</tspan><tspan dy="-2.31">O</tspan></text>
</g>
<g transform="rotate(0 247.6 429.2)"><path d="M0.55,0 C0.85,0 0.98,0.12 0.96,0.3 C0.94,0.45 0.88,0.55 0.96,0.72 C1.03,0.9 0.92,1 0.6,1 C0.28,1 0,0.98 0,0.78 C0,0.58 0.02,0.35 0.1,0.18 C0.17,0.05 0.33,0 0.55,0 Z" transform="translate(236.5,409.2) scale(22.100000000000023,40.10000000000002)" fill="url(#gCO3)" stroke="#cdb070" stroke-width="0.0150"/></g>
<g transform="translate(251.3,429.2) rotate(-90)">
<text x="0" y="0" font-size="10.5" text-anchor="middle" fill="#111" ><tspan>Li</tspan><tspan dy="2.31" font-size="7.14">2</tspan><tspan dy="-2.31">CO</tspan><tspan dy="2.31" font-size="7.14">3</tspan></text>
</g>
<path d="M0.12,0.12 C0.25,-0.05 0.45,0.05 0.55,0.18 C0.65,0.3 0.8,0.2 0.92,0.3 C1.02,0.4 0.98,0.58 0.85,0.65 C0.75,0.72 0.85,0.9 0.7,0.98 C0.55,1.04 0.45,0.88 0.3,0.85 C0.15,0.82 0.0,0.8 0.02,0.62 C0.03,0.48 0.2,0.45 0.15,0.32 C0.1,0.24 0.05,0.2 0.12,0.12 Z" transform="translate(204.4,408.9) scale(32.5,35.700000000000045)" fill="url(#gDB)" stroke="#1a5bb8" stroke-width="0.0224"/>
<path d="M0.3,0.03 C0.5,-0.02 0.7,0.08 0.85,0.12 C1.0,0.18 1.0,0.4 0.95,0.55 C0.9,0.72 1.0,0.95 0.75,0.99 C0.5,1.02 0.3,0.95 0.15,0.88 C0.0,0.8 -0.02,0.6 0.05,0.45 C0.1,0.32 0.05,0.1 0.3,0.03 Z" transform="translate(208.5,444) scale(31.0,35)" fill="url(#gLB)" stroke="#7aa9de" stroke-width="0.0229"/>
<path d="M0.12,0.12 C0.25,-0.05 0.45,0.05 0.55,0.18 C0.65,0.3 0.8,0.2 0.92,0.3 C1.02,0.4 0.98,0.58 0.85,0.65 C0.75,0.72 0.85,0.9 0.7,0.98 C0.55,1.04 0.45,0.88 0.3,0.85 C0.15,0.82 0.0,0.8 0.02,0.62 C0.03,0.48 0.2,0.45 0.15,0.32 C0.1,0.24 0.05,0.2 0.12,0.12 Z" transform="translate(259.3,453) scale(-30.80000000000001,27.5)" fill="url(#gDB)" stroke="#1a5bb8" stroke-width="0.0260"/>
<g transform="rotate(0 246.9 490.8)"><path d="M0.55,0 C0.85,0 0.98,0.12 0.96,0.3 C0.94,0.45 0.88,0.55 0.96,0.72 C1.03,0.9 0.92,1 0.6,1 C0.28,1 0,0.98 0,0.78 C0,0.58 0.02,0.35 0.1,0.18 C0.17,0.05 0.33,0 0.55,0 Z" transform="translate(235.5,471) scale(22.80000000000001,39.5)" fill="url(#gCO3)" stroke="#cdb070" stroke-width="0.0152"/></g>
<g transform="translate(250.7,490.8) rotate(-90)">
<text x="0" y="0" font-size="10.5" text-anchor="middle" fill="#111" ><tspan>Li</tspan><tspan dy="2.31" font-size="7.14">2</tspan><tspan dy="-2.31">CO</tspan><tspan dy="2.31" font-size="7.14">3</tspan></text>
</g>
<g transform="rotate(0 267.4 492.1)"><path d="M0.12,0.1 C0.3,0.02 0.7,-0.02 0.9,0.02 C1.0,0.05 1.0,0.15 1.0,0.3 L1.0,0.85 C1.0,0.97 0.9,1 0.6,1 L0.3,1 C0.1,1 0.02,0.95 0.02,0.8 L0.0,0.3 C0.0,0.18 0.04,0.13 0.12,0.1 Z" transform="translate(259.3,473.7) scale(16.19999999999999,36.80000000000001)" fill="url(#gLiF)" stroke="#c9a878" stroke-width="0.0163"/></g>
<g transform="translate(271.2,492.1) rotate(-90)">
<text x="0" y="0" font-size="10.5" text-anchor="middle" fill="#111" ><tspan>LiF</tspan></text>
</g>
<path d="M0.12,0.12 C0.25,-0.05 0.45,0.05 0.55,0.18 C0.65,0.3 0.8,0.2 0.92,0.3 C1.02,0.4 0.98,0.58 0.85,0.65 C0.75,0.72 0.85,0.9 0.7,0.98 C0.55,1.04 0.45,0.88 0.3,0.85 C0.15,0.82 0.0,0.8 0.02,0.62 C0.03,0.48 0.2,0.45 0.15,0.32 C0.1,0.24 0.05,0.2 0.12,0.12 Z" transform="translate(236.5,478.3) scale(-29.099999999999994,34.19999999999999)" fill="url(#gDB)" stroke="#1a5bb8" stroke-width="0.0234"/>
<g transform="translate(228.8,463.0) rotate(-90)">
<text x="0" y="0" font-size="10.5" text-anchor="middle" fill="#111" ><tspan>organic</tspan></text>
</g>
<path d="M0.3,0.03 C0.5,-0.02 0.7,0.08 0.85,0.12 C1.0,0.18 1.0,0.4 0.95,0.55 C0.9,0.72 1.0,0.95 0.75,0.99 C0.5,1.02 0.3,0.95 0.15,0.88 C0.0,0.8 -0.02,0.6 0.05,0.45 C0.1,0.32 0.05,0.1 0.3,0.03 Z" transform="translate(206.4,521.9) scale(31.099999999999994,29.0)" fill="url(#gLB)" stroke="#7aa9de" stroke-width="0.0257"/>
<path d="M0.3,0.03 C0.5,-0.02 0.7,0.08 0.85,0.12 C1.0,0.18 1.0,0.4 0.95,0.55 C0.9,0.72 1.0,0.95 0.75,0.99 C0.5,1.02 0.3,0.95 0.15,0.88 C0.0,0.8 -0.02,0.6 0.05,0.45 C0.1,0.32 0.05,0.1 0.3,0.03 Z" transform="translate(260.4,528.1) scale(-24.899999999999977,31.100000000000023)" fill="url(#gLB)" stroke="#7aa9de" stroke-width="0.0257"/>
<g transform="rotate(0 266.9 551.8)"><rect x="259.3" y="529.8" width="15.2" height="43.9" rx="5.8" fill="url(#gLi2O)" stroke="#c89600" stroke-width="0.6"/></g>
<g transform="translate(270.7,551.8) rotate(-90)">
<text x="0" y="0" font-size="10.5" text-anchor="middle" fill="#111" ><tspan>Li</tspan><tspan dy="2.31" font-size="7.14">2</tspan><tspan dy="-2.31">O</tspan></text>
</g>
<path d="M0.12,0.12 C0.25,-0.05 0.45,0.05 0.55,0.18 C0.65,0.3 0.8,0.2 0.92,0.3 C1.02,0.4 0.98,0.58 0.85,0.65 C0.75,0.72 0.85,0.9 0.7,0.98 C0.55,1.04 0.45,0.88 0.3,0.85 C0.15,0.82 0.0,0.8 0.02,0.62 C0.03,0.48 0.2,0.45 0.15,0.32 C0.1,0.24 0.05,0.2 0.12,0.12 Z" transform="translate(213.7,550.9) scale(30.100000000000023,30.100000000000023)" fill="url(#gDB)" stroke="#1a5bb8" stroke-width="0.0266"/>
<g transform="translate(233.3,547.0) rotate(-90)">
<text x="0" y="0" font-size="10.5" text-anchor="middle" fill="#111" ><tspan>organic</tspan></text>
</g>
<circle cx="165.8" cy="416.8" r="7.2" fill="#000" opacity="0.22" filter="url(#sh)"/>
<circle cx="164.8" cy="415.0" r="7.2" fill="url(#gY)"/>
<path d="M161.6,414.5h6.4" stroke="#1a1a1a" stroke-width="2"/>
<circle cx="62.4" cy="450.9" r="7.2" fill="#000" opacity="0.22" filter="url(#sh)"/>
<circle cx="61.4" cy="449.1" r="7.2" fill="url(#gY)"/>
<path d="M58.2,448.6h6.4" stroke="#1a1a1a" stroke-width="2"/>
<circle cx="116.9" cy="521.6" r="7.2" fill="#000" opacity="0.22" filter="url(#sh)"/>
<circle cx="115.9" cy="519.8" r="7.2" fill="url(#gY)"/>
<path d="M112.7,519.3h6.4" stroke="#1a1a1a" stroke-width="2"/>
<circle cx="135.5" cy="427.1" r="7.2" fill="#000" opacity="0.22" filter="url(#sh)"/>
<circle cx="134.5" cy="425.3" r="7.2" fill="url(#gB)"/>
<circle cx="119.3" cy="442.3" r="7.2" fill="#000" opacity="0.22" filter="url(#sh)"/>
<circle cx="118.3" cy="440.5" r="7.2" fill="url(#gB)"/>
<circle cx="150.3" cy="442.3" r="7.2" fill="#000" opacity="0.22" filter="url(#sh)"/>
<circle cx="149.3" cy="440.5" r="7.2" fill="url(#gB)"/>
<circle cx="134.8" cy="458.2" r="7.2" fill="#000" opacity="0.22" filter="url(#sh)"/>
<circle cx="133.8" cy="456.4" r="7.2" fill="url(#gB)"/>
<circle cx="134.8" cy="442.3" r="7.2" fill="#000" opacity="0.22" filter="url(#sh)"/>
<circle cx="133.8" cy="440.5" r="7.2" fill="url(#gR)"/>
<path d="M130.6,440.5h6.4M133.8,437.3v6.4" stroke="#fff" stroke-width="1.9"/>
<circle cx="96.9" cy="482.3" r="7.2" fill="#000" opacity="0.22" filter="url(#sh)"/>
<circle cx="95.9" cy="480.5" r="7.2" fill="url(#gB)"/>
<circle cx="140.7" cy="496.1" r="7.2" fill="#000" opacity="0.22" filter="url(#sh)"/>
<circle cx="139.7" cy="494.3" r="7.2" fill="url(#gB)"/>
<circle cx="59.6" cy="507.1" r="7.2" fill="#000" opacity="0.22" filter="url(#sh)"/>
<circle cx="58.6" cy="505.3" r="7.2" fill="url(#gB)"/>
<circle cx="106.9" cy="553.0" r="7.2" fill="#000" opacity="0.22" filter="url(#sh)"/>
<circle cx="105.9" cy="551.2" r="7.2" fill="url(#gB)"/>
<circle cx="159.6" cy="524.4" r="7.2" fill="#000" opacity="0.22" filter="url(#sh)"/>
<circle cx="158.6" cy="522.6" r="7.2" fill="url(#gB)"/>
<circle cx="143.4" cy="539.9" r="7.2" fill="#000" opacity="0.22" filter="url(#sh)"/>
<circle cx="142.4" cy="538.1" r="7.2" fill="url(#gB)"/>
<circle cx="175.8" cy="539.9" r="7.2" fill="#000" opacity="0.22" filter="url(#sh)"/>
<circle cx="174.8" cy="538.1" r="7.2" fill="url(#gB)"/>
<circle cx="159.6" cy="556.1" r="7.2" fill="#000" opacity="0.22" filter="url(#sh)"/>
<circle cx="158.6" cy="554.3" r="7.2" fill="url(#gB)"/>
<circle cx="159.6" cy="539.9" r="7.2" fill="#000" opacity="0.22" filter="url(#sh)"/>
<circle cx="158.6" cy="538.1" r="7.2" fill="url(#gR)"/>
<path d="M155.4,538.1h6.4M158.6,534.9v6.4" stroke="#fff" stroke-width="1.9"/>
<circle cx="186.5" cy="469.2" r="7.2" fill="#000" opacity="0.22" filter="url(#sh)"/>
<circle cx="185.5" cy="467.4" r="7.2" fill="url(#gB)"/>
<circle cx="202.0" cy="460.6" r="7.2" fill="#000" opacity="0.22" filter="url(#sh)"/>
<circle cx="201.0" cy="458.8" r="7.2" fill="url(#gB)"/>
<circle cx="186.5" cy="484.7" r="7.2" fill="#000" opacity="0.22" filter="url(#sh)"/>
<circle cx="185.5" cy="482.9" r="7.2" fill="url(#gB)"/>
<circle cx="201.3" cy="492.7" r="7.2" fill="#000" opacity="0.22" filter="url(#sh)"/>
<circle cx="200.3" cy="490.9" r="7.2" fill="url(#gB)"/>
<circle cx="201.3" cy="476.8" r="7.2" fill="#000" opacity="0.22" filter="url(#sh)"/>
<circle cx="200.3" cy="475.0" r="7.2" fill="url(#gR)"/>
<path d="M197.1,475.0h6.4M200.3,471.8v6.4" stroke="#fff" stroke-width="1.9"/>
<text x="407.2" y="416.4" font-size="12" text-anchor="start" fill="#111" ><tspan>TISE</tspan></text>
<text x="449.3" y="431.2" font-size="10.6" text-anchor="start" fill="#111" ><tspan>AGG</tspan></text>
<text x="449.3" y="503.6" font-size="10.7" text-anchor="start" fill="#111" ><tspan>CIP</tspan></text>
<rect x="645.8" y="407.4" width="50.0" height="184.20000000000005" fill="#000" opacity="0.3" filter="url(#sh2)"/>
<rect x="642.8" y="403.9" width="50.0" height="184.20000000000005" fill="url(#gMetal)" stroke="#eeeeee" stroke-width="0.8"/>
<text x="670.4" y="482.4" font-size="10.6" text-anchor="middle" fill="#111" ><tspan>Li</tspan></text>
<text x="670.4" y="495.8" font-size="10.6" text-anchor="middle" fill="#111" ><tspan>Metal</tspan></text>
<path d="M0.3,0.03 C0.5,-0.02 0.7,0.08 0.85,0.12 C1.0,0.18 1.0,0.4 0.95,0.55 C0.9,0.72 1.0,0.95 0.75,0.99 C0.5,1.02 0.3,0.95 0.15,0.88 C0.0,0.8 -0.02,0.6 0.05,0.45 C0.1,0.32 0.05,0.1 0.3,0.03 Z" transform="translate(598.5,411.5) scale(27.0,28.80000000000001)" fill="url(#gLB)" stroke="#7aa9de" stroke-width="0.0278"/>
<g transform="rotate(0 630.9 424.2)"><path d="M0.55,0 C0.85,0 0.98,0.12 0.96,0.3 C0.94,0.45 0.88,0.55 0.96,0.72 C1.03,0.9 0.92,1 0.6,1 C0.28,1 0,0.98 0,0.78 C0,0.58 0.02,0.35 0.1,0.18 C0.17,0.05 0.33,0 0.55,0 Z" transform="translate(620.1,443.7) scale(21.5,-38.89999999999998)" fill="url(#gCO3)" stroke="#cdb070" stroke-width="0.0154"/></g>
<g transform="translate(634.6,424.2) rotate(-90)">
<text x="0" y="0" font-size="10.5" text-anchor="middle" fill="#111" ><tspan>Li</tspan><tspan dy="2.31" font-size="7.14">2</tspan><tspan dy="-2.31">CO</tspan><tspan dy="2.31" font-size="7.14">3</tspan></text>
</g>
<path d="M0.12,0.12 C0.25,-0.05 0.45,0.05 0.55,0.18 C0.65,0.3 0.8,0.2 0.92,0.3 C1.02,0.4 0.98,0.58 0.85,0.65 C0.75,0.72 0.85,0.9 0.7,0.98 C0.55,1.04 0.45,0.88 0.3,0.85 C0.15,0.82 0.0,0.8 0.02,0.62 C0.03,0.48 0.2,0.45 0.15,0.32 C0.1,0.24 0.05,0.2 0.12,0.12 Z" transform="translate(601,436) scale(17.799999999999955,30.5)" fill="url(#gDB)" stroke="#1a5bb8" stroke-width="0.0262"/>
<g transform="translate(614.8,436.5) rotate(-90)">
<text x="0" y="0" font-size="10.5" text-anchor="middle" fill="#111" ><tspan>organic</tspan></text>
</g>
<g transform="rotate(0 633.8 464.4)"><path d="M0.12,0.1 C0.3,0.02 0.7,-0.02 0.9,0.02 C1.0,0.05 1.0,0.15 1.0,0.3 L1.0,0.85 C1.0,0.97 0.9,1 0.6,1 L0.3,1 C0.1,1 0.02,0.95 0.02,0.8 L0.0,0.3 C0.0,0.18 0.04,0.13 0.12,0.1 Z" transform="translate(626.4,445.4) scale(14.800000000000068,38.0)" fill="url(#gLiF)" stroke="#c9a878" stroke-width="0.0158"/></g>
<g transform="translate(639.0,464.4) rotate(-90)">
<text x="0" y="0" font-size="10.5" text-anchor="middle" fill="#111" ><tspan>LiF</tspan></text>
</g>
<g transform="rotate(4 622.3 458.1)"><path d="M0.12,0.1 C0.3,0.02 0.7,-0.02 0.9,0.02 C1.0,0.05 1.0,0.15 1.0,0.3 L1.0,0.85 C1.0,0.97 0.9,1 0.6,1 L0.3,1 C0.1,1 0.02,0.95 0.02,0.8 L0.0,0.3 C0.0,0.18 0.04,0.13 0.12,0.1 Z" transform="translate(615,437.8) scale(14.600000000000023,40.599999999999966)" fill="url(#gLi2O)" stroke="#c89600" stroke-width="0.0148"/></g>
<g transform="translate(625.3,458.1) rotate(-90)">
<text x="0" y="0" font-size="10.5" text-anchor="middle" fill="#111" ><tspan>Li</tspan><tspan dy="2.31" font-size="7.14">2</tspan><tspan dy="-2.31">O</tspan></text>
</g>
<path d="M0.3,0.03 C0.5,-0.02 0.7,0.08 0.85,0.12 C1.0,0.18 1.0,0.4 0.95,0.55 C0.9,0.72 1.0,0.95 0.75,0.99 C0.5,1.02 0.3,0.95 0.15,0.88 C0.0,0.8 -0.02,0.6 0.05,0.45 C0.1,0.32 0.05,0.1 0.3,0.03 Z" transform="translate(601.8,471.6) scale(29.700000000000045,28.399999999999977)" fill="url(#gLB)" stroke="#7aa9de" stroke-width="0.0269"/>
<g transform="rotate(0 635.5 497.2)"><rect x="629.5" y="480.9" width="12.1" height="32.7" rx="4.6" fill="url(#gLi2S)" stroke="#8a9a10" stroke-width="0.6"/></g>
<g transform="translate(639.1,497.2) rotate(-90)">
<text x="0" y="0" font-size="10" text-anchor="middle" fill="#111" ><tspan>Li</tspan><tspan dy="2.20" font-size="6.80">2</tspan><tspan dy="-2.20">S</tspan></text>
</g>
<g transform="rotate(0 609.3 516.6)"><path d="M0.12,0.1 C0.3,0.02 0.7,-0.02 0.9,0.02 C1.0,0.05 1.0,0.15 1.0,0.3 L1.0,0.85 C1.0,0.97 0.9,1 0.6,1 L0.3,1 C0.1,1 0.02,0.95 0.02,0.8 L0.0,0.3 C0.0,0.18 0.04,0.13 0.12,0.1 Z" transform="translate(601.5,496.7) scale(15.600000000000023,39.80000000000001)" fill="url(#gLiF)" stroke="#c9a878" stroke-width="0.0151"/></g>
<g transform="translate(613.1,516.6) rotate(-90)">
<text x="0" y="0" font-size="10.5" text-anchor="middle" fill="#111" ><tspan>LiF</tspan></text>
</g>
<g transform="rotate(0 621.3 518.5)"><rect x="615.4" y="501.4" width="11.8" height="34.2" rx="4.5" fill="url(#gLi3N)" stroke="#9a9a80" stroke-width="0.6"/></g>
<g transform="translate(624.9,518.5) rotate(-90)">
<text x="0" y="0" font-size="10" text-anchor="middle" fill="#111" ><tspan>Li</tspan><tspan dy="2.20" font-size="6.80">3</tspan><tspan dy="-2.20">N</tspan></text>
</g>
<g transform="rotate(0 634.2 535.2)"><rect x="626.9" y="513.6" width="14.7" height="43.2" rx="5.6" fill="url(#gLi2O)" stroke="#c89600" stroke-width="0.6"/></g>
<g transform="translate(638.0,535.2) rotate(-90)">
<text x="0" y="0" font-size="10.5" text-anchor="middle" fill="#111" ><tspan>Li</tspan><tspan dy="2.31" font-size="7.14">2</tspan><tspan dy="-2.31">O</tspan></text>
</g>
<path d="M0.12,0.12 C0.25,-0.05 0.45,0.05 0.55,0.18 C0.65,0.3 0.8,0.2 0.92,0.3 C1.02,0.4 0.98,0.58 0.85,0.65 C0.75,0.72 0.85,0.9 0.7,0.98 C0.55,1.04 0.45,0.88 0.3,0.85 C0.15,0.82 0.0,0.8 0.02,0.62 C0.03,0.48 0.2,0.45 0.15,0.32 C0.1,0.24 0.05,0.2 0.12,0.12 Z" transform="translate(598.8,534.8) scale(28.800000000000068,28.700000000000045)" fill="url(#gDB)" stroke="#1a5bb8" stroke-width="0.0278"/>
<path d="M0.3,0.03 C0.5,-0.02 0.7,0.08 0.85,0.12 C1.0,0.18 1.0,0.4 0.95,0.55 C0.9,0.72 1.0,0.95 0.75,0.99 C0.5,1.02 0.3,0.95 0.15,0.88 C0.0,0.8 -0.02,0.6 0.05,0.45 C0.1,0.32 0.05,0.1 0.3,0.03 Z" transform="translate(602.7,563.5) scale(25.299999999999955,26.299999999999955)" fill="url(#gLB)" stroke="#7aa9de" stroke-width="0.0304"/>
<g transform="rotate(0 635.2 572.4)"><path d="M0.12,0.1 C0.3,0.02 0.7,-0.02 0.9,0.02 C1.0,0.05 1.0,0.15 1.0,0.3 L1.0,0.85 C1.0,0.97 0.9,1 0.6,1 L0.3,1 C0.1,1 0.02,0.95 0.02,0.8 L0.0,0.3 C0.0,0.18 0.04,0.13 0.12,0.1 Z" transform="translate(628.9,555) scale(12.700000000000045,34.799999999999955)" fill="url(#gLiF)" stroke="#c9a878" stroke-width="0.0172"/></g>
<g transform="translate(639.0,572.4) rotate(-90)">
<text x="0" y="0" font-size="10.5" text-anchor="middle" fill="#111" ><tspan>LiF</tspan></text>
</g>
<g transform="translate(618.3,562.0) rotate(-90)">
<text x="0" y="0" font-size="10.5" text-anchor="middle" fill="#111" ><tspan>organic</tspan></text>
</g>
<path d="M395.2,458.1 L404.5,479.5" stroke="#f28a38" stroke-width="2.2" stroke-dasharray="2.2 2"/>
<path d="M409.7,542.6 L425.9,559.8" stroke="#f28a38" stroke-width="2.2" stroke-dasharray="2.2 2"/>
<path d="M539,435.7 L564.8,435.7" stroke="#f28a38" stroke-width="2.2" stroke-dasharray="2.2 2"/>
<path d="M545.2,557 L567.6,546.7" stroke="#f28a38" stroke-width="2.2" stroke-dasharray="2.2 2"/>
<circle cx="443.4" cy="441.6" r="7.2" fill="#000" opacity="0.22" filter="url(#sh)"/>
<circle cx="442.4" cy="439.8" r="7.2" fill="url(#gB)"/>
<circle cx="476.2" cy="442.7" r="7.2" fill="#000" opacity="0.22" filter="url(#sh)"/>
<circle cx="475.2" cy="440.9" r="7.2" fill="url(#gB)"/>
<circle cx="427.9" cy="457.8" r="7.2" fill="#000" opacity="0.22" filter="url(#sh)"/>
<circle cx="426.9" cy="456.0" r="7.2" fill="url(#gB)"/>
<circle cx="443.4" cy="473.4" r="7.2" fill="#000" opacity="0.22" filter="url(#sh)"/>
<circle cx="442.4" cy="471.6" r="7.2" fill="url(#gB)"/>
<circle cx="476.2" cy="473.4" r="7.2" fill="#000" opacity="0.22" filter="url(#sh)"/>
<circle cx="475.2" cy="471.6" r="7.2" fill="url(#gB)"/>
<circle cx="443.4" cy="457.8" r="7.2" fill="#000" opacity="0.22" filter="url(#sh)"/>
<circle cx="442.4" cy="456.0" r="7.2" fill="url(#gR)"/>
<path d="M439.2,456.0h6.4M442.4,452.8v6.4" stroke="#fff" stroke-width="1.9"/>
<circle cx="475.5" cy="457.8" r="7.2" fill="#000" opacity="0.22" filter="url(#sh)"/>
<circle cx="474.5" cy="456.0" r="7.2" fill="url(#gR)"/>
<path d="M471.3,456.0h6.4M474.5,452.8v6.4" stroke="#fff" stroke-width="1.9"/>
<circle cx="459.6" cy="457.8" r="7.2" fill="#000" opacity="0.22" filter="url(#sh)"/>
<circle cx="458.6" cy="456.0" r="7.2" fill="url(#gY)"/>
<path d="M455.4,455.5h6.4" stroke="#1a1a1a" stroke-width="2"/>
<circle cx="491.7" cy="457.8" r="7.2" fill="#000" opacity="0.22" filter="url(#sh)"/>
<circle cx="490.7" cy="456.0" r="7.2" fill="url(#gY)"/>
<path d="M487.5,455.5h6.4" stroke="#1a1a1a" stroke-width="2"/>
<circle cx="396.2" cy="459.9" r="7.2" fill="#000" opacity="0.22" filter="url(#sh)"/>
<circle cx="395.2" cy="458.1" r="7.2" fill="url(#gB)"/>
<circle cx="405.5" cy="481.3" r="7.2" fill="#000" opacity="0.22" filter="url(#sh)"/>
<circle cx="404.5" cy="479.5" r="7.2" fill="url(#gG)"/>
<circle cx="457.9" cy="516.5" r="7.2" fill="#000" opacity="0.22" filter="url(#sh)"/>
<circle cx="456.9" cy="514.7" r="7.2" fill="url(#gB)"/>
<circle cx="441.7" cy="532.3" r="7.2" fill="#000" opacity="0.22" filter="url(#sh)"/>
<circle cx="440.7" cy="530.5" r="7.2" fill="url(#gB)"/>
<circle cx="457.9" cy="547.8" r="7.2" fill="#000" opacity="0.22" filter="url(#sh)"/>
<circle cx="456.9" cy="546.0" r="7.2" fill="url(#gB)"/>
<circle cx="457.9" cy="532.3" r="7.2" fill="#000" opacity="0.22" filter="url(#sh)"/>
<circle cx="456.9" cy="530.5" r="7.2" fill="url(#gR)"/>
<path d="M453.7,530.5h6.4M456.9,527.3v6.4" stroke="#fff" stroke-width="1.9"/>
<circle cx="473.4" cy="531.3" r="7.2" fill="#000" opacity="0.22" filter="url(#sh)"/>
<circle cx="472.4" cy="529.5" r="7.2" fill="url(#gY)"/>
<path d="M469.2,529.0h6.4" stroke="#1a1a1a" stroke-width="2"/>
<circle cx="410.7" cy="544.4" r="7.2" fill="#000" opacity="0.22" filter="url(#sh)"/>
<circle cx="409.7" cy="542.6" r="7.2" fill="url(#gG)"/>
<circle cx="426.9" cy="561.6" r="7.2" fill="#000" opacity="0.22" filter="url(#sh)"/>
<circle cx="425.9" cy="559.8" r="7.2" fill="url(#gB)"/>
<circle cx="540.0" cy="437.5" r="7.2" fill="#000" opacity="0.22" filter="url(#sh)"/>
<circle cx="539.0" cy="435.7" r="7.2" fill="url(#gG)"/>
<circle cx="565.8" cy="437.5" r="7.2" fill="#000" opacity="0.22" filter="url(#sh)"/>
<circle cx="564.8" cy="435.7" r="7.2" fill="url(#gB)"/>
<circle cx="550.7" cy="486.5" r="7.2" fill="#000" opacity="0.22" filter="url(#sh)"/>
<circle cx="549.7" cy="484.7" r="7.2" fill="url(#gB)"/>
<circle cx="572.0" cy="482.3" r="7.2" fill="#000" opacity="0.22" filter="url(#sh)"/>
<circle cx="571.0" cy="480.5" r="7.2" fill="url(#gB)"/>
<circle cx="552.4" cy="507.1" r="7.2" fill="#000" opacity="0.22" filter="url(#sh)"/>
<circle cx="551.4" cy="505.3" r="7.2" fill="url(#gB)"/>
<circle cx="592.7" cy="493.4" r="7.2" fill="#000" opacity="0.22" filter="url(#sh)"/>
<circle cx="591.7" cy="491.6" r="7.2" fill="url(#gB)"/>
<circle cx="578.2" cy="519.2" r="7.2" fill="#000" opacity="0.22" filter="url(#sh)"/>
<circle cx="577.2" cy="517.4" r="7.2" fill="url(#gB)"/>
<circle cx="563.4" cy="496.1" r="7.2" fill="#000" opacity="0.22" filter="url(#sh)"/>
<circle cx="562.4" cy="494.3" r="7.2" fill="url(#gR)"/>
<path d="M559.2,494.3h6.4M562.4,491.1v6.4" stroke="#fff" stroke-width="1.9"/>
<circle cx="592.7" cy="508.9" r="7.2" fill="#000" opacity="0.22" filter="url(#sh)"/>
<circle cx="591.7" cy="507.1" r="7.2" fill="url(#gR)"/>
<path d="M588.5,507.1h6.4M591.7,503.9v6.4" stroke="#fff" stroke-width="1.9"/>
<circle cx="577.2" cy="503.0" r="7.2" fill="#000" opacity="0.22" filter="url(#sh)"/>
<circle cx="576.2" cy="501.2" r="7.2" fill="url(#gY)"/>
<path d="M573.0,500.7h6.4" stroke="#1a1a1a" stroke-width="2"/>
<circle cx="592.7" cy="525.1" r="7.2" fill="#000" opacity="0.22" filter="url(#sh)"/>
<circle cx="591.7" cy="523.3" r="7.2" fill="url(#gY)"/>
<path d="M588.5,522.8h6.4" stroke="#1a1a1a" stroke-width="2"/>
<circle cx="546.2" cy="558.8" r="7.2" fill="#000" opacity="0.22" filter="url(#sh)"/>
<circle cx="545.2" cy="557.0" r="7.2" fill="url(#gB)"/>
<circle cx="568.6" cy="548.5" r="7.2" fill="#000" opacity="0.22" filter="url(#sh)"/>
<circle cx="567.6" cy="546.7" r="7.2" fill="url(#gG)"/>
</g></svg></body></html>
